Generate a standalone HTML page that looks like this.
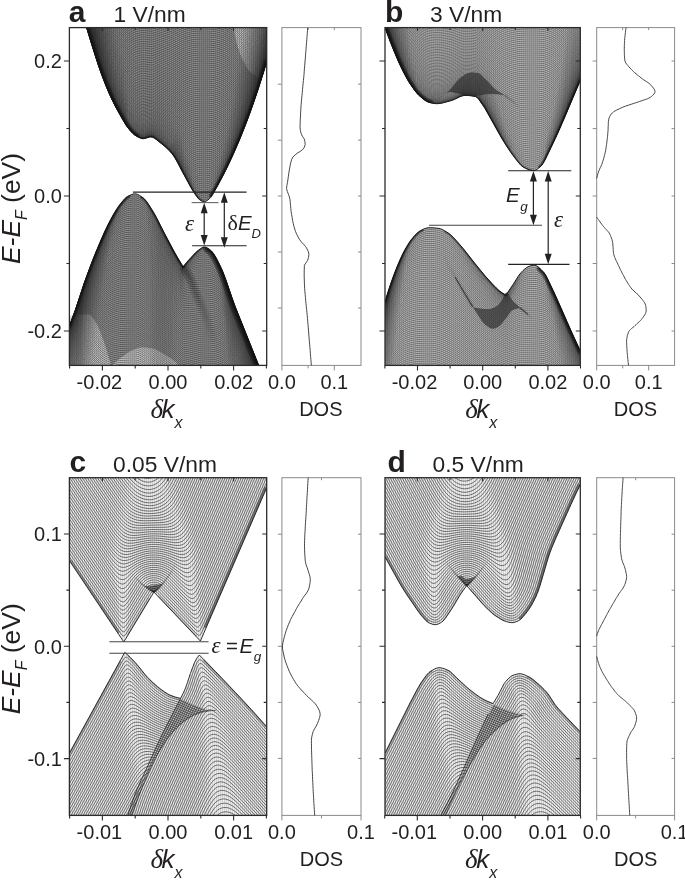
<!DOCTYPE html>
<html><head><meta charset="utf-8"><title>Band structure figure</title>
<style>html,body{margin:0;padding:0;background:#fff}svg{display:block}</style></head>
<body>
<svg width="685" height="880" viewBox="0 0 685 880" font-family="'Liberation Sans', Arial, sans-serif" fill="#231f20">
<defs><clipPath id="cpa"><rect x="69.4" y="27.6" width="197.3" height="337.8"/></clipPath><clipPath id="cpb"><rect x="385.0" y="27.6" width="195.3" height="337.8"/></clipPath><clipPath id="cpc"><rect x="69.4" y="477.7" width="197.3" height="337.7"/></clipPath><clipPath id="cpd"><rect x="385.0" y="477.7" width="195.3" height="337.7"/></clipPath><clipPath id="bp_a_up"><path d="M86.6,27.6L91.6,44 98.6,66 102.6,77.2 106.6,87.4 110.6,96.7 115.6,106.9 122.6,119.5 126.6,126.1 129.6,129.9 132.6,133.2 134.6,135 137.6,136.8 140.6,138.2 141.6,138.5 143.2,138.7 144.6,138.5 149.6,137 150.8,136.9 152.6,137.2 154.6,138.3 156.6,139.7 164.6,146.2 167.6,148.9 169.6,150.9 172.1,153.8 174.6,157.3 177.6,162.6 182.6,172.2 190.6,186.9 192.6,190.4 194.6,193.5 196.6,196.4 198.6,198.9 199.6,199.7 201.6,201 202.6,201.5 203.6,201.7 204.6,201.8 205.6,201.5 207.6,200.3 209.7,198.5 210.6,197.6 212.6,194.7 218.6,184 223.6,174.5 228.6,164.4 233.6,153.5 238.6,142 242.6,132.2 246.6,121.9 250.6,111.1 254.6,99.7 258.6,87.7 262.6,75.2 266.7,61.6 266.7,27.6 86.6,27.6Z"/></clipPath><clipPath id="bp_a_lo"><path d="M69.4,325.7L72.4,318 75.4,309.9 84.4,282.5 91.4,263.5 95.4,253.4 100.4,241.4 104.4,232.3 108.4,223.9 113.4,214.5 117.4,207.9 120.3,203.9 124.4,199.1 126.4,197.2 127.4,196.5 131.4,194.6 133.4,194 134.4,193.8 135.4,193.8 136.4,194 137.4,194.3 139.4,195.3 143.4,198 144.4,198.9 146.4,201.2 149.4,205.6 153.4,212 156.4,217.3 164.4,233.2 174.4,252 178.4,258.9 183.1,266.7 188.4,260.4 195.4,252.8 197.4,251 200.4,248.8 202.4,247.5 203.4,247.1 204.4,247 205.4,247.1 207.4,248 209.4,249.3 211.4,250.9 213.4,253.3 215.4,256.4 217.4,260.1 221.4,268.3 223.4,273 226.4,281.2 232.4,299 234.8,305.6 258.7,365.4 258.7,365.4 69.4,365.4Z"/></clipPath><clipPath id="bp_b_up"><path d="M385,27.6L390,41 395,53.5 399,62.8 403,71.2 407,78.8 410,83.8 415,90.9 417,93.4 419,95.5 424,99.7 427,101.6 429,102.4 431,102.9 434,103.5 436,103.7 439,103.6 442,103.1 451,100.7 454,99.6 460,96.7 462,96 464,95.5 467,95.4 471,95.8 475.5,96.6 476,96.8 477,97.4 478,98.4 479,99.6 485,108.4 502,138.8 508,148.3 512,154.1 518,162 521,165.4 523,166.9 525,168 528,169.4 530,170.1 532,170.5 534,170.5 535,170.3 537,169.3 539,167.8 541,166.1 542,165 544,161.9 546,158.1 553,143.5 558,132.7 565,116.6 573,97.4 580.3,80.4 580.3,27.6 385,27.6Z"/></clipPath><clipPath id="bp_b_lo"><path d="M385,301.9L388,291.9 391,282.9 394,274.5 397.6,265.4 401,257.5 404,251.3 408,244.4 411,239.9 415,235.2 418,232.3 420,230.9 424,228.9 427,227.9 429,227.7 434,227.9 439,228.4 441,229 443,229.9 447.9,232.8 450,234.3 453,237.1 456,240.3 463,248.3 474,262.3 481,270.9 486,276.9 492,283.5 496,287.7 499,290.5 502,292.8 505.9,295.1 513.2,284.3 519,275.1 521,272.7 523,270.6 525,268.8 527,267.3 528,266.8 531,265.7 533,265.3 534,265.2 535,265.3 536,265.6 537,266.1 539,267.6 541,269.5 544,272.6 546,275.6 548,279.5 556,296.6 572,332.9 580.3,350.9 580.3,365.4 385,365.4Z"/></clipPath><clipPath id="bp_c_up"><path d="M69.4,560.6L123.8,642 153.9,592 200.4,641 266.7,487.7 266.7,477.7 69.4,477.7Z"/></clipPath><clipPath id="bp_d_up"><path d="M385,556.8L399,582.1 402.6,588.2 407,595 418,611.1 421,615.1 426,620.7 428,622.3 429,622.9 431,623.7 433,624.4 435,624.7 436,624.7 437,624.4 439,623.7 441.6,622.2 443,621.1 445,618.8 447,616 452,608.5 460,595.1 463,590.7 466.7,585.7 484,605.5 490,611.3 493,614 495,615.5 501,619.3 503,620.4 505.7,621.4 509,622.3 511.9,622.7 514,622.4 516,621.8 518.2,620.9 520,619.8 522,617.9 526,613.2 529,609.1 531,606 533,602.5 535.8,597 538,591.6 540,585.7 548,558.5 550,552.5 552,547.3 556,537.8 571,504.4 576,493.6 580.3,484.7 580.3,477.7 385,477.7Z"/></clipPath><clipPath id="c_lo_A"><path d="M69.4,753.1L124.8,652.3 130.4,657.5 135.4,662.7 138.4,666.2 145.4,674.9 147.4,677.2 150.4,680.2 154.4,684 158.4,687.4 163.4,691.1 166.4,693.1 169.4,694.8 171.4,695.6 179.4,697.9 181.4,698.6 184.4,699.9 192.4,703.8 200.4,706.8 204.4,708.1 209.4,709.3 214.4,710.3 218.3,710.9 215.8,710.4 205.7,711.4 193.2,715.4 180.6,724.2 168,738 155.5,758.1 142.9,785.8 131.6,815.4 69.4,815.4Z"/></clipPath><clipPath id="c_lo_C"><path d="M127.8,815.4L130.8,806.1 133.8,797.5 135.8,792.3 138.8,785.2 146.8,768.1 156.8,745.9 160.8,737.4 183.8,691.9 185.6,687.8 186.8,684.5 189.8,675.3 193.8,664.3 194.8,662 196.8,658.3 197.8,656.8 199.3,655 214.8,670.8 234.8,691.7 251.8,710.1 266.7,726.7 266.7,815.4 127.8,815.4Z"/></clipPath><clipPath id="bp_c_lo"><path d="M69.4,753.1L124.8,652.3 130.4,657.5 135.4,662.7 138.4,666.2 144.4,673.7 147.4,677.2 152.4,682.1 157.4,686.6 160.4,688.9 164.4,691.8 167.4,693.7 169.4,694.8 172.4,696 175.4,697.1 178.4,697.9 180.6,698.3 183.4,692.9 185.6,687.8 187.4,682.7 190.4,673.5 194.4,662.9 195.4,660.8 196.4,659 197.4,657.4 199.3,655 205.4,661.1 215.4,671.4 235.4,692.4 251.4,709.6 266.7,726.7 266.7,815.4 69.4,815.4Z"/></clipPath><clipPath id="d_lo_A"><path d="M385,753.1L410,703 417,689.7 420,684.4 422,681.3 425,677.1 427,674.6 429,672.5 430.3,671.5 434,669.3 436,668.3 437,668 439.1,667.7 442,668.1 445,669 449,670.8 450,671.4 452,673.2 457,678.2 469,689.1 474,693 478,696 481,697.9 484,699.6 503,708.1 511,710.9 516,712.4 520,713.3 526,714.3 530.8,714.9 523.2,715.6 510.7,719.2 498.1,728 485.6,740.6 475.5,755.6 465.5,773.2 455.4,793.3 445.4,815.4 385,815.4Z"/></clipPath><clipPath id="d_lo_C"><path d="M440.8,815.4L447.8,802.3 454.8,787.9 463.8,768.2 480.5,730.5 492.8,704.2 494.8,700.7 498.1,695.3 502.8,686.1 504.8,682.7 506.8,680.3 508.8,678.2 510.8,676.5 511.8,675.9 512.8,675.4 514.8,674.6 517.8,673.9 519.8,673.7 521.8,673.9 524.8,674.9 528.8,676.7 530.8,677.9 533.8,680.1 540.8,686.2 543.8,689.1 545.8,691.3 548.8,695 554.8,704.2 557.8,708 561.8,712.4 580.3,731.8 580.3,815.4 440.8,815.4Z"/></clipPath><clipPath id="bp_d_lo"><path d="M385,753.1L410,703 417,689.7 421,682.8 426,675.8 428,673.5 429,672.5 430.3,671.5 434,669.3 436,668.3 438,667.8 440,667.7 443,668.3 446,669.4 449,670.8 450,671.4 452,673.2 457,678.2 467,687.4 470,689.9 476,694.5 480,697.3 484,699.6 489,702 493.1,703.6 498.1,695.3 504,683.9 505,682.4 506,681.2 508,679 510,677.1 512,675.7 513,675.3 516,674.3 519,673.7 520,673.7 522,674 524,674.6 526,675.5 530,677.4 533,679.5 540,685.5 544,689.4 546,691.5 548,693.9 550,696.8 554,703.1 555.7,705.4 558,708.2 562,712.6 580.3,731.8 580.3,815.4 385,815.4Z"/></clipPath></defs>
<rect width="685" height="880" fill="#fff"/>
<g clip-path="url(#cpa)">
<path d="M86.6,27.6L91.6,44 98.6,66 102.6,77.2 106.6,87.4 110.6,96.7 115.6,106.9 122.6,119.5 126.6,126.1 129.6,129.9 132.6,133.2 134.6,135 137.6,136.8 140.6,138.2 141.6,138.5 143.2,138.7 144.6,138.5 149.6,137 150.8,136.9 152.6,137.2 154.6,138.3 156.6,139.7 164.6,146.2 167.6,148.9 169.6,150.9 172.1,153.8 174.6,157.3 177.6,162.6 182.6,172.2 190.6,186.9 192.6,190.4 194.6,193.5 196.6,196.4 198.6,198.9 199.6,199.7 201.6,201 202.6,201.5 203.6,201.7 204.6,201.8 205.6,201.5 207.6,200.3 209.7,198.5 210.6,197.6 212.6,194.7 218.6,184 223.6,174.5 228.6,164.4 233.6,153.5 238.6,142 242.6,132.2 246.6,121.9 250.6,111.1 254.6,99.7 258.6,87.7 262.6,75.2 266.7,61.6 266.7,27.6 86.6,27.6Z" fill="#a0a0a0"/>
<path d="M233.6,27.6L233.9,29.5 234.2,31.3 234.6,33.1 234.9,35 235.3,36.8 235.7,38.6 236.2,40.5 236.6,42.3 237.1,44.1 237.6,45.9 238.1,47.7 238.7,49.5 239.3,51.3 239.9,53 240.5,54.8 241.2,56.5 242,58.3 242.8,60 243.6,61.7 244.5,63.3 245.4,64.9 246.3,66.6 247.3,68.3 248.4,69.9 249.6,71.3 250.8,72.6 252.2,73.8 253.8,74.8 255.5,75.8 257.2,76.5 259.1,77.2 260.6,77.4 261.7,76.9 262.8,75.8 263.7,74.2 264.6,72.2 265.3,70 265.9,67.7 266.4,65.4 266.6,63.3 266.7,61.3 266.7,59.5 266.7,57.7 266.7,55.9 266.7,54.1 266.7,52.3 266.7,50.4 266.7,48.6 266.7,46.7 266.7,44.8 266.7,43 266.7,41.1 266.7,39.2 266.7,37.3 266.7,35.4 266.7,33.4 266.7,31.5 266.7,29.6 266.7,27.6Z" fill="#dedede"/>
<path d="M86.6 27.5l5 16.5 7 22 4 11.1 4 10.3 4 9.2 5 10.2 7 12.6 4 6.6 3 3.8 3 3.3 2 1.7 3 1.8 3 1.5 2.6 .5 1.4-.2 5-1.5 1.2-.1 1.8 .3 2 1 2 1.5 8 6.4 3 2.7 4.5 4.9 2.5 3.5 3 5.3 5 9.5 7 12.7 4 6.7 3 4.1 2 2.2 3 1.7 2 .5 2-.1 1-.4 2-1.2 2-1.6 2-2.7 5-8.5 5-9.2 5-9.9 5-10.6 5-11.4 4-9.6 5-12.8 4-10.8 8-23.3 8.1-26.2M86.6 27.5l5 16.4 7 22 4 11.1 4 10.2 4 9.3 5 10.1 7 12.6 4 6.6 3 3.8 3 3.3 2 1.7 3 1.8 3 1.5 2.6 .4 1.4-.1 5-1.5 1.2-.1 1.8 .3 2 1 2 1.5 8 6.4 3 2.7 4.5 4.8 2.5 3.6 2 3.3 7 13.2 6 10.6 4 6.4 3 3.8 2 1.9 2 1 2 .6 2 .2 1-.2 2-.7 3-1.9 2-2.4 4-6.3 5-8.9 4-7.7 5-10.2 5-11 5-11.8 5-12.5 4-10.7 9-26.1 8.1-26.1M86.6 27.4l5 16.4 7 21.9 4 11.2 4 10.2 4 9.2 5 10.2 7 12.5 4 6.6 3 3.8 3 3.3 2 1.7 3 1.8 3 1.4 2.6 .5 1.4-.2 5-1.5 1.2-.1 1.8 .3 3 1.7 11 9 5 5.1 3 4.1 3 5.1 6 11.2 5 8.7 3 4.9 2 2.9 3 3.4 2 1.7 2 .8 2 .6 2 .1 3-.7 3-1.7 2-2.1 4-5.9 4-6.8 5-9.3 5-10.2 5-10.9 5-11.7 5-12.5 4-10.7 5-14.1 4-11.9 8.1-26.1M86.6 27.2l5 16.4 7 22 4 11.1 4 10.2 4 9.2 5 10.1 7 12.6 4 6.5 3 3.8 3 3.3 2 1.7 3 1.8 3 1.4 2.6 .5 1.4-.2 5-1.5 1.2-.1 1.8 .3 3 1.7 11 8.9 5 5.1 3 4 3 5.1 6 11 6 10.2 3 4.4 2 2.4 3 2.9 2 1.1 3 .7 2 .1 3-.6 3-1.4 2-1.9 4-5.6 4-6.5 5-9.1 5-10.1 5-10.8 4-9.2 5-12.3 4-10.5 5-13.9 4-11.8 5-15.5 4.1-13.5M86.6 27.1l5 16.4 7 21.9 4 11.1 4 10.2 4 9.2 5 10.1 7 12.5 4 6.5 3 3.8 3 3.2 2 1.7 3 1.8 3 1.4 2.6 .5 1.4-.2 5-1.5 1.2-.1 1.8 .3 3 1.7 11 8.8 5 5.1 3 4 3 5.1 6 10.8 6 9.8 3 4.2 2 2.3 3 2.5 2 1 2 .5 3 .2 3-.5 3-1.2 2-1.8 3-3.7 4-6.1 4-6.8 5-9.5 5-10.4 5-11.3 5-12.1 4-10.2 5-13.7 5-14.6 5-15.5 4.1-13.5M86.6 26.9l5 16.4 7 21.9 4 11.1 4 10.1 4 9.2 5 10.1 7 12.4 4 6.5 3 3.8 3 3.2 2 1.7 3 1.8 3 1.4 2.6 .4 1.4-.1 5-1.5 1.2-.1 1.8 .3 3 1.7 10 7.9 4 3.7 4 4.7 3 4.7 7 12.3 5 8 3 4.3 2 2.3 3 2.7 2 1.1 3 .8 2 .2 2 0 3-.7 2-.8 1-.7 2-2 3-3.7 4-6 4-6.9 5-9.5 5-10.5 5-11.3 5-12.1 4-10.4 5-13.8 4-11.7 5-15.6 4.1-13.4M86.6 26.7l5 16.4 7 21.8 4 11.1 4 10.2 4 9.1 5 10 7 12.5 4 6.4 3 3.7 3 3.3 2 1.6 3 1.8 3 1.4 2.6 .4 1.4-.1 5-1.5 1.2-.1 1.8 .3 3 1.7 10 7.8 4 3.7 4 4.6 3 4.7 7 12.1 5 7.7 3 4.1 2 2.2 3 2.4 2 1.1 2 .5 3 .3 3-.2 2-.4 2-.8 2-1.4 3-3.2 4-5.5 4-6.5 5-9.1 4-8 5-10.9 5-11.7 5-12.7 5-13.5 5-14.5 5-15.5 4.1-13.5M86.6 26.5l5 16.4 7 21.8 4 11 4 10.1 4 9.2 5 10 7 12.3 4 6.4 3 3.7 3 3.2 2 1.7 3 1.8 3 1.3 2.6 .5 1.4-.1 5-1.5 1.2-.1 1.8 .3 3 1.7 10 7.7 4 3.7 4 4.5 3 4.6 7 11.9 5 7.4 3 3.9 2 2 3 2.3 2 .9 2 .5 3.6 .4 3.4-.4 3-.9 1-.6 2-1.6 3-3.4 4-5.4 4-6.5 4-7.2 4-7.9 5-10.8 5-11.6 5-12.6 5-13.5 5-14.5 5-15.4 4.1-13.4M86.6 26.3l5 16.3 7 21.8 4 11 4 10.1 4 9.1 5 9.9 7 12.4 4 6.3 3 3.7 3 3.2 2 1.7 3 1.7 3 1.3 2.6 .5 1.4-.1 5-1.5 1.2-.1 1.8 .3 3 1.7 10 7.6 4 3.6 4 4.6 3 4.4 7 11.7 4 5.7 3 4 2 2.1 2 1.7 3 1.8 2 .7 4 .5 3-.2 4-1 2-1.2 3-2.9 4-4.9 4-6 5-8.7 4-7.8 5-10.6 5-11.6 5-12.5 5-13.4 5-14.4 5-15.4 4.1-13.4M86.6 26l5 16.3 7 21.7 4 11.1 4 10 4 9.1 5 9.9 7 12.2 4 6.3 3 3.7 3 3.2 2 1.6 3 1.8 3 1.3 2.6 .5 1.4-.2 5-1.4 1.2-.1 1.8 .3 3 1.6 10 7.6 4 3.6 4 4.4 3 4.4 7 11.4 4 5.6 3 3.7 2 2.1 2 1.5 3 1.7 2 .6 4 .5 4-.3 3-.8 1-.5 2-1.4 3-3 4-5 4-6 4-6.9 4-7.6 5-10.5 5-11.5 5-12.4 5-13.4 5-14.3 5-15.4 4.1-13.3M86.6 25.8l5 16.2 7 21.7 4 11 4 10 4 9 5 9.9 7 12.2 4 6.2 3 3.7 3 3.1 2 1.7 4 2.2 2 .8 2.6 .5 1.4-.2 5-1.4 1.2-.1 1.8 .3 3 1.6 9 6.7 5 4.3 4 4.4 3 4.4 7 11 4 5.4 3 3.6 2 1.9 2 1.5 3 1.6 2 .5 4 .5 4-.3 3-.7 1-.5 2-1.3 3-2.8 4-4.8 4-5.8 4-6.7 4-7.5 5-10.4 5-11.3 5-12.3 5-13.3 5-14.3 5-15.3 4.1-13.4M86.6 25.5l5 16.2 7 21.6 4 11 4 9.9 4 9 5 9.9 7 12.1 4 6.2 3 3.6 3 3.1 2 1.7 4 2.1 2 .9 2.6 .4 1.4-.1 5-1.4 1.2-.2 1.8 .4 3 1.6 9 6.6 5 4.3 4 4.3 3 4.2 7 10.8 6 7.6 3 2.9 2 1.4 3 1.5 2 .5 4 .4 4-.3 3-.7 1-.4 2-1.2 4-3.7 4-4.8 4-5.9 4-6.8 4-7.5 5-10.4 5-11.5 5-12.4 5-13.4 4-11.5 5-15.2 4.1-13.3M86.6 25.1l5 16.2 7 21.6 4 10.9 4 10 4 8.9 5 9.8 7 12.1 4 6.1 3 3.6 3 3.1 2 1.6 4 2.2 2 .8 2.6 .4 1.4-.1 5-1.4 1.2-.1 1.8 .3 3 1.6 9 6.5 5 4.2 4 4.3 2 2.7 8 12 6 7.3 2 1.9 2 1.5 3 1.7 2 .6 5 .6 4-.3 3-.6 3-1.6 3-2.4 4-4.4 4-5.5 4-6.4 4-7.2 5-10 5-11.1 5-12.2 5-13.1 5-14.2 5-15.2 4.1-13.2M86.6 24.8l5 16.2 7 21.5 4 10.9 4 9.9 4 8.9 5 9.7 7 12 4 6.1 3 3.6 3 3 2 1.6 4 2.1 2 .8 2.6 .5 1.4-.2 5-1.3 1.2-.1 1.8 .3 3 1.5 9 6.5 5 4.1 4 4.2 2 2.7 8 11.7 6 7 2 1.8 2 1.5 3 1.5 2 .7 5 .5 4-.3 3-.5 3-1.5 4-3.3 4-4.5 4-5.5 4-6.5 4-7.2 5-10.1 4-8.9 5-12 5-13.1 5-14.1 5-15.1 4.1-13.2M86.6 24.4l5 16.2 7 21.4 4 10.9 4 9.8 4 8.9 5 9.7 7 11.9 4 6 3 3.6 3 3 2 1.6 4 2.1 2 .8 2.6 .4 1.4-.1 5-1.4 1.2-.1 1.8 .3 3 1.5 9 6.4 5 4.1 4 4.1 10 14 6 6.8 2 1.8 2 1.4 3 1.4 2 .6 5 .5 4-.2 3-.6 3-1.4 4-3.1 4-4.3 4-5.4 4-6.3 4-7.1 5-9.9 4-8.8 5-12 5-12.9 5-14 5-15.1 4.1-13.2M86.6 24l5 16.1 7 21.4 4 10.8 4 9.9 4 8.8 5 9.6 7 11.8 4 6 3 3.5 3 3 2 1.6 4 2.1 2 .7 2.6 .5 1.4-.2 5-1.3 1.2-.1 1.8 .3 3 1.5 8 5.6 5 3.9 4 3.7 3 3.7 7 9.9 6 6.8 3 2.7 2 1.3 3 1.4 2 .5 5 .5 5-.4 3-.7 3-1.6 3-2.4 4-4.1 4-5.2 4-6.1 4-7 5-9.8 4-8.7 5-11.8 5-12.9 5-13.9 5-15 4.1-13.2M86.6 23.6l5 16.1 7 21.3 4 10.8 4 9.8 4 8.8 5 9.5 7 11.7 4 6 3 3.5 3 2.9 2 1.5 4 2.1 2 .8 2.6 .4 1.4-.1 5-1.4 1.2-.1 1.8 .3 3 1.5 8 5.6 5 3.8 4 3.7 3 3.6 7 9.6 2 2.4 4 4.2 3 2.5 2 1.3 3 1.3 2 .5 5 .5 5-.4 3-.6 3-1.6 3-2.2 4-4 4-5 4-6 4-6.8 5-9.7 4-8.6 5-11.7 5-12.8 5-13.8 5-15 4.1-13.1M87.6 26.5l11 34 4 10.7 4 9.7 4 8.8 5 9.5 7 11.6 4 5.9 4 4.5 3 2.7 2 1.3 4 1.8 2 .6 2 .2 2-.4 4-1 2-.1 2 .6 3 1.8 10 6.9 5.5 4.8 3.5 4 8 10.6 3 3.2 3 2.9 2 1.5 2 1.2 3 1.3 2 .5 5 .4 5-.3 3-.7 3.1-1.5 3.9-3 4-4.1 4-5.1 4-6 4-6.9 5-9.8 4-8.6 5-11.9 4-10.2 5-13.8 5-14.9 4.1-13M87.6 26l5 15.8 6 18.1 4 10.7 4 9.7 4 8.7 5 9.4 7 11.5 4 5.9 4 4.4 3 2.7 2 1.3 4 1.8 2 .6 2 .2 2-.4 4-1.1 2 0 2 .6 3 1.8 10 6.8 5.5 4.6 2.5 2.7 9 11.6 3 3.1 3 2.8 2 1.5 2 1.1 3 1.2 2 .5 5 .4 5-.3 3-.6 3.1-1.5 3.9-2.8 4-4 4-5 4-5.9 4-6.7 5-9.7 4-8.5 5-11.7 4-10.2 5-13.7 5-14.8 4.1-12.9M87.6 25.5l5 15.8 6 18 4 10.7 4 9.6 4 8.6 5 9.4 7 11.5 4 5.8 4 4.3 3 2.7 2 1.2 4 1.8 2 .6 2 .2 2-.4 3-.8 2.2-.3 1.8 .3 3 1.4 11 7.4 5.5 4.5 3.5 3.9 7 9 3 3.1 3 2.8 3 2.3 2 1.1 3 1.1 2 .5 5 .4 5-.3 3-.6 3.1-1.4 3.9-2.7 4-3.9 4-4.8 4-5.7 4-6.7 5-9.4 4-8.5 5-11.6 4-10 5-13.7 5-14.7 4.1-12.9M87.6 25l5 15.7 6 18 4 10.6 4 9.6 4 8.6 5 9.3 7 11.3 4 5.8 4 4.3 3 2.6 2 1.2 4 1.8 2 .6 2 .2 2-.4 3-.8 2.2-.3 1.8 .3 3 1.4 11 7.3 5.5 4.4 3.5 3.9 7 8.7 3 3 3 2.7 3 2.2 2 1.1 3 1.1 2 .4 5.6 .4 5.4-.4 3-.8 3-1.5 3-2.1 4-3.7 4-4.7 4-5.6 4-6.6 5-9.3 4-8.3 5-11.5 4-10 5-13.5 5-14.6 4.1-12.9M87.6 24.5l5 15.7 6 17.9 4 10.5 4 9.6 4 8.5 5 9.2 7 11.3 4 5.7 4 4.2 3 2.6 2 1.2 4 1.8 2 .6 2 .1 2-.3 3-.8 2.2-.3 1.8 .2 3 1.4 11 7.2 5.5 4.4 2.5 2.6 8 9.6 3 3 3 2.6 3 2.1 2 1.1 3 1 2 .4 5.6 .4 5.5-.4 2.9-.8 3-1.4 4-2.9 4-3.8 4-4.8 4-5.7 4-6.6 4-7.4 4-8.2 5-11.4 4-9.9 5-13.4 5-14.6 4.1-12.8M87.6 24l5 15.6 6 17.8 4 10.5 4 9.5 4 8.5 5 9.2 7 11.1 4 5.6 4 4.2 3 2.6 2 1.2 4 1.7 2 .6 2 .1 2-.3 3-.8 2.2-.3 1.8 .3 3 1.4 10 6.3 6 4.6 3 2.9 8 9.5 3 2.9 3 2.5 3 2 2 1 3 1 2 .5 5.6 .3 5.5-.4 2.9-.7 3-1.4 4-2.8 4-3.7 4-4.6 4-5.6 4-6.5 4-7.3 4-8.1 5-11.3 4-9.8 5-13.3 5-14.5 4.1-12.8M87.6 23.4l5 15.6 6 17.7 4 10.5 4 9.4 4 8.4 5 9.1 7 11.1 4 5.5 4 4.2 3 2.5 2 1.2 4 1.7 2 .6 2 .1 2-.3 3-.8 2.2-.3 1.8 .3 3 1.4 10 6.2 6 4.5 3 2.9 8 9.2 3 2.8 3 2.5 3 1.9 2 1 3 1 2 .4 5.6 .3 5.5-.4 2.9-.7 3-1.3 4-2.7 4-3.6 4-4.5 4-5.5 4-6.3 4-7.2 4-8 5-11.1 4-9.8 5-13.2 5-14.4 4.1-12.7M88.6 26l10 30 4 10.4 5 11.6 4 8.1 5 8.8 7 10.7 4 5.2 3 3 3 2.4 2 1.2 4 1.7 2 .6 2 .1 2-.3 3-.8 2.2-.3 1.8 .3 3 1.3 10 6.2 6 4.4 3 2.8 8 9 3 2.8 3 2.3 3 1.9 2 1 3 .9 2 .4 5.6 .3 5.5-.4 2.9-.6 3-1.3 4-2.6 4-3.5 4-4.4 4-5.4 4-6.2 4-7.1 4-7.9 5-11 4-9.6 5-13.2 5-14.3 4.1-12.6M88.6 25.4l10 29.9 4 10.3 5 11.5 4 8.1 5 8.7 7 10.6 4 5.1 3 3 3 2.4 2 1.2 4 1.6 2 .6 2 .1 5-1.1 2.2-.3 1.8 .3 3 1.3 10 6.1 6 4.3 3 2.8 8 8.8 3 2.7 3 2.3 3 1.8 2 .9 3 .9 2 .4 5.6 .3 5.5-.4 2.9-.6 4-1.8 4-2.7 4-3.6 4-4.6 4-5.4 4-6.4 4-7.1 4-8 5-11.1 4-9.8 5-13.3 4-11.5 4.1-12.5M88.6 24.8l10 29.7 4 10.3 5 11.4 4 8 5 8.7 7 10.5 4 5 3 3 3 2.4 2 1.1 4 1.7 2 .5 2 .1 5-1 2.2-.3 1.8 .2 3 1.3 10 6 6 4.3 3 2.7 8 8.6 3 2.6 3 2.2 3 1.8 2 .9 3 .8 2 .4 5.6 .3 5.5-.3 2.9-.7 4-1.7 4-2.6 4-3.6 4-4.4 4-5.3 4-6.2 4-7.1 4-7.9 5-11 4-9.7 5-13.2 4-11.4 4.1-12.5M88.6 24.1l10 29.7 4 10.2 5 11.3 4 8 5 8.5 7 10.4 4 5 3 2.9 3 2.4 2 1.1 4 1.7 2 .5 2 .1 5-1.1 2.2-.2 1.8 .2 3 1.3 10 5.9 6 4.2 3 2.7 8 8.4 5 4 3 1.9 2 .9 3 1 3 .6 5.6 .3 5.5-.3 2.9-.6 4-1.7 4-2.6 4-3.4 4-4.3 4-5.3 4-6.1 4-6.9 4-7.8 5-10.9 4-9.6 5-13 4-11.4 4.1-12.4M89.6 26.5l6 17.9 4 11.2 4 9.9 4 8.9 4 7.9 5 8.5 7 10.3 4 4.9 3 2.9 3 2.3 2 1.1 4 1.6 2 .5 2 .2 5-1.1 2.2-.3 1.8 .3 3 1.3 10 5.8 6 4.1 3 2.6 8 8.2 5 3.9 3 1.9 2 .9 3 1 3 .5 5.6 .3 5.5-.3 2.9-.6 4-1.6 4-2.5 4-3.3 4-4.3 4-5.1 4-6 4-6.8 4-7.7 5-10.8 4-9.5 5-13 4-11.2 4.1-12.4M89.6 25.8l6 17.9 4 11.1 4 9.8 4 8.9 4 7.8 5 8.4 7 10.2 4 4.9 3 2.8 3 2.3 2 1.1 4 1.6 2 .5 2 .1 5-1 2.2-.3 1.8 .2 3 1.3 10 5.7 6 4 3 2.6 8 8 5 3.9 3 1.7 2 .9 3 1 3 .5 5.6 .3 5.5-.3 2.9-.6 4-1.6 4-2.4 4-3.2 4-4.1 4-5.1 4-5.8 4-6.8 4-7.6 5-10.6 4-9.4 5-12.9 4-11.2 4.1-12.3M89.6 25.1l6 17.8 4 11 4 9.8 4 8.8 4 7.7 5 8.4 7 10.1 4 4.8 3 2.8 3 2.2 2 1.1 4 1.6 2 .5 2 .1 5-1 2.2-.3 1.8 .3 3 1.2 10 5.6 6 4 3 2.5 8 7.9 5 3.7 3 1.7 2 .9 3 .9 3 .5 5.6 .3 5.5-.3 2.9-.5 4-1.6 4-2.3 4-3.2 4-4 4-4.9 4-5.8 4-6.7 4-7.4 5-10.6 4-9.3 5-12.8 4-11.1 4.1-12.2M89.6 24.4l6 17.6 4 11.1 4 9.6 4 8.8 4 7.7 5 8.2 7 10 4 4.8 3 2.7 3 2.3 2 1 4 1.6 2 .5 2 .1 5-1 2.2-.3 1.8 .3 3 1.2 11 6.1 5 3.3 3 2.5 8 7.7 5 3.6 3 1.7 2 .8 3 .9 3 .5 6 .3 6-.4 3-.7 4-1.7 4-2.5 4-3.3 4-4.2 4-5 4-5.9 4-6.7 4-7.6 4-8.4 4-9.3 5-12.7 4-11 4.1-12.2M89.6 23.6l6 17.6 4 11 4 9.6 4 8.7 4 7.6 5 8.2 7 9.9 4 4.7 3 2.7 3 2.2 2 1 4 1.6 2 .4 2 .2 5-1 2.2-.3 1.8 .3 3 1.2 11 6 5 3.2 3 2.4 8 7.6 5 3.5 3 1.7 2 .8 3 .8 3 .6 6 .2 6-.4 3-.7 4-1.6 4-2.5 4-3.2 4-4 4-5 4-5.8 4-6.6 4-7.5 4-8.3 4-9.2 5-12.6 4-10.9 4.1-12.1M90.6 25.8l6 17.4 3 8 5 11.8 4 8.4 4 7.3 5 7.9 6 8.3 4 4.6 3 2.7 3 2.2 2 1 4 1.5 2 .5 2 .1 5-1 2.2-.2 1.8 .2 3 1.2 11 5.9 5 3.2 3 2.4 8 7.4 5 3.4 3 1.6 2 .8 3 .9 3 .5 6 .2 6-.4 3-.7 4-1.6 4-2.3 4-3.2 4-4 4-4.8 4-5.7 4-6.5 4-7.4 4-8.3 4-9 5-12.5 4-10.9 4.1-12M90.6 25l6 17.3 3 8 4 9.5 4 8.5 4 7.5 5 8.1 7 9.7 4 4.6 3 2.6 3 2.1 2 1.1 4 1.4 2 .5 2 .1 7.2-1.2 1.8 .3 3 1.1 11 5.8 5 3.2 3 2.3 8 7.3 5 3.3 3 1.6 2 .8 3 .8 3 .5 6 .2 6-.4 3-.6 4-1.6 4-2.3 4-3.1 4-3.9 4-4.7 4-5.6 4-6.5 4-7.3 4-8.1 4-9 5-12.3 4-10.9 4.1-11.9M90.6 24.2l6 17.2 3 7.9 4 9.5 4 8.5 4 7.4 5 8 7 9.5 4 4.6 3 2.6 3 2.1 2 1 4 1.5 2 .4 2 .2 7.2-1.2 1.8 .2 3 1.1 11 5.8 5 3 3 2.3 8 7.1 5 3.3 3 1.5 2 .8 3 .8 3 .5 6 .2 6-.4 3-.6 4-1.5 4-2.3 4-3 4-3.8 4-4.7 4-5.5 4-6.3 4-7.2 4-8.1 4-8.8 5-12.3 4-10.8 4.1-11.8M91.6 26.3l5 14.1 3 8 5 11.5 4 8.2 4 7.1 5 7.7 6 8 4 4.5 3 2.5 3 2.1 2 1 4 1.5 2 .4 2 .1 7.2-1.1 1.8 .2 3 1.1 11 5.7 5 3 3 2.3 8 6.9 5 3.2 3 1.5 2 .8 3 .7 3 .5 6 .2 6-.4 3-.6 4-1.5 4-2.2 4-2.9 4-3.7 4-4.6 4-5.4 4-6.3 4-7.1 4-7.9 4-8.8 5-12.2 4-10.7 4.1-11.8M91.6 25.4l5 14.1 3 7.9 5 11.5 4 8.1 4 7 5 7.6 6 7.9 4 4.5 3 2.5 3 2.1 2 .9 4 1.5 2 .4 2 .1 7.2-1.1 1.8 .2 2 .7 11 5.4 5 2.9 4 2.9 8 6.8 5 3.1 3 1.5 2 .7 3 .7 3 .5 6 .2 6-.3 3-.7 4-1.4 4-2.1 4-2.9 4-3.7 4-4.5 5-6.8 4-6.3 4-7.3 4-8 4-9 4-9.7 4-10.6 4.1-11.7M91.6 24.5l5 14 3 7.8 5 11.5 4 8 4 7 5 7.5 6 7.8 4 4.4 3 2.5 3 2.1 2 .9 4 1.4 2 .5 2 .1 7.2-1.2 1.8 .3 2 .6 11 5.4 5 2.8 4 2.8 8 6.7 5 3.1 3 1.4 2 .7 3 .8 3 .4 6 .2 6-.3 3-.6 4-1.5 5-2.7 4-3 4-3.8 4-4.6 4-5.4 4-6.3 4-7.2 4-7.9 4-8.9 4-9.6 4-10.6 4.1-11.6M92.6 26.4l5 13.8 2.9 7.3 4.1 9.1 4 8 4 6.9 5 7.5 6 7.7 4 4.4 3 2.4 3 2 2 1 4 1.4 2 .4 2 .1 7.2-1.1 1.8 .2 2 .7 11 5.3 5 2.7 3 2 9 7.4 5 3 3 1.4 2 .7 3 .7 3 .4 6 .2 6-.3 3-.6 4-1.4 5-2.7 4-2.9 4-3.7 4-4.6 4-5.3 4-6.2 4-7.1 4-7.9 4-8.7 4-9.6 4-10.4 4.1-11.6M93 26.6l4.6 12.6 2.9 7.2 4.1 9.1 4 7.9 4 6.9 5 7.3 6 7.7 4 4.3 3 2.4 3 2 2 1 4 1.3 2 .4 2 .2 7.2-1.1 1.8 .2 2 .6 11 5.2 5 2.8 3 1.9 9 7.2 5 2.9 3 1.4 3 1 3 .6 3 .3 6 .1 5-.3 4-.9 4-1.5 4-2.1 4-2.9 4-3.7 4-4.4 4-5.3 4-6.1 4-7 4-7.8 4-8.7 4-9.5 4-10.3 4.1-11.5M93 25.6l4.6 12.5 2.9 7.2 4.1 9.1 4 7.8 4 6.8 5 7.3 6 7.6 4 4.2 3 2.4 3 2 2 .9 4 1.3 2 .5 2 .1 7.2-1.1 1.8 .2 2 .6 11 5.2 5 2.7 3 1.9 9 7 5 2.9 3 1.3 2 .7 3 .7 3 .4 6 .2 6-.3 3-.6 4-1.3 5-2.5 4-2.9 4-3.6 4-4.3 4-5.2 4-6.1 4-6.8 4-7.7 4-8.6 4-9.4 4-10.3 4.1-11.5M93.6 26.3l4 10.8 3 7.3 5 10.8 4 7.6 4 6.5 4 5.6 6 7.5 4 4.2 3 2.4 3 1.9 2 .9 4 1.4 2 .4 2 .1 7.2-1.1 1.8 .2 2 .6 11 5.1 5 2.6 3 1.9 9 7 5 2.8 3 1.3 3 .9 3 .6 3 .3 6 .1 5-.3 4-.8 4-1.5 4-2 4-2.8 4-3.5 4-4.3 4-5.2 4-5.9 4-6.8 4-7.6 4-8.5 4-9.4 4-10.2 4.1-11.3M93.6 25.3l4 10.7 3 7.3 5 10.7 4 7.5 4 6.4 4 5.6 6 7.5 4 4.1 3 2.3 3 1.9 2 .9 4 1.3 2 .5 2 .1 7.2-1.1 1.8 .2 2 .6 11 5 5 2.6 3 1.9 9 6.8 5 2.8 3 1.2 3 .9 3 .6 3 .3 6 .1 5-.3 4-.8 4-1.4 4-2 4-2.8 4-3.4 4-4.3 4-5 4-5.9 4-6.7 4-7.5 4-8.4 4-9.3 4-10.1 4.1-11.3M93.6 24.3l4 10.6 3 7.3 5 10.6 4 7.4 4 6.4 4 5.6 6 7.3 4 4.1 3 2.3 3 1.9 2 .9 4 1.2 2 .4 2 .2 7.2-1.1 1.8 .2 2 .6 11 4.9 5 2.6 3 1.8 9 6.7 5 2.7 3 1.3 3 .8 3 .6 3 .3 6 .1 5-.3 4-.8 4-1.4 5-2.6 4-2.8 4-3.6 4-4.3 4-5.2 4-6 4-6.8 4-7.7 4-8.5 4-9.4 7.1-18.9M94.6 25.9l4 10.4 3 6.9 4 8.4 4 7.3 4 6.3 5 6.8 6 7.1 3.5 3.3 3.5 2.6 2 1.2 2.1 .9 4.9 1.4 3 .3 7.2-1 1.8 .2 2 .6 11 4.8 5 2.5 3 1.8 9 6.6 5 2.7 3 1.2 3 .9 4 .6 3 .2 6 .1 5-.4 4-.9 4-1.5 4-2.2 4-2.8 4-3.5 4-4.3 4-5 4-6 4-6.7 4-7.6 4-8.5 4-9.3 7.1-18.7M94.6 24.8l4 10.4 3 6.9 4 8.2 4 7.3 4 6.3 5 6.7 6 7 3.5 3.3 3.5 2.5 2 1.2 2.1 .9 4.9 1.4 3 .3 7.2-1 1.8 .2 2 .5 11 4.8 5 2.5 3 1.8 9 6.4 5 2.6 3 1.2 3 .9 4 .6 3 .2 6 .1 5-.4 4-.9 4-1.5 4-2.1 4-2.7 4-3.5 4-4.2 4-5 4-5.8 4-6.7 4-7.5 4-8.4 4-9.2 4-10.1 3.1-8.5M95.6 26.4l4 10 3 6.6 4 8 4 6.9 4 6 5 6.4 5 5.8 2 1.9 2 1.7 3 2.1 3 1.6 6 1.9 3 .2 7.2-1 1.8 .2 2 .6 11 4.7 5 2.4 3 1.8 9 6.3 5 2.6 3 1.2 3 .8 4 .6 4 .3 5 0 5-.4 5-1.2 4-1.6 4-2.2 4-2.8 4-3.6 4-4.4 4-5.1 4-6 4-6.8 3-5.6 4-8.3 4-9.2 4-10 3.1-8.4M95.6 25.3l4 9.9 3 6.6 4 7.9 4 6.9 4 5.9 5 6.4 5 5.6 2 2 2 1.6 3 2.1 3 1.6 6 1.8 3 .3 7.2-1 1.8 .2 2 .5 11 4.7 5 2.4 3 1.7 9 6.2 5 2.6 3 1.1 3 .8 4 .6 4 .3 5 0 5-.4 5-1.2 4-1.5 4-2.2 4-2.8 4-3.5 4-4.3 4-5.1 4-5.9 4-6.7 3-5.6 4-8.2 4-9.1 4-9.9 3.1-8.3M95.6 24.1l4 9.9 3 6.5 4 7.8 4 6.9 4 5.8 5 6.4 5 5.6 2 1.9 2 1.6 3 2 3 1.6 6 1.8 3 .3 7.2-1 1.8 .2 2 .6 11 4.5 5 2.4 3 1.7 9 6.1 5 2.5 3 1.1 3 .8 4 .6 4 .3 5 0 5-.4 5-1.1 4-1.6 4-2.1 4-2.8 4-3.4 4-4.2 4-5 4-5.8 4-6.7 3-5.5 4-8.2 4-9 4-9.8 3.1-8.3M96.6 25.5l3 7.3 4 8.5 4 7.5 4 6.5 5 6.9 5 5.9 4 4.3 4 3.2 3 1.9 2 1 6 1.7 3 .3 7.2-1 1.8 .2 2 .6 11 4.5 5 2.3 3 1.7 9 6 6 2.9 3 1 4 .8 3 .3 5 .2 6-.2 3-.3 5-1.3 4-1.7 4-2.2 4-2.9 4-3.6 4-4.3 4-5.2 4-5.9 4-6.8 3-5.6 4-8.3 3-6.8 4-9.8 3.1-8.2M96.6 24.4l3 7.2 4 8.4 4 7.5 4 6.4 5 6.8 5 5.9 4 4.2 4 3.2 3 1.8 2 1 6 1.7 3 .3 7.2-1 1.8 .2 2 .6 11 4.4 5 2.3 3 1.7 9 5.9 6 2.8 3 1 4 .8 3 .3 5 .2 6-.2 3-.3 5-1.3 4-1.6 4-2.2 4-2.9 4-3.5 4-4.3 4-5 4-5.9 4-6.7 3-5.6 4-8.2 3-6.7 4-9.7 3-7.9M97.6 25.6l2.9 6.7 4.1 8.3 4 7.2 4 6.1 5 6.6 6 6.7 3 2.9 4 2.9 4 2.1 6 1.7 3 .3 7.2-.9 1.8 .1 2 .6 11 4.4 5 2.2 3 1.7 9 5.8 6 2.7 3 1 4 .8 3 .3 6 .2 6-.3 3-.4 5-1.4 4-1.7 4-2.4 4-2.9 4-3.7 3-3.2 4-5 4-5.8 4-6.6 3-5.5 4-8.2 3-6.6 4-9.7 3-7.8M97.6 24.4l2.9 6.6 4.1 8.3 4 7.1 3 4.6 5 6.7 5 5.8 4 4.1 4 3.1 3 1.8 2 .9 6 1.7 3 .3 7.2-.9 1.8 .1 2 .6 11 4.3 5 2.2 3 1.6 9 5.8 6 2.7 3 .9 4 .8 3 .3 5 .2 6-.2 3-.3 5-1.2 4-1.6 4-2.1 4-2.8 4-3.4 3-3.1 4-4.7 4-5.5 4-6.3 3-5.4 4-7.8 3-6.4 4-9.4 3-7.6M98.6 25.5l3 6.5 4 7.8 3 5.2 4 6 5 6.4 6 6.6 3 2.8 4 2.9 4 2 6 1.7 3 .3 7.2-.9 1.8 .1 2 .6 11 4.2 5 2.2 3 1.6 9 5.7 6 2.6 3 1 4 .7 3 .3 6 .2 6-.2 3-.5 5-1.3 4-1.7 4-2.2 4-2.9 4-3.6 3-3.1 4-4.9 3-4.1 4-6.3 3-5.3 4-7.7 3-6.4 4-9.3 3-7.5M99.6 26.5l3 6.2 4 7.5 3 4.9 4 5.8 4 5 6 6.5 3 2.8 4 2.8 4 2 6 1.7 3 .2 7.2-.9 1.8 .2 2 .5 11 4.3 5 2.1 3 1.6 9 5.5 6 2.7 3 .9 4 .7 3 .3 5.6 .2 5.5-.2 3.9-.5 4-1 4-1.5 4-2 4-2.7 4-3.3 3-3 4-4.6 3-4 4-6 3-5 4-7.5 3-6.1 4-9 3-7.4M99.6 25.2l3 6.2 4 7.4 3 4.9 4 5.7 4 4.9 6 6.5 3 2.7 4 2.8 4 2 6 1.7 3 .2 7.2-.9 1.8 .2 2 .5 11 4.2 5 2.1 3 1.5 9 5.5 6 2.6 3 .9 4 .8 3 .3 5.6 .1 5.5-.2 3.9-.5 4-.9 4-1.5 4-2.1 4-2.6 4-3.3 3-2.9 4-4.5 3-4 4-5.9 3-5 4-7.4 3-6.1 4-8.9 3-7.2M100.6 26l4 7.8 3 5.2 3 4.7 4 5.5 4 4.7 6 6.2 3 2.5 4 2.6 2 1 2 .8 4 1 2 .4 3 0 6-.8 3 .4 12 4.4 5 2.1 3 1.5 9 5.4 6 2.5 3 .9 4 .8 3 .3 5.6 .1 5.5-.2 3.9-.4 4-1 4-1.5 4-2 4-2.6 4-3.2 3-2.9 4-4.5 3-3.8 4-5.9 3-4.9 4-7.3 3-6.1 6-13.6M100.6 24.7l4 7.7 3 5.2 3 4.6 4 5.4 4 4.7 6 6.2 3 2.5 4 2.5 2 1 2 .7 4 1.1 2 .3 3 0 6-.8 3 .4 12 4.4 5 2.1 3 1.4 9 5.4 6 2.5 3 .8 4 .8 3 .3 5.6 .1 5.5-.2 3.9-.4 4-1 4-1.4 4-2 4-2.5 4-3.2 3-2.9 4-4.4 3-3.8 4-5.8 3-4.9 4-7.2 3-6 6-13.5M101.6 25.3l4 7.5 3 4.9 3 4.5 4 5.1 4 4.5 5 5 3 2.5 4 2.5 4 1.7 4 1 2 .4 3 0 6-.8 3 .4 12 4.3 5 2 3 1.5 9 5.2 6 2.5 3 .9 4 .7 3 .3 5.6 .1 5.5-.2 2.9-.3 4-.8 4-1.3 4-1.8 4-2.3 4-3 3-2.7 4-4.2 3-3.6 4-5.5 3-4.7 4-7 3-5.8 6-13M102.6 25.9l3 5.4 3 5 3 4.3 4 5.1 4 4.5 5 4.9 3 2.5 4 2.4 4 1.7 4 1.1 2 .3 3 0 6-.7 3 .3 12 4.3 5 2 3 1.4 9 5.2 6 2.4 3 .9 4 .7 3 .3 6 .1 6-.2 3-.4 4-.9 4-1.4 4-1.9 3-1.8 4-3 3-2.6 4-4.2 3-3.5 4-5.5 3-4.6 4-6.9 3-5.8 6-12.9M103.6 26.3l3 5.3 3 4.7 3 4.1 4 4.9 5 5.3 4 3.7 2.5 1.9 4.5 2.6 3 1.2 4 1 2 .3 3 .1 6-.8 3 .4 12 4.1 5 2 3 1.5 9 5.1 6 2.4 3 .8 4 .7 3 .3 6 .1 6-.2 3-.4 4-.9 4-1.4 4-1.9 3-1.7 4-2.9 3-2.7 4-4 3-3.6 3-4 3-4.4 4-6.6 3-5.5 6-12.5M103.6 24.9l3 5.2 3 4.7 3 4.1 4 4.8 5 5.2 4 3.8 2.5 1.8 3.5 2.1 4 1.6 4 1.1 2 .3 3 0 6-.8 3 .4 12 4.1 5 2 3 1.4 8 4.5 6 2.6 4 1.1 3 .6 4 .4 5 .1 6-.1 3-.3 4-.8 4-1.3 4-1.7 3-1.6 4-2.7 3-2.5 4-3.8 3-3.4 3-3.8 3-4.2 4-6.4 3-5.3 6-12M104.6 25.2l3 5 3 4.5 3 3.9 4 4.6 5 5 3 2.8 2.5 1.8 4.5 2.5 3 1.2 6 1.3 3 0 6-.7 3 .3 12 4.1 5 2 3 1.3 9 5 6 2.3 3 .8 4 .7 3 .3 6 .1 5.1-.2 2.9-.2 4-.8 4-1.2 4-1.7 3-1.6 4-2.7 3-2.4 4-3.8 3-3.4 3-3.7 3-4.2 4-6.3 3-5.2 6-12M105.6 25.5l3 4.7 3 4.3 3 3.7 4 4.4 7 6.6 2.5 1.9 4.5 2.5 3 1.1 6 1.3 3 0 6-.7 3 .3 12 4.1 5 1.9 3 1.4 9 4.9 6 2.2 3 .8 4 .7 3 .3 5.6 .1 5.5-.2 2.9-.2 4-.8 4-1.2 4-1.7 3-1.6 4-2.6 3-2.4 4-3.7 3-3.3 3-3.7 3-4.2 3-4.5 3-5.1 6-11.5M106.6 25.6l3 4.6 3 4 3 3.6 4 4.2 4 3.8 3 2.5 3 1.9 3 1.6 3 1.1 6 1.3 3 0 6-.7 3 .4 12 3.9 5 1.9 3 1.4 9 4.8 6 2.3 3 .8 4 .6 3 .3 5.6 .1 5.5-.1 2.9-.3 4-.8 3-.8 4-1.5 3-1.5 4-2.5 3-2.2 4-3.6 3-3.1 3-3.5 3-3.9 3-4.4 3-4.9 6-11.1M107.6 25.7l3 4.3 3 3.8 6 6.5 4 3.8 3 2.5 3 1.9 3 1.5 3 1.2 6 1.2 3 0 6-.7 3 .4 12 3.9 5 1.9 3 1.3 8 4.3 6 2.4 4 1.1 3 .5 4 .4 5 .1 8-.3 3.1-.5 3.9-.9 4-1.4 3-1.3 4-2.3 3-2.1 4-3.3 3-3 3-3.3 3-3.8 3-4.2 3-4.6 6-10.7M108.6 25.6l3 4.1 3 3.7 4 4.3 4 3.8 3 2.6 2 1.4 3 1.8 3 1.4 4 1.2 4 .7 3 0 6-.7 3 .4 12 3.9 5 1.8 3 1.3 9 4.7 6 2.2 3 .8 4 .6 3 .3 6 .1 8-.4 4-.7 3-.9 4-1.4 3-1.5 4-2.4 3-2.1 3-2.6 3-2.9 3-3.3 3-3.7 3-4.2 3-4.6 6-10.6M109.6 25.5l3 3.9 3 3.5 4 4.1 4 3.7 4 3.1 3 1.7 3 1.4 4 1.2 4 .7 3 0 6-.7 3 .4 12 3.8 5 1.8 3 1.3 9 4.7 6 2.1 3 .8 4 .6 3 .3 6 .1 8-.4 4-.7 3-.8 4-1.5 3-1.4 3-1.7 3-2.1 3-2.4 3-2.7 3-3.1 3-3.6 3-3.9 3-4.4 6-10.2M111.6 26.6l3 3.5 3 3.2 7 6.5 3.5 2.5 3.5 1.9 2 .9 4 1.2 4 .7 3 0 6-.7 3 .4 12 3.8 5 1.8 3 1.3 9 4.5 6 2.2 4 .9 4 .5 9 .3 7-.4 4-.7 3-.8 4-1.5 3-1.4 3-1.6 3-2.1 3-2.3 3-2.7 3-3.1 3-3.5 3-3.9 3-4.4 5-8.3M112.6 26.2l5 5.5 7 6.4 3.5 2.5 5.5 2.7 4 1.2 4 .7 3 0 6-.7 3 .4 12 3.7 5 1.8 3 1.3 9 4.5 6 2.1 3 .7 4 .6 3 .3 6 .1 7-.3 3.1-.4 3.9-.9 4-1.3 3-1.3 3-1.6 3-1.8 3-2.3 3-2.5 3-3 3-3.3 3-3.7 3-4.2 5-7.9M113.6 25.7l5 5.3 6 5.3 3.5 2.5 5.5 2.7 4 1.2 4 .7 3 0 6-.7 3 .3 12 3.8 5 1.7 3 1.3 8 4 6 2.2 4 1 3 .5 4 .4 5.6 .1 7.4-.3 3.1-.4 3.9-.9 4-1.3 3-1.2 3-1.6 3-1.9 3-2.1 3-2.6 5-5 3-3.6 3-4 5-7.6M115.6 26.3l5 4.8 5 4.3 2 1.3 3 1.7 4 1.7 5 1.2 3 .3 2 0 6-.7 3 .3 12 3.7 5 1.7 3 1.3 9 4.4 6 2 3 .8 4 .5 3 .3 6 .1 7-.3 3.1-.4 3.9-.9 6-2 3-1.5 3-1.7 3-2.1 3-2.3 5-4.8 3-3.4 3-3.8 5-7.3M116.6 25.6l6 5.6 4 3.1 4 2.3 4 1.7 5 1.2 3 .3 2 0 6-.7 3 .3 12 3.6 5 1.8 3 1.2 8 3.9 6 2.2 4 1 3 .4 4 .4 5.6 .1 7.4-.3 3.1-.4 3.9-.8 6-2.1 3-1.4 3-1.7 3-2 3-2.4 5-4.7 5-5.8 5-7M118.6 25.9l5 4.4 3 2.2 4 2.3 4 1.7 5 1.1 3 .4 2-.1 6-.6 3 .3 12 3.6 5 1.7 3 1.2 8 3.9 6 2.1 4 1 3 .4 4 .4 5 .1 8-.3 5-.7 6-1.8 3-1.2 3-1.5 3-1.8 3-2.1 5-4.2 5-5.4 5-6.4M120.6 25.9l4 3.4 3 2.1 4 2.1 3 1.1 5 1.2 3 .3 2 0 6-.7 3 .3 12 3.6 5 1.7 3 1.2 8 3.8 6 2.1 4 1 3 .5 4 .3 5.6 .1 7.4-.3 6-.9 6-1.9 5-2.3 5-3.1 5-4.1 5-5 5-6.2M122.6 25.9l3 2.4 2.5 1.6 4.5 2.2 3 1 4 .9 3 .3 2-.1 6-.6 3 .3 12 3.5 5 1.7 3 1.2 8 3.8 6 2 4 1 3 .5 4 .3 5.6 .1 7.4-.3 5-.7 6-1.7 5-2.1 5-2.9 5-3.8 5-4.8 5-5.9M125.6 26.5l2.5 1.6 4.5 2.2 2 .7 4 .9 4.6 .6 6.4-.7 2 0 4 .8 15 4.6 3 1.2 9 4.1 7 2.2 3 .6 4 .5 7.6 .2 6.4-.2 5-.6 6-1.5 5-2 5-2.7 5-3.6 5-4.5 4-4.4M128.6 26.6l3 1.4 3 1.2 6 1.2 3 .2 7.2-.7 3.8 .6 16 4.8 3 1.2 9 4.1 7 2.1 3 .6 4 .5 8 .2 7-.2 5-.8 5-1.3 5-1.9 5-2.7 4-2.8 5-4.3 4-4.1M131.6 26.2l4 1.4 6 1.1 3 0 6-.6 3 .3 12 3.4 5 1.6 3 1.1 8 3.7 6 2 4 .9 3 .5 4 .3 5.6 .1 6.4-.2 4.1-.4 4.9-1.1 5-1.6 5-2.4 4-2.4 5-3.9 4-3.8M139.6 26.6l3.6 .3 4.4-.4M153.6 26.5l16 4.7 4 1.4 9 4 6 1.9 3 .7 4 .5 9 .3 6-.2 4-.4 5-1.1 4-1.2 5-2.2 4-2.3 4-2.8 4-3.5M159.6 26.4l7 1.9 5 1.6 10 4.4 6 2 4 .9 3 .4 4 .3 5.6 .1 5.5-.1 3.9-.4 5-.9 4-1.1 4-1.6 4-2 4-2.5 4-3.1M166.6 26.4l6 2 10 4.3 6 1.8 3 .7 4 .5 9 .3 6-.2 3-.3 4-.6 4-1.1 4-1.4 4-1.9 4-2.4 3-2.1M172.6 26.5l10 4.3 6 1.8 3 .6 4 .5 9 .3 8-.3 4-.6 4-1 4-1.3 3-1.2 3-1.6 3-1.8M176.6 26.3l7 2.8 7 1.9 6 .8 8 .2 7-.2 7-1.1 6-1.8 6-2.8M181.6 26.5l6 1.8 5 1.1 5 .5 6.6 .1 6.4-.2 5-.5 5-1.1 5-1.7M188.6 26.6l3 .6 4 .5 9 .3 8-.3 7-1.2" fill="none" stroke="#2a2a2a" stroke-opacity="0.62" stroke-width="0.9" stroke-linejoin="round"/>
<path d="M87.4 30.3V27.6M89.4 36.9V27.6M91.4 43.4V27.6M93.4 49.8V27.6M95.4 56.1V27.6M97.4 62.4V27.6M99.4 68.4V27.6M101.4 74V27.6M103.4 79.3V27.6M105.4 84.5V27.6M107.4 89.4V27.6M109.4 94V27.6M111.4 98.4V27.6M113.4 102.6V27.6M115.4 106.5V27.6M117.4 110.3V27.6M119.4 113.9V27.6M121.4 117.4V27.6M123.4 120.9V27.6M125.4 124.2V27.6M127.4 127.2V27.6M129.4 129.7V27.6M131.4 132V27.6M133.4 134V27.6M135.4 135.5V27.6M137.4 136.7V27.6M139.4 137.7V27.6M141.4 138.5V27.6M143.4 138.7V27.6M145.4 138.3V27.6M147.4 137.7V27.6M149.4 137.1V27.6M151.4 136.9V27.6M153.4 137.6V27.6M155.4 138.8V27.6M157.4 140.4V27.6M159.4 142.1V27.6M161.4 143.7V27.6M163.4 145.2V27.6M165.4 146.9V27.6M167.4 148.7V27.6M169.4 150.7V27.6M171.4 153V27.6M173.4 155.5V27.6M175.4 158.7V27.6M177.4 162.2V27.6M179.4 166V27.6M181.4 169.9V27.6M183.4 173.7V27.6M185.4 177.3V27.6M187.4 181V27.6M189.4 184.8V27.6M191.4 188.4V27.6M193.4 191.7V27.6M195.4 194.7V27.6M197.4 197.5V27.6M199.4 199.6V27.6M201.4 200.9V27.6M203.4 201.7V27.6M205.4 201.6V27.6M207.4 200.4V27.6M209.4 198.8V27.6M211.4 196.5V27.6M213.4 193.3V27.6M215.4 189.8V27.6M217.4 186.2V27.6M219.4 182.5V27.6M221.4 178.7V27.6M223.4 174.9V27.6M225.4 170.9V27.6M227.4 166.9V27.6M229.4 162.7V27.6M231.4 158.4V27.6M233.4 154V27.6M235.4 149.5V27.6M237.4 144.9V27.6M239.4 140.1V27.6M241.4 135.2V27.6M243.4 130.2V27.6M245.4 125.1V27.6M247.4 119.8V27.6M249.4 114.4V27.6M251.4 108.9V27.6M253.4 103.2V27.6M255.4 97.4V27.6M257.4 91.4V27.6M259.4 85.3V27.6M261.4 79V27.6M263.4 72.6V27.6M265.4 66V27.6" fill="none" stroke="#222" stroke-opacity="0.5" stroke-width="0.5" stroke-linejoin="round"/>
<path d="M86.6 27.6l5 16.4 7 22 4 11.2 4 10.2 4 9.3 5 10.2 7 12.6 4 6.6 3 3.8 3 3.3 2 1.8 3 1.8 3 1.4 1 .3 1.6 .2 1.4-.2 5-1.5 1.2-.1 1.8 .3 2 1.1 2 1.4 8 6.5 3 2.7 2 2 2.5 2.9 2.5 3.5 3 5.3 5 9.6 8 14.7 2 3.5 2 3.1 2 2.9 2 2.5 1 .8 2 1.3 1 .5 1 .2 1 .1 1-.3 2-1.2 2.1-1.8 .9-.9 2-2.9 6-10.7 5-9.5 5-10.1 5-10.9 5-11.5 4-9.8 4-10.3 4-10.8 4-11.4 4-12 4-12.5 4.1-13.6" fill="none" stroke="#1c1c1c" stroke-opacity="1" stroke-width="1" stroke-linejoin="round"/>
<g clip-path="url(#bp_a_up)"><path d="M86.6 27.6l6 19.6 7 21.8 3 8.2 3 7.8 5 11.7 3 6.3 3 5.8 6 10.7 3 5.1 2 2.9 4 4.7 2 2 2.4 1.7" fill="none" stroke="#111" stroke-opacity="0.40" stroke-width="7.0" stroke-linecap="round" stroke-linejoin="round"/><path d="M86.6 27.6l6 19.6 7 21.8 3 8.2 3 7.8 5 11.7 3 6.3 3 5.8 6 10.7 3 5.1 2 2.9 4 4.7 2 2 2.4 1.7" fill="none" stroke="#111" stroke-opacity="0.48" stroke-width="4.2" stroke-linecap="round" stroke-linejoin="round"/><path d="M86.6 27.6l6 19.6 7 21.8 3 8.2 3 7.8 5 11.7 3 6.3 3 5.8 6 10.7 3 5.1 2 2.9 4 4.7 2 2 2.4 1.7" fill="none" stroke="#111" stroke-opacity="0.64" stroke-width="2.1" stroke-linecap="round" stroke-linejoin="round"/><path d="M212 195.6l4-6.9 4-7.3 7-13.7 7-15 7-16.5 7-18 6-16.7 6-18.1 6.7-21.8" fill="none" stroke="#111" stroke-opacity="0.40" stroke-width="6.0" stroke-linecap="round" stroke-linejoin="round"/><path d="M212 195.6l4-6.9 4-7.3 7-13.7 7-15 7-16.5 7-18 6-16.7 6-18.1 6.7-21.8" fill="none" stroke="#111" stroke-opacity="0.48" stroke-width="3.6" stroke-linecap="round" stroke-linejoin="round"/><path d="M212 195.6l4-6.9 4-7.3 7-13.7 7-15 7-16.5 7-18 6-16.7 6-18.1 6.7-21.8" fill="none" stroke="#111" stroke-opacity="0.64" stroke-width="1.8" stroke-linecap="round" stroke-linejoin="round"/><path d="M136 135.9l4 2.1 2 .6 1 .1 2-.3 3-.9 2-.5 1-.1 1 .2 1 .3 1 .5 2 1.4 8 6.4 4 3.6 4 4.4 1 1.3 2 3 2 3.5 6 11.5 7 12.9 2 3.5 2 3.2 3 4.3 2 2.3 3 2 1 .4 1 .2" fill="none" stroke="#111" stroke-opacity="0.25" stroke-width="3.0" stroke-linecap="round" stroke-linejoin="round"/><path d="M136 135.9l4 2.1 2 .6 1 .1 2-.3 3-.9 2-.5 1-.1 1 .2 1 .3 1 .5 2 1.4 8 6.4 4 3.6 4 4.4 1 1.3 2 3 2 3.5 6 11.5 7 12.9 2 3.5 2 3.2 3 4.3 2 2.3 3 2 1 .4 1 .2" fill="none" stroke="#111" stroke-opacity="0.30" stroke-width="1.8" stroke-linecap="round" stroke-linejoin="round"/><path d="M136 135.9l4 2.1 2 .6 1 .1 2-.3 3-.9 2-.5 1-.1 1 .2 1 .3 1 .5 2 1.4 8 6.4 4 3.6 4 4.4 1 1.3 2 3 2 3.5 6 11.5 7 12.9 2 3.5 2 3.2 3 4.3 2 2.3 3 2 1 .4 1 .2" fill="none" stroke="#111" stroke-opacity="0.40" stroke-width="0.9" stroke-linecap="round" stroke-linejoin="round"/></g>
</g>
<g clip-path="url(#cpa)">
<path d="M69.4,325.7L72.4,318 75.4,309.9 84.4,282.5 91.4,263.5 95.4,253.4 100.4,241.4 104.4,232.3 108.4,223.9 113.4,214.5 117.4,207.9 120.3,203.9 124.4,199.1 126.4,197.2 127.4,196.5 131.4,194.6 133.4,194 134.4,193.8 135.4,193.8 136.4,194 137.4,194.3 139.4,195.3 143.4,198 144.4,198.9 146.4,201.2 149.4,205.6 153.4,212 156.4,217.3 164.4,233.2 174.4,252 178.4,258.9 183.1,266.7 188.4,260.4 195.4,252.8 197.4,251 200.4,248.8 202.4,247.5 203.4,247.1 204.4,247 205.4,247.1 207.4,248 209.4,249.3 211.4,250.9 213.4,253.3 215.4,256.4 217.4,260.1 221.4,268.3 223.4,273 226.4,281.2 232.4,299 234.8,305.6 258.7,365.4 258.7,365.4 69.4,365.4Z" fill="#a0a0a0"/>
<path d="M69.4,316.3L71.3,315.8 73.3,315.3 75.2,314.9 77.2,314.6 79.2,314.6 81.3,314.5 83.4,314.5 85.4,314.5 87.3,314.5 89,314.6 90.6,315.4 92.1,316.9 93.4,318.7 94.7,320.5 95.7,322.2 96.7,323.8 97.6,325.6 98.4,327.4 99.2,329.2 100,331.1 100.7,333 101.4,334.9 102.1,336.8 102.8,338.7 103.5,340.5 104.1,342.4 104.8,344.3 105.4,346.2 106,348.1 106.6,350 107.2,351.9 107.7,353.8 108.4,356.1 109.1,358.7 109.8,361.1 110.4,363.3 110.8,364.8 111,365.4 110.9,365.4 110.6,365.4 110.2,365.4 109.5,365.4 108.6,365.4 107.6,365.4 106.4,365.4 104.9,365.4 103.3,365.4 101.5,365.4 99.5,365.4 97.3,365.4 94.9,365.4 92.4,365.4 89.7,365.4 86.7,365.4 83.6,365.4 80.3,365.4 76.9,365.4 73.2,365.4 69.4,365.4Z" fill="#dedede"/>
<path d="M111.9,365.4L112.9,364.5 113.8,363.6 114.8,362.8 115.8,361.9 116.8,361.1 117.9,360.2 118.9,359.4 119.9,358.6 120.9,357.8 122,357 123,356.2 124.1,355.4 125.2,354.6 126.2,353.8 127.3,353 128.4,352.3 129.5,351.6 130.7,351 131.8,350.5 133,350 134.2,349.5 135.5,349 136.7,348.6 138,348.1 139.3,347.8 140.6,347.6 141.9,347.4 143.2,347.4 144.5,347.5 145.8,347.6 147.1,347.7 148.4,347.9 149.7,348.1 151,348.3 152.3,348.5 153.6,348.8 154.8,349.2 156,349.6 157.2,350.2 158.3,350.8 159.5,351.5 160.7,352.1 161.8,352.8 163,353.5 164.1,354.2 165.2,354.8 166.4,355.5 167.5,356.2 168.6,356.9 169.7,357.6 170.8,358.4 171.9,359.1 172.9,359.9 173.9,360.7 174.9,361.6 175.8,362.5 176.7,363.4 177.6,364.4 178.5,365.4Z" fill="#dedede"/>
<path d="M69.4 325.8l6-15.9 9-27.3 7-19 5-12.5 5-11.8 4-8.9 4-8.2 4-7.2 4-6.5 2.9-3.9 4.1-4.5 2-1.6 1-.6 3-1.2 3-.7 1.5-.1 1.5 .1 3 1.2 4 2.6 3 3 3 4.1 6 9.6 17 32.3 5 8.8 5.7 9.4 5.3-6.1 7-7.2 2.8-2.1 2.2-1.3 2-1 2-.3 1 .1 1 .2 2 .9 3 1.9 1 1 2 2.5 4 7 3 6.1 2 4.7 3 8.1 8.4 24.3 23.9 59.7M69.4 325.9l6-15.8 9-27.3 7-19 5-12.5 5-11.7 4-8.9 4-8 4-7.1 4-6.3 2.9-3.7 3.1-3.2 3-2.3 3-1.2 4-.9 3 0 2 .7 2 1 2.5 1.6 1.5 1.2 3 3.3 3 4.1 4 6.2 2 3.4 8 15.2 9 16.5 5 8.7 4.7 7.6 5.3-6 6-5.9 3-2.2 4-1.9 3-.5 2 .2 2 .7 3 1.7 1 .8 2 2.3 2 3.1 2 3.6 3 5.9 2 4.5 3 8.1 8.4 24.1 23.9 59.6M69.4 326l6-15.8 9-27.2 7-18.9 5-12.5 5-11.6 4-8.8 4-7.9 4-7 4-6.1 2.9-3.5 3.1-2.9 3-2.1 2-.7 4-.9 2.5-.2 1.5 .2 2 .6 2 .9 2.5 1.6 1.5 1.2 3 3.2 4 5.4 5 7.8 17 31.2 5 8.5 4.7 7.5 5.3-5.7 6-5.5 3-2 4-1.4 2-.4 2 .1 2 .3 2 .8 2 1 1 .7 1 .9 2 2.5 4 6.8 2 3.9 2 4.4 3 7.9 8.4 24 23.9 59.5M69.4 326.2l6-15.8 9-27.2 7-18.8 4-10 5-11.7 4-8.8 4-8.1 4-7 4-6.2 3-3.7 3-2.8 3-2.1 2-.9 5-1 2.5-.2 1.5 .2 2 .5 2 1 4 2.7 3 3.1 4 5.3 5 7.6 17 30.6 5 8.4 4.7 7.4 5.3-5.5 5-4.3 3-2 4-1.4 2-.4 2-.1 2 .2 2 .5 2.4 .9 1.6 .9 1 .9 2 2.3 2 2.9 2 3.5 2 3.7 2 4.3 3 7.8 8.4 23.8 23.9 59.3M69.4 326.4l6-15.8 9-27.1 7-18.7 4-10 5-11.6 4-8.7 4-8 4-6.8 4-5.9 3-3.5 3-2.6 3-2 2-.7 5-.9 2.5-.2 1.5 .2 2 .5 2 1 4 2.7 2 1.9 2 2.3 4 5.4 5 7.7 17 30 8.7 13.9 5.3-5.3 5-4 3-1.7 4-1.1 3-.4 2 0 2 .3 3 .9 2 1 1 .8 1 .9 2 2.5 2 3.1 3 5.2 3 6.7 10.4 28.7 23.9 59.1M69.4 326.6l6-15.7 9-27.1 7-18.6 4-9.9 5-11.5 4-8.7 4-7.7 4-6.7 3-4.4 3-3.6 3-2.7 3-2 3-1.1 5-.8 2.5-.2 1.5 .2 2 .5 2 .9 4 2.7 2 1.9 2 2.3 4 5.3 5 7.5 17 29.5 8.7 13.6 5.3-5 5-3.6 3-1.5 4-.9 5-.3 3 .5 2.4 .7 2.6 1.5 1 .9 2 2.2 2 2.9 3 5.1 3 6.4 3 7.8 7.4 20.6 23.9 58.8M69.4 326.9l6-15.7 9-27 7-18.6 4-9.8 5-11.4 4-8.5 4-7.6 4-6.5 3-4.2 3-3.4 3-2.5 3-1.9 3-1 5-.7 4 0 2 .5 2 .9 4 2.7 2 1.9 2 2.2 4 5.2 5 7.4 17 29 8.7 13.4 4.3-4 5-3.5 2-1.1 2-.8 4-.7 3-.2 3 .1 2 .4 3 .8 2 1.1 1 .8 3 3.4 4 6.3 3 6.3 3 7.6 7.4 20.3 23.9 58.6M69.4 327.2l5.7-14.9 9.3-27.7 7-18.5 4-9.7 5-11.3 4-8.4 4-7.4 4-6.3 3-4.1 3-3.2 3-2.3 3-1.7 3-1 5-.7 4 .1 2 .5 2 .9 4 2.7 3 2.9 4 4.9 3 4.1 3 4.6 16 26.8 9.7 14.8 4.3-3.8 2-1.4 3-1.8 2-1 2-.6 4-.5 4-.2 2 .1 2 .3 3 .8 2 1 1 .8 3 3.1 4 6 3 6.1 3 7.5 7.4 20 12.6 30.4 11.3 27.9M69.4 327.5l6-15.6 9-26.8 6-15.9 4-9.8 5-11.3 4-8.5 4-7.6 3-4.9 4-5.5 3-3.4 2.9-2.4 3.1-1.8 3-1.1 5-.8 3.5-.1 1.5 .1 2 .5 2 .9 4 2.7 3 2.8 4 4.9 3 4 3 4.6 16 26.4 9.7 14.5 4.3-3.6 3.3-2 3.7-1.7 2-.6 1.8-.2 7.2-.3 3 .4 2.4 .5 1.6 .6 2 1.2 3 3 4 5.7 2 3.7 2 4.5 9.4 24.7 12.6 30.2 11 27.1M69.4 327.8l6-15.6 9-26.6 6-15.8 4-9.7 5-11.2 4-8.3 4-7.5 3-4.7 4-5.4 3-3.2 2.9-2.2 3.1-1.8 3-1 6-.8 4 .1 2 .5 2 .9 4 2.6 3 2.9 4 4.8 5 6.9 17 27.6 4 6.1 5.7 8.2 4.3-3.4 2-1.2 3-1.5 2-.7 2-.5 5-.3 6 .2 3 .6 2 .6 2 1.1 1 .8 3 3.2 2.4 3.4 1.6 2.6 3 6.2 9.4 24.3 12.6 30 11 27M69.4 328.2l6-15.5 9-26.6 7-18.1 4-9.5 5-10.9 4-8 3-5.3 3-4.6 4-5.2 3-3 2.9-2.2 3.1-1.6 3-1 6-.7 4 .1 3 .9 4 2.4 2 1.6 2 2 4 4.7 3 4 3 4.4 17 27.3 8.7 12.4 4.3-3.1 2-1.2 3-1.3 2-.6 2-.4 4-.2 6 .1 5 .8 2 .8 2 1.4 3 3 2.4 3.2 1.6 2.5 3 6.1 3 7.3 6 15.6 12 28.3 12 29.3M69.4 328.6l6-15.5 9-26.4 7-18 4-9.4 5-10.7 4-7.9 3-5.2 3-4.5 4-5 3-2.9 2.9-2 3.1-1.5 3-.9 6-.7 4 .1 3 .9 4 2.3 2 1.7 2 1.9 4 4.7 3 4 3 4.4 17 26.9 8.7 12.2 2.3-1.7 3-1.8 2.3-1 2.7-1 2-.4 2-.2 8 0 5 .6 3 1 3 2.1 3 3.3 3 4.2 2 3.8 2 4.3 8 20.3 12 28.1 12 29.1M69.4 329l5.7-14.6 9.3-27.1 6-15.5 4-9.4 4-8.7 4-8.1 4-7.2 3-4.6 4-5.1 3-3 3-2.3 4-1.9 3-.9 6-.6 4 .1 3 .9 4 2.3 2 1.7 2 1.9 4 4.7 3 3.9 3 4.4 17 26.5 8.7 12 2.3-1.6 3-1.6 2.3-1 2.7-.8 4-.5 8 .1 5 .6 3 .9 3 2 3 3.1 3 4.1 2 3.6 2 4.3 8 19.9 12 27.8 12 29M69.4 329.5l6-15.4 9-26.2 6-15.3 4-9.4 4-8.6 4-7.9 4-7 3-4.5 4-4.9 3-2.9 3-2.2 4-1.8 3-.8 6-.6 4 .1 3 .9 4 2.3 4 3.6 4 4.6 3 3.9 3 4.3 17 26.3 8.7 11.8 2.3-1.5 3-1.5 2.3-.9 2.7-.7 4-.3 9 .2 5 .7 3 1.1 3 2.3 3 3.3 3 4.3 3 6 8 19.6 12 27.6 12 28.8M69.4 329.9l6-15.3 9-26 6-15.2 4-9.3 4-8.4 4-7.8 4-6.9 3-4.4 4-4.7 3-2.8 3-2 4-1.8 3-.7 6-.6 4 .1 3 .9 4 2.3 3 2.6 4 4.4 4 5.1 3 4.2 11 17.1 6 9 8.7 11.6 2.3-1.5 3-1.4 2.3-.7 2.7-.6 3-.3 11 .3 4 .6 3 1.1 3 2.2 3.4 3.6 1.6 2.1 2 3.4 3 6.3 7 16.9 12 27.4 11 26.2M69.4 330.4l6-15.2 9-25.9 6-15.1 4-9.1 4-8.4 4-7.6 4-6.8 3-4.2 4-4.6 3-2.6 3-2 4-1.6 3-.8 6-.5 4 .1 3 .9 2 1 2 1.3 3 2.6 4 4.3 4 5.1 3 4.3 11 16.9 6 8.8 8.7 11.4 2.3-1.3 3-1.3 2.3-.7 2.7-.5 3-.2 11 .4 4 .6 3 1 3 2.1 3.4 3.4 1.6 2.1 2 3.3 3 6.1 7 16.6 13 29.4 10 23.8M69.4 331l6-15.2 9-25.8 6-14.9 4-9 4-8.3 4-7.5 4-6.6 3-4.1 4-4.4 3-2.6 3-1.8 4-1.6 3-.7 6-.5 4 .1 3 .9 2 1 2 1.3 3 2.6 4 4.3 4 5.1 3 4.2 11 16.8 6 8.7 8.7 11.2 2.3-1.2 3-1.2 5-1 3-.2 12 .6 4 .7 3 1.3 3 2.3 2.4 2.4 1.6 2 2 3.2 3 5.9 7 16.4 12 26.7 11 26M69.4 331.5l6-15.1 9-25.6 5-12.4 4-9.1 4-8.4 4-7.5 4-6.7 3-4.3 3-3.5 4-3.7 3-2 3-1.4 4-1.1 6-.6 5 0 3 .9 2 1 2 1.3 3 2.5 4 4.4 4 5 3 4.2 16 23.9 4 5.4 5.7 7.1 2.3-1.2 3-1.1 5-.8 3-.1 13 .7 3 .5 3 1.3 3 2.2 3 3 3 4.3 4 8 6 13.9 12 26.4 11 25.8M69.4 332.1l6-15 9-25.5 5-12.3 4-9 4-8.2 4-7.4 4-6.6 3-4.1 3-3.4 4-3.6 3-2 3-1.3 4-1.1 6-.5 5 0 3 .9 2 1 2 1.3 3 2.5 4 4.3 4 5.1 3 4.1 10 15.1 6 8.7 4 5.3 5.7 7 2.3-1.1 3-1 5-.8 3 0 13 .8 3 .5 3 1.2 3 2.1 3 2.9 3 4.2 4 7.7 6 13.7 12 26.1 10 23.3M69.4 332.7l6-15 9-25.2 5-12.2 4-8.9 4-8.1 4-7.3 4-6.4 3-4.1 3-3.3 4-3.4 3-1.9 3-1.2 4-1.1 6-.5 5 0 3 .9 2 1 2 1.3 3 2.5 4 4.3 6 7.8 12 17.8 5 7.1 4 5.3 5.7 6.9 2.3-1 3-.9 5-.7 13 .6 4 .4 3 .7 3 1.4 2 1.4 3 2.8 3 4.1 2 3.5 2 4 6 13.4 12 25.9 10 23.1M69.4 333.3l6-14.9 9-25 5-12.1 4-8.8 4-8 4-7.2 4-6.2 3-4 3-3.2 4-3.3 3-1.8 3-1.2 4-1 6-.5 5 0 3 .9 2 1 2 1.3 3 2.5 4 4.3 6 7.7 11 16.3 6 8.5 4 5.2 5.7 6.8 4.3-1.5 2-.4 3-.3 3 0 15 1 3 .6 3 1.4 2 1.4 3 2.7 3 3.9 2 3.4 2 4 17 36.5 11 25.1M69.4 334l6-14.8 9-24.9 5-12 4-8.7 3-6 4-7.2 4-6.4 4-5.2 3-3.1 4-3.3 3-1.7 3-1.2 4-1 6-.4 5 0 3 .9 2 1 2 1.3 3 2.5 4 4.3 6 7.7 11 16.2 6 8.4 4 5.2 5.7 6.6 4.3-1.4 5-.5 3 0 6 .6 6 .2 3.4 .3 2.6 .6 3 1.3 2 1.3 3 2.6 3 3.8 2 3.4 2 3.8 17 36 10 22.6M69.4 334.7l6-14.8 9-24.7 5-11.8 4-8.6 3-5.9 4-7.1 4-6.3 4-5.1 3-3 4-3.2 3-1.6 3-1.1 4-1 6-.4 5 0 3 .9 2 1 2 1.3 3 2.5 4 4.3 6 7.6 11 16.1 6 8.5 4 5 5.7 6.6 4.3-1.3 5-.4 18.4 1.2 2.6 .5 3 1.3 2 1.3 3 2.5 3 3.7 2 3.3 2 3.7 17 35.5 10 22.4M69.4 335.4l6-14.7 9-24.5 5-11.7 4-8.5 3-5.8 4-7 4-6.1 4-5 3-3 4-3 3-1.6 3-1.1 4-.9 6-.4 5 0 3 .9 2 1 2 1.3 3 2.5 4 4.2 6 7.7 11 16 6 8.4 4 5 5.7 6.5 4.3-1.2 5-.3 3 .1 6 .7 6 .2 4 .4 3 .7 3 1.5 3 2.2 2 1.9 3 4.1 4 7.3 16 33 10 22.3M69.4 336.1l6-14.6 9-24.3 5-11.6 4-8.4 3-5.7 4-6.9 4-6 3-3.7 4-4 4-2.9 3-1.6 3-1 4-.9 6-.5 5 .1 3 .9 3.5 1.9 3.5 2.9 3 3.1 3.6 4.3 3.4 4.5 11 15.9 6 8.3 4 5 5.7 6.4 4.3-1.1 4-.2 4 .2 6 .7 6 .2 4 .4 3 .7 3 1.4 3 2.2 2 1.8 3 4 4 7.1 15 30.4 10 21.9M69.4 336.9l6-14.5 9-24.2 5-11.5 4-8.2 3-5.7 4-6.7 4-5.9 3-3.6 4-3.9 4-2.9 3-1.5 3-1 4-.8 6-.5 5 .1 3 .9 3.5 1.9 3.5 2.9 3 3.1 3.6 4.3 3.4 4.4 11 15.9 6 8.3 4 4.9 5.7 6.3 4.3-.9 4-.2 4 .2 6 .8 6 .2 4 .3 3 .7 3 1.4 3 2.1 2 1.8 3 3.9 4 6.9 15 30 10 21.7M69.4 337.7l6-14.5 9-23.9 5-11.4 4-8.2 3-5.5 4-6.6 4-5.8 3-3.6 3-2.9 4-3 3-1.6 4-1.4 4-.8 6-.5 5 .1 3 .9 3.5 1.9 3.5 2.9 3 3.1 3.6 4.2 3.4 4.5 11 15.8 6 8.2 4 4.9 5.7 6.3 4.3-.9 4-.1 3 .2 7 .9 7 .2 4 .5 3 .9 2 .9 3 2.1 2 1.7 3 3.8 4 6.8 15 29.5 9 19.3M69.4 338.5l6-14.4 8-21.3 5-11.6 4-8.2 3-5.6 4-6.7 4-5.9 3-3.7 3.9-3.9 4.1-3 3-1.6 4-1.4 4-.8 6-.4 5 .1 3 .9 3.5 1.9 3.5 2.9 3 3.1 3.6 4.2 3.4 4.5 11 15.7 6 8.2 4 4.9 5.7 6.1 3.3-.6 4.3-.2 3.7 .2 7 1 7 .2 4 .5 3 .8 2 1 3 1.9 2 1.7 3 3.7 4 6.6 15 29.1 9 19.2M69.4 339.3l6-14.3 8-21.1 5-11.5 4-8.1 3-5.6 4-6.5 4-5.8 3-3.6 3.9-3.8 4.1-3 3-1.5 4-1.3 4-.8 6-.4 5 .1 3 .9 3.5 1.9 3.5 2.9 3 3 3.6 4.3 3.4 4.4 11 15.8 6 8.1 4 4.8 5.7 6.1 3.3-.6 4-.1 4 .3 7 1 7 .2 4 .5 3 .8 2 .9 3 1.9 2 1.7 2 2.2 2 2.8 4 6.9 14 26.8 9 18.9M69.4 340.1l6-14.1 8-21 5-11.3 4-8.1 3-5.4 4-6.5 4-5.7 3-3.5 3.9-3.7 3.1-2.3 4-2.1 4-1.2 4-.8 6-.4 5 .1 3 .9 3.5 1.9 3.5 2.9 3 3 3.6 4.3 3.4 4.4 11 15.7 6 8 4 4.8 5.7 6.1 3.3-.6 4 0 4 .3 7 1.1 7 .2 4 .4 3 .8 2 .9 3 1.9 2 1.6 2 2.2 2 2.7 4 6.7 13 24.5 9 18.6M69.4 341l6-14.1 8-20.8 5-11.2 4-7.9 3-5.4 4-6.4 4-5.5 3-3.5 3.9-3.6 3.1-2.2 4-2 4-1.3 4-.7 6-.4 5 .1 3 .9 3.5 1.9 3.5 2.9 3 3 3.6 4.3 3.4 4.4 10 14.2 6 8.2 5 6 5.7 6 3.3-.5 4 0 11 1.5 7 .2 4 .4 3 .8 2 .8 3 1.8 2 1.6 2 2.1 2 2.7 4 6.6 13 24.1 9 18.4M69.4 341.9l6-14 8-20.6 5-11.1 4-7.9 3-5.3 4-6.2 4-5.4 3-3.5 3.9-3.5 3.1-2.1 4-2 4-1.2 4-.7 6-.4 5 .1 3 .9 3.5 1.9 3.5 2.9 3 3 3.6 4.3 3.4 4.4 10 14.2 6 8.1 5 6 5.7 5.9 3.3-.5 3 0 4 .4 8 1.2 7 .3 4 .4 3 .8 2 .8 3 1.7 2 1.6 2 2 2 2.6 4 6.5 13 23.8 8 16.1M69.4 342.8l6-13.9 8-20.4 5-11 4-7.8 3-5.2 4-6.1 4-5.4 3-3.3 3.9-3.4 3.1-2.1 4-2 4-1.1 4-.7 6-.4 5 .1 3 .9 3.5 1.9 3.5 2.9 3 3 3.6 4.2 3.4 4.4 10 14.2 6 8.1 5 5.9 5.7 5.9 3.3-.4 3 .1 4 .4 8 1.2 7 .3 4 .4 3 .7 2 .8 3 1.7 2 1.5 2 2.1 2 2.5 4 6.4 12 21.5 8 15.7M69.4 343.7l6-13.8 8-20.2 5-10.9 4-7.6 3-5.2 4-6 4-5.3 3-3.2 3.9-3.4 3.1-2 4-1.9 4-1.2 4-.6 6-.4 5 .1 3 .9 3.5 1.9 3.5 2.9 3 3 3.6 4.2 3.4 4.4 10 14.1 6 8.1 5 5.9 5.7 5.8 3.3-.3 3 .1 12 1.7 8 .4 4 .5 3 .8 2 1 3 1.8 2 1.7 3 3.6 4 6.2 12 21.2 8 15.6M69.4 344.7l6-13.7 8-20.1 4-8.7 4-7.8 3-5.2 4-6.2 4-5.4 4-4.4 3-2.6 4-2.6 3-1.5 3.9-1.3 4.1-.7 6-.4 6 0 3 .9 3.5 1.9 3.5 2.8 3 3.1 3.6 4.2 3.4 4.4 10 14.1 6 8 5 5.9 5.7 5.7 3.3-.2 3 .1 12 1.8 8 .4 4 .4 3 .9 2 .9 3 1.8 2 1.7 3 3.4 4 6.1 11 19.1 8 15.2M69.4 345.6l6-13.6 8-19.9 4-8.6 4-7.7 3-5.1 4-6.1 4-5.3 4-4.3 3-2.5 4-2.6 3-1.5 3.9-1.2 4.1-.7 6-.4 6 0 3 .9 3.5 1.9 3.5 2.8 3 3.1 3.6 4.2 3.4 4.4 10 14 6 8 5 5.9 5.7 5.7 3.3-.2 3 .1 12 1.9 8 .4 4 .4 3 .9 2 .8 3 1.8 2 1.6 3 3.4 4 6 11 18.8 8 15M69.4 346.6l6-13.5 8-19.7 4-8.5 4-7.6 3-5.1 4-6 4-5.2 4-4.2 3-2.5 4-2.5 3-1.4 3.9-1.2 4.1-.7 6-.4 6 0 3 .9 3.5 1.9 3.5 2.8 3 3.1 6 7.2 12 16.8 5 6.5 5 5.9 5.7 5.6 2.3-.1 3 .1 4 .5 9 1.5 8 .4 4 .4 3 .8 2 .9 3 1.7 2 1.6 3 3.3 4 5.9 11 18.5 7 12.9M69.4 347.6l6-13.4 8-19.5 4-8.5 4-7.5 3-5 4-5.9 4-5 4-4.2 3-2.4 4-2.5 3-1.4 3.9-1.1 4.1-.8 7-.4 5 .1 3 .9 3.5 1.9 3.5 2.8 3 3.1 6 7.2 12 16.7 5 6.6 5 5.8 5.7 5.6 2.3-.2 3 .2 13 2.1 8 .4 4 .4 3 .8 2 .8 3 1.7 2 1.6 3 3.2 4 5.8 10 16.5 7 12.6M69.4 348.7l6-13.4 8-19.4 4-8.3 4-7.4 3-4.9 4-5.8 4-5 4-4.1 3-2.4 4-2.4 3-1.3 3.9-1.2 5.1-.8 7-.3 4 .1 3 .9 3.5 1.9 3.5 2.8 3 3.1 6 7.2 12 16.7 5 6.5 5 5.8 5.7 5.5 3.3-.1 3 .3 12 2.1 8 .4 4 .4 3 .8 2 .8 3 1.6 2 1.5 3 3.2 4 5.7 10 16.2 7 12.5M69.4 349.7l6-13.2 8-19.2 4-8.3 4-7.3 3-4.9 3.3-4.7 3.7-4.7 4-4.3 3-2.5 3-2 4-2 4-1.3 5-.9 4-.3 7-.1 3 .6 3 1.4 3 2 4 3.7 3 3.3 4 5 12 16.6 5 6.5 5 5.8 5.7 5.5 3.3 0 3 .3 12 2.1 8 .4 4 .4 3 .7 2 .8 3 1.6 2 1.5 3 3.1 4 5.6 9 14.3 7 12.1M69.4 350.8l6-13.2 8-19 4-8.2 4-7.2 3-4.8 3.3-4.7 3.7-4.6 4-4.1 3-2.5 3-2 4-2 4-1.2 5-.9 4-.3 7-.1 3 .6 3 1.4 3 2 4 3.7 3 3.3 4 5 12 16.6 5 6.5 5 5.7 5.7 5.4 3.3 .1 3 .3 12 2.2 8 .4 4 .4 3 .7 2 .8 3 1.5 2 1.5 3 3.1 4 5.4 9 14.2 6 10.1M69.4 351.9l6-13.1 8-18.9 4-8 4-7.1 3-4.8 3.3-4.6 3.7-4.5 4-4.1 3-2.5 3-1.9 4-1.9 4-1.3 4-.7 4.4-.4 7.6-.1 3 .6 3 1.4 3 2 4 3.7 3 3.3 4 5 12 16.5 5 6.5 5 5.7 5.7 5.4 3.3 .1 3 .3 12 2.3 9.4 .4 3.6 .5 2 .6 3 1.2 2 1.1 2 1.4 3 3 4 5.3 8 12.4 6 9.9M69.4 353l6-13 8-18.7 4-8 4-7 3-4.7 3.3-4.5 3.7-4.5 4-4 3-2.4 3-1.9 4-1.9 4-1.2 4-.7 4.4-.4 7.6-.1 3 .6 3 1.4 3 2 4 3.7 3 3.3 4 5 12 16.5 5 6.4 5 5.7 5.7 5.4 5.3 .3 13 2.5 9.4 .4 3.6 .5 2 .5 3 1.2 2 1.1 2 1.4 3 2.9 4 5.3 8 12.1 6 9.8M69.4 354.1l6-12.9 8-18.5 4-7.9 4-6.9 3-4.7 3.3-4.5 3.7-4.3 4-4 3-2.3 3-1.9 4-1.8 4-1.2 4-.7 4.4-.4 7.6-.1 3 .6 3 1.4 3 2 4 3.7 3 3.3 4 5 12 16.4 5 6.5 5 5.6 5.7 5.4 5.3 .4 13 2.5 9.4 .4 3.6 .5 2 .5 3 1.2 2 1 2 1.4 3 2.9 3 3.7 8 11.9 6 9.5M69.4 355.2l6-12.7 8-18.4 4-7.8 4-6.9 3-4.5 3.3-4.5 3.7-4.3 4-3.8 3-2.3 3-1.9 4-1.8 4-1.1 4-.7 4.4-.4 7.6-.1 3 .6 3 1.4 3 2 4 3.7 3 3.3 4 4.9 12 16.5 5 6.4 5 5.6 5.7 5.4 5.3 .4 13 2.6 8 .3 4 .4 4 1 4 1.8 3 2.2 2 2 2 2.4 8 11.5 6 9.2M69.4 356.4l6-12.7 8-18.2 4-7.7 4-6.8 3-4.5 3.3-4.3 3.7-4.3 4-3.8 3-2.3 3-1.7 4-1.8 4-1.2 4-.6 4.4-.4 7.6-.1 3 .6 3 1.4 3 2 4 3.7 3 3.3 4 4.9 11 15.1 6 7.8 5 5.6 5.7 5.3 5.3 .5 10 2.1 3 .5 8 .3 4 .4 4 1 4 1.8 3 2.1 2 2 2 2.3 7 9.9 6 9M69.4 357.5l6-12.5 7-15.9 4-8 4-6.9 3-4.6 4-5.4 4-4.5 4-3.8 3-2.2 3-1.7 4-1.8 4-1.1 4-.6 4.4-.4 7.6-.1 3 .6 3 1.4 3 2 4 3.7 3 3.3 4 4.9 11 15.1 6 7.7 5 5.6 5.7 5.3 5.3 .5 10 2.2 3 .5 9.4 .4 3.6 .5 3 .8 4 1.7 3 2.1 2 1.9 2 2.3 3 4 9 13.1M69.4 358.7l6-12.5 7-15.7 4-7.9 4-6.8 3-4.6 4-5.2 4-4.5 4-3.7 3-2.2 3-1.7 4-1.7 4-1.1 4-.6 4.4-.4 7.6-.1 3 .6 3 1.4 3 2 4 3.7 3 3.3 4 4.9 11 15.1 6 7.7 5 5.5 5.7 5.3 5.3 .5 10 2.3 3 .5 8 .3 4 .4 4 .9 3.4 1.4 1.6 .9 2 1.5 2 1.9 2 2.3 3 3.9 8 11.4M69.4 359.9l6-12.4 7-15.6 4-7.8 4-6.7 3-4.5 4-5.2 4-4.4 4-3.6 3-2.2 3-1.7 4-1.6 4-1.1 4-.6 4.4-.4 7.6-.1 3 .6 3 1.4 3 2 4 3.7 3 3.3 4 4.9 11 15 6 7.7 5 5.6 5.7 5.2 5.3 .6 12 2.7 3 .3 7.4 .2 3.6 .4 3 .8 3 1.2 2 1.1 2 1.4 3 2.9 3 3.7 7 9.7M69.4 361.1l6-12.3 7-15.5 4-7.7 4-6.6 3-4.4 4-5.2 4-4.3 4-3.6 3-2.1 3-1.6 4-1.7 4-1 4-.7 4.4-.3 7.6-.1 3 .6 3 1.4 3 2 4 3.7 3 3.3 4 4.9 11 15 6 7.7 5 5.5 5.7 5.2 5.3 .6 12 2.8 3 .3 8 .2 3 .4 3 .8 3 1.2 2 1 2 1.4 3 2.9 3 3.6 6 8.2M69.4 362.3l6-12.2 7-15.3 4-7.6 4-6.6 3-4.4 3-3.8 4-4.5 4-3.7 3-2.2 4-2.3 4-1.6 4-1.1 4-.6 4.4-.3 7.6-.1 3 .6 3 1.4 3 2 4 3.7 3 3.3 4 4.9 11 15 6 7.7 5 5.4 5.7 5.2 5.3 .7 12 2.8 3 .3 6 .1 4 .3 3 .7 3 1 2 .9 2 1.2 3 2.5 3 3.4 6 7.9M69.4 363.6l6-12.1 7-15.2 4-7.6 4-6.5 3-4.3 3-3.8 4-4.4 4-3.7 3-2.1 4-2.3 4-1.6 4-1 4-.6 4-.3 7.5-.1 1.5 .1 2 .5 3 1.4 3 2 4 3.7 3 3.3 4 4.9 11 15 6 7.6 5 5.5 5.7 5.1 5.3 .8 12 2.8 3 .3 6 .1 4 .3 3 .6 3 1 2 .9 2 1.2 3 2.5 3 3.3 5 6.5M69.4 364.8l6-12 7-15 4-7.5 4-6.4 3-4.3 3-3.8 4-4.3 4-3.6 3-2.2 4-2.1 4-1.6 4-1 4-.6 4-.3 7.5-.1 1.5 .1 2 .5 3 1.4 3 2 4 3.7 3 3.3 4 4.9 11 14.9 6 7.7 5 5.4 5.7 5.1 5.3 .8 12 2.9 3 .3 9 .3 3 .5 3 .8 4 1.8 3 2.2 3 3 4 4.9M69.4 366.1l6-11.9 7-14.9 4-7.4 4-6.4 3-4.2 3-3.7 4-4.3 4-3.5 3-2.1 4-2.2 4-1.5 4-1 4-.6 4-.3 7.5-.1 1.5 .1 2 .5 3 1.4 3 2 4 3.7 3 3.3 4 4.9 11 14.9 6 7.6 5 5.5 5.7 5 5.3 .9 12 2.9 3 .3 9 .3 3 .5 3 .8 3 1.2 3 1.9 3 2.7 4 4.6M69.4 367.4l6-11.8 7-14.8 3-5.6 4-6.5 3-4.3 3-3.9 4-4.4 4-3.6 3-2.3 3.9-2.2 4.1-1.7 4-1.1 4-.7 4-.3 7-.2 2 0 2 .3 3 1.1 3 1.9 4 3.4 3 3.1 4 4.8 13 17.5 5 6.3 5 5.4 5.7 5.1 5.3 .8 12 3 3 .3 9 .3 3 .5 2 .5 3.4 1.2 2.6 1.4 3 2.4 3 3.1M70.4 366.8l5-9.9 7-14.6 4-7.2 4-6.2 3-4.1 3-3.7 4-4.1 4-3.5 3-2 4-2.1 4-1.5 4-1 4-.5 4-.3 7.5-.1 1.5 .1 2 .5 3 1.4 3 2 4 3.7 3 3.3 4 4.9 11 14.9 6 7.6 5 5.4 5.7 5 4.3 .7 13 3.2 3 .3 9 .3 5 .9 3.4 1.3 2.6 1.3 2 1.5 3 2.9M70.4 368.1l5-9.8 7-14.5 4-7.1 4-6.2 3-4 3-3.6 4-4.1 4-3.4 3-2 3-1.6 4-1.6 4-1.1 4-.6 4-.3 7-.2 2 0 2 .3 3 1.1 3 1.9 4 3.4 3 3.1 4 4.8 13 17.5 5 6.2 5 5.4 5.7 5 4.3 .7 13 3.3 3 .3 9 .3 4 .7 3 .9 3 1.3 2 1.3 2 1.6M71.4 367.5l4-7.7 7-14.4 4-7.1 4-6.1 3-4 3-3.5 4-4.1 4-3.3 3-2 3-1.6 4-1.6 4-1 4-.6 4-.3 7-.2 2 0 2 .3 3 1.1 3 1.8 4 3.4 3 3.2 4 4.8 13 17.4 5 6.3 5 5.4 5.7 4.9 4.3 .8 10 2.6 3 .7 3 .3 8 .2 4 .5 4 1.1 2 .8 2 1.1M72.4 367l10-20.1 2-3.7 3-4.9 3-4.4 4-5.2 3.3-3.6 3.7-3.5 4-3.1 3-1.9 3-1.4 4-1.4 4-.9 4-.5 4-.3 7-.1 3 .3 3 1.1 3 1.8 4 3.4 3 3.2 4 4.8 13 17.4 5 6.3 5 5.3 5.7 5 4.3 .7 10 2.7 3 .7 3 .3 9 .3 3 .4 3 .8M73.4 366.5l9-18 2-3.7 3-4.8 3-4.4 4-5.1 3.3-3.6 3.7-3.5 4-3 3-1.8 3-1.4 4-1.4 4-.9 4-.5 4-.3 7.5-.1 1.5 .1 2 .5 3 1.4 3 2 4 3.6 3 3.3 4 4.9 11 14.9 6 7.5 5 5.4 5.7 4.9 4.3 .8 12 3.2M73.4 367.9l9-17.9 4-6.8 3-4.5 4-5.2 3-3.4 4-3.9 4-3.2 3-1.9 3-1.5 4-1.6 4-1 4-.5 4-.3 6-.2 3 0 3 .6 3 1.4 4 2.8 4 3.9 3.6 4.1 4.4 5.6 12 16.1 4 4.9 4 4.1 5.7 4.9 4.3 .9 5 1.3M74.4 367.4l8-15.8 2-3.5 3-4.8 3-4.3 4-5 3.3-3.5 3.7-3.3 4-3 3-1.8 3-1.3 4-1.4 4-.8 4-.5 10-.4 2 0 2 .3 3 1.1 3 1.8 4 3.4 3 3.2 4 4.7 13 17.5 5 6.2 5 5.3 5.7 4.9 .3 0M75.4 367l8-15.6 5-7.9 3-4.1 4-4.7 3-3 4-3.5 3-2.1 4-2.2 4-1.6 3-.9 3.9-.7 4.1-.4 10.5-.3 1.5 .1 2 .5 3 1.4 3 2 4 3.6 3 3.3 4 4.9 11 14.8 5 6.4 5 5.5 5 4.4M76.4 366.5l7-13.5 5-7.8 3-4 4-4.7 3-3 4-3.4 3-2.1 4-2.2 4-1.5 3-.9 3.9-.7 4.1-.4 10.5-.3 1.5 .1 2 .5 3 1.4 3 2 4 3.6 3 3.3 4 4.9 11 14.8 5 6.3 4.2 4.7 3.8 3.6M76.4 368l7-13.4 5-7.7 3-4 3-3.5 3.3-3.4 3.7-3.2 3-2.2 3-1.8 3-1.5 4-1.4 3-.7 4-.6 4-.4 6-.2 5 .1 3 .9 3.5 1.9 3.5 2.8 3 3 4 4.6 16 21.2 4 4.7 3 3.2M77.4 367.6l6-11.3 3-4.8 3-4.2 3-3.8 3-3.4 3-2.9 4-3.3 3-2.1 3-1.6 3-1.3 4-1.3 4-.8 4-.5 11-.3 3 .3 2 .7 2 1 3 2 4 3.6 6 6.9 14 18.7 4 4.9 3 3.3M78.4 367.2l3-5.7 3-5.2 3-4.5 3-4.1 3-3.6 3-3.2 4-3.6 3-2.2 3-1.9 3-1.5 4-1.5 3-.8 3.9-.7 4.1-.4 10.5-.3 1.5 .1 2 .5 3 1.4 3 2 4 3.6 6 6.9 13 17.4 6 7.3M79.4 366.8l3-5.5 2.7-4.5 3.3-4.7 3-3.9 3-3.4 3.3-3.3 3.7-3.1 3-2.1 3-1.7 2.9-1.4 3.1-1.1 4-1 7-.8 10.5-.3 1.5 .1 2 .5 3 1.4 3 2 4 3.6 3 3.3 4 4.9 11 14.7 5 6.3M80.4 366.5l4.7-8 3.3-4.7 3-3.8 3-3.4 3.3-3.2 3.7-3.1 3-2.1 3-1.7 2.9-1.3 3.1-1.1 4-1 7-.9 10.5-.2 1.5 .1 2 .5 3 1.4 3 2 4 3.6 3 3.3 4 4.9 10.1 13.5 4.9 6.3M80.4 368.2l4.7-8 3.3-4.7 3-3.7 3-3.4 3-2.9 3-2.5 3-2.2 3-1.8 3-1.5 6-2 3-.6 4-.5 9-.4 5 .1 3 .9 3.5 1.9 3.5 2.8 4 4.1 4 4.7 14 18.6M81.4 368l4-6.5 3-4.2 3-3.7 3-3.3 3-2.9 3-2.5 3-2.2 3-1.8 3-1.4 6-2 3-.6 4-.5 8-.4 5 0 3 .6 3 1.4 4 2.8 4 3.9 4 4.6 13 17.2M82.4 367.9l2-3.2 3-4.3 3-3.9 3-3.4 5-4.7 3-2.4 3-2 3-1.7 2.9-1.2 3.1-1.1 3-.7 7-1 9-.3 4 .1 3 .9 3.5 1.9 3.5 2.8 4 4.1 4 4.7 11 14.7M83.4 367.9l5-7.1 5-5.9 5-4.7 3-2.3 3-2 5-2.5 6-1.9 3-.6 4-.5 8-.4 5 0 2 .3 3 1.1 4 2.6 4 3.6 4 4.5 4 5 7 9.4M85.4 366.6l5-6.5 5-5.3 3-2.7 3-2.3 5-3.1 3-1.4 3-1 6-1.4 7-.7 9.5-.2 2.5 .3 3 1.1 3 1.8 3 2.5 3 3 4 4.6 9 11.8M86.4 366.9l5-6.2 5-5 3-2.5 3-2.2 5-2.8 5-2 6-1.3 7-.7 9.5-.2 2.5 .3 3 1.1 3 1.8 3 2.5 3 3 3.6 4.1 8.4 10.9M87.4 367.4l5-5.9 5-4.8 5-3.8 5-2.8 5-1.9 6-1.4 7-.6 8-.2 3 .1 2 .5 3 1.4 3 2 3 2.6 4 4.3 4 4.9 4 5.2M89.4 366.6l4-4.3 5-4.5 5-3.6 5-2.6 5-1.7 6-1.2 6-.5 9.5-.2 2.5 .3 3 1.1 2.5 1.5 2.5 1.9 3 2.8 3 3.3 7 8.8M90.4 367.3l4-4.2 5-4.2 5-3.4 4-1.9 5-1.7 5-1.1 7-.6 8-.2 3 .1 2 .5 2 .8 3 1.8 3 2.5 3 3 3.6 4.1 3.4 4.2M92.4 366.9l4-3.7 5-3.9 4-2.4 4-1.8 5-1.5 5-.9 6-.5 7-.2 3 0 2 .3 2 .7 3 1.6 2 1.4 3 2.6 3 3.2 4 4.7M94.4 366.8l4-3.4 5-3.4 4-2.1 4-1.5 4-1 5-.8 6-.5 8.5-.1 2.5 .3 2 .7 2 1 2 1.2 4 3.4 5.6 6.2M96.4 366.9l4-3 4-2.5 4-2 4-1.3 4-1 5-.7 5-.3 8.5-.1 1.5 .1 2 .5 2 .8 2 1.2 4 3.1 5 5.2M99.4 366.5l4-2.6 3-1.6 3.9-1.6 4.1-1.2 4-.7 5-.5 11.5-.3 1.5 .1 2 .5 3 1.4 4 2.8 4 3.9M101.4 367l3-1.8 3-1.4 3-1.1 4-1.2 4-.7 4-.4 10-.4 4 .1 3 .9 2 1 2 1.2 4 3.4M105.4 366.7l3-1.4 3-1 6-1.4 7-.7 10.5-.2 2.5 .3 3 1.1 2.5 1.5 2.5 1.9M110.4 366.6l5-1.3 4.9-.8 6.1-.4 8.5-.1 1.5 .1 2 .5 2 .8 2 1.2M121.4 366.4l5-.3 8.5-.1 1.5 .1 2 .5" fill="none" stroke="#2a2a2a" stroke-opacity="0.62" stroke-width="0.9" stroke-linejoin="round"/>
<path d="M70.2 323.7V365.4M72.2 318.5V365.4M74.2 313.2V365.4M76.2 307.6V365.4M78.2 301.5V365.4M80.2 295.3V365.4M82.2 289.1V365.4M84.2 283.1V365.4M86.2 277.4V365.4M88.2 272V365.4M90.2 266.6V365.4M92.2 261.4V365.4M94.2 256.3V365.4M96.2 251.4V365.4M98.2 246.6V365.4M100.2 241.9V365.4M102.2 237.3V365.4M104.2 232.7V365.4M106.2 228.4V365.4M108.2 224.3V365.4M110.2 220.4V365.4M112.2 216.7V365.4M114.2 213.1V365.4M116.2 209.8V365.4M118.2 206.7V365.4M120.2 204V365.4M122.2 201.6V365.4M124.2 199.3V365.4M126.2 197.4V365.4M128.2 196.1V365.4M130.2 195.1V365.4M132.2 194.3V365.4M134.2 193.8V365.4M136.2 193.9V365.4M138.2 194.7V365.4M140.2 195.8V365.4M142.2 197.1V365.4M144.2 198.7V365.4M146.2 200.9V365.4M148.2 203.7V365.4M150.2 206.9V365.4M152.2 210.1V365.4M154.2 213.4V365.4M156.2 217V365.4M158.2 220.8V365.4M160.2 224.8V365.4M162.2 228.8V365.4M164.2 232.8V365.4M166.2 236.6V365.4M168.2 240.4V365.4M170.2 244.2V365.4M172.2 247.9V365.4M174.2 251.6V365.4M176.2 255.2V365.4M178.2 258.6V365.4M180.2 262V365.4M182.2 265.2V365.4M184.2 265.4V365.4M186.2 263V365.4M188.2 260.7V365.4M190.2 258.4V365.4M192.2 256.3V365.4M194.2 254.1V365.4M196.2 252.1V365.4M198.2 250.4V365.4M200.2 248.9V365.4M202.2 247.6V365.4M204.2 247V365.4M206.2 247.4V365.4M208.2 248.5V365.4M210.2 249.9V365.4M212.2 251.7V365.4M214.2 254.4V365.4M216.2 257.8V365.4M218.2 261.7V365.4M220.2 265.8V365.4M222.2 270.1V365.4M224.2 275.1V365.4M226.2 280.6V365.4M228.2 286.5V365.4M230.2 292.5V365.4M232.2 298.4V365.4M234.2 304V365.4M236.2 309.2V365.4M238.2 314.3V365.4M240.2 319.3V365.4M242.2 324.2V365.4M244.2 329.1V365.4M246.2 334V365.4M248.2 339V365.4M250.2 344V365.4M252.2 349V365.4M254.2 354.1V365.4M256.2 359.1V365.4M258.2 364.1V365.4" fill="none" stroke="#222" stroke-opacity="0.5" stroke-width="0.5" stroke-linejoin="round"/>
<path d="M69.4 325.7l3-7.7 3-8.1 9-27.4 7-19 4-10.1 5-12 4-9.1 4-8.4 5-9.4 4-6.6 2.9-4 4.1-4.8 2-1.9 1-.7 4-1.9 2-.6 1-.2 1 0 1 .2 1 .3 2 1 4 2.7 1 .9 2 2.3 3 4.4 4 6.4 3 5.3 8 15.9 10 18.8 4 6.9 4.7 7.8 5.3-6.3 7-7.6 2-1.8 3-2.2 2-1.3 1-.4 1-.1 1 .1 2 .9 2 1.3 2 1.6 2 2.4 2 3.1 2 3.7 4 8.2 2 4.7 3 8.2 6 17.8 2.4 6.6 23.9 59.8" fill="none" stroke="#1c1c1c" stroke-opacity="1" stroke-width="1" stroke-linejoin="round"/>
<g clip-path="url(#bp_a_lo)"><path d="M69.4 325.7l3-7.7 3-8.1 9-27.4 5-13.8 7-17.8 8-18.6 3-6.4 3-5.9 4-7.2 3-4.9 2-2.8 4-4.9 2-2.1 1-.9 1.6-1" fill="none" stroke="#111" stroke-opacity="0.35" stroke-width="5.0" stroke-linecap="round" stroke-linejoin="round"/><path d="M69.4 325.7l3-7.7 3-8.1 9-27.4 5-13.8 7-17.8 8-18.6 3-6.4 3-5.9 4-7.2 3-4.9 2-2.8 4-4.9 2-2.1 1-.9 1.6-1" fill="none" stroke="#111" stroke-opacity="0.42" stroke-width="3.0" stroke-linecap="round" stroke-linejoin="round"/><path d="M69.4 325.7l3-7.7 3-8.1 9-27.4 5-13.8 7-17.8 8-18.6 3-6.4 3-5.9 4-7.2 3-4.9 2-2.8 4-4.9 2-2.1 1-.9 1.6-1" fill="none" stroke="#111" stroke-opacity="0.56" stroke-width="1.5" stroke-linecap="round" stroke-linejoin="round"/><path d="M208 248.3l3 2.3 1 .9 2 2.6 3 5.2 5 10.3 2 4.9 2 5.5 6 17.8 3 8.3 23.7 59.3" fill="none" stroke="#111" stroke-opacity="0.45" stroke-width="10.0" stroke-linecap="round" stroke-linejoin="round"/><path d="M208 248.3l3 2.3 1 .9 2 2.6 3 5.2 5 10.3 2 4.9 2 5.5 6 17.8 3 8.3 23.7 59.3" fill="none" stroke="#111" stroke-opacity="0.54" stroke-width="6.0" stroke-linecap="round" stroke-linejoin="round"/><path d="M208 248.3l3 2.3 1 .9 2 2.6 3 5.2 5 10.3 2 4.9 2 5.5 6 17.8 3 8.3 23.7 59.3" fill="none" stroke="#111" stroke-opacity="0.72" stroke-width="3.0" stroke-linecap="round" stroke-linejoin="round"/><path d="M142 197l2 1.5 1 1 2 2.5 2 3 5 8 3 5.5 8 15.8 8 15.1 5 8.9 5 8.2" fill="none" stroke="#111" stroke-opacity="0.30" stroke-width="4.0" stroke-linecap="round" stroke-linejoin="round"/><path d="M142 197l2 1.5 1 1 2 2.5 2 3 5 8 3 5.5 8 15.8 8 15.1 5 8.9 5 8.2" fill="none" stroke="#111" stroke-opacity="0.36" stroke-width="2.4" stroke-linecap="round" stroke-linejoin="round"/><path d="M142 197l2 1.5 1 1 2 2.5 2 3 5 8 3 5.5 8 15.8 8 15.1 5 8.9 5 8.2" fill="none" stroke="#111" stroke-opacity="0.48" stroke-width="1.2" stroke-linecap="round" stroke-linejoin="round"/><path d="M183.2 266.6l6-7.1 5-5.4 2-2 2-1.7 3-2.2 1-.6 1-.4 .8-.2" fill="none" stroke="#111" stroke-opacity="0.25" stroke-width="3.0" stroke-linecap="round" stroke-linejoin="round"/><path d="M183.2 266.6l6-7.1 5-5.4 2-2 2-1.7 3-2.2 1-.6 1-.4 .8-.2" fill="none" stroke="#111" stroke-opacity="0.30" stroke-width="1.8" stroke-linecap="round" stroke-linejoin="round"/><path d="M183.2 266.6l6-7.1 5-5.4 2-2 2-1.7 3-2.2 1-.6 1-.4 .8-.2" fill="none" stroke="#111" stroke-opacity="0.40" stroke-width="0.9" stroke-linecap="round" stroke-linejoin="round"/><path d="M183.3,266.5L184.8,268.9" stroke="#111" stroke-opacity="0.22" stroke-width="9" fill="none"/><path d="M183.3,266.5L184.8,268.9" stroke="#111" stroke-opacity="0.22" stroke-width="4.0" fill="none"/><path d="M184.8,268.9L186.2,271.3" stroke="#111" stroke-opacity="0.21" stroke-width="9" fill="none"/><path d="M184.8,268.9L186.2,271.3" stroke="#111" stroke-opacity="0.21" stroke-width="4.0" fill="none"/><path d="M186.2,271.3L187.6,273.8" stroke="#111" stroke-opacity="0.20" stroke-width="9" fill="none"/><path d="M186.2,271.3L187.6,273.8" stroke="#111" stroke-opacity="0.20" stroke-width="4.0" fill="none"/><path d="M187.6,273.8L189,276.3" stroke="#111" stroke-opacity="0.20" stroke-width="9" fill="none"/><path d="M187.6,273.8L189,276.3" stroke="#111" stroke-opacity="0.20" stroke-width="4.0" fill="none"/><path d="M189,276.3L190.2,278.8" stroke="#111" stroke-opacity="0.19" stroke-width="9" fill="none"/><path d="M189,276.3L190.2,278.8" stroke="#111" stroke-opacity="0.19" stroke-width="4.0" fill="none"/><path d="M190.2,278.8L191.4,281.3" stroke="#111" stroke-opacity="0.18" stroke-width="9" fill="none"/><path d="M190.2,278.8L191.4,281.3" stroke="#111" stroke-opacity="0.18" stroke-width="4.0" fill="none"/><path d="M191.4,281.3L192.4,283.9" stroke="#111" stroke-opacity="0.17" stroke-width="9" fill="none"/><path d="M191.4,281.3L192.4,283.9" stroke="#111" stroke-opacity="0.17" stroke-width="4.0" fill="none"/><path d="M192.4,283.9L193.4,286.6" stroke="#111" stroke-opacity="0.17" stroke-width="9" fill="none"/><path d="M192.4,283.9L193.4,286.6" stroke="#111" stroke-opacity="0.17" stroke-width="4.0" fill="none"/><path d="M193.4,286.6L194.4,289.2" stroke="#111" stroke-opacity="0.16" stroke-width="9" fill="none"/><path d="M193.4,286.6L194.4,289.2" stroke="#111" stroke-opacity="0.16" stroke-width="4.0" fill="none"/><path d="M194.4,289.2L195.4,291.9" stroke="#111" stroke-opacity="0.15" stroke-width="9" fill="none"/><path d="M194.4,289.2L195.4,291.9" stroke="#111" stroke-opacity="0.15" stroke-width="4.0" fill="none"/><path d="M195.4,291.9L196.4,294.5" stroke="#111" stroke-opacity="0.14" stroke-width="9" fill="none"/><path d="M195.4,291.9L196.4,294.5" stroke="#111" stroke-opacity="0.14" stroke-width="4.0" fill="none"/><path d="M196.4,294.5L197.5,297.1" stroke="#111" stroke-opacity="0.14" stroke-width="9" fill="none"/><path d="M196.4,294.5L197.5,297.1" stroke="#111" stroke-opacity="0.14" stroke-width="4.0" fill="none"/><path d="M197.5,297.1L198.7,299.7" stroke="#111" stroke-opacity="0.13" stroke-width="9" fill="none"/><path d="M197.5,297.1L198.7,299.7" stroke="#111" stroke-opacity="0.13" stroke-width="4.0" fill="none"/><path d="M198.7,299.7L199.8,302.2" stroke="#111" stroke-opacity="0.12" stroke-width="9" fill="none"/><path d="M198.7,299.7L199.8,302.2" stroke="#111" stroke-opacity="0.12" stroke-width="4.0" fill="none"/><path d="M199.8,302.2L201,304.8" stroke="#111" stroke-opacity="0.11" stroke-width="9" fill="none"/><path d="M199.8,302.2L201,304.8" stroke="#111" stroke-opacity="0.11" stroke-width="4.0" fill="none"/><path d="M201,304.8L202.2,307.4" stroke="#111" stroke-opacity="0.11" stroke-width="9" fill="none"/><path d="M201,304.8L202.2,307.4" stroke="#111" stroke-opacity="0.11" stroke-width="4.0" fill="none"/><path d="M202.2,307.4L203.3,309.9" stroke="#111" stroke-opacity="0.10" stroke-width="9" fill="none"/><path d="M202.2,307.4L203.3,309.9" stroke="#111" stroke-opacity="0.10" stroke-width="4.0" fill="none"/><path d="M203.3,309.9L204.4,312.5" stroke="#111" stroke-opacity="0.09" stroke-width="9" fill="none"/><path d="M203.3,309.9L204.4,312.5" stroke="#111" stroke-opacity="0.09" stroke-width="4.0" fill="none"/><path d="M204.4,312.5L205.4,315.2" stroke="#111" stroke-opacity="0.08" stroke-width="9" fill="none"/><path d="M204.4,312.5L205.4,315.2" stroke="#111" stroke-opacity="0.08" stroke-width="4.0" fill="none"/><path d="M205.4,315.2L206.3,317.8" stroke="#111" stroke-opacity="0.08" stroke-width="9" fill="none"/><path d="M205.4,315.2L206.3,317.8" stroke="#111" stroke-opacity="0.08" stroke-width="4.0" fill="none"/><path d="M206.3,317.8L207.2,320.5" stroke="#111" stroke-opacity="0.07" stroke-width="9" fill="none"/><path d="M206.3,317.8L207.2,320.5" stroke="#111" stroke-opacity="0.07" stroke-width="4.0" fill="none"/><path d="M207.2,320.5L208.1,323.2" stroke="#111" stroke-opacity="0.06" stroke-width="9" fill="none"/><path d="M207.2,320.5L208.1,323.2" stroke="#111" stroke-opacity="0.06" stroke-width="4.0" fill="none"/><path d="M208.1,323.2L208.9,325.9" stroke="#111" stroke-opacity="0.05" stroke-width="9" fill="none"/><path d="M208.1,323.2L208.9,325.9" stroke="#111" stroke-opacity="0.05" stroke-width="4.0" fill="none"/><path d="M208.9,325.9L209.8,328.6" stroke="#111" stroke-opacity="0.05" stroke-width="9" fill="none"/><path d="M208.9,325.9L209.8,328.6" stroke="#111" stroke-opacity="0.05" stroke-width="4.0" fill="none"/><path d="M209.8,328.6L210.6,331.2" stroke="#111" stroke-opacity="0.04" stroke-width="9" fill="none"/><path d="M209.8,328.6L210.6,331.2" stroke="#111" stroke-opacity="0.04" stroke-width="4.0" fill="none"/><path d="M210.6,331.2L211.5,333.9" stroke="#111" stroke-opacity="0.03" stroke-width="9" fill="none"/><path d="M210.6,331.2L211.5,333.9" stroke="#111" stroke-opacity="0.03" stroke-width="4.0" fill="none"/><path d="M211.5,333.9L212.3,336.6" stroke="#111" stroke-opacity="0.02" stroke-width="9" fill="none"/><path d="M211.5,333.9L212.3,336.6" stroke="#111" stroke-opacity="0.02" stroke-width="4.0" fill="none"/><path d="M212.3,336.6L213.2,339.3" stroke="#111" stroke-opacity="0.02" stroke-width="9" fill="none"/><path d="M212.3,336.6L213.2,339.3" stroke="#111" stroke-opacity="0.02" stroke-width="4.0" fill="none"/><path d="M213.2,339.3L214,342" stroke="#111" stroke-opacity="0.01" stroke-width="9" fill="none"/><path d="M213.2,339.3L214,342" stroke="#111" stroke-opacity="0.01" stroke-width="4.0" fill="none"/></g>
</g>
<g clip-path="url(#cpb)">
<path d="M385,27.6L390,41 395,53.5 399,62.8 403,71.2 407,78.8 410,83.8 415,90.9 417,93.4 419,95.5 424,99.7 427,101.6 429,102.4 431,102.9 434,103.5 436,103.7 439,103.6 442,103.1 451,100.7 454,99.6 460,96.7 462,96 464,95.5 467,95.4 471,95.8 475.5,96.6 476,96.8 477,97.4 478,98.4 479,99.6 485,108.4 502,138.8 508,148.3 512,154.1 518,162 521,165.4 523,166.9 525,168 528,169.4 530,170.1 532,170.5 534,170.5 535,170.3 537,169.3 539,167.8 541,166.1 542,165 544,161.9 546,158.1 553,143.5 558,132.7 565,116.6 573,97.4 580.3,80.4 580.3,27.6 385,27.6Z" fill="#c6c6c6"/>
<path d="M436.6,103.2L438.4,101.4 440.3,99.6 442.1,97.8 443.9,95.9 445.7,94.1 447.5,92.2 449.2,90.4 451,88.5 452.6,86.5 454.3,84.4 455.9,82.3 457.6,80.4 459.4,78.6 461.3,77.1 463.5,75.5 465.8,74 468.2,72.9 470.6,72.5 473.2,72.6 475.8,72.8 478.3,73 480.4,74.1 482.3,75.9 484.2,77.9 486.1,79.8 487.9,81.6 489.7,83.5 491.5,85.4 493.3,87.2 495.2,88.9 497.4,90.7 500.3,92.5 502.8,94.1 504.3,95 504,95.1 502.2,94.9 499.4,94.6 496.1,94.3 492.7,94.1 489.8,94 487.3,94.2 484.7,94.6 482.2,95.1 479.6,95.5 477.1,95.8 474.5,95.9 471.9,95.8 469.4,95.7 466.8,95.5 464.2,95.2 461.7,95 459.1,94.4 456.6,93.5 454.1,92.7 451.6,92.1 449.3,92.1 447.1,93.1 445,94.8 443,97Z" fill="#000" fill-opacity="0.5"/>
<path d="M437,103.5L437.5,102.6 438.1,101.7 438.6,100.9 439.1,100.1 439.7,99.4 440.3,98.6 440.9,97.9 441.4,97.3 442,96.6 442.6,96.1 443.2,95.5 443.9,95 444.5,94.5 445.1,94.1 445.8,93.8 446.4,93.4 447.1,93.1 447.7,92.9 448.4,92.7 449.1,92.6 449.7,92.5 450.4,92.5 451.2,92.5 452,92.6 452.9,92.7 453.9,92.8 454.9,92.9 456,93.1 457,93.3 458,93.5 458.9,93.7 459.7,94 460.5,94.2 461.1,94.4 461.6,94.7 461.9,94.9 462,95.2 461.9,95.4 461.5,95.7 460.9,96.1 460.2,96.4 459.3,96.8 458.4,97.2 457.5,97.5 456.5,97.9 455.7,98.2 454.9,98.5 454.2,98.8 453.4,99.1 452.7,99.4 452,99.7 451.2,100 450.5,100.3 449.7,100.5 449,100.8 448.3,101.1 447.5,101.3 446.8,101.6 446,101.8Z" fill="#dedede"/>
<path d="M385 27.5l5 13.4 5 12.5 4 9.3 4 8.3 4 7.7 3 4.9 5 7.1 4 4.6 5 4.2 3 1.9 2 .8 2 .5 3 .6 2 .2 3-.1 3-.5 9-2.4 3-1.1 6-2.8 2-.8 2-.5 3 0 4 .3 4.5 .8 1.5 .8 2 2.2 6 8.8 16 28.5 5 8.1 5 7.3 7 9 3 3 1 .8 2 1 5 1.9 2 .5 2.2 .1 1.8-.2 2-.8 4-2.6 1-1 2-2.8 2-3.7 7-14.2 5-10.8 7-15.9 15.3-36.1M385 27.4l5 13.4 5 12.5 4 9.3 4 8.3 4 7.6 3 5 5 7 4 4.6 5 4.2 3 1.9 2 .8 2 .5 3 .6 2 .1 3-.1 3-.5 9-2.3 3-1.1 6-2.9 2-.7 2-.5 3-.1 4 .4 4.5 .8 1.5 .8 2 2.2 6 8.8 16 28.3 5 7.9 5 7.2 6 7.4 3 3.1 2 1.5 1 .5 5 1.7 3 .6 2.2 .1 1.8-.1 2-.7 3.6-1.9 1.4-1.2 1-1.2 2-3 8-15.6 5-10.7 7-15.8 15.3-36M385 27.2l5 13.4 5 12.5 4 9.3 4 8.3 4 7.6 3 4.9 5 7.1 4 4.5 5 4.2 3 1.9 2 .8 2 .5 3 .6 2 .1 3-.1 3-.5 9-2.3 3-1.1 6-2.9 2-.7 2-.5 3 0 4 .3 4.5 .8 1.5 .8 2 2.2 6 8.7 16 28.1 5 7.8 4 5.7 6 7.2 2 2.2 2 1.8 3 1.8 4 1.2 3 .7 3 .2 2-.2 2-.5 3-1.4 2-1.3 1-1.1 2-2.8 8-15.1 5-10.5 7-15.7 15.3-35.9M385 27.1l5 13.3 5 12.5 4 9.2 4 8.3 4 7.6 3 4.9 5 7.1 4 4.5 5 4.2 3 1.9 2 .7 2 .5 3 .6 2 .2 3-.1 3-.5 9-2.3 3-1.2 6-2.8 2-.7 2-.5 3-.1 4 .4 4.5 .8 1.5 .8 2 2.1 6 8.8 16 27.8 4 6.2 4 5.6 4 5 4 4.3 2 1.8 3 2 3 1 4 .9 3 .3 3-.1 2-.4 3-1.2 2-1.3 1-.9 2-2.6 2-3.4 5-9.2 6-12.2 7-15.6 15.3-35.7M385 26.9l5 13.3 5 12.4 4 9.3 4 8.2 4 7.6 3 4.9 5 7 4 4.5 5 4.2 3 1.9 2 .7 2 .5 3 .6 2 .2 3-.1 3-.5 9-2.3 3-1.2 6-2.7 2-.8 2-.4 2-.2 4 .3 6 1.1 1 .6 2 2.2 6 8.6 15 25.9 3.1 4.9 4.9 7 4 5 6 6 3 2.1 3 1.2 4 .9 3 .3 3 .1 2-.3 2-.5 3-1.2 2-1.5 2-2.5 2-3.1 5-8.9 6-12 7-15.4 15.3-35.5M385 26.6l5 13.3 5 12.4 4 9.3 4 8.2 4 7.6 3 4.8 5 7 4 4.5 5 4.1 3 1.9 2 .8 2 .5 3 .5 2 .2 3-.1 3-.5 9-2.3 3-1.1 6-2.8 2-.7 2-.5 2-.1 4 .3 6 1.1 1 .6 2 2.1 5 7.1 3 4.8 5 8.9 8 13.4 3.1 4.8 4.9 6.8 4 4.8 5 4.9 3 2.2 3 1.3 4 .9 3 .4 3.2 .2 2.8-.3 2-.4 3-1.1 2-1.4 2-2.3 2-2.9 5-8.6 6-11.7 7-15.2 15.3-35.4M385 26.4l5 13.3 5 12.3 4 9.2 4 8.3 4 7.5 3 4.8 5 7 4 4.5 5 4.1 3 1.8 2 .8 2 .5 3 .5 2 .2 3-.1 3-.5 9-2.2 3-1.2 6-2.7 2-.8 2-.4 2-.1 4 .2 6 1.1 1 .6 2 2.1 5 7.1 16 26.8 3 4.5 4 5.5 4 4.8 5 4.8 2 1.7 2 1.2 3 1.3 4 .8 4 .4 3 .1 3-.4 3-.9 2-.9 2-1.7 2-2.5 7-11.5 6-11.7 6-12.9 15.3-35.2M385 26.1l5 13.3 5 12.3 4 9.2 4 8.2 4 7.4 3 4.9 5 6.9 4 4.5 5 4 3 1.9 2 .7 2 .5 5 .8 3-.2 3-.4 9-2.3 3-1.1 6-2.8 2-.7 2-.4 2-.1 4 .2 6 1.1 1 .6 2 2.1 5 7 16 26.5 3 4.4 4 5.3 4 4.6 5 4.6 2 1.5 2 1.2 3 1.2 4 .7 4 .4 3 0 3-.3 3-.8 2-.8 2-1.6 2-2.3 2-2.9 5-8.2 6-11.5 6-12.7 15.3-34.9M385 25.8l5 13.2 5 12.3 4 9.2 4 8.1 4 7.5 3 4.8 5 6.9 4 4.4 5 4.1 3 1.8 2 .7 2 .5 5 .7 3-.1 3-.4 9-2.3 3-1.1 6-2.7 2-.7 2-.5 2-.1 4 .3 6 1 1 .6 2 2.1 5 7 15 24.5 3 4.5 4 5.3 4 4.7 4 3.7 4 3.1 2 1.1 2 .8 4 .8 4 .4 4 .1 3-.3 3-.7 2-.8 2-1.5 2-2.1 2-2.8 5-7.8 6-11.3 7-14.8 14.3-32.4M385 25.5l5 13.2 5 12.2 4 9.1 4 8.2 4 7.4 3 4.8 5 6.8 4 4.4 5 4 3 1.8 2 .8 2 .5 5 .7 3-.1 3-.5 9-2.2 3-1.1 6-2.7 2-.7 2-.5 2-.1 4 .3 6 1 1 .6 2 2.1 5 6.9 15 24.2 3 4.4 4 5.2 4 4.5 4 3.5 4 2.9 2 1.1 2 .7 4 .7 4 .4 4 .1 3-.3 3-.7 2-.7 2-1.3 2-2.1 3-4.1 4-6.1 6-10.9 7-14.6 14.3-32.2M385 25.1l5 13.2 5 12.2 4 9.1 4 8.1 4 7.3 3 4.8 5 6.8 4 4.4 5 4 3 1.8 2 .7 2 .5 5 .7 3-.1 3-.5 9-2.2 3-1.1 6-2.7 2-.7 2-.4 2-.1 4 .2 6 1.1 1 .6 2 2 5 6.8 3 4.7 6 9.9 6 9.3 3 4.3 4 5 4 4.4 4 3.4 4 2.7 2 1 2 .6 4 .7 5 .5 4 0 3-.4 3-.8 2-.9 2-1.6 2-2.3 4-5.5 3-4.7 6-11 6-12.4 14.3-31.9M385 24.7l5 13.1 5 12.2 4 9.1 4 8 4 7.4 3 4.7 5 6.8 4 4.3 5 3.9 3 1.8 4 1.2 5 .7 3-.1 3-.4 9-2.2 3-1.1 6-2.6 2-.7 2-.5 2-.1 4 .2 6 1.1 1 .6 2 2 5 6.8 14 22 4 5.7 3 3.7 4 4.4 4 3.4 5 3.4 2 .9 2 .6 4 .7 5 .4 4 0 3-.4 3-.7 2-.9 2-1.5 2-2.2 4-5.3 3-4.5 6-10.8 6-12.2 14.3-31.6M385 24.3l5 13.1 5 12.1 4 9.1 4 8 4 7.3 3 4.7 5 6.7 4 4.3 5 3.9 3 1.8 4 1.1 5 .8 3-.2 3-.4 9-2.2 3-1 6-2.7 2-.7 2-.4 2-.1 4 .2 6 1.1 1 .5 2 2.1 5 6.6 3 4.6 5 8.1 6 9.1 4 5.5 3 3.6 4 4.2 4 3.3 5 3.2 2 .9 2 .6 4 .6 5 .4 4-.1 3-.3 3-.6 2-.9 2-1.4 2-2.1 4-5.1 3-4.3 3-5 3-5.6 6-12 14.3-31.3M386 26.6l5 12.8 5 12 3 6.6 5 9.9 4 7 4 5.8 4 5 4 4 5 3.6 3 1.5 5 1.2 3.6 .3 2.4-.1 3-.4 9-2.2 3-1 6-2.6 4-1.2 2-.1 4 .3 6 1 1 .6 2 2 5 6.6 8 12.5 6 8.9 4 5.4 3 3.5 4 4 4 3.2 5 3 2 .9 2 .5 4 .6 5 .4 4-.1 3-.3 3-.6 2-.8 2-1.4 2-1.9 4-4.9 3-4.2 3-4.9 3-5.4 6-11.8 14.3-31.1M386 26.1l5 12.8 5 11.9 3 6.6 5 9.8 4 7 4 5.8 4 5 4 3.9 5 3.6 3 1.5 5 1.1 3.6 .4 2.4-.2 3-.4 9-2.1 3-1.1 6-2.6 4-1.1 2-.1 4 .3 6 1 1 .6 2 1.9 5 6.6 8 12.3 5 7.3 4 5.4 3 3.6 4 4.1 4 3.3 5 3.1 4 1.5 4 .7 6 .5 4-.1 4-.4 3-.8 2-1 2-1.6 2-2 3-3.7 3-4.1 3-4.7 4-7.1 6-11.9 13.3-28.7M386 25.6l5 12.8 5 11.8 3 6.6 5 9.7 4 7 4 5.7 4 4.9 4 3.9 5 3.6 3 1.5 5 1.1 3.6 .3 2.4-.1 3-.4 9-2.1 3-1 6-2.6 4-1.1 2-.1 4 .2 6 1 1 .6 2 2 5 6.4 8 12.2 5 7.1 4 5.3 3 3.5 4 4 4 3.2 5 2.9 4 1.5 4 .6 6 .5 4-.1 4-.4 3-.7 2-1 2-1.5 2-2 3-3.5 3-3.9 3-4.7 4-6.9 6-11.7 13.3-28.4M386 25.1l5 12.7 5 11.8 3 6.5 5 9.7 4 6.9 4 5.7 4 4.9 4 3.8 5 3.6 3 1.5 5 1.1 3.6 .3 2.4-.1 3-.5 9-2 3-1.1 6-2.5 4-1.1 2-.1 4 .3 6 .9 1 .6 2 1.9 5 6.4 8 12 5 7 4 5.2 3 3.4 4 3.8 4 3.1 5 2.8 4 1.4 4 .6 6 .5 4-.1 4-.4 3-.6 2-1 2-1.4 2-1.9 3-3.4 3-3.8 3-4.5 4-6.9 6-11.4 13.3-28.2M386 24.5l5 12.7 5 11.7 3 6.5 5 9.7 4 6.8 4 5.6 4 4.9 4 3.8 5 3.5 3 1.5 5 1.1 3.6 .3 2.4-.1 3-.4 9-2.1 3-1 6-2.5 4-1.1 2-.1 4 .2 6 1 1 .6 2 1.9 5 6.3 8 11.8 4 5.5 4 5.3 3.1 3.5 4.9 4.7 4 2.9 5 2.7 4 1.4 4 .6 6 .3 4 0 4-.4 3-.6 2-.9 2-1.4 2-1.8 3-3.2 3-3.8 3-4.4 4-6.6 6-11.3 13.3-27.8M387 26.6l5 12.4 5 11.5 3.1 6.4 4.9 9.2 4 6.5 4 5.4 4 4.6 3 2.7 5 3.5 3 1.4 5 1.1 3.6 .3 5.4-.6 9-2 3-1 6-2.5 4-1 2-.1 4 .2 6 1 1 .5 2 1.9 5 6.3 8 11.6 4 5.4 4 5.1 3.1 3.4 4.9 4.6 4 2.8 5 2.6 4 1.3 5 .7 6 .3 4-.1 4.6-.6 2.4-.7 2-1.1 2-1.6 2-1.9 3-3.2 3-3.9 3-4.5 4-6.7 6-11.3 12.3-25.6M387 26l5 12.3 5 11.5 3.1 6.4 4.9 9.1 4 6.4 4 5.3 4 4.6 3 2.7 5 3.4 3 1.4 5 1.1 3.6 .3 5.4-.5 9-2 3-1 6-2.5 4-1 2-.1 4 .2 6 1 2 1.4 2 2.2 5 6.3 7 10.1 4 5.3 4 5 3.1 3.4 4.9 4.4 4 2.7 5 2.5 4 1.3 5 .6 6 .3 4-.1 4.6-.6 2.4-.7 2-1 2-1.5 2-1.9 3-3.1 3-3.8 3-4.3 4-6.6 6-11.2 12.3-25.2M387 25.4l5 12.2 5 11.4 3.1 6.4 4.9 9 4 6.4 4 5.3 4 4.5 3 2.7 5 3.4 3 1.4 5 1 3.6 .3 5.4-.5 9-2 3-1 6-2.4 4-1 2-.1 4 .2 6 1 2 1.3 2 2.2 5 6.2 7 10 4 5.2 4 4.9 3 3.2 4 3.5 4 2.9 5 2.6 3 1.1 2 .5 5 .6 6 .3 4-.1 4.6-.6 2.4-.6 2-1 2-1.5 2-1.8 3-3 3-3.6 3-4.3 4-6.4 6-11 12.3-25M387 24.7l5 12.2 5 11.4 3.1 6.3 4.9 9 4 6.3 4 5.2 4 4.5 3 2.6 5 3.4 3 1.4 5 1 3.6 .3 5.4-.5 9-2 3-.9 6-2.4 4-1.1 2-.1 4 .3 6 .9 2 1.3 2 2.2 5 6.2 7 9.7 4 5.2 4 4.7 3 3.1 4 3.5 4 2.8 5 2.5 4 1.3 4 .6 7 .4 5 0 4-.4 2-.4 2-.8 2-1.2 3-2.5 3-2.9 3-3.5 3-4.2 4-6.3 6-10.8 12.3-24.7M388 26.6l4 9.6 5 11.3 3.1 6.3 4.9 8.9 4 6.2 4 5.2 4 4.4 3 2.6 5 3.4 3 1.3 5 1.1 3.6 .2 5.4-.5 9-1.9 3-.9 6-2.4 4-1 2-.1 4 .2 6 .9 2 1.3 2 2.2 5 6 7 9.7 4 5 4 4.7 3 3 4 3.4 4 2.7 5 2.4 4 1.3 5 .6 7 .4 4-.1 5-.6 2-.5 2-.9 2-1.4 3-2.6 3-3 3-3.7 3-4.2 4.3-6.8 5.7-10.5 11.3-22.5M388 25.8l4 9.7 5 11.1 3.1 6.3 4.9 8.8 4 6.3 4 5.1 4 4.4 3 2.5 5 3.3 3 1.3 5 1.1 3.6 .3 5.4-.5 9-1.9 3-1 6-2.3 4-1 2-.1 4 .2 6 .9 2 1.3 2 2.1 5 6 9 12 4 4.8 4 4.2 5 4.2 4 2.6 5 2.3 4 1.3 5 .6 7 .4 4-.1 5-.6 2-.5 2-.9 2-1.3 3-2.5 3-2.9 3-3.6 3-4.1 4.3-6.7 5.7-10.3 11.3-22.2M388 25.1l4 9.6 5 11.1 3.1 6.2 4.9 8.8 4 6.1 4 5.1 4 4.3 3 2.6 5 3.2 3 1.3 5 1.1 3.6 .2 5.4-.4 9-1.9 3-1 6-2.3 4-1 2-.1 4 .3 6 .9 2 1.3 2 2.1 5 5.8 9 11.8 4 4.7 4 4.1 5 4.1 4 2.6 5 2.2 4 1.2 5 .6 7 .4 4-.1 5-.5 3-.9 2-1.1 2-1.4 2.7-2.3 3.3-3.3 3-3.7 3-4.2 3.3-5.1 5.7-10.1 11.3-22M388 24.4l4 9.5 5 11 3.1 6.2 4.9 8.7 4 6.1 4 5 4 4.3 3 2.5 5 3.2 3 1.3 5 1 3.6 .3 5.4-.5 9-1.8 3-1 6-2.2 4-1 2-.1 4 .2 6 .9 2 1.3 2 2.1 5 5.8 9 11.5 4 4.6 4 4.1 5 3.9 4 2.5 5 2.2 4 1.1 5 .7 7 .3 5-.2 4-.4 3-.9 2-1 2-1.4 3-2.5 3-3 3-3.5 3-4.2 4-6.1 6-10.7 10.3-19.9M389 26l5 11.5 4 8.6 4 7.5 4 6.8 4 5.8 4 4.8 4 3.9 3 2.3 4 2.5 3 1.3 5 1 3.6 .2 5.4-.4 9-1.9 3-.9 6-2.2 4-1 2-.1 4 .2 6 .9 2 1.3 2 2 5 5.7 9 11.4 4 4.5 4 4 5 3.8 4 2.4 5 2.1 4 1.2 5 .6 7 .3 5-.2 4-.4 3-.8 2-1 2-1.4 3-2.4 3-2.9 3-3.5 3-4 4-6.1 6-10.5 10.3-19.6M389 25.2l5 11.5 4 8.4 4 7.5 4 6.7 4 5.8 4 4.7 4 3.9 3 2.3 4 2.4 3 1.3 5 1 3.6 .2 5.4-.4 9-1.8 3-.9 6-2.3 4-.9 2-.1 4 .2 6 .9 2 1.2 2 2 5 5.7 8.1 10.2 4.9 5.4 4 3.8 5 3.8 4 2.4 5 2 4 1.1 5 .6 7 .2 5-.1 4-.4 3-.8 2-1 2-1.3 3-2.3 3-2.8 3-3.4 3-4 4-5.9 6-10.4 10.3-19.4M389 24.4l5 11.4 4 8.4 4 7.4 4 6.7 4 5.6 4 4.7 4 3.9 3 2.2 4 2.4 3 1.3 5 1 3.6 .2 5.4-.4 9-1.8 3-.9 6-2.2 4-1 2 0 4 .2 6 .8 2 1.3 2 2 5 5.5 8.1 10 4.9 5.3 4 3.8 5 3.7 4 2.3 5 2 4 1 5 .6 7 .2 5-.1 4-.4 3-.8 2-.9 2-1.3 3-2.3 3-2.7 3-3.3 3-3.9 4-5.8 6-10.2 10.3-19.2M390 25.9l5 11.1 4 8.1 4 7.2 4 6.4 3.2 4.3 4.8 5.5 3 2.8 4 2.8 3 1.7 3 1.3 5 .9 4 .3 5-.5 9-1.7 3-.9 6-2.2 4-.9 2-.1 4 .2 6 .9 2 1.2 2 1.9 5 5.5 8.1 9.9 4.9 5.2 4 3.7 5 3.6 4 2.2 5 1.9 4 1.1 5 .5 7 .2 5-.1 4-.4 3-.7 2-.9 2-1.3 3-2.2 3-2.7 3-3.2 3-3.8 4-5.7 6-10 10.3-19M390 25l5 11 4 8.1 4 7.1 4 6.3 3.2 4.3 4.8 5.4 3 2.8 4 2.8 3 1.7 3 1.2 5 1 4 .2 5-.4 9-1.8 3-.8 6-2.2 4-.9 2-.1 4 .2 6 .9 2 1.2 2 1.9 5 5.4 8.1 9.7 4.9 5.1 4 3.6 5 3.5 4 2.2 5 1.9 4 1 5 .5 8 .3 5-.2 4-.5 2-.6 2-.9 3-1.9 3-2.2 3-2.8 3-3.4 3-3.9 3-4.2 6-9.9 10.3-18.8M391 26.3l5 10.8 3 6 4 7 4 6.3 3.2 4.2 4.8 5.4 3 2.7 4 2.8 3 1.7 3 1.2 5 .9 4 .2 5-.4 9-1.7 3-.9 6-2.1 4-.9 2-.1 4 .2 6 .8 1 .5 2 1.6 6 6.4 8.1 9.5 4.9 5 4 3.6 5 3.4 4 2.1 5 1.8 4 1 5 .5 8 .2 5-.1 4-.5 2-.5 2-.9 3-1.9 3-2.2 3-2.7 3-3.3 3-3.8 3-4.2 6-9.7 10.3-18.5M391 25.4l5 10.7 3 5.9 4 7 4 6.2 3.2 4.2 4.8 5.3 3 2.7 4 2.7 3 1.7 3 1.2 5 .9 4 .2 5-.4 9-1.7 3-.8 6-2.1 4-.9 2-.1 4 .2 6 .8 1 .5 2 1.6 6 6.2 8.1 9.4 4.9 4.9 4 3.5 4 2.7 4 2.2 5 1.9 5 1.3 5 .5 8 .2 5-.1 4-.5 2-.5 2-.9 3-1.8 3-2.1 3-2.7 3-3.2 3-3.7 3-4.1 6-9.6 10.3-18.3M391 24.4l5 10.7 3 5.8 4 6.9 4 6.2 3.2 4.2 4.8 5.2 3 2.7 4 2.6 3 1.7 3 1.2 5 .9 4 .2 5-.4 9-1.7 3-.8 6-2.1 4-.9 6 .1 6 .9 1 .4 2 1.6 6 6.2 8 9.1 5 4.9 4 3.4 4 2.7 4 2.1 5 1.9 5 1.2 5 .5 8 .2 5-.1 4-.5 2-.5 2-.8 3-1.8 3-2.1 3-2.6 3-3.1 3-3.7 3-4 6-9.4 10.3-18.1M392 25.6l4 8.4 3 5.8 5 8.5 4 5.9 4 4.7 4 4.1 3 2.5 4 2.4 3 1.5 2 .7 5 .9 4 .3 5-.5 9-1.6 3-.8 6-2.1 4-.8 6 .1 6 .8 1 .4 2 1.6 6 6.1 8 8.9 5 4.9 4 3.3 4 2.6 4 2.1 5 1.8 5 1.2 5 .5 8 .2 5-.1 4-.5 2-.5 2-.8 3-1.7 3-2 3-2.6 3-3.1 3-3.5 4-5.4 6-9.6 9.3-16.2M392.6 25.9l4.4 9 3 5.6 4 6.6 4 5.8 4 4.7 4 4 3 2.5 4 2.4 3 1.5 2 .7 5 .9 4 .2 5-.4 9-1.6 10-3.1 3-.6 6 .1 6 .8 1 .4 2 1.6 6 6 8 8.8 5 4.7 4 3.3 4 2.6 4 2 5 1.8 5 1.2 5 .4 8 .2 5-.1 4-.4 3-.9 2-.9 5-3.2 3-2.5 3-3 3-3.5 4-5.3 6-9.4 9.3-16M393 25.7l4 8.1 3 5.5 4 6.6 4 5.7 4 4.7 4 4 3 2.4 4 2.4 3 1.5 2 .6 5 .9 4 .2 5-.4 9-1.6 10-3 3-.6 6 .1 6 .8 1 .4 2 1.5 6 6 8 8.6 5 4.7 4 3.2 5 3 4 1.9 5 1.6 5 1 6 .4 6.2 .1 4.8-.1 4-.4 3-.8 2-.9 5-3.2 3-2.4 3-3 3-3.4 4-5.2 6-9.3 9.3-15.8M393 24.6l4 8.1 3 5.4 4 6.5 4 5.7 4 4.7 4 3.9 3 2.3 4 2.4 3 1.5 2 .7 5 .8 4 .2 5-.4 9-1.5 10-3.1 3-.5 6 .1 6 .7 1 .5 2 1.5 6 5.8 8 8.6 5 4.5 4 3.2 4 2.4 4 2 5 1.7 5 1.1 5 .4 8 .2 5-.1 4-.4 3-.8 2-.9 5-3.1 3-2.3 3-3 3-3.3 4-5.1 6-9.2 9.3-15.6M394 25.6l4 7.8 3 5.2 4 6.3 4 5.4 4 4.3 4 3.7 3 2.1 4 2.3 3 1.3 2 .5 5 .7 4 .1 5-.5 8-1.4 10-3 3-.6 6 .1 6 .8 1 .4 2 1.5 6 5.8 8 8.4 5 4.5 4 3 5 3 4 1.7 5 1.6 5 .9 6 .4 6.2 .1 4.8-.1 4-.4 3-.8 2-.8 5-3 3-2.4 3-2.8 3-3.3 4-5.1 6-9 9.3-15.4M395 26.5l4 7.5 3 5 4 6 3 3.9 4 4.3 4 3.7 3 2.1 4 2.2 3 1.3 2 .5 5 .7 4 .1 5-.5 8-1.4 10-3 3-.5 6 .1 6 .7 1 .4 2 1.5 6 5.7 8 8.3 5 4.4 4 3 5 2.9 4 1.7 5 1.5 5 1 6 .3 6.2 .1 4.8-.1 4-.4 3-.8 2-.8 5-2.9 3-2.3 3-2.8 3-3.3 4-4.9 6-8.9 9.3-15.2M395 25.3l4 7.5 3 4.9 4 6 3 3.8 4 4.3 4 3.6 3 2.1 4 2.2 3 1.2 2 .5 5 .7 4 .1 5-.5 8-1.3 10-3 3-.5 6 .1 6 .7 1 .5 2 1.4 6 5.6 8 8.2 5 4.3 4 2.9 5 2.9 4 1.7 5 1.5 5 .9 6 .3 6.2 .1 4.8-.1 4-.4 3-.7 2-.8 3-1.7 3-1.9 3-2.4 3-2.9 3-3.4 3-3.7 6-8.7 9.3-15.1M396 26.1l3 5.4 4 6.5 3 4.3 3 3.9 4 4.2 4 3.6 3 2 4 2.2 3 1.2 2 .5 5 .7 4 .1 5-.5 8-1.4 10-2.8 3-.6 6 .1 6 .7 1 .5 2 1.4 6 5.5 8 8 5 4.3 4 2.9 5 2.8 4 1.6 5 1.5 5 .9 6 .3 6.2 .1 4.8-.1 4-.4 3-.7 2-.8 3-1.6 3-1.9 3-2.4 3-2.8 3-3.3 3-3.6 6-8.6 9.3-15M396 24.9l3 5.4 4 6.4 3 4.3 3 3.8 4 4.2 4 3.5 3 2 4 2.1 3 1.2 2 .5 5 .7 4 .1 5-.5 8-1.3 10-2.9 3-.5 6 .1 6 .7 1 .4 2 1.4 6 5.5 8 7.9 5 4.2 4 2.8 5 2.8 4 1.6 5 1.4 5 .9 6 .3 6.2 .1 4.8-.1 4-.4 3-.7 2-.8 3-1.5 3-1.9 3-2.3 3-2.8 3-3.2 3-3.6 6-8.5 9.3-14.7M397 25.5l3 5.2 4 6.1 3 4.1 3 3.6 4 3.9 3 2.6 3 2 4 2.1 3 1.2 2 .5 5 .6 4 .1 5-.4 8-1.4 10-2.8 3-.5 6 .1 6 .7 1 .4 2 1.4 6 5.4 8 7.8 5 4.1 4 2.8 5 2.7 4 1.6 6 1.6 5 .7 12 .3 8-.4 3-.7 2-.8 3-1.5 3-1.9 3-2.3 3-2.7 3-3.2 3-3.5 6-8.4 9.3-14.5M398 26l3 4.9 4 6 3 3.9 2.2 2.4 3.8 3.8 4 3.2 3 1.8 4 2 3 1 3 .5 4 .4 3 0 5-.4 8-1.3 10-2.8 3-.5 6 .1 6 .7 1 .4 2 1.3 6 5.4 8 7.6 5 4.1 4 2.7 5 2.6 4 1.6 6 1.6 5 .7 12 .3 8-.4 3-.7 2-.8 3-1.5 3-1.8 3-2.2 3-2.7 3-3.1 3-3.5 6-8.2 9.3-14.4M399 26.4l4 6.2 3 4.2 3 3.7 2 2.1 4 3.7 3 2.4 3 1.7 4 2 3 1 3 .5 4 .4 3 0 5-.4 8-1.3 10-2.8 3-.5 6 .1 6 .7 1 .4 2 1.4 6 5.2 8 7.6 5 4 4 2.6 5 2.6 4 1.6 6 1.5 5 .7 12 .3 8-.4 3-.7 2-.7 3-1.5 3-1.8 3-2.2 3-2.6 3-3.1 3-3.4 6-8.1 9.3-14.3M399 25.1l4 6.2 3 4.1 3 3.6 2 2.1 4 3.7 3 2.3 3 1.8 4 1.9 3 1 3 .5 4 .4 3 0 5-.4 8-1.3 10-2.7 3-.5 6 .1 6 .7 1 .3 2 1.4 6 5.2 8 7.4 5 3.9 4 2.7 5 2.5 4 1.5 6 1.5 5 .7 12 .3 8-.4 3-.7 2-.7 3-1.4 3-1.8 3-2.1 3-2.6 3-3 3-3.4 6-8 9.3-14.1M400.1 25.5l5.9 8.5 3 3.6 3 3 3 2.7 3 2.3 3 1.7 4 1.9 3 1 3 .5 4 .4 3 0 5-.5 8-1.2 10-2.7 3-.5 6 .1 6 .7 1 .4 2 1.3 6 5.1 7 6.5 3 2.4 4 3 3 1.9 5 2.5 5 1.8 6 1.3 5 .6 11 .2 8-.4 3-.7 2-.7 3-1.4 3-1.7 3-2.1 3-2.6 3-2.9 3-3.4 6-7.9 9.3-13.9M401 25.5l3 4.4 3 3.9 3 3.3 3 2.9 3 2.5 3 2.1 6 3 3 .9 3 .5 4 .4 3 .1 5-.5 8-1.2 10-2.7 3-.5 6 .1 6 .7 1 .4 2 1.3 6 5 7 6.4 3 2.4 4 2.9 3 1.9 5 2.4 5 1.8 6 1.3 5 .6 11 .2 8-.4 3-.6 2-.7 6-3.1 3-2.1 3-2.5 3-2.9 3-3.3 3-3.7 4-5.5 8.3-12.3M402 25.6l3 4.2 3 3.7 2.2 2.3 3.8 3.6 3 2.3 2 1.3 4 2.1 3 1.2 3 .8 4 .5 3 .2 3 0 4-.4 8-1.3 10-2.6 3-.5 6 .1 6 .7 1 .4 2 1.3 6 4.9 6 5.5 3 2.4 4 3 4 2.5 5 2.4 5 1.7 6 1.4 6 .5 11 .2 5-.2 3-.4 2-.4 3-1.1 3-1.5 3-1.7 3-2.2 3-2.6 3.3-3.4 2.7-3 7-9.3 7.3-10.8M403 25.6l5 6.4 2.2 2.3 3.8 3.5 3 2.3 2 1.3 4 2.1 3 1.2 3 .7 4 .6 3 .2 3-.1 4-.4 8-1.2 10-2.6 3-.5 6 .1 6 .7 1 .4 2 1.2 6 4.9 7 6.3 3 2.3 4 2.8 4 2.4 5 2.2 5.2 1.6 5.8 1.1 7 .5 10 .1 7-.5 2-.5 3-1.1 3-1.4 3-1.7 3-2.2 3-2.6 3.3-3.2 2.7-3.1 7-9.1 7.3-10.7M404 25.5l5 6.1 6 5.4 3 2.2 2 1.2 6 2.6 3 .8 4 .5 3 .2 3-.1 4-.4 8-1.2 10-2.5 3-.5 6 .1 6 .7 1 .3 2 1.3 6 4.8 7 6.2 3 2.3 4 2.8 4.1 2.3 5.9 2.5 5 1.4 6 1 7 .4 10 .1 4-.3 3-.4 2-.6 3-1.2 3-1.5 3-1.8 5-4 3.3-3.2 2.7-3 7-9.1 7.3-10.5M405 25.4l3 3.6 2 2.1 3 2.7 3 2.4 4 2.5 6 2.7 3 .7 4 .5 3 .2 3 0 4-.4 8-1.2 10-2.5 3-.5 6 .1 6 .6 1 .4 2 1.2 6 4.8 6 5.3 4 3 5 3.4 4 2.1 6 2.4 6 1.4 5 .8 8 .3 9-.1 4-.3 2-.3 2-.6 3-1.1 3-1.5 3-1.8 5-3.9 3.3-3.2 2.7-2.9 7-9 7.3-10.4M407 26.3l2 2.2 3 2.8 3 2.6 3 2.1 2 1.1 4 1.9 3 1 2 .4 7 .7 6-.3 10-1.5 8-2 4-.7 6 .1 6 .6 1 .4 2 1.2 6 4.7 7 6 4 2.9 5 3.2 4 2 6 2.1 7 1.5 5 .5 9 .2 8.6-.2 4.4-.7 3-1.1 3-1.3 5-3 3-2.3 3-2.7 5-5.4 6.3-8 7-10M408 25.9l5 4.7 5 3.7 6 3 3 1 2 .5 7 .6 6-.3 10-1.4 8-2.1 4-.7 6 .1 6 .7 1 .3 2 1.2 6 4.7 7 5.9 4 2.9 5 3.1 4 1.9 6 2.1 7 1.5 5 .5 10 .2 8-.3 4-.6 3-1 3-1.4 5-2.9 3-2.3 3-2.7 5-5.2 6.3-8 6.7-9.4M410.2 26.6l4.8 4 3 2.1 2 1.1 6 2.5 2 .6 4 .5 5 .3 7-.5 8-1.2 8-2 4-.7 6 .1 6 .6 1 .3 2 1.2 6 4.7 7 5.8 4 2.8 5 3.1 4 1.9 6 2.1 7 1.4 5 .5 10.2 .2 7.8-.3 4-.6 3-1 3-1.3 5-2.9 5-4 5-4.9 6-7.3 7-9.6M412 26.6l5 3.8 3 1.7 3 1.4 3 1.2 2 .5 5 .6 5 .2 7-.7 7-1 8-2 4-.7 6 .1 6 .6 1 .4 2 1.2 6 4.5 7 5.7 4 2.9 5 3 4 1.9 6 2 7 1.4 5 .5 10.2 .2 7.8-.3 4-.6 3-1 3-1.3 5-2.8 5-3.9 5-4.9 5-6 7-9.3M413 25.8l5 3.6 6 2.8 4 1.3 6 .7 5 0 7-.7 6-.9 8-2 4-.6 6 0 6 .7 1 .3 2 1.2 6 4.5 7 5.6 4 2.8 5 3 4 1.8 6 2 7 1.4 5 .5 10.2 .2 7.8-.3 4-.6 3-.9 3-1.3 5-2.8 5-3.9 5-4.8 5-5.9 6-7.8M416 26.4l4 2.4 6 2.4 3 .7 6 .6 6-.1 10-1.3 10-2.4 3-.4 6 .1 6 .6 1 .3 2 1.2 6 4.4 7 5.6 4 2.7 5 3 4 1.8 6 2 7 1.4 5 .4 11 .2 7-.2 4-.7 5-1.7 5-2.6 5-3.6 5-4.5 5-5.7 6-7.6M419 26.6l5 2.2 3 1 5 .8 4.6 .3 5.4-.4 9-1.1 10-2.4 4-.4M468 26.6l7.5 .6 1.5 .4 1 .5 7 5.1 7 5.5 4 2.7 5 2.9 6 2.5 5 1.5 7 1.2 5 .4 9.2 .1 7.4-.2 3.4-.4 4-1.2 3-1.2 3-1.5 5-3.4 5-4.3 4-4.2 6-7.2M422 26.3l3 1.2 3 .8 5 .6 3.6 .2 3.4-.1 5-.5 7-1 4-1M478 26.4l7 5 7 5.4 3 2 5 3 5 2.3 6 1.9 7 1.4 5 .4 11 .2 7-.2 4-.6 4-1.3 5-2.4 5-3.2 5-4.3 4-4.1 5-6M428 26.6l5 .6 3.6 .2 4.4-.2 5-.6M480 26l5 3.6 6 4.7 4 2.7 6 3.4 5 2.1 5 1.6 7 1.3 5 .4 11 .2 7-.2 4-.6 4-1.3 5-2.3 5-3.2 4.3-3.6 3.7-3.6 5-5.8M483 26.4l9 6.7 5 3.2 5 2.7 5 1.9 5 1.4 7 1.2 6 .4 9 .1 6.6-.2 3.4-.4 4-1.1 5-2.1 4-2.3 5-3.8 4-3.7 4-4.3M485 26l7 5.3 5 3.1 5 2.7 5 1.9 5 1.4 6 1 5 .4 9 .2 6-.1 5-.3 4-1 4-1.4 4-2 4-2.6 5-4.1 4-4M488 26.5l5 3.6 6 3.6 4.1 1.9 4.9 1.7 5 1.3 6 .9 6 .4 9 .1 6.6-.2 3.4-.4 4-1.1 4-1.5 3-1.5 4-2.6 4.3-3.4 3.7-3.5M490 26.2l5 3.3 5 2.8 4 1.7 5 1.7 5 1.1 6 .8 6 .3 8 .1 6.6-.2 3.4-.4 3-.7 3.7-1.3 3.3-1.5 4-2.4 4-3 3-2.6M493.1 26.4l4.9 2.9 4 2 5 1.8 4 1.1 5 .9 5 .6 13 .3 9-.4 3-.6 3-1 4-1.6 3-1.6 3-1.9 4-3.1M496 26.3l4 2.1 3.1 1.4 4.9 1.7 4 .9 5 .9 4 .4 12.2 .3 8.8-.3 3-.5 2-.5 4-1.4 3-1.3 3-1.7 3-2M500 26.5l3.1 1.3 3.9 1.4 4 1.1 4 .7 7 .8 11.2 .2 7.8-.2 5-.8 6-2.1 5-2.5M505 26.6l6 1.7 7 1.2 5 .3 10.2 .2 7.4-.2 3.4-.4 4-.9 5-1.9M512 26.5l5 .8 4 .4 12.2 .3 8.8-.3 3-.4 3-.8" fill="none" stroke="#2a2a2a" stroke-opacity="0.62" stroke-width="0.75" stroke-linejoin="round"/>
<path d="M385.8 29.8V27.6M387.8 35.2V27.6M389.8 40.5V27.6M391.8 45.6V27.6M393.8 50.6V27.6M395.8 55.4V27.6M397.8 60.1V27.6M399.8 64.6V27.6M401.8 68.7V27.6M403.8 72.8V27.6M405.8 76.6V27.6M407.8 80.2V27.6M409.8 83.5V27.6M411.8 86.5V27.6M413.8 89.3V27.6M415.8 91.9V27.6M417.8 94.3V27.6M419.8 96.2V27.6M421.8 98V27.6M423.8 99.6V27.6M425.8 100.9V27.6M427.8 102V27.6M429.8 102.6V27.6M431.8 103.1V27.6M433.8 103.5V27.6M435.8 103.7V27.6M437.8 103.7V27.6M439.8 103.5V27.6M441.8 103.1V27.6M443.8 102.7V27.6M445.8 102.2V27.6M447.8 101.6V27.6M449.8 101.1V27.6M451.8 100.5V27.6M453.8 99.7V27.6M455.8 98.7V27.6M457.8 97.7V27.6M459.8 96.8V27.6M461.8 96.1V27.6M463.8 95.5V27.6M465.8 95.4V27.6M467.8 95.5V27.6M469.8 95.6V27.6M471.8 95.9V27.6M473.8 96.2V27.6M475.8 96.7V27.6M477.8 98.1V27.6M479.8 100.7V27.6M481.8 103.7V27.6M483.8 106.6V27.6M485.8 109.8V27.6M487.8 113.3V27.6M489.8 117V27.6M491.8 120.7V27.6M493.8 124.2V27.6M495.8 127.8V27.6M497.8 131.4V27.6M499.8 135V27.6M501.8 138.5V27.6M503.8 141.7V27.6M505.8 144.9V27.6M507.8 148V27.6M509.8 151V27.6M511.8 153.8V27.6M513.8 156.5V27.6M515.8 159.2V27.6M517.8 161.8V27.6M519.8 164.1V27.6M521.8 166V27.6M523.8 167.3V27.6M525.8 168.4V27.6M527.8 169.3V27.6M529.8 170.1V27.6M531.8 170.5V27.6M533.8 170.6V27.6M535.8 169.9V27.6M537.8 168.7V27.6M539.8 167.2V27.6M541.8 165.3V27.6M543.8 162.3V27.6M545.8 158.5V27.6M547.8 154.3V27.6M549.8 150V27.6M551.8 146V27.6M553.8 141.8V27.6M555.8 137.5V27.6M557.8 133.1V27.6M559.8 128.6V27.6M561.8 124V27.6M563.8 119.4V27.6M565.8 114.8V27.6M567.8 109.9V27.6M569.8 105.1V27.6M571.8 100.3V27.6M573.8 95.5V27.6M575.8 90.8V27.6M577.8 86.2V27.6M579.8 81.6V27.6" fill="none" stroke="#222" stroke-opacity="0.5" stroke-width="0.5" stroke-linejoin="round"/>
<path d="M385 27.6l5 13.4 5 12.5 4 9.3 4 8.4 4 7.6 3 5 5 7.1 2 2.5 2 2.1 5 4.2 3 1.9 2 .8 2 .5 3 .6 2 .2 3-.1 3-.5 9-2.4 3-1.1 6-2.9 2-.7 2-.5 3-.1 4 .4 4.5 .8 .5 .2 1 .6 1 1 1 1.2 6 8.8 17 30.4 6 9.5 4 5.8 6 7.9 3 3.4 2 1.5 2 1.1 3 1.4 2 .7 2 .4 2 0 1-.2 2-1 2-1.5 2-1.7 1-1.1 2-3.1 2-3.8 7-14.6 5-10.8 7-16.1 8-19.2 7.3-17" fill="none" stroke="#1c1c1c" stroke-opacity="1" stroke-width="1" stroke-linejoin="round"/>
<g clip-path="url(#bp_b_up)"><path d="M385 27.6l6 16 7 17 5 10.6 3 5.8 2 3.6 2 3.2 4 5.8 3 3.8 2 2.1 3 2.6 3 2.3 2 1.2 1 .5 2 .6" fill="none" stroke="#111" stroke-opacity="0.40" stroke-width="7.0" stroke-linecap="round" stroke-linejoin="round"/><path d="M385 27.6l6 16 7 17 5 10.6 3 5.8 2 3.6 2 3.2 4 5.8 3 3.8 2 2.1 3 2.6 3 2.3 2 1.2 1 .5 2 .6" fill="none" stroke="#111" stroke-opacity="0.48" stroke-width="4.2" stroke-linecap="round" stroke-linejoin="round"/><path d="M385 27.6l6 16 7 17 5 10.6 3 5.8 2 3.6 2 3.2 4 5.8 3 3.8 2 2.1 3 2.6 3 2.3 2 1.2 1 .5 2 .6" fill="none" stroke="#111" stroke-opacity="0.64" stroke-width="2.1" stroke-linecap="round" stroke-linejoin="round"/><path d="M540 167l1-.9 1-1.1 2-3.1 2-3.8 9-18.8 9-20.3 9-21.6 7.3-17" fill="none" stroke="#111" stroke-opacity="0.35" stroke-width="4.0" stroke-linecap="round" stroke-linejoin="round"/><path d="M540 167l1-.9 1-1.1 2-3.1 2-3.8 9-18.8 9-20.3 9-21.6 7.3-17" fill="none" stroke="#111" stroke-opacity="0.42" stroke-width="2.4" stroke-linecap="round" stroke-linejoin="round"/><path d="M540 167l1-.9 1-1.1 2-3.1 2-3.8 9-18.8 9-20.3 9-21.6 7.3-17" fill="none" stroke="#111" stroke-opacity="0.56" stroke-width="1.2" stroke-linecap="round" stroke-linejoin="round"/><path d="M478 98.4l2 2.6 4 5.9 2 3.2 14 25.2 5 8.4 6 9 6 8 3 3.7 2 1.8 1 .7 3 1.6 3 1.3 2 .6 2 .2" fill="none" stroke="#111" stroke-opacity="0.25" stroke-width="2.5" stroke-linecap="round" stroke-linejoin="round"/><path d="M478 98.4l2 2.6 4 5.9 2 3.2 14 25.2 5 8.4 6 9 6 8 3 3.7 2 1.8 1 .7 3 1.6 3 1.3 2 .6 2 .2" fill="none" stroke="#111" stroke-opacity="0.30" stroke-width="1.5" stroke-linecap="round" stroke-linejoin="round"/><path d="M478 98.4l2 2.6 4 5.9 2 3.2 14 25.2 5 8.4 6 9 6 8 3 3.7 2 1.8 1 .7 3 1.6 3 1.3 2 .6 2 .2" fill="none" stroke="#111" stroke-opacity="0.40" stroke-width="0.8" stroke-linecap="round" stroke-linejoin="round"/><path d="M504.4,95.1L505,95.5" stroke="#111" stroke-opacity="0.12" stroke-width="3" fill="none"/><path d="M504.4,95.1L505,95.5" stroke="#111" stroke-opacity="0.12" stroke-width="1.4" fill="none"/><path d="M505,95.5L505.5,95.9" stroke="#111" stroke-opacity="0.12" stroke-width="3" fill="none"/><path d="M505,95.5L505.5,95.9" stroke="#111" stroke-opacity="0.12" stroke-width="1.4" fill="none"/><path d="M505.5,95.9L506.1,96.3" stroke="#111" stroke-opacity="0.11" stroke-width="3" fill="none"/><path d="M505.5,95.9L506.1,96.3" stroke="#111" stroke-opacity="0.11" stroke-width="1.4" fill="none"/><path d="M506.1,96.3L506.6,96.8" stroke="#111" stroke-opacity="0.11" stroke-width="3" fill="none"/><path d="M506.1,96.3L506.6,96.8" stroke="#111" stroke-opacity="0.11" stroke-width="1.4" fill="none"/><path d="M506.6,96.8L507.2,97.2" stroke="#111" stroke-opacity="0.10" stroke-width="3" fill="none"/><path d="M506.6,96.8L507.2,97.2" stroke="#111" stroke-opacity="0.10" stroke-width="1.4" fill="none"/><path d="M507.2,97.2L507.8,97.6" stroke="#111" stroke-opacity="0.10" stroke-width="3" fill="none"/><path d="M507.2,97.2L507.8,97.6" stroke="#111" stroke-opacity="0.10" stroke-width="1.4" fill="none"/><path d="M507.8,97.6L508.3,98" stroke="#111" stroke-opacity="0.10" stroke-width="3" fill="none"/><path d="M507.8,97.6L508.3,98" stroke="#111" stroke-opacity="0.10" stroke-width="1.4" fill="none"/><path d="M508.3,98L508.9,98.5" stroke="#111" stroke-opacity="0.09" stroke-width="3" fill="none"/><path d="M508.3,98L508.9,98.5" stroke="#111" stroke-opacity="0.09" stroke-width="1.4" fill="none"/><path d="M508.9,98.5L509.4,98.9" stroke="#111" stroke-opacity="0.09" stroke-width="3" fill="none"/><path d="M508.9,98.5L509.4,98.9" stroke="#111" stroke-opacity="0.09" stroke-width="1.4" fill="none"/><path d="M509.4,98.9L510,99.3" stroke="#111" stroke-opacity="0.08" stroke-width="3" fill="none"/><path d="M509.4,98.9L510,99.3" stroke="#111" stroke-opacity="0.08" stroke-width="1.4" fill="none"/><path d="M510,99.3L510.5,99.8" stroke="#111" stroke-opacity="0.08" stroke-width="3" fill="none"/><path d="M510,99.3L510.5,99.8" stroke="#111" stroke-opacity="0.08" stroke-width="1.4" fill="none"/><path d="M510.5,99.8L511,100.2" stroke="#111" stroke-opacity="0.07" stroke-width="3" fill="none"/><path d="M510.5,99.8L511,100.2" stroke="#111" stroke-opacity="0.07" stroke-width="1.4" fill="none"/><path d="M511,100.2L511.6,100.7" stroke="#111" stroke-opacity="0.07" stroke-width="3" fill="none"/><path d="M511,100.2L511.6,100.7" stroke="#111" stroke-opacity="0.07" stroke-width="1.4" fill="none"/><path d="M511.6,100.7L512.1,101.1" stroke="#111" stroke-opacity="0.07" stroke-width="3" fill="none"/><path d="M511.6,100.7L512.1,101.1" stroke="#111" stroke-opacity="0.07" stroke-width="1.4" fill="none"/><path d="M512.1,101.1L512.7,101.5" stroke="#111" stroke-opacity="0.06" stroke-width="3" fill="none"/><path d="M512.1,101.1L512.7,101.5" stroke="#111" stroke-opacity="0.06" stroke-width="1.4" fill="none"/><path d="M512.7,101.5L513.2,102" stroke="#111" stroke-opacity="0.06" stroke-width="3" fill="none"/><path d="M512.7,101.5L513.2,102" stroke="#111" stroke-opacity="0.06" stroke-width="1.4" fill="none"/><path d="M513.2,102L513.7,102.4" stroke="#111" stroke-opacity="0.05" stroke-width="3" fill="none"/><path d="M513.2,102L513.7,102.4" stroke="#111" stroke-opacity="0.05" stroke-width="1.4" fill="none"/><path d="M513.7,102.4L514.3,102.9" stroke="#111" stroke-opacity="0.05" stroke-width="3" fill="none"/><path d="M513.7,102.4L514.3,102.9" stroke="#111" stroke-opacity="0.05" stroke-width="1.4" fill="none"/><path d="M514.3,102.9L514.8,103.3" stroke="#111" stroke-opacity="0.05" stroke-width="3" fill="none"/><path d="M514.3,102.9L514.8,103.3" stroke="#111" stroke-opacity="0.05" stroke-width="1.4" fill="none"/><path d="M514.8,103.3L515.3,103.8" stroke="#111" stroke-opacity="0.04" stroke-width="3" fill="none"/><path d="M514.8,103.3L515.3,103.8" stroke="#111" stroke-opacity="0.04" stroke-width="1.4" fill="none"/><path d="M515.3,103.8L515.8,104.3" stroke="#111" stroke-opacity="0.04" stroke-width="3" fill="none"/><path d="M515.3,103.8L515.8,104.3" stroke="#111" stroke-opacity="0.04" stroke-width="1.4" fill="none"/><path d="M515.8,104.3L516.4,104.7" stroke="#111" stroke-opacity="0.03" stroke-width="3" fill="none"/><path d="M515.8,104.3L516.4,104.7" stroke="#111" stroke-opacity="0.03" stroke-width="1.4" fill="none"/><path d="M516.4,104.7L516.9,105.2" stroke="#111" stroke-opacity="0.03" stroke-width="3" fill="none"/><path d="M516.4,104.7L516.9,105.2" stroke="#111" stroke-opacity="0.03" stroke-width="1.4" fill="none"/><path d="M516.9,105.2L517.4,105.6" stroke="#111" stroke-opacity="0.02" stroke-width="3" fill="none"/><path d="M516.9,105.2L517.4,105.6" stroke="#111" stroke-opacity="0.02" stroke-width="1.4" fill="none"/><path d="M517.4,105.6L517.9,106.1" stroke="#111" stroke-opacity="0.02" stroke-width="3" fill="none"/><path d="M517.4,105.6L517.9,106.1" stroke="#111" stroke-opacity="0.02" stroke-width="1.4" fill="none"/><path d="M517.9,106.1L518.5,106.6" stroke="#111" stroke-opacity="0.02" stroke-width="3" fill="none"/><path d="M517.9,106.1L518.5,106.6" stroke="#111" stroke-opacity="0.02" stroke-width="1.4" fill="none"/><path d="M518.5,106.6L519,107.1" stroke="#111" stroke-opacity="0.01" stroke-width="3" fill="none"/><path d="M518.5,106.6L519,107.1" stroke="#111" stroke-opacity="0.01" stroke-width="1.4" fill="none"/><path d="M519,107.1L519.5,107.5" stroke="#111" stroke-opacity="0.01" stroke-width="3" fill="none"/><path d="M519,107.1L519.5,107.5" stroke="#111" stroke-opacity="0.01" stroke-width="1.4" fill="none"/><path d="M519.5,107.5L520,108" stroke="#111" stroke-opacity="0.00" stroke-width="3" fill="none"/><path d="M519.5,107.5L520,108" stroke="#111" stroke-opacity="0.00" stroke-width="1.4" fill="none"/></g>
</g>
<g clip-path="url(#cpb)">
<path d="M385,301.9L388,291.9 391,282.9 394,274.5 397.6,265.4 401,257.5 404,251.3 408,244.4 411,239.9 415,235.2 418,232.3 420,230.9 424,228.9 427,227.9 429,227.7 434,227.9 439,228.4 441,229 443,229.9 447.9,232.8 450,234.3 453,237.1 456,240.3 463,248.3 474,262.3 481,270.9 486,276.9 492,283.5 496,287.7 499,290.5 502,292.8 505.9,295.1 513.2,284.3 519,275.1 521,272.7 523,270.6 525,268.8 527,267.3 528,266.8 531,265.7 533,265.3 534,265.2 535,265.3 536,265.6 537,266.1 539,267.6 541,269.5 544,272.6 546,275.6 548,279.5 556,296.6 572,332.9 580.3,350.9 580.3,365.4 385,365.4Z" fill="#c6c6c6"/>
<path d="M472.8,306.9L474.7,307.4 476.6,307.9 478.5,308.3 480.4,308.5 482.4,308.7 484.3,308.9 486.3,309.1 488.2,309.1 490.2,308.9 492.1,308.3 494,307.6 495.7,306.8 497.2,305.7 498.6,304.4 500,302.8 501.2,301.2 502.3,299.5 503.3,297.3 504.2,295.1 505.1,293.3 506.1,292.4 507.2,292.6 508.3,293.7 509.4,295.4 510.6,297.5 511.8,299.5 513.1,301.2 514.7,302.7 516.5,304.3 518.2,305.7 519.3,307 519.5,307.9 518.1,308.5 515.7,309.1 513.5,309.7 511.9,310.6 510.6,311.9 509.4,313.5 508.2,315.2 507.1,316.9 505.8,318.5 504.6,320 503.3,321.6 502.1,323.2 500.8,324.7 499.4,325.9 497.8,326.9 496,327.9 494.1,328.6 492.3,328.8 490.4,328.3 488.6,327.3 487,326.1 485.5,325 484.1,323.7 482.8,322.3 481.5,320.7 480.4,319 479.4,317.2Z" fill="#000" fill-opacity="0.5"/>
<path d="M455,277L462,289 472.8,306.9" fill="none" stroke="#111" stroke-opacity="0.8" stroke-width="0.9" stroke-linejoin="round"/>
<path d="M519.6,307.7L524,311 528,314.5" fill="none" stroke="#111" stroke-opacity="0.8" stroke-width="0.9" stroke-linejoin="round"/>
<path d="M385 302.1l3-9.9 3-9 3-8.3 3.6-9.1 3.4-7.8 3-6.1 4-6.8 3-4.3 4-4.5 3-2.7 2-1.2 4-1.8 3-.8 2-.2 5 .2 5 .6 3 1.1 5 2.6 3 2 3 2.6 10 10.8 19 23.3 11 12.4 4 4 3 2.6 3 2.1 2.9 1.7 7.3-10.6 5.8-8.8 3-3.3 3-2.5 2-1.2 1.3-.5 3.7-.9 2-.2 1 .1 2 .6 2 1.2 2 1.6 2.2 2 1.8 2.1 2 3.3 2 3.9 7 14.7 16 36.1 8.3 17.9M385 302.4l5.1-16.3 3.9-10.8 3-7.6 4-9.1 3-6 3-5.1 3-4.4 2.7-3.2 4.3-4.1 2-1.3 4-1.7 3-1 3-.3 5 .2 5 .7 4 1.5 5 2.7 3 2.1 3 2.7 9 9.4 20 24 10 11 4 4.1 3 2.5 3 2.1 2.9 1.6 13.1-18.8 3-2.9 3-2.3 2-1 3-.8 3-.4 2 0 2 .5 2 1 4 3 2 2.2 2 3 8 16 18 40.1 7.3 15.7M385 302.8l5.1-16.2 3.9-10.8 3-7.5 4-9 3-5.9 3-4.9 3-4.3 3-3.3 4-3.6 2-1.2 4-1.6 3-.8 3-.3 5 .3 5 .8 4 1.4 5 2.7 3 2 3 2.5 7 7 3 3.2 19 22.5 11 11.8 3 3 3 2.5 3 2.1 2.9 1.6 13.1-18.2 3-2.7 3-2 2-.8 2-.5 3-.5 3 0 2 .4 2 .9 4.2 2.8 1.8 1.8 2 2.9 2 3.5 6 11.9 18 39.8 7.3 15.6M385 303.1l5.1-16.1 3.9-10.7 3-7.4 4-8.8 3-5.8 3-4.8 3-4.1 2.7-2.9 3.3-2.8 3-1.9 3-1.1 4-1 3-.3 5 .3 5 .8 4 1.4 5 2.6 3 2 4 3.3 9 9 19 22 11 11.7 3 2.9 3 2.5 3 2 2.9 1.6 11.1-15 2-2.5 3-2.5 3-1.7 2-.8 2-.4 3-.4 3 0 2 .4 2 .7 2 1.1 3 2.1 2 2.3 2 3.1 7 13.2 18.3 40 7 14.9M385 303.6l3-9.8 3-8.8 3-8.1 3.6-8.6 3.4-7.4 3-5.6 3-4.7 3-3.9 2.7-2.8 3.3-2.6 3-1.8 3-1 4-.9 3-.3 5 .3 5 .9 4 1.4 5 2.6 3 1.9 4 3.3 9 8.7 20 22.6 10 10.4 3 2.9 3 2.5 3 2 2.9 1.5 12.1-15.7 2.7-2.5 3.3-2 2-.8 2-.5 4-.5 3 0 2 .3 2 .7 2 1 3 1.9 2 2.1 2 2.9 7 12.9 4 8.3 14 30.5 7.3 15.5M385 304l5.1-15.9 3.9-10.5 3-7.2 3-6.5 3-5.8 3-4.9 3-4 3-3.2 3-2.4 3-1.8 2.2-.9 4.8-1.2 4-.4 5 .3 5 .9 4 1.4 5 2.5 3 1.9 4 3.2 9 8.5 20 22.1 10 10.3 3 2.8 3 2.5 3 2 2.9 1.5 12.1-15.1 2.7-2.4 3.3-1.8 2-.7 2-.4 4-.4 3-.1 2 .3 2 .7 2 .9 3 1.7 2 2 2 2.7 3 5.1 5 9.3 24.3 51.8M385 304.5l3-9.6 3-8.7 3-7.8 3-7.2 3-6.4 3-5.6 3-4.7 3-3.9 3-3 3-2.3 3-1.8 2.2-.8 4.8-1.1 4-.3 5 .3 5 .9 4 1.4 6 3.1 3 2 4 3.2 5 4.5 4 4 19 20.7 10 10.1 3 2.8 3 2.4 3 1.9 2.9 1.6 5.1-6.4 7-8.2 2-1.7 3-1.7 2-.8 3-.6 4-.4 3 0 2 .3 2 .5 2 .9 3 1.6 2 1.9 2 2.5 3 4.9 5 9 5 10.3 19.3 41M385 305.1l3-9.6 3-8.6 3-7.8 3-7 3-6.2 3-5.6 3-4.5 3-3.8 3-2.9 3-2.1 3-1.6 2.2-.8 4.8-1 4-.3 5 .3 5 .9 4 1.4 5 2.5 4 2.5 4 3.2 5 4.4 4 3.9 19 20.3 10 9.9 3 2.8 3 2.3 3 2 2.9 1.5 5.1-6.2 7-7.8 2.7-2 3.3-1.5 2-.6 2-.3 5-.4 3 .1 2 .4 3 1.1 2.2 1 1.8 1.3 2 2.1 2 2.7 7 12 8 16.3 16.3 34.4M385 305.7l3-9.5 3-8.5 3-7.7 3-6.9 3-6.2 3-5.4 3-4.4 3-3.6 3-2.7 3-2.1 3-1.5 2.2-.7 4.8-1 4-.3 5 .4 5 .9 4 1.4 5 2.5 4 2.5 4 3.1 5 4.3 4 3.8 19 19.9 10 9.8 3 2.7 3 2.4 3 1.9 2.9 1.5 5.1-6 6-6.5 3-2.5 3-1.4 2-.6 3-.5 5-.3 3 .1 2 .3 3 1 2.2 1 1.8 1.2 2 1.9 2 2.7 4.2 6.7 2.8 4.8 8 16 16.3 34.1M385 306.3l5-15.1 3-7.9 3-7 3-6.3 3-5.6 3-4.6 3-3.7 3-2.9 3-2.1 3-1.6 3-1.1 5-.9 4-.3 5 .4 5 .9 4 1.4 5 2.4 4 2.5 4 3.1 5 4.2 4 3.8 19 19.6 10 9.6 3 2.6 3 2.3 3 1.9 2.9 1.5 5.1-5.8 6-6.2 3-2.3 3-1.3 2-.6 3-.4 5-.3 3 .1 2 .3 3 1 2.2 .9 1.8 1.1 2 1.9 3 3.9 4 6.3 3 5.3 8 15.9 15.3 31.7M385 307l5-15 3-7.7 3-7 3-6.2 3-5.4 3-4.5 3-3.5 3-2.8 3-2 3-1.6 3-.9 5-.9 4-.3 4 .2 5 .8 5 1.7 5 2.4 4 2.5 4 3 5 4.2 4 3.7 19 19.2 10 9.5 3 2.6 3 2.3 3 1.8 2.9 1.5 5.1-5.6 6-5.9 3-2.2 3-1.2 2-.5 3-.5 5-.2 3 .1 2 .3 3 .9 2.2 .9 1.8 1 2 1.8 3 3.8 4 6 3 5.2 8 15.6 15.3 31.4M385 307.7l5-14.8 3-7.7 3-6.8 3-6.1 3-5.3 3-4.3 3-3.4 3-2.7 2-1.4 4-2 3-.9 5-.9 4-.2 4 .2 5 .8 5 1.7 5 2.4 4 2.4 4 3 5 4.1 4 3.7 19 18.9 10 9.4 3 2.5 3 2.3 3 1.8 2.9 1.4 5.1-5.4 6-5.7 3-2 3-1.1 2-.5 3-.4 5-.1 3 .1 2 .2 3 .9 2.2 .8 1.8 1 2 1.6 3 3.7 4 5.8 3 5 8 15.3 15.3 31.2M385 308.5l5.1-15 2.9-7.3 3-6.7 3-5.9 3-5.2 3-4.2 3-3.3 2-1.8 3-2.1 4-1.9 3-.9 5-.8 4-.2 4 .2 5 .8 4 1.3 5.9 2.7 4.1 2.5 4 2.9 5 4.1 4 3.6 19 18.7 10 9.2 3 2.5 3 2.2 3 1.8 2.9 1.4 5.1-5.2 6-5.4 2-1.4 3-1.3 2-.5 3-.5 8-.2 3 .4 2 .4 3.2 1.1 1.8 .9 2 1.6 3 3.5 4 5.6 3 4.9 8 15 15.3 30.9M385 309.3l5.1-14.9 2.9-7.1 3-6.7 3-5.7 3-5.1 2-2.8 3-3.5 3-2.7 2-1.4 4-2 3-1 5-.9 5-.3 4 .2 5 .8 5 1.7 4.9 2.3 4.1 2.5 4 2.9 5 4 4 3.5 19 18.5 10 9 3 2.5 3 2.2 3 1.7 2.9 1.4 5.1-5 6-5.2 3-1.8 3-.9 2-.5 3-.3 6-.1 3 .2 3 .6 3 .9 2 1 1 .7 2 1.8 3 3.7 4 5.6 3 5 7 13 15.3 30.5M385 310.1l5.1-14.7 2.9-7 3-6.6 3-5.6 3-4.9 2-2.8 3-3.3 3-2.7 2-1.3 4-2 3-.9 5-.8 5-.3 4 .2 5 .8 5 1.7 4.9 2.3 4.1 2.5 4 2.8 5 4 4 3.5 19 18.2 10 8.9 3 2.4 3 2.2 3 1.7 2.9 1.4 5.1-4.9 6-4.9 3-1.7 3-.9 2-.4 3-.3 6-.1 3 .2 3 .6 3 .9 2 .9 1 .6 2 1.8 3 3.5 4 5.5 3 4.8 8 14.7 14.3 28.3M385 310.9l5.1-14.4 2.9-7 3-6.4 3-5.6 3-4.8 2-2.6 3-3.3 3-2.5 2-1.3 4-1.9 3-.9 5-.7 5-.3 4 .2 5 .8 5 1.7 4.9 2.3 4.1 2.4 4 2.9 9 7.4 19 17.9 10 8.8 3 2.4 3 2.1 5.9 3.1 5.1-4.7 5-4 3-1.9 3-1 5-.8 9-.1 3 .4 3 .8 2 .7 2 1.1 2 1.7 3 3.4 4 5.3 3 4.7 8 14.4 14.3 27.9M385 311.8l3-8.7 2.1-5.6 2.9-6.9 3-6.3 3-5.4 3-4.6 2-2.7 3-3.1 3-2.4 2-1.3 4-1.8 3-.8 5-.8 5-.2 4 .2 5 .8 5 1.7 4.9 2.3 4.1 2.4 4 2.8 9 7.3 19 17.8 10 8.7 3 2.3 3 2.1 5.9 3 5.1-4.5 5-3.9 3-1.8 3-.9 5-.7 9-.1 3 .4 3 .8 2 .6 2 1.1 2 1.6 3 3.3 4 5.1 3 4.6 8 14.1 14.3 27.7M385 312.8l3-8.7 2.1-5.5 2.9-6.8 3-6.1 3-5.3 3-4.6 2-2.5 3-3.1 3-2.3 2-1.2 4-1.7 3-.9 5-.7 5-.3 4 .3 5 .8 4 1.3 5 2.2 4 2.3 4 2.6 6 4.7 4 3.3 19 17.6 10 8.5 3 2.4 3 2 5.9 3 5.1-4.4 5-3.7 3-1.7 3-.9 5-.6 9-.1 3 .4 3 .7 2 .6 2 1.1 2 1.5 3 3.2 4 5 3 4.4 8 13.9 14.3 27.3M385 313.7l3-8.5 2.1-5.4 2.9-6.7 3-6.1 3-5.2 3-4.4 2-2.5 3-2.9 2-1.6 3-1.9 4-1.6 3-.8 5-.7 5-.3 4 .3 5 .9 4 1.2 5 2.2 4 2.2 4 2.7 6 4.6 4 3.3 19 17.4 10 8.4 3 2.3 3 2 5.9 3 5.1-4.2 5-3.6 3-1.6 3-.8 5-.6 9 0 3 .3 3 .7 2 .6 2 1 3 2.4 3 3.3 3 3.7 4 5.9 7 12 14.3 27M385 314.7l3-8.5 2-5 5-10.9 2.6-4.7 3.4-5.3 3-3.7 2-2 3-2.4 3-1.8 4-1.6 3-.8 5-.6 5-.3 4 .3 5 .9 4 1.2 5 2.2 4 2.2 4 2.7 6 4.5 4 3.3 19 17.2 10 8.4 3 2.2 3 2 5.9 2.9 5.1-4.1 5-3.4 3-1.5 3-.8 5-.5 7-.1 3 .2 3 .4 3.2 .8 1.8 .7 2 1.2 3 2.6 4 4.5 2 2.6 3 4.5 8 13.6 13.3 24.8M385 315.8l3-8.4 2-5 5-10.8 3-5.2 3-4.5 3-3.7 2-1.9 3-2.3 3-1.7 4-1.6 3-.7 5-.6 5-.3 4 .3 5 .9 4 1.2 5 2.2 4 2.2 4 2.7 6 4.5 4 3.3 19 17 9 7.4 6 4.4 3 1.7 3.9 1.8 5.1-4 5-3.2 3-1.5 3-.7 5-.5 10 .1 3 .4 3.2 .7 1.8 .7 2 1.1 3 2.6 4 4.4 2 2.5 3 4.4 8 13.3 13.3 24.6M385 316.8l3-8.3 2-4.9 3-6.6 2-4 3-5.1 3-4.4 2-2.5 3-2.9 3-2.3 3-1.6 4-1.5 3-.7 6-.7 5-.2 4 .4 4 .8 4 1.2 5 2.2 4 2.2 4 2.6 6 4.5 4 3.3 19 16.8 9 7.4 6 4.3 3 1.7 3.9 1.8 5.1-3.9 5-3.1 3-1.4 3-.7 5-.5 10 .2 3 .4 3.2 .7 1.8 .6 2 1.1 3 2.5 4 4.3 2 2.4 3 4.3 4.3 6.8 3.7 6.3 13.3 24.3M385 317.9l3-8.2 2-4.9 3-6.5 2-3.8 3-5.1 3-4.3 2-2.4 3-2.8 3-2.2 3-1.6 4-1.5 3-.7 6-.6 5-.2 4 .4 4 .8 4 1.2 5 2.2 4 2.2 4 2.6 9 6.9 20 17.5 9 7.3 6 4.2 3 1.7 3.9 1.8 5.1-3.8 5-2.9 3-1.4 3-.6 5-.5 10 .2 3 .4 3.2 .7 1.8 .6 2 1 3 2.4 4 4.2 3 3.7 3 4.3 7 11.4 13.3 24M385 319l3-8.1 2-4.8 3-6.4 2-3.8 3-4.9 3-4.2 2-2.4 3-2.8 3-2.1 3-1.6 4-1.3 3-.7 6-.6 5-.2 4 .4 4 .8 4 1.2 5 2.2 4 2.2 4 2.6 9 6.8 20 17.4 9 7.2 6 4.2 3 1.6 3.9 1.8 5.1-3.6 5-2.9 3-1.3 3-.6 5-.4 10 .2 3 .4 3.2 .6 1.8 .6 2 1.1 3 2.3 4 4 3 3.6 3 4.3 7 11.1 13.3 23.7M385 320.2l3-8 2-4.8 3-6.3 2-3.7 3-4.9 3-4 2-2.3 3-2.8 3-2 3-1.5 4-1.4 3-.6 6-.6 5-.2 4 .4 3.8 .7 4.2 1.3 4 1.7 4 2.1 5 3.2 9 6.7 20 17.3 9 7.1 6 4.2 3 1.6 3.9 1.7 5.1-3.5 5-2.7 3-1.2 3-.6 5-.4 8 .1 3 .2 6 1.1 3 1.4 3 2.2 4 3.9 3 3.6 3 4.1 7 11 13 22.8M385 321.3l3-7.9 2-4.6 3-6.2 2-3.7 3-4.8 3-4 2-2.2 3-2.7 3-2 3-1.4 4-1.3 3-.7 6-.6 5-.1 4 .4 3.8 .7 4.2 1.3 4 1.7 4 2.1 5 3.1 9 6.8 20 17.1 9 7.1 6 4.1 3 1.5 3.9 1.8 5.1-3.4 5-2.6 3-1.2 3-.6 5-.3 8 .1 3 .2 6 1.1 3 1.3 3 2.2 4 3.8 3 3.4 3 4.1 7 10.8 12 20.8M385 322.5l3-7.8 2-4.6 3-6.1 2-3.6 3-4.6 3-4 2-2.2 3-2.5 3-2 3-1.4 4-1.3 3-.6 6-.6 5-.1 4 .4 3.8 .7 4.2 1.3 4 1.7 4 2.1 5 3.1 9 6.7 19 16.2 9 7.1 4 2.9 3 1.9 3 1.5 3.9 1.7 5.1-3.2 5-2.6 3-1.1 3-.5 5-.3 8 .1 3 .2 6 1 3 1.3 3 2.1 4 3.7 3 3.4 3 4 7 10.6 12 20.5M385 323.8l3-7.8 2-4.5 3-6 2-3.5 2.6-4.1 2.4-3.2 3-3.3 2.2-1.9 2.8-1.9 3-1.6 3-1.1 4-1 6-.6 5-.2 4 .2 4 .7 4 1.2 4 1.6 5 2.5 4 2.4 5 3.6 5 3.8 19 16 9 7.1 4 2.8 3 1.9 3 1.5 3.9 1.7 4.1-2.6 5-2.5 3-1.2 3-.7 5-.4 11 .2 6.2 .9 1.8 .5 2 1 3 2 4 3.6 3 3.3 3 3.9 7 10.4 11 18.5M385 325l3-7.6 2-4.5 3-5.9 2-3.5 2.6-3.9 2.4-3.2 3-3.2 2.2-1.9 2.8-1.9 3-1.5 3-1 4-1 6-.6 5-.2 4 .2 4 .7 4 1.2 4 1.6 5 2.5 4 2.4 10 7.3 19 16 9 7 4 2.8 3 1.8 3 1.6 3.9 1.6 4.1-2.5 5-2.4 3-1.2 3-.6 5-.4 11 .2 6.2 .9 1.8 .5 2 .9 3 2 4 3.5 2 2.1 3 3.6 4.3 5.9 3.7 5.6 10 16.6M385 326.3l3-7.6 2-4.4 3-5.8 2-3.4 2.6-3.9 2.4-3 3-3.2 2.2-1.9 2.8-1.8 3-1.5 3-1 4-.9 6-.6 5-.2 4 .2 4 .7 4 1.2 4 1.6 5 2.5 4 2.4 10 7.3 19 15.9 9 6.9 4 2.8 3 1.8 3 1.5 3.9 1.6 5.1-2.9 5-2.3 3-1 3-.4 5-.2 8 .1 4 .3 5 .9 2 .6 2 1.1 3 2.2 3 2.6 3 3.2 3 3.7 7 10 10 16.4M385 327.5l3-7.4 2-4.3 3-5.8 2-3.3 2.6-3.8 2.4-3 3-3.1 2-1.7 3-1.9 3-1.4 3-1 4-.9 6-.6 5-.2 3 .1 4 .6 4 1 4 1.5 5 2.4 5 3 10 7.3 19 15.7 9 6.9 4 2.7 3 1.8 3 1.5 3.9 1.7 5.1-2.9 5-2.2 3-.9 3-.4 5-.2 8 .1 4 .3 5 .8 2 .7 2 1 3 2.2 3 2.5 3 3.1 3 3.6 7 9.9 9 14.5M385 328.8l3-7.3 2-4.3 3-5.6 2-3.3 2.6-3.7 2.4-3 3-3 2-1.6 3-1.9 3-1.4 3-1 4-.9 6-.5 5-.2 3 .1 4 .6 4 1 4 1.5 5 2.4 5 3 10 7.2 19 15.7 9 6.8 4 2.7 3 1.8 6.9 3.1 5.1-2.7 5-2.2 3-.9 3-.3 4-.2 9 .1 4 .3 5 .8 2 .7 2 1 3 2 3 2.5 2 2 3 3.4 7 9.4 9 14.2M385 330.2l3-7.3 2-4.2 3-5.6 2-3.2 2.6-3.6 2.4-2.9 3-3 2-1.6 3-1.8 3-1.4 3-.9 4-.9 6-.5 5-.2 3 .1 4 .6 4 1 4 1.5 5 2.4 5 3 10 7.2 19 15.6 9 6.7 4 2.7 3 1.8 6.9 3.1 5.1-2.7 5-2 3-.9 3-.4 4-.1 9 .1 4 .3 5 .8 2 .6 2 1 3 2 3 2.5 2 1.9 3 3.3 7 9.3 8 12.3M385 331.5l3-7.1 2-4.2 3-5.5 2-3.1 2.6-3.6 2.4-2.9 3-2.9 2-1.5 3-1.8 3-1.3 3-1 4-.8 6-.6 5-.1 3 .1 4 .6 4 1 4 1.5 5 2.4 5 3 10 7.1 19 15.5 8 6 4 2.8 4 2.4 6.9 3 4.1-2.1 5-2.1 3-.9 3-.5 5-.2 12 .3 6 .9 2 .6 2 .9 3 2 3 2.4 2 1.9 3 3.2 4 5 3 4.1 7 10.6M385 332.9l3-7.1 2-4.1 3-5.4 2-3.1 2.6-3.5 2.4-2.8 3-2.8 2-1.5 3-1.8 3-1.3 6-1.6 5-.5 6-.3 3 0 4 .5 4 .9 4 1.4 5 2.3 5 2.8 4 2.7 6 4.3 20 16.2 8 6 4 2.7 4 2.4 6.9 3 4.1-2.1 5-2 3-.9 3-.4 5-.2 9 .1 4 .3 5 .7 2 .6 2 1 3 1.9 3 2.3 2 1.9 3 3.2 6 7.5 7 10.3M385 334.3l3-7 2-4.1 3-5.3 2-3 2.6-3.5 2.4-2.7 3-2.8 2-1.5 3-1.7 3-1.3 6-1.5 5-.5 6-.3 3 0 4 .5 4 .9 4 1.4 5 2.3 5 2.8 4 2.7 6 4.3 20 16.1 8 5.9 7 4.6 4 1.9 3.9 1.6 4.1-2 5-1.9 3-.9 3-.5 5-.1 9 .1 4 .3 5 .7 2 .6 2 .9 3 1.9 3 2.3 4 3.8 6 7.2 7 10M385 335.7l4-9 2-3.7 3-5 2-2.8 3-3.6 3-3 2-1.6 3-1.9 3-1.4 3-.9 4-.9 5-.5 6-.3 3 0 4 .5 4 .9 4 1.4 5 2.3 5 2.8 4 2.6 6 4.4 19 15.2 9 6.7 7 4.5 4 1.9 3.9 1.6 4.1-2 5-1.8 3-.9 3-.4 5-.1 13 .4 5 .7 2 .6 2 .9 3 1.8 3 2.2 4 3.8 6 7.1 6 8.3M385 337.1l4-8.8 2-3.7 3-4.9 2-2.8 3-3.6 3-2.9 2-1.5 3-1.9 3-1.3 2.7-.9 3.3-.7 4-.6 6-.4 4 0 4 .4 5 1 4 1.4 5 2.3 5 2.8 4 2.6 6 4.4 19 15.2 9 6.6 7 4.4 4 1.9 3.9 1.6 4.1-1.9 5-1.8 3-.8 3-.4 5-.1 13 .4 5 .7 2 .5 2 .9 3 1.8 3 2.2 4 3.7 6 6.9 5 6.8M385 338.5l4-8.7 2-3.6 3-4.8 2-2.8 3-3.5 3-2.8 2-1.6 3-1.7 3-1.4 2.7-.8 3.3-.8 4-.5 6-.4 4 0 4 .4 5 1 4 1.4 5 2.3 5 2.8 4 2.6 6 4.3 18 14.4 6 4.5 8 5.5 5.6 3 5.3 2.2 3.1-1.4 4-1.5 4-1.2 3-.6 5-.1 12 .2 4 .4 4 .7 2 .7 3 1.6 3.2 2.2 2.8 2.2 3 3 3 3.4 6 7.7M385 340l4-8.6 2-3.6 3-4.8 2-2.7 3-3.4 3-2.8 2-1.5 3-1.7 3-1.3 2.7-.9 3.3-.7 4-.5 6-.4 4 0 4 .4 5 1 4 1.4 5 2.3 5 2.8 4 2.6 6 4.3 17 13.5 7 5.3 8 5.4 5.6 3.1 5.3 2.1 3.1-1.4 4-1.4 4-1.2 3-.5 5-.1 12 .2 4 .4 4 .7 2 .7 3 1.5 3.2 2.2 2.8 2.2 5 5.1 6 7.3M385 341.4l4-8.4 2-3.6 3-4.7 2-2.6 3-3.4 3-2.7 2-1.5 3-1.7 3-1.3 2.7-.8 3.3-.7 4-.5 6-.4 4 0 4 .4 5 1 4 1.4 5 2.3 5 2.8 4 2.6 6 4.3 17 13.4 7 5.3 8 5.4 3 1.7 3 1.5 4.9 1.9 3.1-1.3 4-1.4 4-1.1 3-.5 5-.1 12 .2 4 .4 4 .7 2 .6 2 1 3 1.8 3 2.2 5 4.7 6 7.1M385 342.9l4-8.4 2-3.5 3-4.5 2-2.7 3-3.3 3-2.7 2-1.4 3-1.7 3-1.2 2.7-.8 3.3-.7 3-.5 6-.3 5-.1 3 .2 4.8 .9 4.2 1.3 5.9 2.6 5.1 2.9 10 6.9 17 13.4 7 5.2 9 6 3 1.6 3 1.4 3.9 1.5 4.1-1.7 5-1.6 3-.7 2.7-.3 15.3 .2 4 .3 4 .5 3 .9 2 .9 5 3.2 2 1.6 3 2.8 5 5.5M385 344.4l4-8.3 2-3.4 3-4.5 2-2.6 3-3.3 3-2.6 2-1.4 3-1.7 3-1.2 6-1.5 3-.4 6-.3 5-.1 3 .2 4.8 .9 4.2 1.3 5.9 2.6 5.1 2.9 10 6.8 17 13.4 7 5.2 9 5.9 3 1.7 3 1.3 3.9 1.5 4.1-1.6 5-1.5 3-.7 2.7-.3 16.3 .2 7 .8 3 .9 2 .9 5 3.1 4 3.3 5 5.3M385 345.9l4-8.1 2-3.5 3-4.4 2-2.5 3-3.2 3-2.6 2-1.4 3-1.6 3-1.2 6-1.5 4-.5 6-.3 4 0 3 .2 4.8 .9 4.2 1.3 5 2.2 5 2.7 5 3.2 6 4.2 18 14.1 7 5.1 8 5.2 3 1.6 4 1.8 2.9 1 4.1-1.5 5-1.5 3-.7 2.7-.2 15.3 .2 7.2 .6 3.8 1 2 .9 3 1.8 4 2.8 5 4.7M385 347.5l4-8.1 2-3.4 3-4.4 2-2.5 3-3.1 3-2.6 2-1.3 3-1.6 3-1.2 6-1.4 4-.5 6-.3 4 0 3 .2 4.8 .9 4.2 1.3 5 2.2 5 2.7 5 3.2 6 4.2 18 14 7 5.1 8 5.2 3 1.6 4 1.7 2.9 1.1 3.1-1.2 4-1.2 4-1 3-.4 16 .2 6 .5 4 .8 4 1.7 5 3.2 4 3.4M385 349l4-8 2-3.3 3-4.3 2-2.5 3-3.1 3-2.5 2-1.3 3-1.6 3-1.1 6-1.4 3-.4 6-.4 7 .1 5 .8 4 1.2 5 2 6 3.2 5 3.1 6 4.3 18 14 7.1 5.1 4.9 3.3 4 2.3 3 1.5 4 1.6 1.9 .7 3.1-1.1 4-1.2 4-1 3-.3 15 .2 5 .2 5 .8 3 1 2 .9 3.2 1.9 3.8 2.9M385 350.5l4-7.8 2-3.3 3-4.3 2-2.4 3-3 3-2.5 2-1.3 3-1.5 3-1.2 6-1.3 3-.4 6-.4 7 .1 5 .8 4 1.2 5 2 6 3.1 5 3.2 6 4.3 18 13.9 7.1 5.1 4.9 3.3 4 2.3 3 1.5 4 1.6 1.9 .7 3.1-1.1 4-1.2 4-.9 3-.3 18 .3 6 .6 3 .8 4 1.9 4 2.6M385 352.1l4-7.8 2-3.2 3-4.2 2-2.4 3-3 3-2.4 2-1.3 3-1.5 3-1.1 6-1.3 3-.4 6-.4 7 .1 5 .8 4 1.2 5 2 6 3.1 4 2.6 6 4.1 19 14.7 8 5.7 8 4.9 3 1.5 5 1.9 .9 .4 5.1-1.7 6-1.4 3-.4 5 0 12 .3 7 .7 4 1.2 4 2.1M385 353.7l4-7.7 2-3.2 3-4.1 2-2.4 3-2.9 3-2.4 2-1.3 3-1.5 3-1.1 6-1.3 4-.4 6-.3 4 0 3 .2 4.8 .9 4.2 1.3 5 2.2 5 2.6 5 3.2 6 4.2 17 13.1 7 5.1 9 5.7 3 1.6 3 1.3M510 366.6l7-1.7 3-.3 3 0 17 .5 5 .7 3 1M385 355.3l4-7.6 4-6 2-2.4 2.6-2.8 2.4-2.1 3-2.2 3-1.6 3-1.2 3-.8 3-.6 4-.5 5-.3 5-.1 3 .1 5 .8 4 1.2 5 2 6 3.1 5 3.2 6 4.2 16 12.3 7 5.2 7 4.6 5 2.8M385 356.8l4-7.4 4-5.9 2-2.4 2.6-2.7 2.4-2.1 3-2.2 3-1.5 3-1.2 3-.9 3-.5 4-.5 5-.3 5-.1 3 .1 5 .8 4 1.2 5 2 6 3.1 5 3.2 6 4.2 22 16.7 5 3.4 5 3.1M385 358.5l4-7.5 4-5.7 2-2.4 2.6-2.7 2.4-2.1 3-2.1 3-1.5 3-1.2 3-.8 3-.6 4-.4 5-.3 5-.1 3 .1 5 .8 4 1.2 5 2 6 3.1 4 2.5 6 4.2 20 15.2 5 3.5 5 3.3M385 360.1l4-7.3 4-5.8 2-2.3 2.6-2.6 2.4-2.1 3-2 2.2-1.2 2.8-1.2 3-.9 3-.6 6.2-.7 6.8-.3 4 0 5 .7 5 1.4 5 2 6 3.1 4 2.5 6 4.1 18 13.7 8.1 5.8M385 361.7l4-7.2 4-5.7 2-2.3 2.6-2.6 2.4-2 3-2 2.2-1.2 2.8-1.1 3-.9 3-.6 6.2-.7 6.8-.3 4 0 5 .7 5 1.4 5 2 6 3.1 5 3.2 6 4.2 16 12.1 7 5.1M385 363.3l4-7.1 4-5.6 2-2.3 2.6-2.5 2.4-2 3-2 2.2-1.1 2.8-1.1 3-.9 3-.6 6-.7 10-.3 5 .5 5 1.2 5 1.9 6 3 5 3.1 6 4.1 21 15.9M385 365l4-7.1 4-5.5 2-2.2 2.6-2.6 2.4-1.9 3-2 2.2-1.1 2.8-1.1 3-.9 3-.6 6-.6 10-.3 5 .5 5 1.2 5 1.9 5 2.5 5 3 7 4.7 18 13.6M385 366.6l4-7 4-5.4 2-2.2 2.6-2.5 2.4-1.9 3-2 2.2-1 2.8-1.1 5-1.3 6-.8 10-.3 5 .3 5 1.1 5 1.8 5 2.4 5 2.8 7 4.7 17 12.8M386 366.4l4-6.5 4-5 4-3.9 3-2.2 2-1.2 2.2-1.1 2.8-1.1 5-1.2 6-.8 10-.3 5 .3 5 1.1 5 1.8 5 2.4 5 2.8 6.4 4.3 14.6 10.9M386 368.1l4-6.4 4-5 4-3.8 3-2.2 2-1.2 2.2-1.1 2.8-1 4.7-1.2 6.3-.8 9-.3 5 .2 4.8 .9 5.2 1.7 4.9 2.2 5.1 2.8 6 3.9 6 4.3 8 6M388 366.4l4-5.5 4-4.4 4-3.2 4-2.4 5-1.8 5-1.1 6-.7 9-.2 4 .2 5 1 4 1.2 5 2.2 5 2.6 5 3.1 6 4.2 7 5.2M389 366.6l3-3.9 4-4.3 2-1.7 3-2.2 4-2.1 5-1.6 5-1 5-.5 9-.3 4 .3 4.8 .9 4.2 1.3 4 1.7 4 2 5 2.9 6 4.1 6 4.3M390.1 366.9l3.9-4.7 3-2.8 4-2.9 4.2-2.2 4.8-1.6 5-.9 5-.5 9-.3 4 .3 4 .7 4 1.2 4 1.5 4 2 5 2.8 5 3.3 6 4.2M391 367.5l3-3.4 3.6-3.3 3.4-2.4 4.2-2.2 4.8-1.5 5-.9 5-.5 8-.2 4 .1 3 .4 4 .9 4 1.4 4.9 2.2 4.1 2.2 4 2.5 6 4M393 367l3-3 4-3.1 3-1.7 4-1.7 4-1 5-.8 5-.4 8-.3 3 .2 4 .6 3 .7 4 1.4 4 1.8 4 2 8 5.1M395 366.8l2.6-2.2 3.4-2.4 3-1.5 4-1.5 4-1 5-.7 12-.5 3 .2 3 .4 4 .9 3 1 7 3.1 7 4.2M397.6 366.5l2.4-1.7 3-1.7 3-1.3 4-1.2 4-.7 4-.5 11-.4 5 .4 6 1.4 6 2.4 7 3.7M400 366.7l2-1.2 3-1.4 3-1 3-.7 7-1 11-.4 5 .4 5 1.1 5 1.8 5 2.3M404 366.5l5-1.7 5-.9 6-.6 9-.3 4 .3 4 .7 4 1.2 4 1.5M410 366.6l4-.7 4-.5 11-.4 5 .4 5 1.1" fill="none" stroke="#2a2a2a" stroke-opacity="0.62" stroke-width="0.75" stroke-linejoin="round"/>
<path d="M385.8 299.2V365.4M387.8 292.6V365.4M389.8 286.4V365.4M391.8 280.6V365.4M393.8 275.1V365.4M395.8 269.8V365.4M397.8 264.9V365.4M399.8 260.2V365.4M401.8 255.8V365.4M403.8 251.7V365.4M405.8 248V365.4M407.8 244.7V365.4M409.8 241.6V365.4M411.8 238.9V365.4M413.8 236.5V365.4M415.8 234.4V365.4M417.8 232.5V365.4M419.8 231V365.4M421.8 230V365.4M423.8 229V365.4M425.8 228.2V365.4M427.8 227.8V365.4M429.8 227.7V365.4M431.8 227.8V365.4M433.8 227.9V365.4M435.8 228V365.4M437.8 228.2V365.4M439.8 228.6V365.4M441.8 229.3V365.4M443.8 230.3V365.4M445.8 231.5V365.4M447.8 232.7V365.4M449.8 234.2V365.4M451.8 235.9V365.4M453.8 237.9V365.4M455.8 240.1V365.4M457.8 242.4V365.4M459.8 244.6V365.4M461.8 246.9V365.4M463.8 249.3V365.4M465.8 251.8V365.4M467.8 254.3V365.4M469.8 256.9V365.4M471.8 259.5V365.4M473.8 262.1V365.4M475.8 264.6V365.4M477.8 267V365.4M479.8 269.5V365.4M481.8 271.9V365.4M483.8 274.3V365.4M485.8 276.6V365.4M487.8 278.9V365.4M489.8 281.1V365.4M491.8 283.3V365.4M493.8 285.5V365.4M495.8 287.5V365.4M497.8 289.5V365.4M499.8 291.2V365.4M501.8 292.7V365.4M503.8 293.9V365.4M505.8 295V365.4M507.8 292.3V365.4M509.8 289.4V365.4M511.8 286.4V365.4M513.8 283.4V365.4M515.8 280.1V365.4M517.8 276.9V365.4M519.8 274.1V365.4M521.8 271.8V365.4M523.8 269.8V365.4M525.8 268.1V365.4M527.8 266.9V365.4M529.8 266.1V365.4M531.8 265.5V365.4M533.8 265.2V365.4M535.8 265.6V365.4M537.8 266.7V365.4M539.8 268.3V365.4M541.8 270.3V365.4M543.8 272.4V365.4M545.8 275.3V365.4M547.8 279V365.4M549.8 283.3V365.4M551.8 287.6V365.4M553.8 291.8V365.4M555.8 296.1V365.4M557.8 300.6V365.4M559.8 305.2V365.4M561.8 309.8V365.4M563.8 314.3V365.4M565.8 318.9V365.4M567.8 323.4V365.4M569.8 328V365.4M571.8 332.5V365.4M573.8 336.9V365.4M575.8 341.3V365.4M577.8 345.6V365.4M579.8 349.8V365.4" fill="none" stroke="#222" stroke-opacity="0.5" stroke-width="0.5" stroke-linejoin="round"/>
<path d="M385 301.9l3-10 3-9 3-8.4 3.6-9.1 3.4-7.9 3-6.2 4-6.9 3-4.5 4-4.7 3-2.9 2-1.4 4-2 3-1 2-.2 5 .2 5 .5 2 .6 2 .9 4.9 2.9 2.1 1.5 3 2.8 3 3.2 7 8 11 14 7 8.6 5 6 6 6.6 4 4.2 3 2.8 3 2.3 3.9 2.3 7.3-10.8 5.8-9.2 2-2.4 2-2.1 2-1.8 2-1.5 1-.5 3-1.1 2-.4 1-.1 1 .1 1 .3 1 .5 2 1.5 2 1.9 3 3.1 2 3 2 3.9 8 17.1 16 36.3 8.3 18" fill="none" stroke="#1c1c1c" stroke-opacity="1" stroke-width="1" stroke-linejoin="round"/>
<g clip-path="url(#bp_b_lo)"><path d="M385 301.9l4-13.1 5-14.3 2-5.2 3-7.2 3-6.7 2-4.1 4-6.9 2-3.1 2-2.7 3-3.4 3-2.9 2-1.4 2-1" fill="none" stroke="#111" stroke-opacity="0.30" stroke-width="4.0" stroke-linecap="round" stroke-linejoin="round"/><path d="M385 301.9l4-13.1 5-14.3 2-5.2 3-7.2 3-6.7 2-4.1 4-6.9 2-3.1 2-2.7 3-3.4 3-2.9 2-1.4 2-1" fill="none" stroke="#111" stroke-opacity="0.36" stroke-width="2.4" stroke-linecap="round" stroke-linejoin="round"/><path d="M385 301.9l4-13.1 5-14.3 2-5.2 3-7.2 3-6.7 2-4.1 4-6.9 2-3.1 2-2.7 3-3.4 3-2.9 2-1.4 2-1" fill="none" stroke="#111" stroke-opacity="0.48" stroke-width="1.2" stroke-linecap="round" stroke-linejoin="round"/><path d="M540 268.5l4 4.1 2 3 2 3.9 8 17.1 16 36.3 8.3 18" fill="none" stroke="#111" stroke-opacity="0.40" stroke-width="7.0" stroke-linecap="round" stroke-linejoin="round"/><path d="M540 268.5l4 4.1 2 3 2 3.9 8 17.1 16 36.3 8.3 18" fill="none" stroke="#111" stroke-opacity="0.48" stroke-width="4.2" stroke-linecap="round" stroke-linejoin="round"/><path d="M540 268.5l4 4.1 2 3 2 3.9 8 17.1 16 36.3 8.3 18" fill="none" stroke="#111" stroke-opacity="0.64" stroke-width="2.1" stroke-linecap="round" stroke-linejoin="round"/><path d="M445 231l3 1.9 2 1.4 3 2.8 3 3.2 8 9.2 10 12.8 9 11 4 4.7 7 7.7 3 3 3 2.6 3 2.2 2.8 1.5" fill="none" stroke="#111" stroke-opacity="0.25" stroke-width="3.0" stroke-linecap="round" stroke-linejoin="round"/><path d="M445 231l3 1.9 2 1.4 3 2.8 3 3.2 8 9.2 10 12.8 9 11 4 4.7 7 7.7 3 3 3 2.6 3 2.2 2.8 1.5" fill="none" stroke="#111" stroke-opacity="0.30" stroke-width="1.8" stroke-linecap="round" stroke-linejoin="round"/><path d="M445 231l3 1.9 2 1.4 3 2.8 3 3.2 8 9.2 10 12.8 9 11 4 4.7 7 7.7 3 3 3 2.6 3 2.2 2.8 1.5" fill="none" stroke="#111" stroke-opacity="0.40" stroke-width="0.9" stroke-linecap="round" stroke-linejoin="round"/><path d="M472.8,306.9L471.7,305.1" stroke="#111" stroke-opacity="0.10" stroke-width="4" fill="none"/><path d="M472.8,306.9L471.7,305.1" stroke="#111" stroke-opacity="0.10" stroke-width="1.8" fill="none"/><path d="M471.7,305.1L470.6,303.4" stroke="#111" stroke-opacity="0.10" stroke-width="4" fill="none"/><path d="M471.7,305.1L470.6,303.4" stroke="#111" stroke-opacity="0.10" stroke-width="1.8" fill="none"/><path d="M470.6,303.4L469.6,301.6" stroke="#111" stroke-opacity="0.09" stroke-width="4" fill="none"/><path d="M470.6,303.4L469.6,301.6" stroke="#111" stroke-opacity="0.09" stroke-width="1.8" fill="none"/><path d="M469.6,301.6L468.5,299.9" stroke="#111" stroke-opacity="0.09" stroke-width="4" fill="none"/><path d="M469.6,301.6L468.5,299.9" stroke="#111" stroke-opacity="0.09" stroke-width="1.8" fill="none"/><path d="M468.5,299.9L467.4,298.1" stroke="#111" stroke-opacity="0.09" stroke-width="4" fill="none"/><path d="M468.5,299.9L467.4,298.1" stroke="#111" stroke-opacity="0.09" stroke-width="1.8" fill="none"/><path d="M467.4,298.1L466.4,296.3" stroke="#111" stroke-opacity="0.08" stroke-width="4" fill="none"/><path d="M467.4,298.1L466.4,296.3" stroke="#111" stroke-opacity="0.08" stroke-width="1.8" fill="none"/><path d="M466.4,296.3L465.3,294.5" stroke="#111" stroke-opacity="0.08" stroke-width="4" fill="none"/><path d="M466.4,296.3L465.3,294.5" stroke="#111" stroke-opacity="0.08" stroke-width="1.8" fill="none"/><path d="M465.3,294.5L464.3,292.8" stroke="#111" stroke-opacity="0.08" stroke-width="4" fill="none"/><path d="M465.3,294.5L464.3,292.8" stroke="#111" stroke-opacity="0.08" stroke-width="1.8" fill="none"/><path d="M464.3,292.8L463.2,291" stroke="#111" stroke-opacity="0.07" stroke-width="4" fill="none"/><path d="M464.3,292.8L463.2,291" stroke="#111" stroke-opacity="0.07" stroke-width="1.8" fill="none"/><path d="M463.2,291L462.2,289.2" stroke="#111" stroke-opacity="0.07" stroke-width="4" fill="none"/><path d="M463.2,291L462.2,289.2" stroke="#111" stroke-opacity="0.07" stroke-width="1.8" fill="none"/><path d="M462.2,289.2L461.2,287.4" stroke="#111" stroke-opacity="0.07" stroke-width="4" fill="none"/><path d="M462.2,289.2L461.2,287.4" stroke="#111" stroke-opacity="0.07" stroke-width="1.8" fill="none"/><path d="M461.2,287.4L460.2,285.6" stroke="#111" stroke-opacity="0.06" stroke-width="4" fill="none"/><path d="M461.2,287.4L460.2,285.6" stroke="#111" stroke-opacity="0.06" stroke-width="1.8" fill="none"/><path d="M460.2,285.6L459.2,283.8" stroke="#111" stroke-opacity="0.06" stroke-width="4" fill="none"/><path d="M460.2,285.6L459.2,283.8" stroke="#111" stroke-opacity="0.06" stroke-width="1.8" fill="none"/><path d="M459.2,283.8L458.1,282" stroke="#111" stroke-opacity="0.06" stroke-width="4" fill="none"/><path d="M459.2,283.8L458.1,282" stroke="#111" stroke-opacity="0.06" stroke-width="1.8" fill="none"/><path d="M458.1,282L457.1,280.2" stroke="#111" stroke-opacity="0.05" stroke-width="4" fill="none"/><path d="M458.1,282L457.1,280.2" stroke="#111" stroke-opacity="0.05" stroke-width="1.8" fill="none"/><path d="M457.1,280.2L456.1,278.4" stroke="#111" stroke-opacity="0.05" stroke-width="4" fill="none"/><path d="M457.1,280.2L456.1,278.4" stroke="#111" stroke-opacity="0.05" stroke-width="1.8" fill="none"/><path d="M456.1,278.4L455.1,276.6" stroke="#111" stroke-opacity="0.04" stroke-width="4" fill="none"/><path d="M456.1,278.4L455.1,276.6" stroke="#111" stroke-opacity="0.04" stroke-width="1.8" fill="none"/><path d="M455.1,276.6L454,274.8" stroke="#111" stroke-opacity="0.04" stroke-width="4" fill="none"/><path d="M455.1,276.6L454,274.8" stroke="#111" stroke-opacity="0.04" stroke-width="1.8" fill="none"/><path d="M454,274.8L453,273.1" stroke="#111" stroke-opacity="0.04" stroke-width="4" fill="none"/><path d="M454,274.8L453,273.1" stroke="#111" stroke-opacity="0.04" stroke-width="1.8" fill="none"/><path d="M453,273.1L452,271.3" stroke="#111" stroke-opacity="0.03" stroke-width="4" fill="none"/><path d="M453,273.1L452,271.3" stroke="#111" stroke-opacity="0.03" stroke-width="1.8" fill="none"/><path d="M452,271.3L451,269.5" stroke="#111" stroke-opacity="0.03" stroke-width="4" fill="none"/><path d="M452,271.3L451,269.5" stroke="#111" stroke-opacity="0.03" stroke-width="1.8" fill="none"/><path d="M451,269.5L449.9,267.7" stroke="#111" stroke-opacity="0.03" stroke-width="4" fill="none"/><path d="M451,269.5L449.9,267.7" stroke="#111" stroke-opacity="0.03" stroke-width="1.8" fill="none"/><path d="M449.9,267.7L448.9,265.9" stroke="#111" stroke-opacity="0.02" stroke-width="4" fill="none"/><path d="M449.9,267.7L448.9,265.9" stroke="#111" stroke-opacity="0.02" stroke-width="1.8" fill="none"/><path d="M448.9,265.9L447.9,264.1" stroke="#111" stroke-opacity="0.02" stroke-width="4" fill="none"/><path d="M448.9,265.9L447.9,264.1" stroke="#111" stroke-opacity="0.02" stroke-width="1.8" fill="none"/><path d="M447.9,264.1L446.9,262.3" stroke="#111" stroke-opacity="0.02" stroke-width="4" fill="none"/><path d="M447.9,264.1L446.9,262.3" stroke="#111" stroke-opacity="0.02" stroke-width="1.8" fill="none"/><path d="M446.9,262.3L445.9,260.4" stroke="#111" stroke-opacity="0.01" stroke-width="4" fill="none"/><path d="M446.9,262.3L445.9,260.4" stroke="#111" stroke-opacity="0.01" stroke-width="1.8" fill="none"/><path d="M445.9,260.4L445,258.6" stroke="#111" stroke-opacity="0.01" stroke-width="4" fill="none"/><path d="M445.9,260.4L445,258.6" stroke="#111" stroke-opacity="0.01" stroke-width="1.8" fill="none"/><path d="M445,258.6L444,256.8" stroke="#111" stroke-opacity="0.01" stroke-width="4" fill="none"/><path d="M445,258.6L444,256.8" stroke="#111" stroke-opacity="0.01" stroke-width="1.8" fill="none"/><path d="M444,256.8L443,255" stroke="#111" stroke-opacity="0.00" stroke-width="4" fill="none"/><path d="M444,256.8L443,255" stroke="#111" stroke-opacity="0.00" stroke-width="1.8" fill="none"/><path d="M519.6,307.7L520.1,308.1" stroke="#111" stroke-opacity="0.12" stroke-width="3" fill="none"/><path d="M519.6,307.7L520.1,308.1" stroke="#111" stroke-opacity="0.12" stroke-width="1.4" fill="none"/><path d="M520.1,308.1L520.6,308.5" stroke="#111" stroke-opacity="0.12" stroke-width="3" fill="none"/><path d="M520.1,308.1L520.6,308.5" stroke="#111" stroke-opacity="0.12" stroke-width="1.4" fill="none"/><path d="M520.6,308.5L521.1,308.9" stroke="#111" stroke-opacity="0.11" stroke-width="3" fill="none"/><path d="M520.6,308.5L521.1,308.9" stroke="#111" stroke-opacity="0.11" stroke-width="1.4" fill="none"/><path d="M521.1,308.9L521.6,309.2" stroke="#111" stroke-opacity="0.11" stroke-width="3" fill="none"/><path d="M521.1,308.9L521.6,309.2" stroke="#111" stroke-opacity="0.11" stroke-width="1.4" fill="none"/><path d="M521.6,309.2L522.1,309.6" stroke="#111" stroke-opacity="0.10" stroke-width="3" fill="none"/><path d="M521.6,309.2L522.1,309.6" stroke="#111" stroke-opacity="0.10" stroke-width="1.4" fill="none"/><path d="M522.1,309.6L522.6,310" stroke="#111" stroke-opacity="0.10" stroke-width="3" fill="none"/><path d="M522.1,309.6L522.6,310" stroke="#111" stroke-opacity="0.10" stroke-width="1.4" fill="none"/><path d="M522.6,310L523,310.4" stroke="#111" stroke-opacity="0.10" stroke-width="3" fill="none"/><path d="M522.6,310L523,310.4" stroke="#111" stroke-opacity="0.10" stroke-width="1.4" fill="none"/><path d="M523,310.4L523.5,310.8" stroke="#111" stroke-opacity="0.09" stroke-width="3" fill="none"/><path d="M523,310.4L523.5,310.8" stroke="#111" stroke-opacity="0.09" stroke-width="1.4" fill="none"/><path d="M523.5,310.8L524,311.2" stroke="#111" stroke-opacity="0.09" stroke-width="3" fill="none"/><path d="M523.5,310.8L524,311.2" stroke="#111" stroke-opacity="0.09" stroke-width="1.4" fill="none"/><path d="M524,311.2L524.5,311.7" stroke="#111" stroke-opacity="0.08" stroke-width="3" fill="none"/><path d="M524,311.2L524.5,311.7" stroke="#111" stroke-opacity="0.08" stroke-width="1.4" fill="none"/><path d="M524.5,311.7L525,312.1" stroke="#111" stroke-opacity="0.08" stroke-width="3" fill="none"/><path d="M524.5,311.7L525,312.1" stroke="#111" stroke-opacity="0.08" stroke-width="1.4" fill="none"/><path d="M525,312.1L525.4,312.5" stroke="#111" stroke-opacity="0.07" stroke-width="3" fill="none"/><path d="M525,312.1L525.4,312.5" stroke="#111" stroke-opacity="0.07" stroke-width="1.4" fill="none"/><path d="M525.4,312.5L525.9,312.9" stroke="#111" stroke-opacity="0.07" stroke-width="3" fill="none"/><path d="M525.4,312.5L525.9,312.9" stroke="#111" stroke-opacity="0.07" stroke-width="1.4" fill="none"/><path d="M525.9,312.9L526.4,313.3" stroke="#111" stroke-opacity="0.07" stroke-width="3" fill="none"/><path d="M525.9,312.9L526.4,313.3" stroke="#111" stroke-opacity="0.07" stroke-width="1.4" fill="none"/><path d="M526.4,313.3L526.8,313.7" stroke="#111" stroke-opacity="0.06" stroke-width="3" fill="none"/><path d="M526.4,313.3L526.8,313.7" stroke="#111" stroke-opacity="0.06" stroke-width="1.4" fill="none"/><path d="M526.8,313.7L527.3,314.2" stroke="#111" stroke-opacity="0.06" stroke-width="3" fill="none"/><path d="M526.8,313.7L527.3,314.2" stroke="#111" stroke-opacity="0.06" stroke-width="1.4" fill="none"/><path d="M527.3,314.2L527.7,314.6" stroke="#111" stroke-opacity="0.05" stroke-width="3" fill="none"/><path d="M527.3,314.2L527.7,314.6" stroke="#111" stroke-opacity="0.05" stroke-width="1.4" fill="none"/><path d="M527.7,314.6L528.2,315" stroke="#111" stroke-opacity="0.05" stroke-width="3" fill="none"/><path d="M527.7,314.6L528.2,315" stroke="#111" stroke-opacity="0.05" stroke-width="1.4" fill="none"/><path d="M528.2,315L528.6,315.5" stroke="#111" stroke-opacity="0.05" stroke-width="3" fill="none"/><path d="M528.2,315L528.6,315.5" stroke="#111" stroke-opacity="0.05" stroke-width="1.4" fill="none"/><path d="M528.6,315.5L529.1,315.9" stroke="#111" stroke-opacity="0.04" stroke-width="3" fill="none"/><path d="M528.6,315.5L529.1,315.9" stroke="#111" stroke-opacity="0.04" stroke-width="1.4" fill="none"/><path d="M529.1,315.9L529.5,316.4" stroke="#111" stroke-opacity="0.04" stroke-width="3" fill="none"/><path d="M529.1,315.9L529.5,316.4" stroke="#111" stroke-opacity="0.04" stroke-width="1.4" fill="none"/><path d="M529.5,316.4L530,316.8" stroke="#111" stroke-opacity="0.03" stroke-width="3" fill="none"/><path d="M529.5,316.4L530,316.8" stroke="#111" stroke-opacity="0.03" stroke-width="1.4" fill="none"/><path d="M530,316.8L530.4,317.2" stroke="#111" stroke-opacity="0.03" stroke-width="3" fill="none"/><path d="M530,316.8L530.4,317.2" stroke="#111" stroke-opacity="0.03" stroke-width="1.4" fill="none"/><path d="M530.4,317.2L530.9,317.7" stroke="#111" stroke-opacity="0.02" stroke-width="3" fill="none"/><path d="M530.4,317.2L530.9,317.7" stroke="#111" stroke-opacity="0.02" stroke-width="1.4" fill="none"/><path d="M530.9,317.7L531.3,318.2" stroke="#111" stroke-opacity="0.02" stroke-width="3" fill="none"/><path d="M530.9,317.7L531.3,318.2" stroke="#111" stroke-opacity="0.02" stroke-width="1.4" fill="none"/><path d="M531.3,318.2L531.7,318.6" stroke="#111" stroke-opacity="0.02" stroke-width="3" fill="none"/><path d="M531.3,318.2L531.7,318.6" stroke="#111" stroke-opacity="0.02" stroke-width="1.4" fill="none"/><path d="M531.7,318.6L532.1,319.1" stroke="#111" stroke-opacity="0.01" stroke-width="3" fill="none"/><path d="M531.7,318.6L532.1,319.1" stroke="#111" stroke-opacity="0.01" stroke-width="1.4" fill="none"/><path d="M532.1,319.1L532.6,319.5" stroke="#111" stroke-opacity="0.01" stroke-width="3" fill="none"/><path d="M532.1,319.1L532.6,319.5" stroke="#111" stroke-opacity="0.01" stroke-width="1.4" fill="none"/><path d="M532.6,319.5L533,320" stroke="#111" stroke-opacity="0.00" stroke-width="3" fill="none"/><path d="M532.6,319.5L533,320" stroke="#111" stroke-opacity="0.00" stroke-width="1.4" fill="none"/></g>
</g>
<g clip-path="url(#cpc)">
<path d="M268.7 477.7l-65.8 152.2-2 4.1-.5 .7-1 .6-.5 0-1-.4-2.5-2.3-38-39.9-2-1.5-1.5-.4-1 .3-.8 .6-1.7 2.1-24.5 40.4-1.5 1.6-.5 .2-1-.2-1.5-1.4-2.5-3.5-51.6-77.2M267.4 475.5l-63.5 146.8-3.2 6.9-.8 1.3-1 .8-.5 0-1-.3-1-.7-2-1.9-36-37.6-1.3-1.1-1.2-.8-1-.3-1-.1-1 .1-1.3 .6-1.1 1-.8 1-2.6 4-20.2 33.3-1.5 2.1-1 1-.5 .2-1-.1-1-.7-1-1.2-3.5-5-50.2-75.1M265.2 475.2l-61.3 141.8-3.5 7.4-1 1.6-1 .9-1 .2-1-.4-1.5-1.1-2-1.8-30.1-31.6-3.4-3.4-1.4-1.1-1.1-.7-1.5-.5-1.5-.2-1.5 .2-1.5 .6-1.4 1.1-1.1 1.2-2.6 3.8-14.9 24.8-4 6.2-1.5 2-1 .9-1 .3-1-.3-1-.9-1-1.1-4-5.6-49-73.3M262.7 475.7l-59.7 138-3.1 6.4-1.5 2-1 .6-1 0-1.5-.6-1.5-1.2-2-1.8-27.5-28.8-3.2-3.1-1.8-1.4-1.5-.8-1.5-.6-2-.2-2 .3-1.5 .5-1.9 1.2-1.4 1.5-2.8 4-13.4 22.2-3.5 5.4-1.5 1.9-1.5 1.4-1 .3-.5 0-1-.5-1-.9-1.5-1.7-4-5.5-48.2-72.1M260.7 475.2l-58.2 134.5-1.6 3.4-1.5 2.7-1.5 1.9-1 .6-1 .2-1.5-.4-2-1.3-2-1.8-4.5-4.5-20.7-21.8-3.6-3.5-1.7-1.3-2-1-2-.6-2-.2-2.5 .3-2 .7-1.7 1.1-1.8 1.6-1.5 1.9-1.5 2.3-12 19.8-3.5 5.3-1.5 1.8-1.5 1.2-1 .3-.5 0-1.5-.6-1-.9-1.5-1.6-3.5-4.8-48-71.8M258.4 475.2l-56.5 130.5-2 4.2-1.4 2.3-1.1 1.3-1.5 .8-1 .1-1.5-.4-1.5-1-2-1.6-4.5-4.5-19.2-20.2-3.7-3.5-2.1-1.5-2-.9-2-.6-2.5-.3-2.5 .3-2.5 .8-2 1.1-2 1.7-1.6 1.9-1.8 2.5-11.1 18.3-3 4.5-1.5 1.7-1.5 1.1-1.5 .4-1.5-.5-1-.8-1.5-1.5-3.5-4.7-48.2-72M255.9 475.6l-54.5 126-2 4.2-1.4 2.4-1.1 1.3-1.5 1-1 .1-1.5-.4-1.5-.8-2-1.6-4.5-4.5-17.5-18.4-4-3.7-2.2-1.5-2.3-1.1-2.5-.6-2.5-.3-3 .4-2.5 .7-2.5 1.4-2 1.6-1.8 1.9-1.8 2.5-10.4 17.1-3 4.3-1.5 1.5-1.5 .9-1.5 .1-1.5-.7-1-.8-1.5-1.6-3.5-4.8-47.8-71.5M253.6 475.7l-53.1 122.5-1.6 3.4-1.5 2.6-1.5 1.7-1.5 .8-1 0-1.5-.5-1.5-.9-2-1.7-4-3.9-16-16.8-4-3.6-2.5-1.6-2.5-1.1-2.5-.7-2.5-.3-3 .2-3 .8-3 1.4-2.5 1.8-2 2.1-2 2.7-9.5 15.3-3 4.1-1.5 1.4-1.5 .7-1 0-1.5-.6-1-.8-1.5-1.6-4-5.5-47.1-70.4M251.3 475.7l-50.9 117.5-2 4.2-1.5 2.6-1.5 1.8-1.5 .8-1 .1-1.5-.4-1.5-.8-2-1.6-4.5-4.4-13.8-14.3-2.2-2.1-2-1.6-2.5-1.7-2.5-1.1-3-.8-3-.4-3.5 .3-3 .7-3 1.4-3 2-2.3 2.3-2 2.5-8.2 13-3 4.1-1.5 1.4-1.5 .7-1 0-1.5-.6-1.5-1.1-1.5-1.7-4-5.5-46.8-69.8M249 475.7l-48.6 112.1-2.5 5.2-1.6 2.7-1.7 2-.7 .5-1 .3-1 .1-1.5-.5-1.5-.9-2-1.5-4.5-4.4-11.8-12.1-2.7-2.4-2-1.5-2.6-1.6-2.9-1.2-3-.7-3-.3-3.5 .2-3.5 .8-3 1.3-3 1.9-2.5 2.2-2.4 2.8-7.6 11.5-1.5 2.1-1.5 1.7-1.5 1.1-1.5 .5-1-.1-1.5-.7-1.5-1.3-1.5-1.7-5-6.8-45.1-67.3M246.9 475.3l-39.5 91.3-7 15.9-2.5 5.2-2 3.5-1.7 2-.8 .6-1 .4-1 .2-1.5-.4-1.5-.7-2-1.5-4-3.7-11-11-2.5-2.2-2.4-1.7-2.6-1.5-3-1.2-3-.7-3.5-.4-3.5 .2-3.5 .8-3.5 1.3-3 1.8-2.7 2.2-2.4 2.5-2.3 3-5.1 7.4-2.5 2.9-1.5 1.2-1.5 .4-1 0-1.5-.6-1.5-1.2-2-2.2-5.5-7.4-44.2-66M244.7 475.2l-37.3 86.1-7 15.8-3 6.2-2 3.4-1 1.3-1 1-1 .6-1 .4-1 0-1.5-.3-1.5-.8-2-1.4-3.5-3.1-10-9.7-2.5-2-2.2-1.5-2.8-1.5-3-1.2-3-.7-3.5-.4-3.5 .1-3.5 .6-3.5 1.2-3 1.4-3 2.1-3.2 2.9-2.6 3-4.7 6.3-2.5 2.5-1.5 .9-1 .2-1.5-.1-1.5-.7-2-1.7-2-2.3-6-8.1-42.5-63.5M242.4 475.2l-35.9 83-6.6 14.7-3 6-2.4 3.8-1.1 1.3-1 .8-1 .6-1 .2-1 0-1.5-.3-1.5-.7-1.5-1-3.5-2.9-8.6-8-2.6-2-2.8-1.8-3-1.5-3-1-3-.7-3.5-.4-3.5 .1-3 .5-3.5 1-3 1.2-3.5 2.1-3.2 2.5-2.5 2.5-5.3 6-2 1.8-1.5 .8-1.5 .3-1.5-.3-1.5-.7-2-1.7-2-2.2-6-8.1-42.2-62.9M239.9 475.7l-34 78.5-6.5 14.5-2.8 5.5-2.2 3.5-2 2.2-1.1 .8-1.4 .5-1 .1-1.5-.2-1.5-.6-1.5-.9-3-2.2-8.5-7.3-2.7-1.9-2.8-1.6-3-1.4-3-1-3-.6-3.5-.3-3.5 .1-3 .4-3 .7-3 1.1-3.5 1.8-3.5 2.4-2.9 2.4-5.1 4.9-2 1.6-1.5 .7-1.5 .2-1.5-.2-1.5-.7-2-1.5-2.5-2.6-2.5-3.2-3.5-4.8-41.8-62.4M237.8 475.2l-32.4 74.9-6.5 14.4-3 5.7-2.5 3.7-2 1.9-1 .6-1.5 .5-1 .1-1.5-.3-1.5-.5-1.5-.8-2.5-1.7-8-6.2-2.8-1.8-2.8-1.5-2.9-1.2-3-.9-3-.6-3.5-.3-3.5 .1-3.5 .5-3.5 .9-3.5 1.3-2.5 1.3-2.5 1.5-3 2.1-5.5 4.4-1.5 1-1.5 .7-1.5 .3-1 0-1.5-.4-1.5-.7-2-1.6-2.5-2.6-2.5-3.1-3.5-4.8-41.1-61.4M235.4 475.4l-31 71.7-6 13.2-3 5.7-2.5 3.6-1.1 1.1-1.4 1.1-1 .5-1.5 .4-1 0-1.5-.2-2.5-1-2.5-1.5-7.8-5.3-2.7-1.5-3-1.4-2.5-1-3-.8-3-.6-3-.2-3.5 0-3.5 .4-3.5 .8-3 1-5 2.3-3 1.8-6 4-1.5 .8-1.5 .6-2 .3-1.5-.1-1.5-.5-1.5-.8-2-1.6-2.5-2.6-2.5-3.2-3-4.1-41.3-61.6M233.2 475.2l-29.6 68.5-5.9 13-2.8 5.1-2.5 3.5-1.4 1.4-1.1 .8-1.5 .8-1.5 .3-2.5-.2-2.5-.8-2.5-1.3-7.5-4.5-3-1.5-2.5-1-2.5-.8-3-.7-2.5-.5-3-.2-3.5 0-3 .3-3.5 .7-3 .9-5 2-9 5-3 1.2-2 .2-1.5-.1-2-.6-1.5-.8-2-1.6-2.5-2.6-2.5-3.1-3-4.1-41.1-61.3M230.9 475.3l-28.1 64.9-5.9 12.9-3 5.4-2.5 3.3-1 .9-1.5 1.1-1.5 .6-1.5 .3-2.5-.1-2.5-.7-10-5-5.5-2.1-5-1.3-5-.5-3.5 0-3 .3-3 .5-3 .8-5.5 2.1-8.5 4-3 1-2 .2-2-.2-2-.7-1.5-.8-2-1.6-2.5-2.6-2.5-3.1-3-4.1-41.3-61.6M228.6 475.2l-27 62.5-5.7 12.3-3 5.2-2.5 3.1-1.5 1.3-1.5 .8-1.5 .5-1.5 .2-2-.1-2.5-.6-10-4.3-5-1.7-4.5-1-5-.5-3 0-3 .2-5.5 1-5.5 1.8-9 3.7-3 .8-2 .2-2-.2-2-.7-1.5-.8-2-1.5-2.5-2.5-2.5-3.1-3-4.1-41.6-62M226.3 475.2l-25.9 59.9-3.2 7.1-2.3 4.8-3 5.1-2.5 2.9-1.5 1.2-1.5 .9-1.5 .5-1.5 .1-2-.1-2.5-.5-10-3.7-4.5-1.3-4.5-.9-4.5-.4-5.5 .2-5.5 .8-5 1.5-9 3.3-3.5 .8-2 .1-2-.3-2-.6-1.6-.9-2-1.5-2.4-2.4-2.5-3-3-4.1-42.2-63M223.9 475.6l-24.5 56.6-3.2 7-2.4 5-2.9 4.8-1.5 1.9-1.4 1.3-1.6 1.2-1.5 .7-1.5 .3-1.5 .2-2-.2-2.5-.5-9-2.9-4.5-1.2-4.5-.8-4-.3-5 .1-5.5 .8-5 1.2-9 3-3.5 .7-2 0-2-.2-2-.7-2-1.2-2-1.6-2.1-2.1-2.4-2.9-3-4.1-42.5-63.5M221.8 475.2l-22.3 51.5-4.6 10.3-2.1 4.2-2.1 3.5-1.8 2.5-2 2-1.5 1-2 .9-2 .3-2 0-3.5-.6-9-2.5-4.5-1-5.5-.7-5 0-3.5 .2-4 .7-4 .9-9 2.6-2.5 .5-2 .2-2-.2-1.5-.3-1.5-.6-1.6-.9-1.9-1.4-1.5-1.5-3.5-4.1-7-9.9-38.5-57.6M219.3 475.7l-20.8 48-4.6 10.3-2.1 4.2-2.1 3.5-1.8 2.4-2 2-1.6 1.1-1.9 .8-2 .4-2 0-3.5-.4-9-2.2-4.5-.9-5-.5-5 0-3.5 .4-3.5 .5-12 3-2.5 .4-2 .1-2-.1-1.5-.3-1.9-.7-1.6-.9-3-2.5-3.5-3.9-3-4.1-4-5.8-37-55.3M217.2 475.2l-19.5 45-4.8 10.8-2 4-2 3.4-2 2.7-2 2-1.5 1-2 .9-2 .4-2 .1-4-.4-8.5-1.7-4.5-.7-5-.4-4.5 0-6 .7-11.5 2.6-2.5 .4-2 .1-2-.2-1.5-.3-2-.7-1.5-.8-1.5-1-2-1.8-3.5-4-3-4-4.2-6.1-34.8-52M214.9 475.2l-18 41.6-5.1 11.4-2.3 4.5-1.8 3-1.8 2.4-2 1.9-1.5 1.1-2 .9-1.5 .4-2 .3-2 0-2.5-.3-12-1.9-3.5-.3-3.5-.1-3.5 .2-3.5 .4-12.5 2.3-4 .3-2-.1-1.5-.3-2-.6-1.5-.8-1.9-1.3-1.6-1.4-3.5-3.9-3-4-4.5-6.5-32.9-49.2M212.6 475.2l-16.7 38.6-5.1 11.4-2.3 4.5-1.8 3-1.8 2.4-2 1.9-1.7 1.2-1.8 .9-2 .6-2 .2-4-.1-12-1.5-6.5-.3-6.5 .5-11 1.8-4 .4-2-.1-2-.4-2-.6-1.5-.7-1.8-1.2-1.7-1.4-3.5-3.8-3-3.9-4.5-6.5-31.1-46.4M210.3 475.2l-15.4 35.6-5.5 12.1-2 3.9-2 3.3-2 2.5-1.7 1.6-1.8 1.3-2 .9-2 .6-2 .2-4 0-11.5-1.2-5.5-.1-6 .4-10.5 1.5-4 .2-2-.1-2-.3-2-.7-1.5-.7-1.7-1-1.8-1.4-3.5-3.7-3.4-4.4-4.6-6.6-29.4-43.9M207.9 475.5l-14.2 32.7-5.4 12-2.1 4-1.9 3-1.9 2.4-2 1.9-1.7 1.2-1.8 .9-2 .6-2.5 .4-3.5 0-10.5-.7-6-.1-5 .3-10 1.2-3.5 .2-2-.1-2-.3-2-.6-2-.9-2-1.2-1.5-1.2-3.5-3.6-3.5-4.4-4.5-6.5-27.9-41.5M205.8 475.2l-13.1 30-5.5 12-2.1 4-1.8 3-1.9 2.5-2 1.9-2 1.4-2 1-2 .6-2.5 .4-3.5 .1-10-.4-5 0-4.5 .2-9 .9-3.5 .1-2.5-.1-2-.4-2-.5-2-.9-2-1.2-1.5-1.1-3.5-3.5-3.5-4.4-4.7-6.6-25.8-38.5M203.4 475.4l-12 27.5-5.4 11.8-2.1 3.9-2 3.1-1.5 2-2 2-2 1.4-2 1.1-2.5 .8-2.5 .5-4 .2-13.5-.2-14.5 .9-2.5-.1-2.5-.3-2-.5-2-.8-2-1.1-1.9-1.4-1.7-1.5-1.9-2-3.5-4.3-5-7-24-35.8M201.2 475.2l-10.9 25-5.4 11.6-2 3.8-2 3.2-2 2.5-2 1.9-2 1.4-2 1.1-2.5 .8-2.5 .5-4 .3-12.5 .1-12.5 .6-2.5-.1-2.5-.4-2.5-.6-2-.8-2-1.1-1.9-1.3-1.6-1.4-2-2-3.5-4.3-5-6.9-22.4-33.4M198.9 475.2l-10 22.9-5.2 11.1-1.9 3.5-1.9 3.1-2 2.6-2 2-2 1.4-2.5 1.4-2.5 .8-2.5 .6-4.5 .3-21 .6-5-.3-2.5-.5-2-.7-2-1-2-1.2-2-1.6-2-1.9-3.5-4.1-5-6.8-21.5-31.8M196.4 475.7l-9 20.5-5 10.6-2 3.6-1.8 2.8-1.7 2.3-2 2-2 1.6-2.5 1.4-2.5 1-3 .7-5.5 .5-16.5 .5-3.5-.2-2.5-.3-2.5-.6-2-.7-2-.9-2-1.2-2-1.6-2-1.8-3.6-4.2-4.9-6.6-20-29.6M194.3 475.2l-8.1 18.5-4.8 10.1-2 3.6-1.7 2.8-1.8 2.4-2 2.1-2 1.6-2.5 1.5-2.5 1.1-2.5 .7-3 .5-3.5 .3-12.5 .4-6-.3-2.5-.5-2.5-.7-2.5-1.1-2-1.1-2-1.5-2-1.7-3.8-4.2-4.7-6.2-6.5-9.4-12.5-18.6M191.9 475.5l-7.4 16.7-4.6 9.5-3.5 5.9-1.5 2.1-2 2.1-2 1.7-2.5 1.6-2.5 1.2-2.5 .8-3 .6-3.5 .4-10 .3-6-.3-2.5-.4-2.5-.7-2.5-1.1-2.3-1.2-2.2-1.6-2-1.7-3.9-4.2-4.6-6.1-6.5-9.3-11-16.4M189.7 475.2l-6.4 14.5-4.4 9-3.5 6-1.9 2.5-1.6 1.8-2 1.7-2.1 1.5-2.4 1.3-2.5 .9-3 .8-3 .4-8 .4-3.5 0-3-.3-2.5-.4-2.5-.7-2.5-1-2.5-1.3-2-1.3-2-1.6-4-4.2-4.5-5.7-6-8.5-10.3-15.3M187.4 475.2l-6 13.4-4 8.1-3.3 5.5-1.7 2.3-1.6 1.7-1.9 1.8-2 1.4-2.5 1.4-2.5 1.1-2.5 .7-3 .5-3.5 .4-3.5 .1-3-.1-3-.2-2.5-.5-2.5-.7-2.5-1-2.5-1.3-2-1.3-2-1.6-4-4.1-4.5-5.7-5.6-7.9-9.2-13.5M184.9 475.6l-5 11.1-4 7.9-3.5 5.6-3 3.6-2 1.8-2.3 1.6-2.2 1.2-2.5 1.1-2.5 .7-2.9 .5-3.1 .3-3 .1-3-.2-2.5-.3-2.5-.5-2-.7-2.5-1-2-1.1-2-1.3-2.2-1.8-3.8-3.9-4.5-5.6-5.5-7.6-8-11.8M182.5 475.7l-4.6 10.1-3.6 6.9-3.2 5-1.6 2-1.6 1.7-2 1.8-2 1.4-2 1.1-2.5 1.1-2 .7-2.5 .5-2.5 .3-3 .2-2.5-.1-2.5-.4-2.5-.5-2-.7-2.5-1-2-1.1-2-1.3-2-1.5-3.7-3.7-4.3-5.2-5-6.8-7.5-11M180.4 475.2l-4 8.6-3.5 6.6-3 4.6-3.1 3.7-1.9 1.7-1.8 1.3-2.2 1.3-2 .9-2.2 .8-2.3 .6-2.5 .3-2.5 .1-4.5-.4-2.5-.6-2-.7-4-1.9-2-1.2-2-1.6-3.5-3.4-4-4.7-5-6.7-6.5-9.3M177.8 475.7l-3.6 7.5-3.1 5.5-2.7 4-3 3.5-3.5 2.8-2 1.2-2 .9-2 .8-2 .5-2 .3-2.5 .1-2.2-.1-2.3-.3-4-1.2-4-2-3.5-2.5-3.5-3.3-3.7-4.2-4.3-5.7-5.9-8.3M175.4 475.6l-3.1 6.1-2.9 5.1-2.8 3.9-2.7 3-3.2 2.5-3.8 2-3.5 1.1-2 .4-2 .1-3.5-.3-4-1.1-4-1.9-3.5-2.4-3-2.7-3.5-3.9-4-5-5-7M172.9 475.6l-3 5.6-2.5 4-2.5 3.3-2.6 2.7-2.9 2.2-3.5 1.8-3.5 1-3.5 .3-3.5-.4-3.5-1-3.5-1.7-3-2-3-2.6-3-3.2-3.5-4.3-4.5-6M170.4 475.4l-2.5 4.3-2.5 3.8-2.5 3-2.4 2.2-2.6 1.8-3 1.5-3 .8-3 .3-3-.2-3-.8-3-1.3-3-1.8-3-2.5-2.8-2.8-3.2-3.7-3.5-4.4M167.4 475.7l-2 3.1-2.1 2.9-2.3 2.5-2.1 1.8-2.5 1.6-2.5 1.1-2.5 .6-3 .3-2.5-.3-3-.7-2.5-1.1-2.5-1.4-2.5-1.9-2.5-2.3-2.5-2.7-3-3.6M164.4 475.5l-2 2.7-1.8 2-1.7 1.6-2 1.5-2 1.1-2 .8-2 .5-2.5 .2-2.5-.2-2-.4-2.5-.9-2-1.1-2-1.3-2.5-2-4.5-4.6M160.9 475.4l-3 3-3 2-3 1.2-1.5 .4-2 .2-1.5-.1-2-.3-3.5-1.2-3.5-2-3.5-2.9M155.9 475.6l-2 1.2-2 .8-2 .5-2 .2-2-.1-2-.5-2-.7-2.5-1.3" fill="none" stroke="#1a1a1a" stroke-opacity="0.85" stroke-width="0.68" stroke-linejoin="round"/>
<path d="M153.9,592L151.9,591" stroke="#111" stroke-opacity="0.80" stroke-width="1.60" fill="none"/>
<path d="M151.9,591L149.9,589.8" stroke="#111" stroke-opacity="0.71" stroke-width="1.53" fill="none"/>
<path d="M149.9,589.8L147.9,588.5" stroke="#111" stroke-opacity="0.63" stroke-width="1.46" fill="none"/>
<path d="M147.9,588.5L145.9,587.1" stroke="#111" stroke-opacity="0.55" stroke-width="1.39" fill="none"/>
<path d="M145.9,587.1L143.9,585.5" stroke="#111" stroke-opacity="0.47" stroke-width="1.32" fill="none"/>
<path d="M143.9,585.5L141.9,583.9" stroke="#111" stroke-opacity="0.40" stroke-width="1.25" fill="none"/>
<path d="M141.9,583.9L139.9,582.1" stroke="#111" stroke-opacity="0.32" stroke-width="1.18" fill="none"/>
<path d="M139.9,582.1L137.9,580" stroke="#111" stroke-opacity="0.26" stroke-width="1.11" fill="none"/>
<path d="M137.9,580L135.9,577.9" stroke="#111" stroke-opacity="0.19" stroke-width="1.04" fill="none"/>
<path d="M135.9,577.9L133.9,575.9" stroke="#111" stroke-opacity="0.13" stroke-width="0.97" fill="none"/>
<path d="M133.9,575.9L131.9,573.8" stroke="#111" stroke-opacity="0.08" stroke-width="0.90" fill="none"/>
<path d="M131.9,573.8L129.9,571.7" stroke="#111" stroke-opacity="0.03" stroke-width="0.83" fill="none"/>
<path d="M153.9,592L155.9,590.6" stroke="#111" stroke-opacity="0.80" stroke-width="1.60" fill="none"/>
<path d="M155.9,590.6L157.9,588.9" stroke="#111" stroke-opacity="0.71" stroke-width="1.53" fill="none"/>
<path d="M157.9,588.9L159.9,586.9" stroke="#111" stroke-opacity="0.63" stroke-width="1.46" fill="none"/>
<path d="M159.9,586.9L161.9,584.7" stroke="#111" stroke-opacity="0.55" stroke-width="1.39" fill="none"/>
<path d="M161.9,584.7L163.9,582.2" stroke="#111" stroke-opacity="0.47" stroke-width="1.32" fill="none"/>
<path d="M163.9,582.2L165.9,579.5" stroke="#111" stroke-opacity="0.40" stroke-width="1.25" fill="none"/>
<path d="M165.9,579.5L167.9,576.7" stroke="#111" stroke-opacity="0.32" stroke-width="1.18" fill="none"/>
<path d="M167.9,576.7L169.9,573.8" stroke="#111" stroke-opacity="0.26" stroke-width="1.11" fill="none"/>
<path d="M169.9,573.8L171.9,570.6" stroke="#111" stroke-opacity="0.19" stroke-width="1.04" fill="none"/>
<path d="M171.9,570.6L173.9,566.8" stroke="#111" stroke-opacity="0.13" stroke-width="0.97" fill="none"/>
<path d="M173.9,566.8L175.9,562.6" stroke="#111" stroke-opacity="0.08" stroke-width="0.90" fill="none"/>
<path d="M175.9,562.6L177.9,558.2" stroke="#111" stroke-opacity="0.03" stroke-width="0.83" fill="none"/>
<path d="M153.9,592L144.9,586.3 148.9,585.8 152.9,585.5 157.9,584.5 162.9,583.5Z" fill="#000" fill-opacity="0.5"/>
<path d="M70.2 561.8V477.7M72.2 564.8V477.7M74.2 567.8V477.7M76.2 570.8V477.7M78.2 573.8V477.7M80.2 576.8V477.7M82.2 579.8V477.7M84.2 582.7V477.7M86.2 585.7V477.7M88.2 588.7V477.7M90.2 591.7V477.7M92.2 594.7V477.7M94.2 597.7V477.7M96.2 600.7V477.7M98.2 603.7V477.7M100.2 606.7V477.7M102.2 609.7V477.7M104.2 612.7V477.7M106.2 615.7V477.7M108.2 618.7V477.7M110.2 621.6V477.7M112.2 624.6V477.7M114.2 627.6V477.7M116.2 630.6V477.7M118.2 633.6V477.7M120.2 636.6V477.7M122.2 639.6V477.7M124.2 641.3V477.7M126.2 638V477.7M128.2 634.7V477.7M130.2 631.4V477.7M132.2 628V477.7M134.2 624.7V477.7M136.2 621.4V477.7M138.2 618.1V477.7M140.2 614.8V477.7M142.2 611.4V477.7M144.2 608.1V477.7M146.2 604.8V477.7M148.2 601.5V477.7M150.2 598.1V477.7M152.2 594.8V477.7M154.2 592.3V477.7M156.2 594.4V477.7M158.2 596.5V477.7M160.2 598.6V477.7M162.2 600.7V477.7M164.2 602.9V477.7M166.2 605V477.7M168.2 607.1V477.7M170.2 609.2V477.7M172.2 611.3V477.7M174.2 613.4V477.7M176.2 615.5V477.7M178.2 617.6V477.7M180.2 619.7V477.7M182.2 621.8V477.7M184.2 623.9V477.7M186.2 626V477.7M188.2 628.1V477.7M190.2 630.3V477.7M192.2 632.4V477.7M194.2 634.5V477.7M196.2 636.6V477.7M198.2 638.7V477.7M200.2 640.8V477.7M202.2 636.8V477.7M204.2 632.2V477.7M206.2 627.6V477.7M208.2 623V477.7M210.2 618.3V477.7M212.2 613.7V477.7M214.2 609.1V477.7M216.2 604.5V477.7M218.2 599.8V477.7M220.2 595.2V477.7M222.2 590.6V477.7M224.2 586V477.7M226.2 581.3V477.7M228.2 576.7V477.7M230.2 572.1V477.7M232.2 567.5V477.7M234.2 562.8V477.7M236.2 558.2V477.7M238.2 553.6V477.7M240.2 549V477.7M242.2 544.3V477.7M244.2 539.7V477.7M246.2 535.1V477.7M248.2 530.5V477.7M250.2 525.9V477.7M252.2 521.2V477.7M254.2 516.6V477.7M256.2 512V477.7M258.2 507.4V477.7M260.2 502.7V477.7M262.2 498.1V477.7M264.2 493.5V477.7M266.2 488.9V477.7" fill="none" stroke="#222" stroke-opacity="0.8" stroke-width="0.36" stroke-linejoin="round"/>
<g clip-path="url(#bp_c_up)"><path d="M69.4 560.6l48.6 72.7" fill="none" stroke="#111" stroke-opacity="0.25" stroke-width="5.0" stroke-linejoin="round"/><path d="M69.4 560.6l48.6 72.7" fill="none" stroke="#111" stroke-opacity="0.35" stroke-width="2.5" stroke-linejoin="round"/><path d="M206 628.1l60.7-140.4" fill="none" stroke="#111" stroke-opacity="0.30" stroke-width="6.0" stroke-linejoin="round"/><path d="M206 628.1l60.7-140.4" fill="none" stroke="#111" stroke-opacity="0.42" stroke-width="3.0" stroke-linejoin="round"/><path d="M128 635l22-36.5" fill="none" stroke="#111" stroke-opacity="0.20" stroke-width="2.5" stroke-linejoin="round"/><path d="M128 635l22-36.5" fill="none" stroke="#111" stroke-opacity="0.28" stroke-width="1.2" stroke-linejoin="round"/><path d="M158 596.3l38 40.1" fill="none" stroke="#111" stroke-opacity="0.20" stroke-width="2.5" stroke-linejoin="round"/><path d="M158 596.3l38 40.1" fill="none" stroke="#111" stroke-opacity="0.28" stroke-width="1.2" stroke-linejoin="round"/></g>
<path d="M69.4 560.6l54.4 81.4 30.1-50 46.5 49 66.3-153.3" fill="none" stroke="#1c1c1c" stroke-opacity="1" stroke-width="0.9" stroke-linejoin="round"/>
</g>
<g clip-path="url(#cpd)">
<path d="M582.4 475.7l-6.9 14-4.7 10-16.4 36.5-4 9.5-2.3 6-2 6-8.6 29-2 5.5-1.7 4-2 4-2.3 4.2-2.5 3.8-2.2 3-3.3 4-1.9 2-2 1.5-2.1 1-2 .5-2 .2-2-.2-2.5-.6-2.4-.9-2.1-1-3-1.8-3.3-2.2-4.3-3.5-5.9-5.7-16.5-18.6-1.5-1.1-1.5-.3-1 .3-1.2 .9-3.1 4-4 6-7.9 13-4.8 7.2-2.5 3.1-1.4 1.2-1.6 1-1.5 .7-1.5 .4-1 0-1.5-.1-1.7-.5-1.8-.8-1.5-1-1.5-1.3-2.7-2.9-2.3-2.8-3.1-4.2-11.9-17.5-3.8-6-3.7-6.5-8.5-15.2-8.2-15.3M580.3 475.2l-6.8 13.9-4.7 10.1-16.3 36.1-4 9.4-2.3 6-2 6-8.7 29.2-1.9 5.3-1.6 4-2 4-2.3 4-2.2 3.5-2.2 3-2.8 3.5-2 2.1-2 1.5-2 .9-2 .5-1.5 0-2-.3-2.5-.8-2-.8-2-1-5.5-3.6-4.2-3.5-5.6-5.5-16.4-18.5-1.3-1.1-1-.5-1-.4-1 0-1.5 .3-1.5 1-1.1 1.2-2 2.5-4.8 7-8.1 13.5-4.5 6.7-2.3 2.8-2.2 1.7-1.5 .8-1 .3-1 .1-1.5-.2-2.5-1-1.5-1-1.5-1.3-2.5-2.7-2.2-2.7-10.4-15-5-7.5-3.7-6-4-7-7.8-14-9.4-17.5M578 475.2l-6.5 13.2-4.8 10.3-16.2 36-4 9.5-2.3 6-2.1 6-8.6 29-1.7 5-1.7 4-2 4-1.9 3.5-2.2 3.5-2 2.8-2.5 3.1-2 2.1-1.5 1.2-2 1.1-1.5 .3-1.5 .1-2-.3-2-.6-2-.8-2-1.1-5-3.3-4-3.4-5.3-5.2-14.1-16-2.6-2.7-1.5-1.3-1-.5-1.5-.5-1.5-.2-2 .4-1.5 .8-1.7 1.5-1.8 2.2-5.4 7.8-8.6 14.2-4 5.8-2 2.5-2 1.6-2 .7-1 .1-1-.2-1.7-.7-1.5-1-1.8-1.7-4-4.8-10.4-15-5-7.5-3.6-6-5-8.8-17.5-32.2M575.5 475.4l-6.2 12.8-4.8 10.2-15.9 35.3-4.1 9.7-2.4 6.3-2 6-8.5 28.5-1.7 5-1.7 4-1.7 3.5-2 3.7-2.1 3.3-2.1 3-2 2.5-2 2-1.8 1.4-1.5 .6-1 .3-1.5 0-1.5-.2-2-.7-3.5-1.7-4.5-3-4-3.4-4.8-4.8-14.2-16.1-2.8-2.9-1.7-1.3-1.5-.8-1.5-.5-2-.2-2 .3-2.3 1-1.7 1.4-2 2.2-2.6 3.4-3 4.5-9.5 15.5-2.9 4.2-2 2.4-1.5 1.3-1.5 .6-1.5 .1-1-.3-1-.6-1.5-1.1-1.5-1.5-3.4-4.1-10.3-15-5.3-8-4.1-7-7.3-13-15.7-29M573.3 475.2l-5.9 12-4.9 10.6-15.7 34.9-4.3 10-2.2 6-2.2 6.5-8.5 28.5-1.6 4.5-1.6 4-1.7 3.5-2 3.5-3.7 5.7-1.9 2.3-1.6 1.7-1.5 1.1-1.5 .7-1 .3-1.5 0-2.5-.6-3-1.4-4-2.7-4-3.3-4.8-4.8-14.2-16-3-3.1-2-1.6-2-1-2-.6-2-.1-2.5 .3-2.5 1.1-2 1.4-2 2.1-2.7 3.5-3.4 5-9.5 15.5-2.4 3.3-1.5 1.7-1.5 1.3-1.5 .5-1.5-.1-1.5-.7-2.5-2.2-3-3.7-10-14.5-5.2-8.1-4.3-7.3-7.4-13.2-16.7-31M570.9 475.2l-5.6 11.5-5.1 11-15.5 34.5-4.2 10-2.3 6-2.2 6.5-8.3 28-1.6 4.5-1.6 4-3.3 6.5-1.9 3-1.8 2.6-1.5 1.8-1.5 1.5-1.5 1.1-1.5 .6-2 .1-2.5-.7-2.5-1.2-3.3-2.3-3.7-3.2-4.4-4.3-14.1-16-3.4-3.5-2.1-1.6-2-1-2-.7-2.5-.3-2.5 .2-2.5 .7-2.5 1.4-2 1.7-2.7 3.1-3.6 5-3.3 5-6 10-1.9 2.8-1.5 1.9-2 1.9-1.5 .7-1.5-.1-1.5-.6-2.3-2.1-2.7-3.4-9-13.1-5.5-8.5-4.1-7-7.5-13.5-18.1-33.5M568.5 475.4l-5.5 11.3-4.9 10.5-15.2 34-4.3 10-2.1 5.5-1.9 5.5-8.3 28-1.9 5.5-1.8 4.5-3 6-3.2 5-1.4 1.7-1.5 1.4-1.4 .9-1.1 .4-2 .1-2.5-.7-3-1.8-3.5-2.8-6-5.9-14-15.8-2-2.1-2-1.8-2-1.4-2.5-1.1-2-.6-2.5-.3-3 .3-2.5 .7-2.5 1.3-2.5 1.9-2.8 3.1-3.3 4.5-3.7 5.5-6.1 10-2.6 3.5-1.5 1.4-1.5 .7-1.5 .1-1.5-.7-2-1.8-3-3.8-8-11.6-5.2-8.3-11.6-20.5-19.4-36M566.3 475.2l-5.3 10.8-5 10.8-15.2 33.9-4.2 10-2.1 5.5-1.9 5.5-8.2 27.5-1.8 5.5-1.6 4-2.7 5.5-2.8 4.5-1.2 1.5-1.3 1.3-1 .7-1.5 .6-2 .1-2-.6-2.5-1.5-3.3-2.6-3.1-3-3.1-3.2-13.9-15.8-2-2-1.6-1.3-2-1.3-2.5-1.2-2.5-.8-2.5-.3-3.5 .2-3 .8-3 1.5-2.5 1.9-2.9 3-3.4 4.5-3.7 5.5-5.5 8.8-2 2.7-1.5 1.5-1.5 .8-1.5 .1-1.5-.7-1-.8-1.5-1.5-3-4-6.5-9.4-5-8-11.5-20.5-20.7-38.5M563.9 475.2l-5.1 10.5-5 11-14.9 33-4.2 10-2.2 5.8-2 5.7-8 27-1.8 5.5-1.6 4-2.2 4.5-2.5 4-1.3 1.5-1.1 1-1 .7-1 .4-1 .1-1-.1-2-.6-2-1.3-2.8-2.2-5.4-5.5-13.8-15.5-2-2-1.8-1.5-2.7-1.8-2.5-1.1-2.5-.7-3-.4-3.5 .2-3 .7-3 1.3-3 2-3 2.8-2.8 3.5-3.9 5.5-5.8 8.8-2 2.6-1.5 1.3-1.5 .6-1 0-1.5-.6-1-.7-1.5-1.6-3-3.8-5.2-7.6-4.7-7.5-11.5-20.5-22.4-41.5M561.5 475.4l-5 10.3-5 11-14.4 32-4.4 10.5-4 11-8.1 27-1.7 5-1.6 4-2.2 4.5-2.1 3.1-1 1.1-1 .8-1 .6-1 .2-1.5 0-2-.7-2-1.3-2.5-2.1-4.5-4.6-12.6-14.1-2.4-2.5-2-1.6-2.5-1.7-3-1.4-3-.9-3-.4-3.5 .1-3.5 .7-3.5 1.3-3 1.8-3 2.6-2.6 3-3.5 4.5-6.4 9.2-2 2.3-1.5 1.1-1 .4-1.5-.1-1.5-.7-1-.8-1.5-1.5-3-3.9-4.1-6-4.3-7-11.1-19.8-23.5-43.7M559 475.7l-9.8 21-14 31-4.4 10.5-2.3 6-1.9 5.5-7.6 25.4-1.5 4.6-1.6 4-1.9 3.9-2 3-1.8 1.6-1.7 .7-1.5-.1-1.5-.4-2-1.2-2-1.6-4.5-4.5-12.1-13.4-2.4-2.3-2-1.7-2.5-1.6-3-1.4-3-1-3.5-.5-4 0-3.5 .6-3.5 1.3-3 1.6-3 2.2-3 3-3.1 3.8-5.9 7.8-2.5 2.8-1.5 1.1-1.5 .4-1.5-.2-1.5-.8-2-1.8-3-3.7-3.5-5.2-4-6.5-10.5-18.9-25.1-46.5M556.9 475.2l-9.6 20.5-13.9 31-4.3 10-4.2 11.5-7.4 24.4-1.5 4.4-1.5 3.9-1.5 3.1-1.5 2.3-1.5 1.6-1 .6-1 .3-1.5 .1-1.5-.5-1.5-.8-2-1.5-4.5-4.4-11-11.9-2.3-2.1-2.2-1.8-3-1.9-3-1.3-3-1-3.5-.5-4-.1-3.5 .5-3.5 1-3.4 1.6-3.1 2-3.4 3-2.7 3-5.9 7.2-1.5 1.6-1.5 1.3-1.5 .9-1.5 .2-1.5-.3-1.5-.9-2.5-2.5-2.5-3.2-3-4.5-3.5-5.8-9.7-17.5-26.4-49M554.5 475.3l-9.3 19.9-13.4 30-4.3 10-4.3 11.5-7.1 23-2.8 7.5-1.3 2.8-1.5 2.3-1.5 1.4-1 .6-1 .3-1 0-1.5-.4-1.5-.7-2-1.5-4-3.7-10.2-10.6-2.3-2.1-2.5-1.9-3-1.7-3-1.3-3.5-1.1-3.5-.5-3.5-.1-3.5 .4-3.5 .9-3.5 1.4-3.5 2-3.3 2.5-3 3-6.2 6.7-2.5 2.1-1.5 .7-1.5 .3-1.5-.4-1.5-.8-2-1.8-2.5-3-3-4.4-3.5-5.9-8.9-16-27.7-51.5M552 475.7l-8.8 19-13.3 29.5-4 9.5-4.2 11-6.7 21-2.6 7-1.4 2.9-1.5 2.2-1.5 1.4-1 .5-1 .2-1 0-1.5-.3-1.5-.7-2-1.4-3.5-3.1-9-9-2.7-2.2-2.8-1.9-3-1.6-3.5-1.4-3-.8-3.5-.5-3.5 0-3.5 .3-3.5 .8-3 1.1-3.5 1.7-3.5 2.4-3 2.5-6.5 6.2-2.5 1.8-1.5 .6-1.5 .1-1.5-.3-1.5-.8-2-1.7-2.5-3-3-4.4-3.5-5.9-7.9-14.2-28.8-53.5M549.9 475.2l-8.6 18.5-13 29-3.9 9-4.2 11-6.2 18.7-2.5 6.6-1.6 3.2-1.9 2.4-1.5 1.1-1 .3-1 .2-1-.1-1.5-.4-1.5-.8-1.5-1-3-2.5-8-7.3-2.5-2-3-1.9-3-1.5-3.5-1.4-3-.8-3.5-.5-4-.1-4 .4-4 1-3.5 1.3-3 1.5-2.6 1.6-2.9 2.2-6.5 5.3-1.5 1-1.5 .7-1.5 .3-1.5-.1-1.5-.5-1.5-.9-2-1.9-2.5-3.1-3-4.6-3.2-5.4-6.9-12.5-29.6-55M547.5 475.4l-8 17.3-16.3 36.5-4.2 10.5-6 17.5-2.5 6.3-1.5 2.8-1.9 2.4-1.6 1.1-1 .4-1 .1-1 0-1.5-.4-2.5-1.2-2.5-1.8-8.1-6.7-2.9-2-3-1.7-3-1.3-3-1-3-.8-3.5-.5-4-.1-3.5 .4-4 .8-3.5 1.1-2.5 1.1-3 1.6-3 1.9-6.5 4.6-1.5 .8-1.5 .6-2 .3-1.5-.2-1.5-.5-1.5-1-2-1.8-2.5-3.1-2.5-3.8-3.5-5.9-6.5-11.8-30.2-56.2M545.3 475.2l-7.5 16-15.8 35.5-3.9 9.5-6.1 16.9-2.3 5.6-1.7 3-1 1.4-1 1-1 .7-1 .5-2 .3-2-.3-2.5-1.1-2.5-1.5-7.6-5.5-2.9-1.7-3-1.5-3-1.2-3-.9-3-.7-3-.3-3.5-.1-3.5 .2-3.5 .6-3.5 1-2.5 .9-3 1.4-3 1.6-6.5 3.9-2 .9-1.5 .5-2 .2-1.5-.1-1.5-.6-1.9-1.1-2.1-2-2.5-3.1-2.5-3.8-3-5-37-68.6M542.7 475.7l-6.9 15-15 33.5-3.8 9-6 15.9-2 4.7-2 3.5-2 2.2-2 1.3-1 .2-1.5 .2-2-.4-2.5-1-9.5-5.7-5.5-2.6-3-1.1-3-.8-3-.6-3-.3-3.5 0-3 .2-3.5 .6-3 .7-3 1-3 1.3-9.5 4.7-3 .9-2 .2-1.5-.2-2-.7-1.5-1-2-1.8-2.4-2.9-2.4-3.5-2.7-4.5-6-10.9-31-57.6M540.5 475.4l-6.5 14.1-14.2 31.7-4 9.5-5.8 14.6-2 4.4-2 3.4-2 2.2-2 1.2-1 .3-1.5 .2-2-.2-2.5-.9-10-5-5-2.1-5.5-1.5-5.5-.7-3.5 0-3 .2-3 .4-3 .7-5.5 1.8-9.5 4.1-3 .9-2 .1-2-.2-2-.8-1.5-.9-2-1.8-2.4-2.9-2.4-3.5-2.7-4.5-35-64.8M538.3 475.2l-6.3 13.5-13.4 30-3.9 9-5.2 12.8-2.4 5.2-2.1 3.5-2 2.2-1.2 .8-1.3 .6-1 .2-1.5 .2-2-.3-2.5-.7-9.5-4.1-5-1.8-5-1.2-5-.6-3 0-3 .1-3 .4-3 .6-5.5 1.6-9 3.4-3.5 .9-2 0-2-.3-1.5-.5-1.7-1-2.3-2-2-2.4-2.5-3.6-2.5-4.1-5.5-10-28-52M536 475.2l-18.4 40.5-9.1 21.4-2.2 4.6-2.3 3.8-2 2.2-1 .7-1.5 .7-1 .3-1.5 .2-2-.2-2.5-.6-9.5-3.5-5-1.5-5-1-4.5-.4-5.5 .1-5.5 .8-5 1.3-9 3-3.5 .8-2 .1-2-.3-2-.7-1.5-.9-2-1.7-2-2.3-2.4-3.4-2.6-4.2-5.5-10-26.8-49.8M533.5 475.5l-17.7 39.2-8.3 19.1-2.1 4.4-2.4 3.8-2.1 2.2-1.4 1-1 .4-1.5 .5-1.5 .1-2-.1-2.5-.6-9.5-3-4.5-1.2-4.5-.7-4-.4-5 .1-5.5 .7-5 1.2-8.5 2.5-3.5 .7-2 .1-2-.3-2-.7-1.5-.8-2-1.6-2.2-2.4-2.3-3.2-2.5-4.1-5.5-9.9-25.2-46.8M531.1 475.7l-16.5 36.5-7.6 17.2-2.8 5.8-2.2 3.3-1 1.2-1.5 1.4-1.5 .9-1.5 .6-1.5 .3-1.5 .1-2-.2-2-.4-9-2.4-4-.9-4-.7-4-.3-5 .1-5 .6-4.5 .9-9 2.3-3.5 .5-2 0-2-.4-2-.7-1.5-.9-2-1.7-2-2.2-2.4-3.4-2.4-4-5.3-9.5-23.9-44.4M528.8 475.7l-22.3 49.5-3.5 7-2.5 3.6-1.3 1.4-1.2 .9-1.5 .9-1.5 .5-1.5 .3-1.5 .1-4-.5-8.5-1.9-4-.8-3.5-.5-3.5-.2-4.5 0-5 .5-4.5 .8-8 1.9-4 .5-2-.1-2-.3-2-.8-1.5-.9-2-1.6-2-2.2-2.3-3.1-2.5-4-5.7-10.3-22-40.9M526.5 475.7l-22.5 49.5-1.9 3.5-1.6 2.6-1.6 1.9-1.9 1.7-1.5 .9-2 .7-2 .4-2 0-3.5-.4-8-1.6-4.5-.6-4.5-.4-4.5 0-6 .5-11.5 2.2-4 .3-2-.2-1.5-.3-1.9-.7-1.6-.9-1.5-1.1-1.5-1.5-3-3.7-2.7-4.3-3.7-6.5-22.9-42.5M524.4 475.2l-17.4 38.4-4 8.5-2 3.6-1.5 2.4-1.7 2.1-1.8 1.5-1.5 1-1.5 .6-1.5 .5-2 .2-2 0-2.5-.2-12-1.8-6.5-.3-6.5 .4-11.5 1.8-4 .3-2-.2-2-.4-2-.8-1.5-.8-1.5-1.1-1.5-1.4-3-3.7-2.9-4.6-3.6-6.4-21.4-39.6M522 475.3l-14.5 32.1-5.3 11.3-1.9 3.5-1.8 2.8-1.9 2.2-1.6 1.5-1.6 1-1.9 .8-2 .6-2 .2-4-.2-11-1.3-6-.2-6 .3-10.5 1.3-4 .3-2-.1-2-.4-2-.7-1.5-.8-1.5-1-1.5-1.3-1.5-1.6-1.9-2.4-2.9-4.5-3.7-6.5-20-37M519.8 475.2l-13.3 29.2-5.5 11.6-2 3.6-1.7 2.6-1.8 2.1-2 1.7-1.5 .9-2 .9-2 .5-2 .3-3.5 0-10-.9-6-.2-5.5 .2-9.5 1-3.5 .2-2.5-.2-2-.3-2-.7-1.5-.7-2-1.3-1.5-1.2-3-3.5-2.9-4.3-3.6-6.2-18.9-34.8M517.4 475.2l-12 26.5-5.4 11.2-2 3.6-1.8 2.7-1.7 2.1-2 1.7-1.5 1-2 1-2 .6-2.5 .3-3.5 .1-9.5-.6-5.5-.1-4.5 .2-11.5 .8-2.5-.1-2-.3-2-.5-2-.8-2-1.2-1.5-1.2-1.5-1.5-1.5-1.7-3-4.3-3.8-6.5-17.7-32.6M515 475.5l-11 24.2-5 10.2-2 3.6-2 3-1.9 2.2-1.7 1.5-1.9 1.2-2 1-2.5 .7-2.5 .3-3.5 .1-13-.3-14.5 .6-2.5-.1-2-.3-2-.5-2-.8-2-1.1-1.5-1.1-1.8-1.7-1.7-2-3-4.2-3.8-6.3-16.6-30.5M512.8 475.2l-9.8 21.6-5 10.2-2 3.5-1.8 2.7-1.7 2.1-2 1.9-2 1.4-2 1-2.5 .8-2.5 .5-3.5 .2-12-.1-12 .4-2.5-.1-2.5-.3-2-.5-2.3-.8-2-1-1.7-1.2-2-1.7-1.5-1.7-3-4-4-6.6-15.5-28.3M510.5 475.2l-8.9 19.5-4.6 9.3-2 3.5-1.8 2.7-1.7 2.2-2 1.9-2 1.5-2.5 1.3-2.5 .8-2.5 .5-4.5 .3-18.5 .3-3.5-.1-2.5-.3-2.5-.5-2-.7-2-.9-2-1.3-1.8-1.5-1.7-1.7-3-3.9-4-6.4-5.4-9.5-8.9-16.5M508 475.6l-8 17.4-4.5 9-1.9 3.2-1.7 2.5-1.9 2.3-1.8 1.7-2 1.5-2.2 1.2-2.5 .9-2.5 .6-5.5 .5-14 .2-3.5-.1-3-.2-2.5-.5-2-.6-2.5-1.1-2-1.2-2-1.6-1.5-1.5-3.3-4.1-3.7-5.8-5-8.7-8.5-15.6M505.9 475.2l-7.2 15.5-4.2 8.3-1.9 3.2-1.6 2.5-1.6 2-1.9 1.9-2 1.6-2 1.2-2.5 1.1-2.5 .8-2.5 .4-3.5 .3-10 .3-6.5-.3-2.5-.3-2.5-.6-2.4-.9-2.1-1.1-2-1.3-2-1.7-1.8-1.9-1.6-2-3.7-5.5-5-8.5-8.2-15M503.5 475.4l-6.2 13.3-4.1 8-1.8 3-1.7 2.5-1.6 2-1.6 1.6-2 1.6-2 1.3-2.5 1.2-2.5 .8-2.5 .6-3 .3-8 .3-6.5-.3-2.5-.3-2.5-.6-2.5-.9-2-1-2-1.3-2.2-1.8-3.3-3.6-4-5.8-4.8-8.1-7.1-13M501.2 475.2l-5.4 11.5-3.8 7.3-3.3 5.2-1.5 2-1.7 1.8-2 1.7-2 1.3-2.3 1.2-2.2 .8-2.5 .7-2.5 .4-3.5 .3-3.5 .1-6.5-.3-2.5-.4-2.5-.7-2.4-.9-2.1-1.1-2-1.3-2-1.6-1.5-1.5-2-2.3-3.5-5-4.5-7.5-6.2-11.2M498.7 475.7l-4.7 9.7-3.6 6.8-3.3 5-3.1 3.4-2 1.7-2 1.3-2.2 1.1-2.3 .9-2.5 .6-2.5 .5-6 .3-5.5-.4-2.5-.5-2-.5-2.2-.9-2.3-1.2-2-1.3-2-1.7-3.1-3.3-3.6-5-4.3-7-5.5-9.8M496.3 475.7l-4.3 8.7-3.5 6.3-3 4.3-3 3.2-2 1.6-2 1.3-2 1-2 .8-2 .6-2.5 .5-5 .4-5-.4-2.5-.5-2-.6-4-1.8-2-1.3-2-1.5-3-3.1-3.5-4.6-4-6.4-5-8.7M493.9 475.7l-3.9 7.7-3 5.1-2.6 3.7-2.9 3.2-1.6 1.3-1.9 1.3-2 1.2-2 .8-2 .7-2.5 .6-4.5 .4-4.5-.4-4-1.1-4-1.8-2-1.3-1.8-1.4-3.2-3.2-3-3.9-3.5-5.4-4.5-7.7M491.5 475.6l-3.2 6.1-2.8 4.6-2.9 3.9-2.6 2.7-3.5 2.6-3.5 1.7-2 .7-2 .5-4 .4-4-.4-4-1.1-3.5-1.7-3.5-2.4-3-2.9-3-3.8-3.3-4.8-3.7-6.2M489 475.5l-3 5.4-2.5 3.9-2.5 3.1-2.5 2.5-3 2.1-3.5 1.8-3.5 1-3.5 .4-3.5-.4-3.5-.9-3.5-1.7-3-2-2.8-2.5-2.7-3.1-3-4.2-3.5-5.6M486.5 475.2l-2.5 4.2-2.5 3.6-2.3 2.7-2.2 2-3 2.1-3 1.4-3 .8-3 .3-3-.2-3-.8-3-1.3-3-1.8-2.5-2.1-2.7-2.9-2.8-3.7-2.9-4.3M483.5 475.5l-2 3-2.1 2.7-2.4 2.5-2 1.6-2.5 1.5-2.5 1.1-3 .7-2.5 .2-2.5-.3-3-.8-2.5-1.1-2.5-1.5-2.3-1.9-2.2-2.2-2-2.4-2.5-3.4M480.5 475.2l-1.9 2.5-1.6 1.7-1.5 1.4-2 1.5-2 1.1-2 .8-2 .5-2.5 .3-2-.1-2.5-.4-2-.7-2-1-2-1.3-2-1.6-2-2-1.9-2.2M476.5 475.5l-2.5 2.2-3 1.9-3 1.1-1.5 .3-2 .1-2-.1-1.5-.3-3-1.1-3-1.8-3-2.6M470.5 475.6l-3 1.1-3 .4-2-.1-1.5-.3-3-1.2" fill="none" stroke="#1a1a1a" stroke-opacity="0.85" stroke-width="0.68" stroke-linejoin="round"/>
<path d="M466.7,585.7L464.7,583.8" stroke="#111" stroke-opacity="0.80" stroke-width="1.60" fill="none"/>
<path d="M464.7,583.8L462.7,581.8" stroke="#111" stroke-opacity="0.71" stroke-width="1.53" fill="none"/>
<path d="M462.7,581.8L460.7,579.6" stroke="#111" stroke-opacity="0.63" stroke-width="1.46" fill="none"/>
<path d="M460.7,579.6L458.7,577.5" stroke="#111" stroke-opacity="0.55" stroke-width="1.39" fill="none"/>
<path d="M458.7,577.5L456.7,575.2" stroke="#111" stroke-opacity="0.47" stroke-width="1.32" fill="none"/>
<path d="M456.7,575.2L454.7,572.9" stroke="#111" stroke-opacity="0.40" stroke-width="1.25" fill="none"/>
<path d="M454.7,572.9L452.7,570.5" stroke="#111" stroke-opacity="0.32" stroke-width="1.18" fill="none"/>
<path d="M452.7,570.5L450.7,568" stroke="#111" stroke-opacity="0.26" stroke-width="1.11" fill="none"/>
<path d="M450.7,568L448.7,565.3" stroke="#111" stroke-opacity="0.19" stroke-width="1.04" fill="none"/>
<path d="M448.7,565.3L446.7,562.6" stroke="#111" stroke-opacity="0.13" stroke-width="0.97" fill="none"/>
<path d="M446.7,562.6L444.7,559.8" stroke="#111" stroke-opacity="0.08" stroke-width="0.90" fill="none"/>
<path d="M444.7,559.8L442.7,557" stroke="#111" stroke-opacity="0.03" stroke-width="0.83" fill="none"/>
<path d="M466.7,585.7L468.7,583.9" stroke="#111" stroke-opacity="0.80" stroke-width="1.60" fill="none"/>
<path d="M468.7,583.9L470.7,582" stroke="#111" stroke-opacity="0.71" stroke-width="1.53" fill="none"/>
<path d="M470.7,582L472.7,579.9" stroke="#111" stroke-opacity="0.63" stroke-width="1.46" fill="none"/>
<path d="M472.7,579.9L474.7,577.7" stroke="#111" stroke-opacity="0.55" stroke-width="1.39" fill="none"/>
<path d="M474.7,577.7L476.7,575.4" stroke="#111" stroke-opacity="0.47" stroke-width="1.32" fill="none"/>
<path d="M476.7,575.4L478.7,573" stroke="#111" stroke-opacity="0.40" stroke-width="1.25" fill="none"/>
<path d="M478.7,573L480.7,570.4" stroke="#111" stroke-opacity="0.32" stroke-width="1.18" fill="none"/>
<path d="M480.7,570.4L482.7,567.7" stroke="#111" stroke-opacity="0.26" stroke-width="1.11" fill="none"/>
<path d="M482.7,567.7L484.7,564.8" stroke="#111" stroke-opacity="0.19" stroke-width="1.04" fill="none"/>
<path d="M484.7,564.8L486.7,561.8" stroke="#111" stroke-opacity="0.13" stroke-width="0.97" fill="none"/>
<path d="M486.7,561.8L488.7,558.5" stroke="#111" stroke-opacity="0.08" stroke-width="0.90" fill="none"/>
<path d="M488.7,558.5L490.7,555.2" stroke="#111" stroke-opacity="0.03" stroke-width="0.83" fill="none"/>
<path d="M466.7,585.7L457.7,576.3 461.7,575.8 465.7,579.2 470.7,578.2 475.7,576.6Z" fill="#000" fill-opacity="0.5"/>
<path d="M385.8 558.3V477.7M387.8 562V477.7M389.8 565.6V477.7M391.8 569.3V477.7M393.8 572.9V477.7M395.8 576.5V477.7M397.8 580V477.7M399.8 583.5V477.7M401.8 586.9V477.7M403.8 590.1V477.7M405.8 593.2V477.7M407.8 596.2V477.7M409.8 599.1V477.7M411.8 602V477.7M413.8 604.9V477.7M415.8 607.9V477.7M417.8 610.8V477.7M419.8 613.6V477.7M421.8 616.1V477.7M423.8 618.3V477.7M425.8 620.5V477.7M427.8 622.2V477.7M429.8 623.2V477.7M431.8 624V477.7M433.8 624.6V477.7M435.8 624.7V477.7M437.8 624.2V477.7M439.8 623.2V477.7M441.8 622.1V477.7M443.8 620.3V477.7M445.8 617.8V477.7M447.8 614.8V477.7M449.8 611.8V477.7M451.8 608.8V477.7M453.8 605.5V477.7M455.8 602.1V477.7M457.8 598.7V477.7M459.8 595.4V477.7M461.8 592.4V477.7M463.8 589.6V477.7M465.8 586.9V477.7M467.8 587V477.7M469.8 589.3V477.7M471.8 591.6V477.7M473.8 593.9V477.7M475.8 596.1V477.7M477.8 598.4V477.7M479.8 600.8V477.7M481.8 603.1V477.7M483.8 605.3V477.7M485.8 607.3V477.7M487.8 609.3V477.7M489.8 611.2V477.7M491.8 613V477.7M493.8 614.6V477.7M495.8 616V477.7M497.8 617.4V477.7M499.8 618.6V477.7M501.8 619.8V477.7M503.8 620.7V477.7M505.8 621.4V477.7M507.8 622V477.7M509.8 622.5V477.7M511.8 622.7V477.7M513.8 622.5V477.7M515.8 621.9V477.7M517.8 621.1V477.7M519.8 619.9V477.7M521.8 618.1V477.7M523.8 615.8V477.7M525.8 613.4V477.7M527.8 610.8V477.7M529.8 607.9V477.7M531.8 604.6V477.7M533.8 601V477.7M535.8 597V477.7M537.8 592.2V477.7M539.8 586.3V477.7M541.8 579.8V477.7M543.8 572.9V477.7M545.8 565.9V477.7M547.8 559.2V477.7M549.8 553.1V477.7M551.8 547.8V477.7M553.8 542.9V477.7M555.8 538.2V477.7M557.8 533.8V477.7M559.8 529.4V477.7M561.8 525V477.7M563.8 520.6V477.7M565.8 516.1V477.7M567.8 511.6V477.7M569.8 507.1V477.7M571.8 502.7V477.7M573.8 498.3V477.7M575.8 494V477.7M577.8 489.8V477.7M579.8 485.7V477.7" fill="none" stroke="#222" stroke-opacity="0.8" stroke-width="0.36" stroke-linejoin="round"/>
<g clip-path="url(#bp_d_up)"><path d="M385 556.8l14 25.3 3 5.1 4 6.3 11 16.1 3 4.2 2 2.5 3 3.3 2 2 1 .7" fill="none" stroke="#111" stroke-opacity="0.25" stroke-width="5.0" stroke-linejoin="round"/><path d="M385 556.8l14 25.3 3 5.1 4 6.3 11 16.1 3 4.2 2 2.5 3 3.3 2 2 1 .7" fill="none" stroke="#111" stroke-opacity="0.35" stroke-width="2.5" stroke-linejoin="round"/><path d="M520 619.8l2-1.9 2-2.3 3-3.7 2-2.8 2-3.1 2-3.5 3-5.9 2-5 2-5.9 8-27.2 2-6 2-5.2 4-9.5 15-33.4 5-10.8 4.3-8.9" fill="none" stroke="#111" stroke-opacity="0.30" stroke-width="6.0" stroke-linejoin="round"/><path d="M520 619.8l2-1.9 2-2.3 3-3.7 2-2.8 2-3.1 2-3.5 3-5.9 2-5 2-5.9 8-27.2 2-6 2-5.2 4-9.5 15-33.4 5-10.8 4.3-8.9" fill="none" stroke="#111" stroke-opacity="0.42" stroke-width="3.0" stroke-linejoin="round"/><path d="M443 621.1l1-1 2-2.6 5-7.5 2-3.1 6-10.2 5-7.4" fill="none" stroke="#111" stroke-opacity="0.20" stroke-width="2.5" stroke-linejoin="round"/><path d="M443 621.1l1-1 2-2.6 5-7.5 2-3.1 6-10.2 5-7.4" fill="none" stroke="#111" stroke-opacity="0.28" stroke-width="1.2" stroke-linejoin="round"/><path d="M470 589.5l13 14.9 3 3.1 5 4.7 4 3.3 4 2.6 3 1.8 3 1.3" fill="none" stroke="#111" stroke-opacity="0.20" stroke-width="2.5" stroke-linejoin="round"/><path d="M470 589.5l13 14.9 3 3.1 5 4.7 4 3.3 4 2.6 3 1.8 3 1.3" fill="none" stroke="#111" stroke-opacity="0.28" stroke-width="1.2" stroke-linejoin="round"/></g>
<path d="M385 556.8l14 25.3 3.6 6.1 4.4 6.8 11 16.1 3 4 5 5.6 2 1.6 1 .6 2 .8 2 .7 2 .3 1 0 1-.3 2-.7 2.6-1.5 1.4-1.1 2-2.3 2-2.8 5-7.5 8-13.4 3-4.4 3.7-5 17.3 19.8 6 5.8 3 2.7 2 1.5 6 3.8 2 1.1 2.7 1 3.3 .9 2.9 .4 2.1-.3 2-.6 2.2-.9 1.8-1.1 2-1.9 4-4.7 3-4.1 2-3.1 2-3.5 2.8-5.5 2.2-5.4 2-5.9 8-27.2 2-6 2-5.2 4-9.5 15-33.4 5-10.8 4.3-8.9" fill="none" stroke="#1c1c1c" stroke-opacity="1" stroke-width="0.9" stroke-linejoin="round"/>
</g>
<g clip-path="url(#cpc)">
<g clip-path="url(#c_lo_A)"><path d="M67.3 761.2l54.6-99.2 2-3.4 .9-.9 .6-.4 1 0 1 .6 1.5 1.2 2.5 2.5 4.5 4.9 9.2 11.2 3.8 4 4.3 4 4.2 3.6 5.4 3.9 3.6 2.3 3.5 1.7 11 3.5 10.5 4.9 8 3.1 6 1.8 8 1.8 4 .6 5 .5 12.5 1 18 .5 16 .2M67.3 765.7l53.6-97.5 3.2-5.5 .8-1 1-.7 1 0 1 .5 3 2.7 3.5 3.8 9.2 11.2 4.3 4.4 4.5 4.2 4.5 3.7 5.1 3.7 3.9 2.4 3.5 1.7 10.5 3.3 11 5.1 8 3 6.5 1.9 8 1.8 9 1.1 12.5 1 17.5 .5 16.5 .2M67.2 770.2l53.7-97.7 3.5-5.7 1-1.2 1-.7 .5-.1 1 .3 1 .6 1.5 1.2 3 3.2 7.9 9.6 4.6 4.9 3.8 3.6 3.5 3 3.2 2.6 4 2.8 4 2.6 3.5 1.7 3 1.1 8.5 2.7 9.5 4.4 5 2 6.5 2.3 6 1.6 7 1.5 6.5 .9 9 .8 9 .5 16.5 .5 14.5 .1M67.4 774.2l53.5-97.3 3.5-5.6 1.5-1.7 1-.6 .5-.1 1 .2 1 .5 1 .8 2.5 2.6 7.8 9.2 5.2 5.3 3.5 3.2 3.5 3 4 3 3.5 2.4 3.5 2.2 3.5 1.6 3 1.1 8.3 2.7 10.2 4.6 5.9 2.4 6.6 2.2 6.5 1.6 6.5 1.3 6.5 .8 9 .8 9 .5 16 .4 14 .1M67.3 778.7l53.6-97.4 2.5-4.2 1.5-2.1 1.5-1.4 1-.4 1.5 .1 1 .5 1 .7 2.5 2.5 6.7 7.7 5.8 5.7 6.8 5.8 3.7 2.7 3.5 2.4 3.2 1.9 3.3 1.6 3 1.1 8.5 2.8 10.5 4.7 7 2.7 6 2 7 1.7 6 1.1 7 .9 9 .7 8.5 .5 16 .4 14 .1M67.2 783.2l54.2-98.5 2-3.3 1.5-2.1 1.5-1.4 1-.6 1-.1 1 .1 1 .5 1 .7 2 1.9 7.2 7.8 5.8 5.5 6.8 5.5 6.7 4.6 3 1.6 3 1.4 11.4 3.9 11.1 5 7.5 2.8 6 1.9 7 1.6 6 1.1 7 .8 9 .8 8.5 .4 15.5 .4 14 .1M67.2 787.7l54.2-98.6 2-3.4 1.5-2.2 1.5-1.6 1.5-.8 1-.1 1 .2 2 1.2 2 1.9 7.3 7.4 5.5 5 6.3 5 6.4 4.2 3 1.6 3 1.4 11 3.7 11.5 5.1 8.5 3.2 6 1.8 7 1.6 6 1 7.5 .8 8.5 .7 8.5 .4 15.5 .4 13.5 .1M67.4 791.7l54.5-99.1 2-3.4 1.5-2 1.5-1.5 1.5-.8 1 0 1 .2 2 1.2 2 1.8 7.5 7.2 5.1 4.4 6.4 4.8 6 3.8 2.6 1.4 2.9 1.2 10.5 3.6 12 5.3 9.3 3.4 6.2 1.8 7 1.5 6 1 7 .7 8.5 .7 9 .4 15 .4 13.5 .1M67.3 796.2l54.1-98.3 2.5-4.2 1.5-2.2 1.5-1.6 1.5-.9 1-.2 1 .1 1 .3 1.5 .9 2.5 2.1 7.5 6.8 4.5 3.7 6.5 4.7 5.5 3.3 5.5 2.5 10.5 3.6 13 5.7 9 3.1 6.5 1.8 6.5 1.3 6 .9 7.5 .8 8.5 .7 8.5 .3 14.5 .4 13.5 .1M67.2 800.7l53.7-97.5 2.5-4.3 2-3 2-2.2 1.5-.8 1-.2 1 .1 1 .3 1.5 .8 2.5 1.9 8 6.8 4.5 3.5 6 4.1 5 2.8 5 2.2 10.5 3.7 13 5.6 5 1.8 5 1.6 6.5 1.7 6.5 1.3 6 .9 7.5 .8 8 .5 9 .4 14.5 .4 13 .1M67.4 804.7l53.5-97.1 3-5 2-2.9 2-2.1 1.5-.8 1-.2 1.5 .2 2.5 1.1 2.5 1.8 7.5 6 4.7 3.5 5.3 3.4 4.7 2.6 4.8 2.1 10 3.5 9 3.9 5 2 5.5 2 5 1.5 6.5 1.7 6.5 1.2 6 .9 8 .8 8 .5 9 .4 13.5 .3 13 .1M67.3 809.2l53.1-96.4 3-5 2.5-3.7 2-2.2 1-.7 1-.5 1-.2 1.5 .1 2.5 1 2.5 1.6 8.1 6 4.9 3.4 4.5 2.7 4.5 2.3 4.5 1.9 9 3.2 9.5 4.1 5 2 6 2.1 5.5 1.6 6.5 1.6 6 1.2 6.5 .8 8 .8 8 .5 9 .4 26 .4M67.2 813.7l53.2-96.5 3.5-5.8 2.5-3.5 2-2.1 1-.7 1-.5 1-.2 1.5 0 1.5 .4 1.5 .7 3 1.8 8 5.5 4.5 2.9 4 2.3 4 1.9 4 1.6 9 3.2 9.5 4.1 5.5 2.2 6.5 2.3 6 1.7 6 1.4 6 1 6.5 .9 8 .7 8 .5 9.5 .4 25 .4M67.4 817.7l53.2-96.5 3.3-5.4 2.5-3.5 2.5-2.6 2-1.2 1.5-.3 1.5 0 1.5 .4 1.5 .6 3.5 2 11.5 7.2 4.3 2.3 4.2 1.9 11 4 10 4.3 6 2.3 7 2.4 6.5 1.8 6 1.3 6 1 6.5 .8 8 .7 8 .5 9.5 .3 24 .4M69.9 817.6l51-92.6 3.5-5.6 2.5-3.5 2.5-2.5 2-1.1 1.5-.4 1.5 0 1.5 .2 1.5 .5 3.5 1.7 11.5 6.8 6.5 3.1 11.5 4.3 11 4.7 6 2.3 7 2.3 7.3 1.9 5.7 1.2 6 1 7 .8 7.5 .6 17.5 .8 23.5 .4M72.4 817.4l43-78.2 6.5-11.5 3-4.8 2.8-3.7 2.2-2.1 1-.6 1.5-.7 1.5-.3 1.5-.1 1.5 .3 2 .6 3.5 1.6 10.5 5.8 6.5 3 10.5 3.9 10.5 4.4 6.5 2.5 7.5 2.4 8 2.1 5.5 1.1 6 .9 7 .9 7.5 .6 17.5 .8 23 .3M74.6 817.7l41.3-75.1 6.5-11.5 3-4.7 2.5-3.3 2.5-2.4 1-.6 1.5-.7 1.5-.4 2-.1 1.5 .2 2 .6 3.5 1.5 8 4.1 5 2.4 13.5 5.2 12 4.9 5.5 2.1 5 1.6 5 1.4 5.5 1.3 5.5 1.1 6 .9 7 .8 7.5 .6 17.5 .8 22.5 .3M77 817.7l39.4-71.6 6.5-11.5 3.1-4.9 2.9-3.7 2.5-2.1 2.5-1.3 1.5-.3 2-.1 2 .3 2 .6 3 1.2 8 3.9 4.5 2 12 4.6 14 5.7 10 3.3 5 1.4 5.5 1.3 5.5 1 6 .9 7 .7 7.5 .6 17.5 .8 22 .3M79.4 817.7l38-69.1 6.2-10.9 3.2-5 2.6-3.2 2.5-2.2 2.5-1.3 1.5-.4 2-.2 2 .2 2.5 .6 3.5 1.4 11 4.8 27 10.7 10 3.2 5 1.3 5.5 1.2 5.5 1 6 .8 14 1.3 17 .7 22 .3M81.9 817.6l36.5-66.4 6-10.6 3-4.7 2.6-3.2 1.4-1.4 1.5-1.1 2.5-1.2 2-.5 2 0 2 .3 2.5 .7 34.5 13.7 6 2.3 10 3.1 10 2.4 5.5 .9 6 .8 14 1.3 17 .7 22 .3M84.2 817.7l35.2-64 6-10.5 3-4.6 2.5-3.1 2.5-2.1 1.5-.9 1.5-.6 2-.4 2 0 2 .2 2.5 .7 4 1.4 29.5 11.7 6 2.2 10 3.1 10 2.3 5.5 .9 6 .8 14 1.3 17 .7 22 .3M86.6 817.7l33.5-61 6-10.5 3.3-5 2.5-2.9 2.5-2.1 2.5-1.3 2-.4 2-.1 2.5 .3 2.5 .6 4 1.3 11.5 4.4 16.5 6.5 7 2.6 10 3 5 1.2 5.5 1.1 5.5 .9 6 .8 14 1.1 17 .7 21 .3M89 817.7l31.9-58 6-10.5 3-4.6 2.5-3.1 2.5-2.2 1.5-.9 1.5-.6 2-.4 2-.1 2.5 .2 3 .8 4.5 1.4 8 3 17.8 7 7.2 2.6 10 3 10.5 2.2 11.5 1.7 14 1.1 17 .7 21 .3M91.4 817.7l30-54.5 6.5-11.4 3-4.5 2.5-3 2.5-2.1 1.5-.9 1.5-.6 2-.4 2.5-.1 2.5 .3 3 .7 10.5 3.6 18 7 8 2.9 10 2.9 10.5 2.2 11.5 1.6 14 1.1 17 .6 20.5 .3M93.9 817.5l28.5-51.8 6.5-11.3 3-4.4 2.5-2.9 2.5-2.1 1.5-.8 1.5-.6 2-.5 2.5-.1 2.5 .3 3.5 .8 9.5 3.1 17 6.7 8.5 3 10 2.8 10.5 2.2 11.5 1.6 14 1.1 17 .6 20.5 .3M96.2 817.7l26.7-48.5 7-12.2 3-4.3 2.7-3 1.3-1.1 1.5-1 1.5-.8 1.5-.5 2-.4 2.5 0 2.5 .3 3.5 .8 8 2.5 17 6.6 8.5 3 10.5 2.9 10.5 2.1 11.5 1.5 14 1.1 16.5 .6 20.5 .3M98.6 817.7l25.3-46 7-12 3-4.3 2.5-2.8 1.5-1.2 1.5-1 1.5-.7 1.5-.5 2.5-.5 2.5 0 3 .4 3 .7 7 2.2 16.5 6.4 8.5 2.9 10.5 2.8 10.5 2.1 11.5 1.5 14 1.1 16.5 .6 20.5 .3M101 817.7l23.4-42.5 4.5-7.9 3-4.9 3-4.3 2.5-2.7 1.5-1.2 1.5-1 3-1.2 2.5-.5 2.5 0 3 .4 3 .6 6.5 2.1 16 6 9 3 10.5 2.8 10.5 2 11.5 1.5 13.5 1 16.5 .6 20.5 .3M103.4 817.7l22-39.9 4.5-7.9 3-4.9 3-4.1 1.5-1.7 1.5-1.4 1.5-1.1 1.5-.9 3-1.1 2-.4 2.5 0 3 .3 3 .6 6 1.9 15.5 5.8 9 2.9 10.5 2.7 11 2.1 11.5 1.4 13.5 1 16.5 .6 20 .3M105.9 817.5l20.5-37.1 4.5-7.9 3-4.8 3-4 2.9-3 1.6-1.2 1.4-.8 3.1-1.2 2.5-.4 2.5 0 2.5 .3 3 .6 5.5 1.6 15.3 5.6 9.2 2.9 10.5 2.7 11 2 11.5 1.4 13.5 .9 16.5 .6 19.5 .3M108.2 817.7l19.2-34.8 4.5-7.7 3-4.8 3-4 2.7-2.7 2.9-2 1.9-.8 1.5-.5 2.5-.5 2.5 0 2.5 .2 3 .6 5 1.5 15 5.3 9.5 2.9 10.5 2.6 11 2 11.5 1.3 13.5 1 16 .5 19.5 .3M110.6 817.7l17.8-32.2 4.3-7.3 3.2-5 3-4 3-2.9 3-1.9 1.5-.7 2-.6 2-.3 2.5-.1 2.5 .2 3 .6 5.5 1.6 15.5 5.3 8 2.3 10.5 2.6 11 1.9 11.5 1.3 13 .9 16 .5 19.5 .3M113 817.7l16.4-29.6 4.4-7.4 3.1-4.8 3-3.9 3-2.9 3-1.9 1.5-.6 2-.6 2-.4 2.5-.1 2.5 .2 3 .6 5.5 1.5 15.5 5.1 8 2.3 10.5 2.4 10.5 1.7 11.5 1.3 13 .9 16 .5 19 .3M115.4 817.6l15.5-27.8 4-6.7 3.5-5.2 3-3.6 3-2.7 3-1.7 3.5-1.2 2-.3 2.5 0 2.5 .2 2.5 .4 5.5 1.5 15.5 4.9 8 2.2 10 2.2 10.5 1.7 11.5 1.2 13 .9 16 .5 18.5 .3M117.9 817.5l14-25.1 4.1-6.7 3.4-5 3-3.6 3-2.6 1.5-1 2-.9 3.5-1.1 2-.3 2.5 0 2.5 .3 2.5 .4 5 1.3 15.5 4.7 8 2.1 10 2.1 10 1.6 11.5 1.2 13 .8 15.5 .5 18.5 .3M120.2 817.7l12.9-23 4-6.5 3.3-4.8 3-3.5 3-2.5 1.5-1 2-.9 3.5-1.1 2-.3 2.5-.1 2.5 .2 2.5 .5 5.5 1.3 15.5 4.5 7.5 1.9 10 2 10 1.5 11.5 1.2 12.5 .7 15.5 .5 18 .3M122.6 817.7l7.3-13.2 4.8-8.3 3.7-5.8 3.4-4.7 3.1-3.4 3-2.4 3.5-1.8 3.5-.9 2-.3 2.5 0 5 .6 5.5 1.3 15 4.1 7.5 1.8 10 2 10 1.4 11 1.1 12.5 .7 15 .5 18 .3M125 817.7l6.4-11.5 4.5-7.7 3.7-5.8 3.3-4.4 3-3.2 3-2.3 3.5-1.8 2-.6 2-.5 4-.2 5 .5 5 1.1 14.5 3.8 9 2.1 9.5 1.8 10 1.3 11 1.1 12.5 .7 15 .5 17 .2M127.4 817.7l5.9-10.5 4.2-7 3.6-5.5 3.3-4.2 3-3 3-2.2 3.5-1.6 2-.6 2-.4 4-.2 5 .5 5 1 14.7 3.7 8.8 1.9 9.5 1.7 9.5 1.2 11 1 12 .7 14.5 .5 17 .2M129.9 817.5l5.5-9.6 4-6.5 3.5-5.1 3-3.6 3-2.8 3-2 3.5-1.5 4-1 4-.2 5 .6 5 .9 14.5 3.5 8.5 1.8 9 1.5 9.5 1.2 11 1 12 .6 14.5 .5 16.5 .2M132.4 817.4l4.8-8.2 3.7-6 3.5-4.8 3-3.5 3-2.6 3-1.9 3.5-1.4 4-.9 4-.1 5 .5 5 .9 14.5 3.3 8 1.6 9 1.5 9.5 1.1 10.5 .9 12 .6 14 .5 16.5 .2M134.7 817.7l4.2-7.1 3.8-5.9 3.2-4.3 3-3.2 3-2.5 3-1.7 3.5-1.4 4-.8 4-.1 5 .5 5 .8 14.5 3.2 8 1.5 9 1.4 9 1 10.5 .9 11.5 .6 14 .4 16 .2M137.2 817.7l3.7-6.2 3.5-5.2 3-3.8 3-3 3-2.3 3-1.7 3.5-1.3 4-.8 4-.1 5 .5 5 .9 14 2.8 8 1.5 9 1.3 9 1 10.5 .8 11.5 .6 13.5 .4 15.5 .2M139.7 817.7l3.7-5.9 3-4.1 2.9-3.5 2.6-2.5 3-2.1 3.5-1.8 3.5-1.1 3.5-.6 4.5-.1 5 .5 26 4.8 9 1.2 9 1 10 .7 11.5 .6 13 .4 15.5 .2M142.4 817.5l3-4.5 3-3.9 2.6-2.9 2.9-2.6 3-1.9 3-1.4 3.5-1.1 3.5-.5 4.5-.1 5 .5 26 4.5 8.5 1.2 9 .9 10 .7 11 .5 13 .4 15 .2M145 817.7l2.8-4 2.6-3.2 2.8-2.8 2.7-2.1 3-1.8 3-1.2 3.5-1 3.5-.4 4 0 5 .4 25.5 4.3 8.5 1.1 9 .9 10 .7 11 .5 27 .5M147.9 817.5l2.5-3.2 2.5-2.7 2.5-2.3 2.5-1.7 3-1.6 3-1.1 3-.8 3.5-.4 4 0 5 .5 25 4 8.5 1 8.5 .8 9.5 .7 11 .5 27 .5M150.9 817.5l2.5-2.8 2.1-2 2.4-1.9 2.7-1.6 2.8-1.3 3-.9 3-.5 3-.3 4 .1 4.5 .4 25 3.8 8 .9 8.5 .8 9.5 .6 11 .5 26 .5M154 817.7l2-2 2.4-1.9 2.5-1.7 2.5-1.2 2.5-.9 2.5-.7 3-.4 3-.2 3.5 .1 4.5 .4 24.5 3.5 8 .9 8 .7 9.5 .6 10.5 .5 26 .5M157.9 817.5l2-1.6 2-1.2 2-1.1 2.5-1 4.5-1 2.5-.3 3-.1 4 .1 4.5 .5 19.5 2.7 11 1.3 12 1 13 .6M162.4 817.5l3.5-1.8 3.5-1.2 4-.7 4.5-.2 4 .2 4.5 .4 24.5 3.3M168.9 817.4l4.5-1 5.5-.3 6.5 .3 9 1.1" fill="none" stroke="#1a1a1a" stroke-opacity="0.85" stroke-width="0.68" stroke-linejoin="round"/></g>
<g clip-path="url(#c_lo_C)"><path d="M129.3 817.7l3.4-10.5 2.7-7.9 2.5-6.6 2.8-6.5 8.6-18.5 13.4-29.5 23.2-46 2.5-6 3.8-11.5 3.4-9 1.8-3.9 .7-1.1 .8-.7 .5-.2 1 0 1.5 .9 2.5 2.4 8.9 9.1 15.6 16.3 13.7 14.7 12.8 14 13.4 15M131.5 817.7l5.8-17.5 2.5-6.5 2.7-6.5 8.6-18.5 13.5-29.5 17.8-35.1 5.5-11.1 2.4-5.8 3.8-11.5 2.4-6.5 1.5-3.5 .9-1.4 .5-.5 .5-.3 1 0 1.5 .9 3 2.8 6.5 6.6 15.7 16.4 14.3 15.3 13 14.3 14 15.7M133.7 817.7l3.2-10 2.6-7.5 2.5-6.5 2.8-6.5 8.2-17.5 13.4-29.5 23.2-46 2.5-6 3.7-11 1.6-4.1 1.5-3.4 .7-1 .8-.8 .5-.2 1 .1 2 1.2 3.5 3.3 5.5 5.6 15.1 15.8 14 15 12.7 14 14.2 16M135.9 817.6l3.2-9.9 2.7-7.5 2.5-6.5 2.8-6.5 7.7-16.5 13.6-29.7 22.8-45.3 2.8-6.5 4.4-12.4 1.5-3 .9-1.1 .6-.4 .5-.2 1 .1 2 1.1 3 2.6 4.5 4.5 15 15.7 14 15.1 12.3 13.5 15 17M138.1 817.7l3.3-10 2.6-7.5 2.6-6.5 3.1-7 7-15 13.7-30 22.7-45 2.4-5.5 3.1-8.5 1.3-3 1-1.7 .7-.8 .7-.5 .6-.2 1 .1 2 .9 3 2.5 4 4 14.5 15.2 13.9 15 11.8 13 15.8 17.9M140.3 817.7l4.5-13.5 4.1-10.5 19.5-42.8 6.5-13.7 19.3-38 2.5-5.5 3.7-9.1 1-1.9 .9-1 .6-.5 .5-.3 1-.1 1 .2 1 .4 2.5 1.8 4 3.8 13.5 14.2 14 15.1 11.7 12.9 16.8 19M142.5 817.7l4.4-13.1 4-10.4 20.4-44.5 6-12.5 18.3-36 5.8-12.9 1.4-2.1 1.1-1 1-.4 1 .1 2 .9 2.5 1.9 3.5 3.4 12.9 13.6 13.6 14.7 28.3 31.8M144.7 817.7l4.4-13 3.9-10 21-46 5.9-12 16.3-32 5.7-11.7 1.5-2.5 1.5-1.3 1-.3 1 .1 2 .9 2.5 1.9 3.5 3.4 11.8 12.5 13.4 14.5 28.8 32.4M146.9 817.7l4.3-12.5 3.9-10 21.7-47.5 5.9-12 19.2-37.5 2-3.2 1-1.1 1-.6 1-.2 1 .1 2 .9 2.5 1.9 4 3.9 10.5 11.1 13 14.1 29 32.6M149.1 817.7l4.1-12 4-10 21.7-47.5 7.5-15 14.5-28.2 3-5 1.5-1.7 1-.7 1-.3 1 0 2 .7 3 2.2 4 3.9 9.5 10 12.1 13.1 29.9 33.7M151.4 817.5l4.1-11.8 3.8-9.5 22.1-48.3 10.4-20.7 9.1-17.4 2-3.4 1.5-2.2 1.3-1.5 1.2-.8 1-.4 1-.1 1 .2 1.5 .7 3 2.2 4 3.8 8 8.3 11.5 12.6 31 34.9M153.5 817.7l4-11.5 3.9-9.6 18.4-40.4 4.5-9.5 10.1-19.9 7-13.1 2-3.3 1.5-2.1 1.5-1.5 1.5-.9 1-.3 1.5 .1 1 .4 1.5 .8 3 2.3 4.5 4.3 7.5 7.8 10.4 11.4 30.5 34.5M155.8 817.7l4-11.5 3.8-9.5 18.1-39.5 5-10.5 9.2-18.2 6-10.9 2-3.2 1.5-1.9 1.5-1.5 1.5-.9 1-.2 1.5 0 1 .3 1.5 .7 3.5 2.6 4.5 4.2 6.5 6.8 9.5 10.4 31.5 35.5M158 817.7l3.9-11 3.8-9.5 18.1-39.5 5.5-11.5 8.1-15.9 5-8.9 2-3 1.5-1.8 1.5-1.4 1.5-.8 1-.3 1.5 0 1.5 .4 1.5 .7 3 2.1 4.5 4.1 6 6.2 8.5 9.3 32.5 36.7M160.2 817.7l3.7-10.5 4-9.7 18-39.3 5.7-12 6.8-13.2 4.5-7.8 2-2.8 1.5-1.7 1.5-1.3 1.5-.8 1-.2 1.5-.1 1.5 .3 1.5 .6 1.5 .9 2 1.5 4.5 4 5.5 5.7 7.5 8.2 32.9 37.2M162.4 817.7l3.8-10.5 3.9-9.5 17.6-38.5 6.2-12.9 5.5-10.5 4-6.7 2-2.7 1.5-1.7 1.5-1.2 1.5-.7 1.5-.4 1.5 .1 1.5 .3 1.5 .6 1.5 .9 2 1.5 4 3.6 5 5.1 7 7.6 33.5 37.9M164.6 817.7l3.7-10 3.9-9.5 17.4-38 6-12.5 4.8-9.1 2-3.4 2-3 1.5-1.9 1.5-1.6 1.5-1.1 1.5-.7 1.5-.4 1.5 0 1.5 .3 1.5 .6 1.5 .8 2 1.4 4 3.5 5 5.1 6.4 7 33.6 37.9M166.9 817.6l3.6-9.9 3.9-9.3 17-37.2 6.1-12.5 4.4-8.1 3.5-5.3 1.5-1.7 1.5-1.4 1.5-.9 1.5-.6 1.5-.3 1.5 .1 1.5 .4 1.5 .6 1.5 .8 2 1.5 4 3.5 4.5 4.6 6 6.5 33.4 37.8M169.1 817.7l3.5-9.5 3.8-9.1 16.7-36.4 5.8-12 3.9-7 3.1-4.6 1.5-1.7 1.5-1.3 1.5-1 1.5-.6 1.5-.2 1.5 .1 1.5 .3 1.5 .6 1.5 .8 2 1.4 4 3.5 4 4 6 6.6 33.5 37.9M171.4 817.5l3.3-8.8 3.8-9 16.2-35.5 5.2-10.7 3.5-6.3 3-4.4 1.5-1.6 1.5-1.4 1.5-.9 1.5-.6 1.5-.3 1.5 .1 1.5 .3 1.5 .7 1.5 .8 2 1.4 4 3.4 4 4.1 5.5 6 33.5 37.9M173.6 817.7l3.3-8.9 3.6-8.6 15.8-34.5 4.9-10 3.5-6 2.9-4 1.3-1.3 1.5-1.3 1.5-.8 1.5-.5 1.5-.1 1.5 .2 1.5 .4 1.5 .7 3.5 2.3 4 3.6 4 4.1 5.5 6.1 32.4 36.6M175.8 817.7l3.2-8.5 3.6-8.5 14.9-32.5 4.6-9.5 3.3-5.6 1.5-2.2 1.5-1.8 2.5-2.2 1.5-.8 1.5-.5 1.5-.2 1.5 .2 1.5 .4 1.5 .7 3.5 2.4 4 3.5 4 4.2 5 5.4 32.5 36.8M178 817.7l3.1-8 3.6-8.5 13.7-30 4.5-9.1 3-5.2 1.5-2.2 1.5-1.8 2.5-2.2 1.5-.8 1.5-.5 1.5-.2 1.5 .2 1.5 .4 1.5 .7 3.5 2.3 4 3.6 4 4.1 5.5 6 31.5 35.7M180.3 817.7l3-8 3.7-8.5 12.9-28 4.5-9 3-4.9 2.5-3.1 1.1-1 1.4-1 1.5-.7 1.5-.3 1.5-.1 1.5 .3 1.5 .5 1.5 .7 3 2 4 3.6 4 4.1 5.5 6 30.9 34.9M182.5 817.7l3.1-8 3.8-8.7 11.5-24.8 4.5-8.9 3-4.7 2.5-2.9 1.2-1 1.3-.8 1.5-.6 1.5-.2 1.5 0 1.5 .3 1.5 .6 1.5 .7 3 2.2 4 3.6 4 4.1 5.5 6 30 33.9M184.7 817.7l3.2-8 3.7-8.5 10.3-22 4-7.9 3-4.7 2.5-2.9 1.3-1 1.2-.7 1.5-.6 1.5-.3 1.5 0 1.5 .3 1.5 .5 1.5 .8 3 2 4 3.6 4 4.1 6 6.6 29 32.7M187 817.7l3.2-8 4.2-9.5 8.5-18 4-7.6 3-4.5 2.5-2.7 1-.7 1.5-.9 1.5-.5 1.5-.2 1.5 .1 1.5 .4 3 1.3 3 2.2 4 3.6 4.5 4.6 6 6.6 27.3 30.8M189.3 817.7l3.4-8.5 4.7-10.4 6.5-13.5 4-7.4 3-4.3 2.5-2.4 1-.7 1.5-.7 1.5-.4 1.5-.1 1.5 .1 1.5 .4 3 1.4 3 2.2 4 3.6 4.5 4.6 6 6.6 26 29.3M191.5 817.7l3.7-9 4.7-10.1 5.5-11.1 3.5-6.2 2.5-3.5 2.5-2.4 2.5-1.4 1.5-.4 1.5-.2 2.5 .3 1.5 .5 1.5 .8 3 2 4 3.4 4.5 4.6 6 6.4 23.4 26.3M193.9 817.5l3.7-8.8 4.8-10.2 4.2-8.3 3.3-5.4 2.5-3.3 2.5-2.2 2.5-1.2 1.5-.4 1.5-.1 2.5 .4 3 1.3 3 2 4 3.5 4.5 4.5 5.5 5.9 20 22.4M196.1 817.7l3.3-7.7 4-8.5 4-7.6 3-4.9 2.5-3.2 2.5-2.2 2.5-1.2 1.5-.4 1.5-.1 2.5 .3 3 1.2 3 2 3.5 2.9 4 3.8 5.5 5.8 17.5 19.5M198.4 817.7l3.3-7.5 3.7-7.5 3-5.5 3-4.7 2.5-2.9 2.3-1.9 1.2-.6 1.5-.6 2.5-.4 2.5 .3 3 1.1 3 1.9 3 2.4 4 3.7 5 5.2 15.4 17M200.9 817.5l3-6.7 3-5.9 3-5.2 2.5-3.6 2.2-2.4 2.3-1.8 2.5-1.1 1.5-.3 1.5-.1 2.5 .3 2.5 .9 3 1.8 3 2.3 3.5 3.2 4.5 4.6 13 14.1M203.3 817.7l2.6-5.7 2.5-4.7 2.5-4.2 2.5-3.3 2-2.1 2.5-1.8 2.5-.9 2.5-.3 2.5 .2 2.5 .9 2.5 1.3 3 2.2 3 2.6 4 3.9 11 11.7M205.9 817.4l2.4-4.7 2.1-3.7 2.5-3.7 2-2.3 2-1.8 2-1.2 2.5-.8 2.5-.3 2 .3 2.5 .7 2.5 1.3 2.5 1.7 3 2.5 3.5 3.3 8.5 8.8M208.5 817.7l1.9-3.5 2-3.2 2-2.6 1.6-1.7 1.9-1.5 2-1.1 2-.6 2.5-.3 2 .2 2 .5 2 .9 2.5 1.4 2.5 1.9 3 2.6 7 6.9M211.4 817.7l2-3 1.5-1.9 1.5-1.6 1.5-1.3 1.5-.9 2-.9 1.5-.4 2-.2 2 .1 1.5 .3 2 .8 2 1 2 1.3 2.5 1.9 5 4.5M215 817.7l2.4-2.6 2.5-1.8 1.5-.7 1.5-.4 3-.4 3 .4 3 1.1 3 1.7 3.5 2.7M220.9 817.5l2.5-.9 3-.5 3 .3 3 1" fill="none" stroke="#1a1a1a" stroke-opacity="0.85" stroke-width="0.68" stroke-linejoin="round"/></g>
<path d="M127.8 815.4l3-9.3 3-8.6 3-7.7 3-6.8 7-14.9 10-22.2 4-8.5 4-8.1 15.9-31.2" fill="none" stroke="#1c1c1c" stroke-opacity="0.9" stroke-width="0.9" stroke-linejoin="round"/>
<path d="M127.8,815.4L130.8,806.1 133.8,797.5 136.8,789.8 139.8,783 146.8,768.1 156.8,745.9 160.8,737.4 164.8,729.3 180.6,698.3 180.6,698.3 183.6,699.5 192.6,703.9 200.6,706.9 204.6,708.1 209.6,709.3 214.6,710.4 218.3,710.9 215.8,710.4 212.1,710.6 208.5,711 204.9,711.5 201.3,712.4 197.7,713.5 194.3,714.9 191.1,716.5 188,718.4 184.9,720.6 182.1,722.9 179.3,725.3 176.7,727.9 174.1,730.5 171.7,733.3 169.4,736.2 167.2,739.1 165.1,742.1 163,745.1 161.1,748.3 159.2,751.4 157.4,754.6 155.6,757.9 153.9,761.1 152.3,764.4 150.7,767.7 149.2,771 147.7,774.4 146.3,777.8 144.8,781.2 143.4,784.6 142,787.9 140.6,791.3 139.3,794.7 137.9,798.2 136.6,801.6 135.3,805 134.1,808.5 132.8,811.9 131.6,815.4Z" fill="#000" fill-opacity="0.12"/>
<path d="M215.8 710.4l-3.7 .2-3.6 .4-3.6 .5-3.6 .9-3.6 1.1-3.4 1.4-3.2 1.6-3.1 1.9-3.1 2.2-2.8 2.3-2.8 2.4-2.6 2.6-2.6 2.6-2.4 2.8-2.3 2.9-2.2 2.9-2.1 3-2.1 3-1.9 3.2-1.9 3.1-1.8 3.2-1.8 3.3-1.7 3.2-1.6 3.3-1.6 3.3-1.5 3.3-1.5 3.4-1.4 3.4-1.5 3.4-1.4 3.4-1.4 3.3-1.4 3.4-1.3 3.4-1.4 3.5-1.3 3.4-1.3 3.4-1.2 3.5-1.3 3.4-1.2 3.5" fill="none" stroke="#1c1c1c" stroke-opacity="0.8" stroke-width="0.7" stroke-linejoin="round"/>
<path d="M70.2 751.6V815.4M72.2 748V815.4M74.2 744.4V815.4M76.2 740.7V815.4M78.2 737.1V815.4M80.2 733.4V815.4M82.2 729.8V815.4M84.2 726.2V815.4M86.2 722.5V815.4M88.2 718.9V815.4M90.2 715.3V815.4M92.2 711.6V815.4M94.2 708V815.4M96.2 704.3V815.4M98.2 700.7V815.4M100.2 697.1V815.4M102.2 693.4V815.4M104.2 689.8V815.4M106.2 686.1V815.4M108.2 682.5V815.4M110.2 678.9V815.4M112.2 675.2V815.4M114.2 671.6V815.4M116.2 667.9V815.4M118.2 664.3V815.4M120.2 660.7V815.4M122.2 657V815.4M124.2 653.4V815.4M126.2 653.6V815.4M128.2 655.4V815.4M130.2 657.3V815.4M132.2 659.3V815.4M134.2 661.4V815.4M136.2 663.6V815.4M138.2 665.9V815.4M140.2 668.4V815.4M142.2 671V815.4M144.2 673.5V815.4M146.2 675.9V815.4M148.2 678V815.4M150.2 680V815.4M152.2 682V815.4M154.2 683.8V815.4M156.2 685.6V815.4M158.2 687.2V815.4M160.2 688.8V815.4M162.2 690.2V815.4M164.2 691.7V815.4M166.2 693V815.4M168.2 694.2V815.4M170.2 695.1V815.4M172.2 695.9V815.4M174.2 696.7V815.4M176.2 697.3V815.4M178.2 697.8V815.4M180.2 698.2V815.4M182.2 695.4V815.4M184.2 691.1V815.4M186.2 686.2V815.4M188.2 680.3V815.4M190.2 674.1V815.4M192.2 668.6V815.4M194.2 663.4V815.4M196.2 659.3V815.4M198.2 656.3V815.4M200.2 655.9V815.4M202.2 657.9V815.4M204.2 659.9V815.4M206.2 661.9V815.4M208.2 664V815.4M210.2 666V815.4M212.2 668.1V815.4M214.2 670.1V815.4M216.2 672.2V815.4M218.2 674.3V815.4M220.2 676.4V815.4M222.2 678.5V815.4M224.2 680.5V815.4M226.2 682.6V815.4M228.2 684.7V815.4M230.2 686.8V815.4M232.2 689V815.4M234.2 691.1V815.4M236.2 693.2V815.4M238.2 695.3V815.4M240.2 697.5V815.4M242.2 699.6V815.4M244.2 701.8V815.4M246.2 704V815.4M248.2 706.1V815.4M250.2 708.3V815.4M252.2 710.5V815.4M254.2 712.7V815.4M256.2 714.9V815.4M258.2 717.2V815.4M260.2 719.4V815.4M262.2 721.6V815.4M264.2 723.9V815.4M266.2 726.1V815.4" fill="none" stroke="#222" stroke-opacity="0.8" stroke-width="0.36" stroke-linejoin="round"/>
<g clip-path="url(#bp_c_lo)"><path d="M69.4 753.1l50.6-92.1" fill="none" stroke="#111" stroke-opacity="0.23" stroke-width="3.5" stroke-linejoin="round"/><path d="M69.4 753.1l50.6-92.1" fill="none" stroke="#111" stroke-opacity="0.32" stroke-width="1.8" stroke-linejoin="round"/><path d="M204 659.7l18 18.5 16 16.9 15 16.3 13.7 15.3" fill="none" stroke="#111" stroke-opacity="0.23" stroke-width="3.5" stroke-linejoin="round"/><path d="M204 659.7l18 18.5 16 16.9 15 16.3 13.7 15.3" fill="none" stroke="#111" stroke-opacity="0.32" stroke-width="1.8" stroke-linejoin="round"/><path d="M128 655.2l4 3.9 4 4.3 3 3.5 5 6.3 3 3.5 5 5.1 5 4.5 3 2.3 4 2.9 3 2 2 1.1 3 1.3 3 1 3 .9 2 .4" fill="none" stroke="#111" stroke-opacity="0.20" stroke-width="2.5" stroke-linejoin="round"/><path d="M128 655.2l4 3.9 4 4.3 3 3.5 5 6.3 3 3.5 5 5.1 5 4.5 3 2.3 4 2.9 3 2 2 1.1 3 1.3 3 1 3 .9 2 .4" fill="none" stroke="#111" stroke-opacity="0.28" stroke-width="1.2" stroke-linejoin="round"/></g>
<path d="M69.4 753.1l55.4-100.8 5.6 5.2 5 5.2 3 3.5 6 7.5 3 3.5 5 4.9 5 4.5 3 2.3 4 2.9 3 1.9 2 1.1 3 1.2 3 1.1 3 .8 2.2 .4 2.8-5.4 2.2-5.1 1.8-5.1 3-9.2 4-10.6 1-2.1 1-1.8 1-1.6 1.9-2.4 6.1 6.1 10 10.3 20 21 16 17.2 15.3 17.1" fill="none" stroke="#1c1c1c" stroke-opacity="1" stroke-width="0.9" stroke-linejoin="round"/>
</g>
<g clip-path="url(#cpd)">
<g clip-path="url(#d_lo_A)"><path d="M382.8 762.2l29.2-58.5 6.1-11.5 3.3-6 4.1-6.2 2.1-2.8 1.9-2.1 1.5-1.4 2.5-1.7 2-1 2-.8 2.5-.2 2.5 .5 3.5 1.2 2.5 1.4 2 1.6 5.6 5.5 11.4 10.3 7.5 5.9 5.5 3.7 4.5 2.3 15.4 6.8 3.6 1.5 5 1.8 5.5 1.6 5 1.2 6.5 1.1 6.5 .7 8.5 .6 8.5 .4 18 .4 15 .1M382.8 766.7l30.8-61.5 6-11.5 3.4-6 3.9-6 2.2-3 1.8-2 1.6-1.4 2-1.4 2-1 1.5-.5 2-.2 2 .4 3 1 2.5 1.4 2 1.7 5.5 5.3 11 10 7.5 5.9 5.7 3.8 4.8 2.5 15 6.7 4.5 1.8 5 1.8 5.5 1.7 5.5 1.2 6.5 1.1 6.5 .7 8.5 .6 9 .4 17.5 .4 15 .1M382.9 771.2l15.1-30 17.4-35 8.6-16.1 3.5-5.6 4-5.3 1.5-1.5 1.5-1.2 2-1.1 1.5-.6 2-.2 2 .3 2.5 .9 2 1.2 2 1.7 10.6 10 5.9 5.2 7.4 5.8 5.6 3.7 5.5 2.9 14.5 6.4 4.5 1.9 5.5 1.9 6 1.8 5.5 1.3 6.5 1.1 6.5 .7 8.5 .5 9 .4 17.5 .4 15 .1M383 775.7l16.6-33 17.4-35 8.3-15.5 3.6-6 3.8-5 1.3-1.4 1.5-1.2 1.5-.9 1.5-.5 1.5-.2 2 .3 2 .8 1.7 1.1 2.3 1.9 11.3 10.6 4.6 4 7.1 5.5 6 4.1 5.5 2.9 14.5 6.4 5 2 5.5 2 5.5 1.6 6 1.4 6.5 1.1 6.5 .7 9 .6 9 .4 17.5 .4 15 .1M382.8 780.7l18.4-36.5 17.4-35 7.9-14.9 3.6-6.1 3.3-4.5 1.4-1.5 1.2-1.1 1.5-.9 1-.4 1.5-.2 1.5 .2 1.5 .5 2 1.2 2.1 1.7 11.3 10.5 4.6 4 7 5.4 6 4 5.5 2.9 14.5 6.4 5.5 2.3 5.5 1.9 6 1.8 6 1.3 6.5 1.1 6.5 .7 9 .6 9 .4 17.5 .4 15 .1M382.9 785.2l19.9-39.5 17.7-35.5 7.4-14 3.5-6 2.8-4 2.3-2.4 1-.6 1.5-.7 1-.1 1.5 .1 1.5 .5 1.5 1 2 1.6 10.4 9.6 5.1 4.4 7 5.4 6 3.9 6 3.2 14.5 6.4 5.5 2.2 5.5 2 6 1.7 6 1.4 6.5 1.1 7 .7 9 .6 9.5 .4 17 .4 15 .1M383 789.7l21.4-42.5 17.9-36 6.2-11.8 3.5-6.2 2.5-3.8 2.5-2.7 1-.7 1-.5 1-.2 1.5 .1 1.5 .5 1.5 1 2.5 2.1 10 9.1 4.5 3.8 7 5.3 6 3.9 6 3.1 14.5 6.4 5.5 2.2 6 2.1 6 1.7 6 1.3 6.5 1.1 7 .7 9 .6 9.5 .4 17 .4 15 .1M382.8 794.7l23.2-46 17.9-36 5.2-10 3.6-6.5 2.6-4 2.2-2.5 1-.7 1-.4 1-.2 1.5 .2 1 .4 1.5 .9 2.5 2 9 8.1 5.1 4.2 6.6 5 5.8 3.7 6 3.1 15 6.6 6 2.4 6 2.1 6 1.7 6.5 1.3 6.5 1.1 7 .7 9 .6 9.5 .3 17 .4 14.5 .1M382.9 799.2l24.7-49 17.9-36 4.2-8 3.8-7 2.5-3.9 2-2.2 1-.7 1-.4 1-.2 1.5 .3 2.5 1.3 3 2.3 8.5 7.5 5 4 6.2 4.5 5.6 3.5 5.7 2.9 15 6.6 6 2.4 6.5 2.2 6 1.6 6.5 1.4 6.5 1 7 .7 9 .6 9.5 .3 16.5 .4 15 .1M383 803.7l47.5-94.5 3.5-6.4 2.5-3.9 2-2.2 1-.7 1-.5 1-.1 1.5 .2 2.5 1.3 3 2.3 8.3 7 5.2 4 5.6 4 5.4 3.2 5.5 2.7 15.5 6.9 6.5 2.5 6.5 2.1 6 1.6 6.5 1.3 6.5 .9 7 .7 9 .6 9.5 .3 16.5 .4 14.5 .1M382.8 808.7l48.5-96.5 3.2-5.7 2.5-3.8 2-2.3 1-.7 1-.4 1-.2 1.5 .2 1.5 .6 1.5 .9 2.5 1.8 8.8 7.1 5.2 3.8 5.5 3.7 5 2.8 5.5 2.7 15 6.5 6.5 2.5 7 2.2 6 1.5 6.5 1.3 6.5 .9 7 .6 9 .6 9.5 .3 16 .4 14.5 .1M382.9 813.2l49.1-97.6 3-5.3 2.5-3.8 2-2.2 1-.7 1-.5 1-.1 1.5 .1 1.5 .5 1.5 .8 2.5 1.6 9 6.9 5.4 3.8 5.1 3.2 5 2.7 5.5 2.6 14.5 6.3 7 2.6 7 2.1 6 1.5 6.5 1.2 6.5 .9 7 .6 9 .5 10 .4 29.5 .4M383 817.6l49.5-98.2 3-5.4 2.5-3.6 2-2.2 1-.7 1-.4 1-.3 1.5 .1 1.5 .4 2 .9 3 1.9 9.2 6.6 4.8 3.2 5 3 5 2.5 12.9 5.8 6.1 2.5 7.5 2.7 7 2.1 6.5 1.5 6.5 1.1 6 .8 7.5 .7 8.5 .4 10.5 .4 28.5 .4M385.3 817.7l47.7-94.6 3-5.3 2.5-3.6 2-2 2-1.2 1.5-.3 1.5 0 1.5 .4 2 .9 3.5 2.1 9 6.1 4.9 3 5.1 2.8 6.5 3.1 10.5 4.6 6.5 2.6 7 2.5 7 2 6 1.3 6.5 1.1 6.5 .9 7.5 .6 8.5 .5 10.5 .3 28 .4M387.6 817.7l46-91 2.9-5.1 2.5-3.5 2-2 1-.7 1.5-.7 1.5-.3 1.5 .1 1.5 .3 2 .8 3.5 2 10.5 6.6 5 2.9 6.5 3.2 12 5.3 6 2.4 5.5 2 5.5 1.7 5.5 1.5 6 1.2 6.5 1.1 6 .7 7.5 .6 9 .5 10.5 .3 27 .4M390 817.7l44-87.1 3-5.2 2.5-3.5 2-2 1-.7 1.5-.7 1.5-.4 1.5 0 1.5 .2 2 .7 4 2 9 5.4 5 2.8 5.5 2.7 8 3.6 8 3.4 7 2.6 7 2.2 6.5 1.7 6 1.2 6 1 6.5 .7 7.5 .6 9 .5 10.5 .3 26.5 .4M392.3 817.7l38.6-76.5 4.1-7.8 3-5 2.4-3.2 2.1-1.9 1-.6 1.5-.7 1.5-.3 2 0 1.5 .3 2 .6 3.5 1.7 9 5.1 5 2.6 6.5 3.1 9.5 4.2 6.5 2.6 6.5 2.3 6.5 2 6 1.5 6 1.1 6 1 6.5 .7 7.5 .6 19.5 .8 26 .3M394.7 817.7l36.8-73 4-7.6 2.9-4.9 2.3-3 2.3-2.2 1.2-.8 1.3-.6 1.5-.4 2-.1 2 .3 2 .6 4 1.8 9 4.8 5.3 2.6 16.2 7.2 6.5 2.5 6 2 6 1.7 6 1.4 6 1.1 6 .9 6.5 .7 7.5 .5 19 .8 25.5 .3M397.1 817.7l34.9-69.3 4.3-8.2 2.7-4.5 2.5-3.3 2.5-2.2 2.5-1.3 1.5-.4 2-.1 2 .3 2 .6 4 1.6 9.5 4.8 6 2.9 8.5 3.7 7 2.9 6 2.2 6 2 5.5 1.5 6 1.3 6 1.1 6 .9 6.5 .6 7.5 .6 19 .7 25 .3M399.5 817.5l33.2-65.8 4.3-8.2 3-4.9 2.5-3.2 2.5-2.2 2.5-1.2 1.5-.3 2-.1 2 .3 2.5 .7 4 1.6 17.5 8.2 13 5.4 6 2.2 5.5 1.7 5.5 1.5 6 1.3 6 1 6 .8 13.5 1.2 19 .7 25 .3M401.8 817.7l31.7-62.9 4.5-8.5 3-4.9 2.5-3.1 2.5-2.1 2.5-1.2 1.5-.3 2 0 2 .3 2.5 .7 4.5 1.7 19 8.6 10.5 4.3 6 2.1 5.5 1.6 5.5 1.4 6 1.3 6 1 6 .8 13.5 1.1 19 .7 24.5 .3M404.1 817.7l30.4-60.2 4.5-8.5 3-4.8 2.5-3 2.5-2 2.5-1.1 1.5-.3 2-.1 2 .3 2.5 .7 5 1.9 19.5 8.6 9 3.5 5.5 1.9 5.5 1.6 5.5 1.4 6 1.3 6 1 6 .7 13.5 1.1 19 .7 24.5 .3M406.5 817.6l28.5-56.4 5-9.4 2.9-4.6 2.5-3 2.6-2 2.5-1.1 2-.3 2 0 2 .3 2.5 .7 5.5 2.1 18.5 8 8.8 3.3 5.7 1.9 5.5 1.6 5.5 1.3 5.5 1.1 5.5 .9 6 .7 14 1.1 19 .7 24 .3M408.8 817.7l27.2-53.8 5-9.3 2.5-4 2.5-3 2.5-2.1 1.5-.8 1.5-.6 2-.3 2 0 2 .3 2.5 .6 6 2.2 18 7.6 8.5 3.2 5.5 1.7 5.5 1.6 5.5 1.2 5.5 1.1 11.5 1.6 14 1.1 19 .6 23.5 .3M411.2 817.7l25.3-50.1 5.5-10.2 2.5-3.9 2.5-3 2.5-2 1.5-.8 1.5-.5 2-.4 2 0 2.5 .3 2.5 .7 6 2.1 17 7.1 8.5 3.1 5.5 1.7 5.5 1.4 5.5 1.3 5.5 1 11.5 1.6 14 1 19 .6 23 .3M413.5 817.7l23.5-46.4 6-11.1 2.5-3.8 2.5-2.9 2.5-2 1.5-.8 1.5-.5 2-.4 2-.1 2.5 .4 2.5 .6 6 2 16.5 6.7 8.5 3 5.5 1.7 5.5 1.4 5.5 1.2 5.5 1 11.5 1.5 14 1 18.5 .6 23 .3M416 817.5l21.5-42.5 3.8-7.3 2.6-4.5 2.6-3.9 2.5-2.9 2.5-1.9 1.5-.8 1.5-.5 2-.4 2-.1 2.5 .3 2.5 .5 6 2 16.5 6.5 8.5 2.9 5.5 1.6 5.5 1.4 11 2.1 11.5 1.4 13.5 .9 18.5 .6 22.5 .3M418.2 817.7l20.3-39.9 3.7-7.1 2.8-4.8 2.5-3.7 2.7-3 1.3-1.1 1.5-.9 1.5-.7 1.5-.5 2-.3 2 0 2.5 .3 2.5 .5 5.5 1.8 16 6.2 8.3 2.7 5.2 1.5 5.5 1.3 11 2.1 11.5 1.4 13.5 .9 18.5 .6 22.5 .3M420.6 817.7l18.4-36.3 4-7.5 3-5.2 2.5-3.6 2.7-2.9 1.3-1.1 1.5-.9 3-1.2 2-.3 2-.1 2.5 .3 2.5 .5 5.5 1.7 15.5 5.8 8.5 2.7 5.5 1.5 5.5 1.3 11 2 11.5 1.3 13.5 .9 18.5 .5 21.5 .3M423 817.6l17-33.4 4-7.5 3-5.1 2.8-3.9 2.7-2.8 1.5-1.1 1.5-.9 3-1 2-.3 2-.1 2 .2 2.5 .5 5.5 1.7 15.5 5.5 8.5 2.7 10.5 2.5 11 1.9 11.5 1.3 13.5 .9 18 .5 21.5 .3M425.3 817.7l15.7-30.8 4-7.4 3-5 2.7-3.8 2.8-2.8 1.5-1.1 1.5-.9 3-1 2-.4 2 0 2.5 .2 2.5 .5 5 1.5 15.5 5.3 8 2.4 10.5 2.5 11 1.8 11.5 1.3 13.5 .8 18 .6 21 .2M427.6 817.7l14.6-28.5 3.8-6.9 3.1-5.1 2.9-3.9 2.5-2.4 1.5-1.1 1.5-.9 1.5-.6 2-.6 2-.3 2 0 2 .2 2.5 .4 5 1.4 15.5 5.1 8.5 2.4 10.5 2.4 10.5 1.7 11 1.1 13.5 .8 18 .6 20.5 .2M430 817.7l13.5-26.3 4-7.2 2.9-4.5 2.7-3.5 1.4-1.5 1.5-1.2 3-1.8 3.1-1 1.9-.3 2-.1 2.5 .2 2.5 .5 5 1.3 15.5 4.9 8 2.1 10.5 2.3 10.5 1.6 11.5 1.1 13 .8 17.5 .5 20 .2M432.5 817.4l12.5-24.2 3.5-6.1 3-4.7 3-3.7 2.5-2.2 3-1.8 1.5-.6 2-.5 2-.3 2-.1 4.5 .6 5.5 1.4 15.5 4.6 7.5 1.9 10 2.1 10.5 1.6 11.5 1.1 13 .7 17 .5 20 .2M434.7 817.7l11.3-21.7 3.5-6.1 3.1-4.7 2.9-3.5 2.9-2.5 3.1-1.7 3.5-1.1 2-.2 2-.1 4.5 .6 5.5 1.3 15 4.3 7.5 1.8 10 2 10.5 1.5 11 1 13 .7 17 .5 19.5 .2M437.1 817.7l5.9-11.5 4.5-8.4 3.5-5.9 3-4.4 2.5-2.9 3-2.5 1.5-.9 2-.9 3.5-1 2-.3 2 0 4.5 .6 5.5 1.2 15 4 7.5 1.8 10 1.8 10 1.4 11 .9 13 .7 16.5 .5 19 .2M439.5 817.6l5.5-10.6 4-7.3 3.5-5.8 3-4.1 2.5-2.7 3-2.4 3.5-1.7 3.5-.9 2-.2 2 0 4.5 .5 5.5 1.2 15 3.8 7.5 1.6 9.5 1.7 10 1.3 11 .9 12.5 .6 16.5 .5 18.5 .2M441.8 817.7l5-9.5 3.7-6.6 3-4.9 3-4 3-3.1 3-2.2 3.5-1.6 3.5-.9 4-.2 4.5 .5 4.5 .9 14.5 3.5 8.5 1.8 9.5 1.6 10 1.2 11 .9 12.5 .6 16 .4 18 .2M444.2 817.7l4.3-8.1 3.7-6.4 2.9-4.5 2.9-3.7 3-3 3-2 3.5-1.5 3.5-.8 4-.2 5 .5 5.5 1.1 14.5 3.3 7 1.4 9.5 1.5 9.5 1.1 10.5 .8 12.5 .6 15.5 .4 18 .2M446.6 817.7l3.9-7.2 3.5-5.8 3-4.4 2.5-3 3-2.7 3-2 3.5-1.4 3.5-.8 4-.2 5 .5 27 5.5 9 1.3 9.5 1.1 10.5 .8 12.5 .5 15 .4 17.5 .2M449.1 817.7l3.9-7 3-4.8 3-4 2.5-2.8 3-2.4 3-1.7 3.5-1.3 3.5-.6 4-.1 4.5 .4 26.5 5.1 9 1.3 9 .9 10.5 .8 12 .5 15 .4 17.5 .2M451.5 817.7l3.2-5.5 3-4.5 2.8-3.6 2.5-2.6 3-2.3 3-1.6 3.5-1.2 3.5-.7 4-.1 5 .5 26 4.7 9 1.2 9 .9 10.5 .8 12 .5 14.5 .3 16.5 .2M454.1 817.7l3.1-5 2.8-4 2.5-2.9 2.5-2.3 3-2.1 3-1.4 3.5-1.1 3.5-.6 4 0 4.5 .4 26 4.5 8.5 1.1 8.5 .8 10.5 .7 11.5 .5 14.5 .3 16.5 .2M456.7 817.7l2.8-4.2 2.5-3.3 2.5-2.6 2.5-2.1 3-1.9 3-1.3 3-.8 3.5-.5 4-.1 4.5 .4 26 4.2 8.5 1 8.5 .8 10 .6 11.5 .5 30 .5M459.5 817.6l2.5-3.4 2.2-2.5 2.3-2.3 2.5-1.8 3-1.7 3-1.2 3-.8 3.5-.4 4 0 4.5 .4 25 3.9 8.5 .9 8.5 .8 10 .6 11.5 .4 29 .5M462.5 817.6l2.4-2.9 2.1-2.1 2.5-2 2.5-1.5 2.5-1.2 3-1 3-.6 3-.2 3.5 0 4.5 .3 24.5 3.6 8 .9 8.5 .7 10 .6 11.5 .4 28.5 .5M465.6 817.7l2-2 2.3-2 2.1-1.4 2.5-1.3 2.5-1 2.5-.7 3-.5 3-.2 3.5 0 4.5 .4 24 3.3 8 .8 8 .7 10 .5 11 .4 28 .5M469.5 817.5l2-1.6 2-1.3 2-1 2.5-1 2-.6 2.5-.6 2.5-.2 3-.1 7.5 .4 23 3 16 1.5 20.5 .9 27.5 .4M474 817.5l3.5-1.8 3.5-1.2 4-.7 4.5-.3 3.5 .1 4.5 .4 18.5 2.4 10 1M480.5 817.4l2.5-.6 2.5-.5 5.5-.3 6.5 .3 10 1.1" fill="none" stroke="#1a1a1a" stroke-opacity="0.85" stroke-width="0.68" stroke-linejoin="round"/></g>
<g clip-path="url(#d_lo_C)"><path d="M442 817.6l7.4-13.9 6.9-14 9.3-20.5 16.7-37.5 12.1-26 5.9-10 4.3-8.5 1.8-3 1.5-2 1.9-2 1.7-1.4 1.5-1 2.5-1.1 2.5-.6 2-.1 2 .3 3 1 3.5 1.7 2.5 1.7 3.5 2.8 5.5 4.9 4 4.1 3 3.7 6.3 9.5 3.3 4 4.4 4.9 21.5 22.5M444.3 817.7l7.2-13.5 6.6-13.5 9.4-20.5 16.6-37.5 11.9-25.5 1.9-3.5 4.2-7 4.1-8 1.8-3 1.5-2 1.5-1.6 1.5-1.4 1.5-1 2-.9 2.5-.6 2 0 2.5 .7 3.1 1.3 2.9 1.7 2.5 1.8 4.5 3.9 4.4 4.1 3.6 4 2 2.8 5.5 8.2 4.5 5.5 15 16 11.5 11.9M446.7 817.7l6.9-13 6.6-13.5 9.3-20.3 16.5-37.2 11.9-25.5 1.9-3.5 4.1-7 4.1-7.8 1.5-2.6 2.5-3.2 1.5-1.3 1.5-1.1 2-.8 2-.4 2 .1 2.5 .8 2.5 1.2 2.5 1.5 3 2.4 4.3 3.7 3.6 3.5 3 3.5 1.9 2.5 5.7 8.5 4.5 5.5 15 16 13 13.4M449.1 817.7l6.9-13 6.5-13.4 9-19.8 16.3-36.8 11.7-25 1.8-3.5 4.5-7.5 5.2-9.8 1.2-1.7 1.3-1.4 1.2-1.1 1.3-.9 1.5-.6 2-.3 2 .2 2.5 .9 2.2 1.2 2.3 1.6 6.5 5.6 3.3 3.3 2.6 3 7.2 10.5 4.9 6 15.5 16.4 14 14.5M451.5 817.7l6.8-13 6.2-12.8 9-19.7 16.4-37 11.4-24.5 1.9-3.5 4.4-7.5 4.9-9.1 2-2.6 1-.9 1.5-1 1.5-.6 1.5-.1 2 .3 2 .8 2 1.2 2.1 1.5 6.3 5.5 2.6 2.7 2.4 2.8 7.3 10.5 4.8 5.9 15.6 16.6 15.4 15.9M454 817.5l6.7-12.8 6-12.5 8.9-19.5 15.9-36 11.5-24.5 10.8-19.5 1.9-2.5 1.9-1.5 1.4-.5 1.5-.2 1.5 .3 2 .8 1.8 1.1 2 1.5 5.2 4.6 2.5 2.6 2.4 2.8 7.1 10.3 5 6.1 16 17 16.5 17.1M456.3 817.7l6.5-12.5 6-12.5 8.6-19 16.1-36.3 11.1-23.7 2-4 8.4-14.7 1.7-2.3 1.8-1.4 1-.4 1.5-.1 1.5 .3 1.5 .7 3.5 2.4 4.5 4.1 4 4.4 7.3 10.5 5.2 6.4 16.1 17.1 17.9 18.5M458.7 817.7l6.3-12.3 5.9-12.2 8.6-19 16-36 11-23.7 2.3-4.3 7.2-12.4 2-2.6 1.5-1 1-.3 1-.1 1 .2 1.5 .6 3 2.1 4 3.6 3.5 4 7.3 10.4 5.2 6.3 16.1 17.2 19.4 20M461 817.7l6.2-12 5.7-12 8.5-18.5 15.9-36 11-23.5 2.7-5.1 5.5-9.1 2-2.7 1.5-1.1 1-.4 1 0 2 .5 1.5 .8 1.5 1.1 3 2.7 3.5 4.1 7.5 10.6 4.7 5.6 16.3 17.3 20.5 21.2M463.5 817.6l5.8-11.4 5.7-12 8.4-18.5 16-36 10.6-22.7 3-5.5 4-6.3 2-2.5 1-.9 1-.6 1.5-.3 1 .2 1 .3 2.5 1.6 2.4 2.2 3 3.5 6.8 9.5 5.3 6.3 16.2 17.2 21.8 22.5M465.8 817.7l5.7-11.2 5.6-11.8 8.2-18 16-36 10.2-21.8 2.5-4.7 3-4.7 2.5-3 1-.8 1-.6 1.5-.3 1.5 .3 2 1 2 1.7 2.5 2.9 7.1 9.5 5.4 6.3 16.2 17.2 22.8 23.5M468.2 817.7l5.3-10.5 5.4-11.5 8.2-18 16-36 9.4-19.8 2.5-4.8 2.5-3.8 2.5-2.8 1-.8 1-.5 1.5-.2 1.5 .3 1.5 .8 2 1.7 2 2.2 6.8 8.7 5.7 6.4 15.7 16.6 23.8 24.5M470.5 817.7l5.3-10.5 5.5-11.5 7.9-17.5 15.3-34.5 7.5-15.8 3-5.8 2.5-4.1 1.4-1.8 1.1-1.1 1-.8 1-.6 1.5-.3 1.5 .2 1.5 .7 2 1.6 2 2.1 7.4 8.7 5.6 6 14.7 15.5 24.2 25M473 817.5l5.1-10.3 5.7-12 7.7-17 14.4-32.5 6.1-12.9 3.5-6.6 2.5-4 1.5-1.8 1-1 1-.7 1-.4 1.5-.3 1 .2 1 .3 2 1.2 2 1.8 24.8 26.2 27.6 28.5M475.2 817.7l5.3-10.5 5.4-11.5 21.2-47.5 5.4-11.4 3-5.6 2.5-4 1.5-1.8 1-1 2-1.3 1-.3 1-.1 2 .5 2.5 1.4 3 2.6 6.5 6.5 43.9 45.5M477.6 817.7l5-10 5.4-11.5 20.3-45.5 4.7-9.9 3-5.5 2.5-3.8 1.5-1.8 1-.9 2-1.1 1-.3 1.5-.1 1 .2 1.5 .5 2.5 1.6 3.5 2.9 8 7.9 40.4 41.8M480 817.6l4.6-9.4 5-10.5 19.9-44.4 4.5-9.5 3-5.3 2.5-3.4 2-1.9 1-.7 1.5-.6 1-.2 1.5 0 2.5 .8 3 1.8 4 3.4 7 6.8 39.4 40.7M482.3 817.7l4.4-9 5-10.5 18.6-41.5 4.2-8.8 2.5-4.5 2.5-3.6 1.5-1.6 1-.8 1.1-.7 1.4-.6 1-.2 1.5 0 1.5 .3 1.5 .5 3 1.8 4 3.3 7.5 7.4 37.9 39M484.6 817.7l8.9-18.5 17.5-38.9 4.1-8.6 2.4-4.3 2.5-3.6 1-1.1 1.5-1.3 1.2-.7 1.3-.6 1-.2 1.5 0 1.5 .2 1.5 .5 1.5 .8 2 1.3 4 3.2 7.5 7.3 36.9 38M487 817.7l8.1-17 16.9-37.5 4-8.2 2.5-4.4 2.5-3.4 1-1 1.5-1.2 1-.6 1.5-.5 1-.2 1.5 0 1.5 .4 1.5 .5 3.5 2.1 4 3.3 8.5 8.3 34.9 35.9M489.3 817.7l7.2-15 16.3-36 4.2-8.7 2.5-4.2 2.5-3.2 2-1.8 1-.6 1.5-.6 1-.1 1.5 0 1.5 .3 1.5 .5 1.5 .8 2 1.3 4 3.2 9 8.8 33.8 34.8M491.7 817.7l8.1-17 14.2-31.5 4-8 2.5-4.2 2.3-2.8 2.2-1.8 1-.6 1.5-.4 1-.2 1.5 .1 1.5 .4 1.5 .6 3.5 2.1 4 3.3 9.5 9.3 32.3 33.2M494 817.7l7.4-15.5 13.1-28.9 4-8.1 2.5-4.2 2.5-3.1 1.4-1.2 1.1-.7 1-.5 1.5-.4 2.5 .1 1.5 .4 1.5 .6 3.5 2.2 4 3.3 9.5 9.3 31.3 32.2M496.5 817.4l6.5-13.7 12.5-27.4 4-8 2.5-3.9 2.5-2.9 1-.9 1.5-.9 1-.4 1.5-.3 2.5 .1 1.5 .5 1.5 .6 3.5 2.3 4 3.3 9.5 9.3 30.5 31.3M498.7 817.7l5.7-12 11.6-25.3 2.5-5.1 2-3.7 2.5-3.8 2.5-2.7 1.2-.9 1.3-.7 1-.3 1.5-.3 2.5 .2 1.5 .5 1.5 .7 3.5 2.3 4 3.3 10 9.7 29 29.8M501 817.7l15.5-33.2 4.5-8.8 2.5-3.8 2.5-2.7 1.3-1 1.2-.6 1-.4 1.5-.3 2.5 .1 1.5 .5 1.5 .6 3.5 2.2 4 3.2 4 3.8 6 5.9 28.5 29.2M503.5 817.4l14-29.9 2.5-4.9 2.2-3.9 2.3-3.3 2.5-2.5 1-.7 1.5-.8 1.5-.4 1.5-.1 2.5 .3 3 1.2 3.5 2.3 4 3.4 4.5 4.2 6 6 26.5 27.2M505.7 817.7l12.3-26 2.5-5 2.5-4.3 2.5-3.4 2.5-2.3 1-.7 1.5-.6 1.5-.4 1.5-.1 2.5 .4 3 1.3 3 1.9 4 3.3 4.5 4.1 6 6 25 25.5M508 817.7l11-22.9 2.5-4.8 2.5-4.1 2.5-3.3 2.2-1.9 2.3-1.2 1.5-.4 1.5-.2 2.5 .3 3 1.2 3 1.9 4 3.1 4.5 4.2 5.5 5.3 22.3 22.8M510.5 817.5l9.5-19.6 2.5-4.6 2.5-4 2.1-2.6 2.4-2 2.5-1.2 1.5-.4 1.5-.1 2.5 .4 3 1.1 3 1.9 3.5 2.7 4 3.6 5.5 5.3 19.4 19.7M512.8 817.7l8.2-16.6 2.5-4.5 2.5-3.7 2.4-2.7 2.1-1.6 2.5-1.1 2.5-.4 2.5 .3 3 1 3 1.8 3.5 2.7 4 3.5 5 4.7 16.4 16.6M515.2 817.7l4.3-8.7 3-5.6 2.5-4.2 2-2.8 2.1-2.2 2.4-1.7 2.5-1 2.5-.3 2.5 .3 2.5 .9 3 1.6 3 2.2 4 3.4 4.5 4.2 14 13.9M517.6 817.7l5.9-11.1 2.5-3.9 2-2.6 2-2 2.5-1.7 2.5-.9 2.5-.2 2.5 .3 2.5 .9 2.5 1.4 3 2.1 3.5 2.8 4 3.7 11.5 11.2M520.1 817.7l2.9-5.3 2.5-4.1 2-2.8 2-2.3 2-1.7 2-1.1 2-.7 2.5-.3 2 .2 2.5 .6 2.5 1.2 2.5 1.6 3 2.3 3.5 3 9.9 9.4M522.8 817.7l2.2-3.7 2-3 2-2.5 2-2 2-1.4 1.9-.9 2.1-.6 2-.1 2 .2 2 .5 2 .9 2.5 1.4 2.5 1.8 3 2.4 7.5 6.8M525.7 817.7l3.3-4.5 1.9-2 1.6-1.3 1.5-.9 2-.9 1.5-.3 2-.2 2 .1 1.5 .3 2 .7 2 1 4.5 3.1 5.9 4.9M529.2 817.7l2.8-2.9 2.5-1.7 1.5-.6 1.5-.5 3-.3 3 .3 3 1.1 3.5 2 3.5 2.6M534.5 817.5l1.5-.7 1.5-.6 1.5-.3 2-.2 2 .1 1.5 .3 3.5 1.4" fill="none" stroke="#1a1a1a" stroke-opacity="0.85" stroke-width="0.68" stroke-linejoin="round"/></g>
<path d="M440.8 815.4l7-13.1 7-14.4 9-19.7 16-36.2 8.4-18" fill="none" stroke="#1c1c1c" stroke-opacity="0.9" stroke-width="0.9" stroke-linejoin="round"/>
<path d="M440.8,815.4L447.8,802.3 454.8,787.9 463.8,768.2 480.8,729.8 490.8,708.3 493.1,703.6 493.1,703.6 504.1,708.5 513.1,711.6 517.1,712.7 522.1,713.7 527.1,714.5 530.8,714.9 523.2,715.6 519.8,716.2 516.5,717.1 513.3,718.2 510.3,719.4 507.4,720.9 504.6,722.8 501.9,724.9 499.2,727.1 496.7,729.2 494.2,731.5 491.7,733.8 489.4,736.3 487.1,738.8 485,741.4 483,744 481.1,746.8 479.2,749.6 477.4,752.5 475.7,755.4 473.9,758.2 472.2,761.1 470.5,764 468.9,767 467.3,769.9 465.7,772.9 464.1,775.9 462.5,778.9 461,781.8 459.5,784.9 458,787.9 456.5,790.9 455.1,793.9 453.7,797 452.2,800 450.8,803.1 449.5,806.2 448.1,809.2 446.7,812.3 445.4,815.4Z" fill="#000" fill-opacity="0.12"/>
<path d="M523.2 715.6l-3.4 .6-3.3 .9-3.2 1.1-3 1.2-2.9 1.5-2.8 1.9-2.7 2.1-2.7 2.2-2.5 2.1-2.5 2.3-2.5 2.3-2.3 2.5-2.3 2.5-2.1 2.6-2 2.6-1.9 2.8-1.9 2.8-1.8 2.9-1.7 2.9-1.8 2.8-1.7 2.9-1.7 2.9-1.6 3-1.6 2.9-1.6 3-1.6 3-1.6 3-1.5 2.9-1.5 3.1-1.5 3-1.5 3-1.4 3-1.4 3.1-1.5 3-1.4 3.1-1.3 3.1-1.4 3-1.4 3.1-1.3 3.1" fill="none" stroke="#1c1c1c" stroke-opacity="0.8" stroke-width="0.7" stroke-linejoin="round"/>
<path d="M385.8 751.5V815.4M387.8 747.6V815.4M389.8 743.6V815.4M391.8 739.6V815.4M393.8 735.6V815.4M395.8 731.6V815.4M397.8 727.5V815.4M399.8 723.5V815.4M401.8 719.5V815.4M403.8 715.5V815.4M405.8 711.4V815.4M407.8 707.4V815.4M409.8 703.4V815.4M411.8 699.5V815.4M413.8 695.7V815.4M415.8 692V815.4M417.8 688.3V815.4M419.8 684.8V815.4M421.8 681.6V815.4M423.8 678.8V815.4M425.8 676.1V815.4M427.8 673.7V815.4M429.8 671.8V815.4M431.8 670.5V815.4M433.8 669.4V815.4M435.8 668.4V815.4M437.8 667.8V815.4M439.8 667.7V815.4M441.8 668V815.4M443.8 668.6V815.4M445.8 669.3V815.4M447.8 670.2V815.4M449.8 671.3V815.4M451.8 673V815.4M453.8 674.9V815.4M455.8 677V815.4M457.8 678.9V815.4M459.8 680.7V815.4M461.8 682.6V815.4M463.8 684.4V815.4M465.8 686.3V815.4M467.8 688.1V815.4M469.8 689.7V815.4M471.8 691.3V815.4M473.8 692.9V815.4M475.8 694.4V815.4M477.8 695.8V815.4M479.8 697.2V815.4M481.8 698.4V815.4M483.8 699.5V815.4M485.8 700.6V815.4M487.8 701.5V815.4M489.8 702.4V815.4M491.8 703.1V815.4M493.8 702.5V815.4M495.8 699.2V815.4M497.8 695.8V815.4M499.8 692.1V815.4M501.8 688V815.4M503.8 684.3V815.4M505.8 681.4V815.4M507.8 679.2V815.4M509.8 677.3V815.4M511.8 675.9V815.4M513.8 675V815.4M515.8 674.3V815.4M517.8 673.9V815.4M519.8 673.7V815.4M521.8 673.9V815.4M523.8 674.5V815.4M525.8 675.4V815.4M527.8 676.3V815.4M529.8 677.3V815.4M531.8 678.6V815.4M533.8 680.1V815.4M535.8 681.8V815.4M537.8 683.6V815.4M539.8 685.3V815.4M541.8 687.2V815.4M543.8 689.1V815.4M545.8 691.3V815.4M547.8 693.7V815.4M549.8 696.5V815.4M551.8 699.7V815.4M553.8 702.8V815.4M555.8 705.5V815.4M557.8 708V815.4M559.8 710.2V815.4M561.8 712.4V815.4M563.8 714.5V815.4M565.8 716.6V815.4M567.8 718.7V815.4M569.8 720.8V815.4M571.8 722.9V815.4M573.8 725V815.4M575.8 727.1V815.4M577.8 729.2V815.4M579.8 731.3V815.4" fill="none" stroke="#222" stroke-opacity="0.8" stroke-width="0.36" stroke-linejoin="round"/>
<g clip-path="url(#bp_d_lo)"><path d="M385 753.1l25-50.1 9-16.9 3-4.8 3-4.2 2-2.5 2-2.1 1-.8 2-1.3" fill="none" stroke="#111" stroke-opacity="0.23" stroke-width="3.5" stroke-linejoin="round"/><path d="M385 753.1l25-50.1 9-16.9 3-4.8 3-4.2 2-2.5 2-2.1 1-.8 2-1.3" fill="none" stroke="#111" stroke-opacity="0.32" stroke-width="1.8" stroke-linejoin="round"/><path d="M527 675.9l3 1.5 3 2.1 7 6 4 3.9 2 2.1 2 2.4 2 2.9 4 6.3 2 2.7 2 2.4 4 4.4 18.3 19.2" fill="none" stroke="#111" stroke-opacity="0.23" stroke-width="3.5" stroke-linejoin="round"/><path d="M527 675.9l3 1.5 3 2.1 7 6 4 3.9 2 2.1 2 2.4 2 2.9 4 6.3 2 2.7 2 2.4 4 4.4 18.3 19.2" fill="none" stroke="#111" stroke-opacity="0.32" stroke-width="1.8" stroke-linejoin="round"/><path d="M446 669.4l3 1.4 2 1.5 6 5.9 10 9.2 3 2.5 6 4.6 4 2.8 3 1.8 5 2.5 4 1.6" fill="none" stroke="#111" stroke-opacity="0.20" stroke-width="2.5" stroke-linejoin="round"/><path d="M446 669.4l3 1.4 2 1.5 6 5.9 10 9.2 3 2.5 6 4.6 4 2.8 3 1.8 5 2.5 4 1.6" fill="none" stroke="#111" stroke-opacity="0.28" stroke-width="1.2" stroke-linejoin="round"/></g>
<path d="M385 753.1l25-50.1 7-13.3 4-6.9 5-7 2-2.3 1-1 1.3-1 3.7-2.2 2-1 2-.5 2-.1 3 .6 3 1.1 3 1.4 1 .6 2 1.8 5 5 10 9.2 3 2.5 6 4.6 4 2.8 4 2.3 5 2.4 4.1 1.6 5-8.3 5.9-11.4 1-1.5 1-1.2 2-2.2 2-1.9 2-1.4 1-.4 3-1 3-.6 1 0 2 .3 2 .6 2 .9 4 1.9 3 2.1 7 6 4 3.9 2 2.1 2 2.4 2 2.9 4 6.3 1.7 2.3 2.3 2.8 4 4.4 18.3 19.2" fill="none" stroke="#1c1c1c" stroke-opacity="1" stroke-width="0.9" stroke-linejoin="round"/>
</g>
<rect x="69.4" y="27.6" width="197.3" height="337.8" fill="none" stroke="#2b2b2b" stroke-width="1.3"/>
<path d="M63.9,61H69.4M262.2,61H266.7M63.9,196H69.4M262.2,196H266.7M63.9,331H69.4M262.2,331H266.7M66.4,128.5H69.4M263.7,128.5H266.7M66.4,263.5H69.4M263.7,263.5H266.7M102.4,365.4V370.4M102.4,27.6V31.1M168,365.4V370.4M168,27.6V31.1M233.6,365.4V370.4M233.6,27.6V31.1M69.6,365.4V368.4M135.2,365.4V368.4M135.2,27.6V30.1M200.8,365.4V368.4M200.8,27.6V30.1M266.4,365.4V368.4" stroke="#2b2b2b" stroke-width="1.1" fill="none"/>
<rect x="385.0" y="27.6" width="195.3" height="337.8" fill="none" stroke="#2b2b2b" stroke-width="1.3"/>
<path d="M379.5,61H385M575.8,61H580.3M379.5,196H385M575.8,196H580.3M379.5,331H385M575.8,331H580.3M382,128.5H385M577.3,128.5H580.3M382,263.5H385M577.3,263.5H580.3M417.5,365.4V370.4M417.5,27.6V31.1M482.7,365.4V370.4M482.7,27.6V31.1M547.9,365.4V370.4M547.9,27.6V31.1M384.9,365.4V368.4M450.1,365.4V368.4M450.1,27.6V30.1M515.3,365.4V368.4M515.3,27.6V30.1M580.5,365.4V368.4" stroke="#2b2b2b" stroke-width="1.1" fill="none"/>
<rect x="69.4" y="477.7" width="197.3" height="337.7" fill="none" stroke="#2b2b2b" stroke-width="1.3"/>
<path d="M63.9,534H69.4M262.2,534H266.7M63.9,646.3H69.4M262.2,646.3H266.7M63.9,758.6H69.4M262.2,758.6H266.7M66.4,590.1H69.4M263.7,590.1H266.7M66.4,702.4H69.4M263.7,702.4H266.7M102.4,815.4V820.4M102.4,477.7V481.2M168,815.4V820.4M168,477.7V481.2M233.6,815.4V820.4M233.6,477.7V481.2M69.6,815.4V818.4M135.2,815.4V818.4M135.2,477.7V480.2M200.8,815.4V818.4M200.8,477.7V480.2M266.4,815.4V818.4" stroke="#2b2b2b" stroke-width="1.1" fill="none"/>
<rect x="385.0" y="477.7" width="195.3" height="337.7" fill="none" stroke="#2b2b2b" stroke-width="1.3"/>
<path d="M379.5,534H385M575.8,534H580.3M379.5,646.3H385M575.8,646.3H580.3M379.5,758.6H385M575.8,758.6H580.3M382,590.1H385M577.3,590.1H580.3M382,702.4H385M577.3,702.4H580.3M417.3,815.4V820.4M417.3,477.7V481.2M482.6,815.4V820.4M482.6,477.7V481.2M547.9,815.4V820.4M547.9,477.7V481.2M384.7,815.4V818.4M450,815.4V818.4M450,477.7V480.2M515.2,815.4V818.4M515.2,477.7V480.2M580.6,815.4V818.4" stroke="#2b2b2b" stroke-width="1.1" fill="none"/>
<rect x="281.9" y="27.6" width="79.1" height="337.8" fill="none" stroke="#8a8a8a" stroke-width="1"/>
<path d="M277.9,84.2H281.9M358,84.2H361M277.9,140.2H281.9M358,140.2H361M277.9,196H281.9M358,196H361M277.9,252H281.9M358,252H361M277.9,308H281.9M358,308H361M281.9,365.4V370.4M308.1,365.4V368.4M308.1,27.6V30.1M334.3,365.4V370.4M334.3,27.6V30.1" stroke="#8a8a8a" stroke-width="1" fill="none"/>
<rect x="596.7" y="27.6" width="77.9" height="337.8" fill="none" stroke="#8a8a8a" stroke-width="1"/>
<path d="M592.7,61H596.7M671.6,61H674.6M592.7,128.6H596.7M671.6,128.6H674.6M592.7,196H596.7M671.6,196H674.6M592.7,263.5H596.7M671.6,263.5H674.6M592.7,331H596.7M671.6,331H674.6M596.7,365.4V370.4M622.7,365.4V368.4M622.7,27.6V30.1M648.7,365.4V370.4M648.7,27.6V30.1" stroke="#8a8a8a" stroke-width="1" fill="none"/>
<rect x="281.9" y="477.7" width="79.1" height="337.7" fill="none" stroke="#8a8a8a" stroke-width="1"/>
<path d="M277.9,534.2H281.9M358,534.2H361M277.9,590.2H281.9M358,590.2H361M277.9,646.3H281.9M358,646.3H361M277.9,702.4H281.9M358,702.4H361M277.9,758.4H281.9M358,758.4H361M281.9,815.4V820.4M321.5,815.4V818.4M321.5,477.7V480.2M361,815.4V820.4" stroke="#8a8a8a" stroke-width="1" fill="none"/>
<rect x="596.7" y="477.7" width="77.9" height="337.7" fill="none" stroke="#8a8a8a" stroke-width="1"/>
<path d="M592.7,534.2H596.7M671.6,534.2H674.6M592.7,590.2H596.7M671.6,590.2H674.6M592.7,646.3H596.7M671.6,646.3H674.6M592.7,702.4H596.7M671.6,702.4H674.6M592.7,758.4H596.7M671.6,758.4H674.6M596.7,815.4V820.4M635.6,815.4V818.4M635.6,477.7V480.2M674.6,815.4V820.4" stroke="#8a8a8a" stroke-width="1" fill="none"/>
<path d="M307.7,27.6L307.5,30.5 307.3,33.5 307,36.4 306.8,39.4 306.6,42.3 306.3,45.3 306.1,48.2 305.9,51.2 305.6,54.1 305.4,57.1 305.2,60 304.9,63 304.7,65.9 304.4,68.8 304.2,71.8 304,74.7 303.7,77.7 303.4,80.6 303.1,83.6 302.8,86.5 302.5,89.5 302.3,92.4 302,95.3 301.7,98.3 301.4,101.2 301.2,104.2 300.9,107.1 300.8,110.1 300.6,113 300.5,116 300.3,118.9 300.2,121.9 300.1,124.8 300.1,127.8 300.4,130.7 301.2,133.6 302.4,136.2 304.1,138.7 304.9,141.5 305.2,144.5 304.3,147.3 302.5,149.7 300.2,151.4 297.6,153 295.2,154.8 293,156.9 291.7,159.4 290.9,162.2 290.2,165.2 289.7,168.1 289.2,171 288.7,173.9 288.3,176.8 287.9,179.8 287.4,182.7 286.9,185.6 286.5,188.5 287.3,191.4 288.4,194.2 289.4,196.9 290,199.8 290.3,202.7 290.6,205.7 290.8,208.6 291.1,211.6 291.6,214.5 292.1,217.4 292.6,220.4 293.2,223.3 293.9,226.2 294.7,229 295.6,231.7 296.8,234.5 298.2,237.1 299.7,239.7 301.4,242 303.5,244.2 305.5,246.4 307,248.9 308.4,251.6 308.9,254.5 308.5,257.4 307.7,260.3 306,262.8 304.4,265.2 304.3,268 304.2,271 304.2,274.1 304.2,277 304.3,280 304.4,282.9 304.5,285.9 304.7,288.8 304.9,291.8 305.2,294.7 305.5,297.7 305.7,300.6 306,303.6 306.3,306.5 306.6,309.4 306.9,312.4 307.2,315.3 307.5,318.3 307.7,321.2 308,324.2 308.2,327.1 308.5,330.1 308.7,333 308.9,336 309.2,338.9 309.4,341.8 309.7,344.8 309.9,347.7 310.2,350.7 310.4,353.6 310.6,356.6 310.9,359.5 311.1,362.5 311.4,365.4" stroke="#333" stroke-width="0.9" fill="none"/>
<path d="M626.1,27.6L625.8,29.2 625.6,30.8 625.4,32.5 625.2,34.1 625,35.7 624.9,37.3 624.7,38.9 624.6,40.6 624.5,42.2 624.4,43.8 624.4,45.4 624.3,47 624.3,48.7 624.3,50.3 624.3,51.9 624.4,53.6 624.4,55.3 624.5,56.9 624.6,58.5 624.8,60 625.1,61.5 625.8,62.9 626.8,64.3 627.9,65.6 629,66.9 630.1,68.1 631.2,69.3 632.3,70.5 633.5,71.6 634.7,72.7 636,73.7 637.2,74.8 638.5,75.8 639.8,76.8 641.1,77.9 642.4,78.9 643.7,79.8 645.1,80.7 646.5,81.6 647.9,82.5 649.2,83.5 650.4,84.5 651.4,85.7 652.5,87 653.6,88.4 654.5,89.9 655,91.3 654.8,92.7 653.9,94.1 652.7,95.4 651.4,96.5 650.2,97.4 648.8,98.1 647.4,98.8 645.8,99.4 644.2,99.9 642.6,100.4 641,101 639.4,101.5 637.9,102.1 636.3,102.6 634.8,103.1 633.2,103.6 631.7,104.1 630.1,104.6 628.6,105.1 627,105.6 625.5,106.2 624,106.7 622.5,107.3 621,108 619.5,108.7 618,109.4 616.4,110.2 614.9,111 613.5,111.9 612.3,112.9 611.2,114 610.4,115.2 609.7,116.6 609,118.2 608.6,119.9 608.4,121.5 608.3,123.1 608.3,124.7 608.2,126.3 608.1,128 608.1,129.6 608,131.2 607.8,132.9 607.7,134.5 607.6,136.1 607.4,137.7 607.2,139.3 607,141 606.8,142.6 606.6,144.2 606.4,145.8 606.1,147.4 605.9,149 605.6,150.6 605.3,152.2 604.9,153.8 604.5,155.4 604.1,156.9 603.7,158.5 603.2,160.1 602.7,161.6 602.2,163.2 601.7,164.7 601,166.2 600.3,167.6 599.6,169.1 599,170.6 598.4,172.1 597.9,173.7 597.5,175.2 597.1,176.8 596.7,178.4" stroke="#333" stroke-width="0.9" fill="none"/>
<path d="M596.7,217.2L597.5,218.4 598.3,219.5 599.2,220.7 600,221.9 600.8,223 601.7,224.2 602.6,225.3 603.4,226.4 604.4,227.5 605.3,228.6 606.3,229.7 607.3,230.7 608.3,231.8 609.1,232.9 609.8,234.1 610.4,235.4 610.9,236.7 611.5,238.1 611.9,239.4 612.3,240.8 612.6,242.2 612.8,243.6 612.9,245 613,246.5 613.1,247.9 613.2,249.4 613.3,250.8 613.4,252.2 613.6,253.6 613.9,254.9 614.3,256.3 614.8,257.6 615.4,258.9 616,260.3 616.6,261.6 617.3,262.9 617.9,264.2 618.5,265.5 619.1,266.8 619.7,268.1 620.3,269.4 620.9,270.6 621.6,271.9 622.2,273.2 622.9,274.5 623.6,275.7 624.2,277 624.9,278.2 625.6,279.5 626.3,280.7 627.1,282 627.8,283.2 628.6,284.4 629.4,285.6 630.2,286.8 631,287.9 631.9,289 632.9,290 633.9,291 635,292 636.1,292.9 637.1,293.9 638.2,294.9 639.1,295.9 640.1,297 641,298.1 642,299.2 642.9,300.4 643.8,301.6 644.6,302.8 645.2,304 645.6,305.3 645.9,306.7 646,308.1 646.2,309.6 646.2,311 645.9,312.3 645.4,313.6 644.7,314.9 643.8,316.2 643,317.4 642.2,318.5 641.3,319.6 640.3,320.7 639.3,321.7 638.2,322.6 637.1,323.6 636.1,324.6 635,325.6 634,326.6 632.8,327.5 631.6,328.5 630.5,329.5 629.5,330.5 628.8,331.6 628.3,332.8 627.8,334.1 627.4,335.4 627.1,336.9 626.8,338.4 626.6,339.8 626.6,341.2 626.6,342.6 626.7,344.1 626.7,345.5 626.8,346.9 626.9,348.3 627,349.8 627.1,351.2 627.2,352.6 627.3,354.1 627.5,355.5 627.6,356.9 627.7,358.3 627.9,359.7 628.1,361.2 628.2,362.6 628.4,364 628.6,365.4" stroke="#333" stroke-width="0.9" fill="none"/>
<path d="M308.2,477.7L308,480.7 307.8,483.7 307.6,486.7 307.5,489.7 307.3,492.7 307.1,495.7 306.9,498.7 306.8,501.7 306.6,504.7 306.4,507.7 306.3,510.8 306.1,513.8 305.9,516.8 305.7,519.8 305.5,522.8 305.3,525.8 305.2,528.8 305,531.8 304.8,534.8 304.7,537.8 304.6,540.8 304.5,543.8 304.5,546.8 304.6,549.9 304.7,552.9 304.9,555.9 305.1,558.9 305.4,561.8 306.1,564.7 307.2,567.6 308.1,570.5 309,573.4 309.9,576.3 310.3,579.2 310.1,582.3 309.6,585.3 309,588.2 307.9,590.8 306.3,593.4 304.4,595.9 302.6,598.4 301.1,601 299.5,603.5 297.9,606.1 296.4,608.7 295,611.3 293.5,614 292.1,616.7 290.7,619.3 289.5,622.1 288.3,624.8 287.3,627.7 286.2,630.5 285.3,633.4 284.5,636.3 283.7,639.2 283,642.1 282.5,645.1 282.5,648.1 282.9,651.1 283.6,654 284.2,657 285,659.9 285.9,662.7 287,665.6 288.1,668.4 289.2,671.2 290.5,673.9 291.9,676.6 293.4,679.2 294.9,681.8 296.6,684.3 298.4,686.6 300.4,688.9 302.4,691.1 304.5,693.3 306.6,695.5 308.8,697.7 311.1,699.7 313.4,701.8 315.4,703.9 317.1,706.3 318.6,709 319.8,711.9 320.2,714.7 319.6,717.6 318.6,720.6 317.5,723.4 316.2,726.1 314.6,728.8 313.2,731.4 312.4,734.3 311.7,737.2 311.4,740.2 311.4,743.2 311.5,746.2 311.5,749.2 311.6,752.2 311.7,755.3 311.8,758.3 311.9,761.3 312,764.3 312.1,767.3 312.2,770.3 312.4,773.3 312.5,776.3 312.6,779.3 312.8,782.3 312.9,785.4 313.1,788.4 313.2,791.4 313.4,794.4 313.6,797.4 313.7,800.4 313.9,803.4 314.1,806.4 314.3,809.4 314.5,812.4 314.7,815.4" stroke="#333" stroke-width="0.9" fill="none"/>
<path d="M623.1,477.7L623,479.1 622.9,480.5 622.8,481.9 622.7,483.3 622.6,484.7 622.5,486.1 622.4,487.5 622.3,488.9 622.2,490.3 622.1,491.7 622.1,493.1 622,494.5 621.9,495.9 621.8,497.3 621.7,498.7 621.7,500.1 621.6,501.5 621.5,502.9 621.4,504.3 621.4,505.7 621.3,507.1 621.3,508.5 621.2,509.9 621.1,511.3 621.1,512.7 621,514.1 621,515.5 621,516.9 620.9,518.3 620.9,519.7 620.8,521.1 620.8,522.5 620.7,523.9 620.7,525.3 620.6,526.7 620.6,528.1 620.6,529.5 620.5,530.9 620.5,532.3 620.4,533.7 620.4,535.1 620.4,536.5 620.4,537.9 620.3,539.3 620.3,540.7 620.3,542.1 620.3,543.5 620.3,544.9 620.3,546.3 620.3,547.7 620.4,549.1 620.5,550.5 620.7,551.9 620.8,553.3 621,554.7 621.2,556 621.4,557.4 621.6,558.8 622,560.1 622.4,561.4 622.9,562.8 623.4,564.1 624,565.4 624.5,566.7 624.9,568 625.3,569.4 625.6,570.7 625.9,572.1 626.2,573.5 626.5,574.9 626.6,576.3 626.6,577.7 626.4,579.1 626.1,580.4 625.7,581.8 625.3,583.2 624.8,584.5 624.3,585.7 623.7,586.9 623,588.1 622.2,589.3 621.3,590.5 620.5,591.6 619.6,592.8 618.8,593.9 618.1,595.1 617.4,596.3 616.6,597.5 615.9,598.7 615.2,599.9 614.5,601.1 613.8,602.3 613.1,603.5 612.3,604.8 611.6,606 611,607.2 610.3,608.4 609.6,609.6 608.9,610.8 608.2,612.1 607.5,613.3 606.9,614.5 606.2,615.8 605.6,617 604.9,618.2 604.2,619.5 603.6,620.7 602.9,622 602.3,623.2 601.6,624.4 601,625.7 600.3,626.9 599.7,628.2 599.1,629.4 598.5,630.7 598,632 597.5,633.3 597.1,634.6 596.7,636" stroke="#333" stroke-width="0.9" fill="none"/>
<path d="M596.7,656.4L597,657.8 597.4,659.3 597.8,660.7 598.2,662.1 598.7,663.5 599.1,664.9 599.6,666.2 600.2,667.6 600.8,668.9 601.4,670.2 602,671.5 602.7,672.8 603.5,674.1 604.2,675.4 605,676.7 605.7,677.9 606.5,679.2 607.3,680.4 608.1,681.7 608.8,682.9 609.7,684.1 610.5,685.3 611.3,686.6 612.2,687.8 613.1,688.9 614,690.1 614.9,691.3 615.8,692.4 616.7,693.5 617.7,694.5 618.7,695.6 619.8,696.6 620.9,697.5 622.1,698.4 623.2,699.4 624.4,700.3 625.5,701.2 626.6,702.2 627.7,703.2 628.7,704.2 629.8,705.3 630.8,706.4 631.9,707.5 632.9,708.6 633.8,709.7 634.5,710.9 635.1,712.2 635.6,713.6 636.1,715 636.5,716.5 636.6,717.9 636.5,719.3 636.3,720.8 635.9,722.2 635.5,723.7 635,725.1 634.6,726.4 633.9,727.7 633.1,729 632.3,730.2 631.4,731.4 630.6,732.7 630,734 629.4,735.3 628.7,736.7 628.1,738 627.6,739.4 627.1,740.8 626.9,742.2 626.8,743.7 626.7,745.1 626.7,746.6 626.7,748 626.6,749.5 626.6,751 626.6,752.5 626.6,753.9 626.6,755.4 626.6,756.9 626.6,758.3 626.7,759.8 626.7,761.3 626.8,762.7 626.8,764.2 626.9,765.7 627,767.1 627.1,768.6 627.1,770 627.2,771.5 627.3,773 627.4,774.4 627.5,775.9 627.6,777.4 627.7,778.8 627.8,780.3 627.8,781.8 627.9,783.2 628,784.7 628.1,786.1 628.2,787.6 628.2,789.1 628.3,790.5 628.4,792 628.5,793.5 628.6,794.9 628.7,796.4 628.7,797.8 628.8,799.3 628.9,800.8 629,802.2 629.1,803.7 629.2,805.2 629.3,806.6 629.3,808.1 629.4,809.6 629.5,811 629.6,812.5 629.7,813.9 629.8,815.4" stroke="#333" stroke-width="0.9" fill="none"/>
<path d="M132.9,192.1L246.6,192.1" stroke="#222" stroke-width="1.1" fill="none"/>
<path d="M191.6,202.6L218.5,202.6" stroke="#666" stroke-width="1.1" fill="none"/>
<path d="M192.1,245.8L246.6,245.8" stroke="#222" stroke-width="1.1" fill="none"/>
<path d="M204.2,212.3V236.1" stroke="#222" stroke-width="1.2" fill="none"/><path d="M204.2,202.8l3.5,10.5h-7.0zM204.2,245.6l3.5,-10.5h-7.0z" fill="#222"/>
<path d="M224.3,201.8V238.3" stroke="#222" stroke-width="1.2" fill="none"/><path d="M224.3,192.3l3.5,10.5h-7.0zM224.3,247.8l3.5,-10.5h-7.0z" fill="#222"/>
<text x="185" y="230.5" font-size="23" font-style="italic" font-family="'Liberation Serif', 'DejaVu Serif', serif" text-anchor="start">ε</text>
<text x="227.5" y="230" font-size="20.5" text-anchor="start"><tspan font-family="'Liberation Serif', 'DejaVu Serif', serif" font-size="22">δ</tspan><tspan font-style="italic">E</tspan><tspan font-style="italic" font-size="13" dy="7.5">D</tspan></text>
<path d="M508.2,170.8L571.3,170.8" stroke="#222" stroke-width="1.1" fill="none"/>
<path d="M429,225.3L542.1,225.3" stroke="#444" stroke-width="1.1" fill="none"/>
<path d="M508.2,264.4L569.5,264.4" stroke="#222" stroke-width="1.1" fill="none"/>
<path d="M533.4,180.5V215.7" stroke="#222" stroke-width="1.2" fill="none"/><path d="M533.4,171l3.5,10.5h-7.0zM533.4,225.2l3.5,-10.5h-7.0z" fill="#222"/>
<path d="M548.2,180.5V254.7" stroke="#222" stroke-width="1.2" fill="none"/><path d="M548.2,171l3.5,10.5h-7.0zM548.2,264.2l3.5,-10.5h-7.0z" fill="#222"/>
<text x="506" y="202.3" font-size="20.5" text-anchor="start"><tspan font-style="italic">E</tspan><tspan font-style="italic" font-size="13.5" dx="0.5" dy="8.5">g</tspan></text>
<text x="554" y="226.5" font-size="23" font-style="italic" font-family="'Liberation Serif', 'DejaVu Serif', serif" text-anchor="start">ε</text>
<path d="M109.4,641.8L208.6,641.8" stroke="#444" stroke-width="1.1" fill="none"/>
<path d="M109.4,653.3L208.6,653.3" stroke="#444" stroke-width="1.1" fill="none"/>
<text x="211.5" y="652.5" font-size="20.5" text-anchor="start"><tspan font-family="'Liberation Serif', 'DejaVu Serif', serif" font-size="23" font-style="italic">ε</tspan><tspan dx="5.5">=</tspan><tspan font-style="italic" dx="1.5">E</tspan><tspan font-style="italic" font-size="13.5" dx="0.5" dy="8.5">g</tspan></text>
<text x="99.4" y="388.7" font-size="20" text-anchor="middle" >-0.02</text>
<text x="168" y="388.7" font-size="20" text-anchor="middle" >0.00</text>
<text x="233.6" y="388.7" font-size="20" text-anchor="middle" >0.02</text>
<text x="61.9" y="68.2" font-size="20" text-anchor="end" >0.2</text>
<text x="61.9" y="203.2" font-size="20" text-anchor="end" >0.0</text>
<text x="61.9" y="338.2" font-size="20" text-anchor="end" >-0.2</text>
<text x="414.5" y="388.7" font-size="20" text-anchor="middle" >-0.02</text>
<text x="482.7" y="388.7" font-size="20" text-anchor="middle" >0.00</text>
<text x="547.9" y="388.7" font-size="20" text-anchor="middle" >0.02</text>
<text x="99.4" y="838.7" font-size="20" text-anchor="middle" >-0.01</text>
<text x="168" y="838.7" font-size="20" text-anchor="middle" >0.00</text>
<text x="233.6" y="838.7" font-size="20" text-anchor="middle" >0.01</text>
<text x="61.9" y="541.2" font-size="20" text-anchor="end" >0.1</text>
<text x="61.9" y="653.5" font-size="20" text-anchor="end" >0.0</text>
<text x="61.9" y="765.8" font-size="20" text-anchor="end" >-0.1</text>
<text x="414.3" y="838.7" font-size="20" text-anchor="middle" >-0.01</text>
<text x="482.6" y="838.7" font-size="20" text-anchor="middle" >0.00</text>
<text x="547.9" y="838.7" font-size="20" text-anchor="middle" >0.01</text>
<text x="281.9" y="388.7" font-size="20" text-anchor="middle" >0.0</text>
<text x="334.3" y="388.7" font-size="20" text-anchor="middle" >0.1</text>
<text x="320.8" y="416.2" font-size="20" text-anchor="middle" >DOS</text>
<text x="596.7" y="388.7" font-size="20" text-anchor="middle" >0.0</text>
<text x="648.7" y="388.7" font-size="20" text-anchor="middle" >0.1</text>
<text x="635.4" y="416.2" font-size="20" text-anchor="middle" >DOS</text>
<text x="281.9" y="838.7" font-size="20" text-anchor="middle" >0.0</text>
<text x="361" y="838.7" font-size="20" text-anchor="middle" >0.1</text>
<text x="321.4" y="866.2" font-size="20" text-anchor="middle" >DOS</text>
<text x="596.7" y="838.7" font-size="20" text-anchor="middle" >0.0</text>
<text x="674.6" y="838.7" font-size="20" text-anchor="middle" >0.1</text>
<text x="635.7" y="866.2" font-size="20" text-anchor="middle" >DOS</text>
<text x="68.7" y="21.9" font-size="30" text-anchor="start" font-weight="bold">a</text>
<text x="113.5" y="21.7" font-size="22.8" text-anchor="start" >1 V/nm</text>
<text x="385" y="21.9" font-size="30" text-anchor="start" font-weight="bold">b</text>
<text x="430" y="21.7" font-size="22.8" text-anchor="start" >3 V/nm</text>
<text x="69.4" y="472" font-size="30" text-anchor="start" font-weight="bold">c</text>
<text x="113" y="471.8" font-size="22.8" text-anchor="start" >0.05 V/nm</text>
<text x="387.6" y="472" font-size="30" text-anchor="start" font-weight="bold">d</text>
<text x="432.6" y="471.8" font-size="22.8" text-anchor="start" >0.5 V/nm</text>
<text x="150.5" y="418.3" font-size="26" text-anchor="start" font-style="italic"><tspan font-family="'Liberation Serif', 'DejaVu Serif', serif" font-size="27">δ</tspan><tspan dx="-1.5">k</tspan><tspan font-size="16" dy="9.5">x</tspan></text>
<text x="465.2" y="418.3" font-size="26" text-anchor="start" font-style="italic"><tspan font-family="'Liberation Serif', 'DejaVu Serif', serif" font-size="27">δ</tspan><tspan dx="-1.5">k</tspan><tspan font-size="16" dy="9.5">x</tspan></text>
<text x="150.5" y="868.3" font-size="26" text-anchor="start" font-style="italic"><tspan font-family="'Liberation Serif', 'DejaVu Serif', serif" font-size="27">δ</tspan><tspan dx="-1.5">k</tspan><tspan font-size="16" dy="9.5">x</tspan></text>
<text x="465.1" y="868.3" font-size="26" text-anchor="start" font-style="italic"><tspan font-family="'Liberation Serif', 'DejaVu Serif', serif" font-size="27">δ</tspan><tspan dx="-1.5">k</tspan><tspan font-size="16" dy="9.5">x</tspan></text>
<text transform="translate(19.6,264) rotate(-90)" font-size="26.4" text-anchor="start"><tspan font-style="italic">E-E</tspan><tspan font-style="italic" font-size="16" dy="7.5">F</tspan><tspan dy="-7.5"> (eV)</tspan></text>
<text transform="translate(19.6,714.3) rotate(-90)" font-size="26.4" text-anchor="start"><tspan font-style="italic">E-E</tspan><tspan font-style="italic" font-size="16" dy="7.5">F</tspan><tspan dy="-7.5"> (eV)</tspan></text>
</svg>
</body></html>
